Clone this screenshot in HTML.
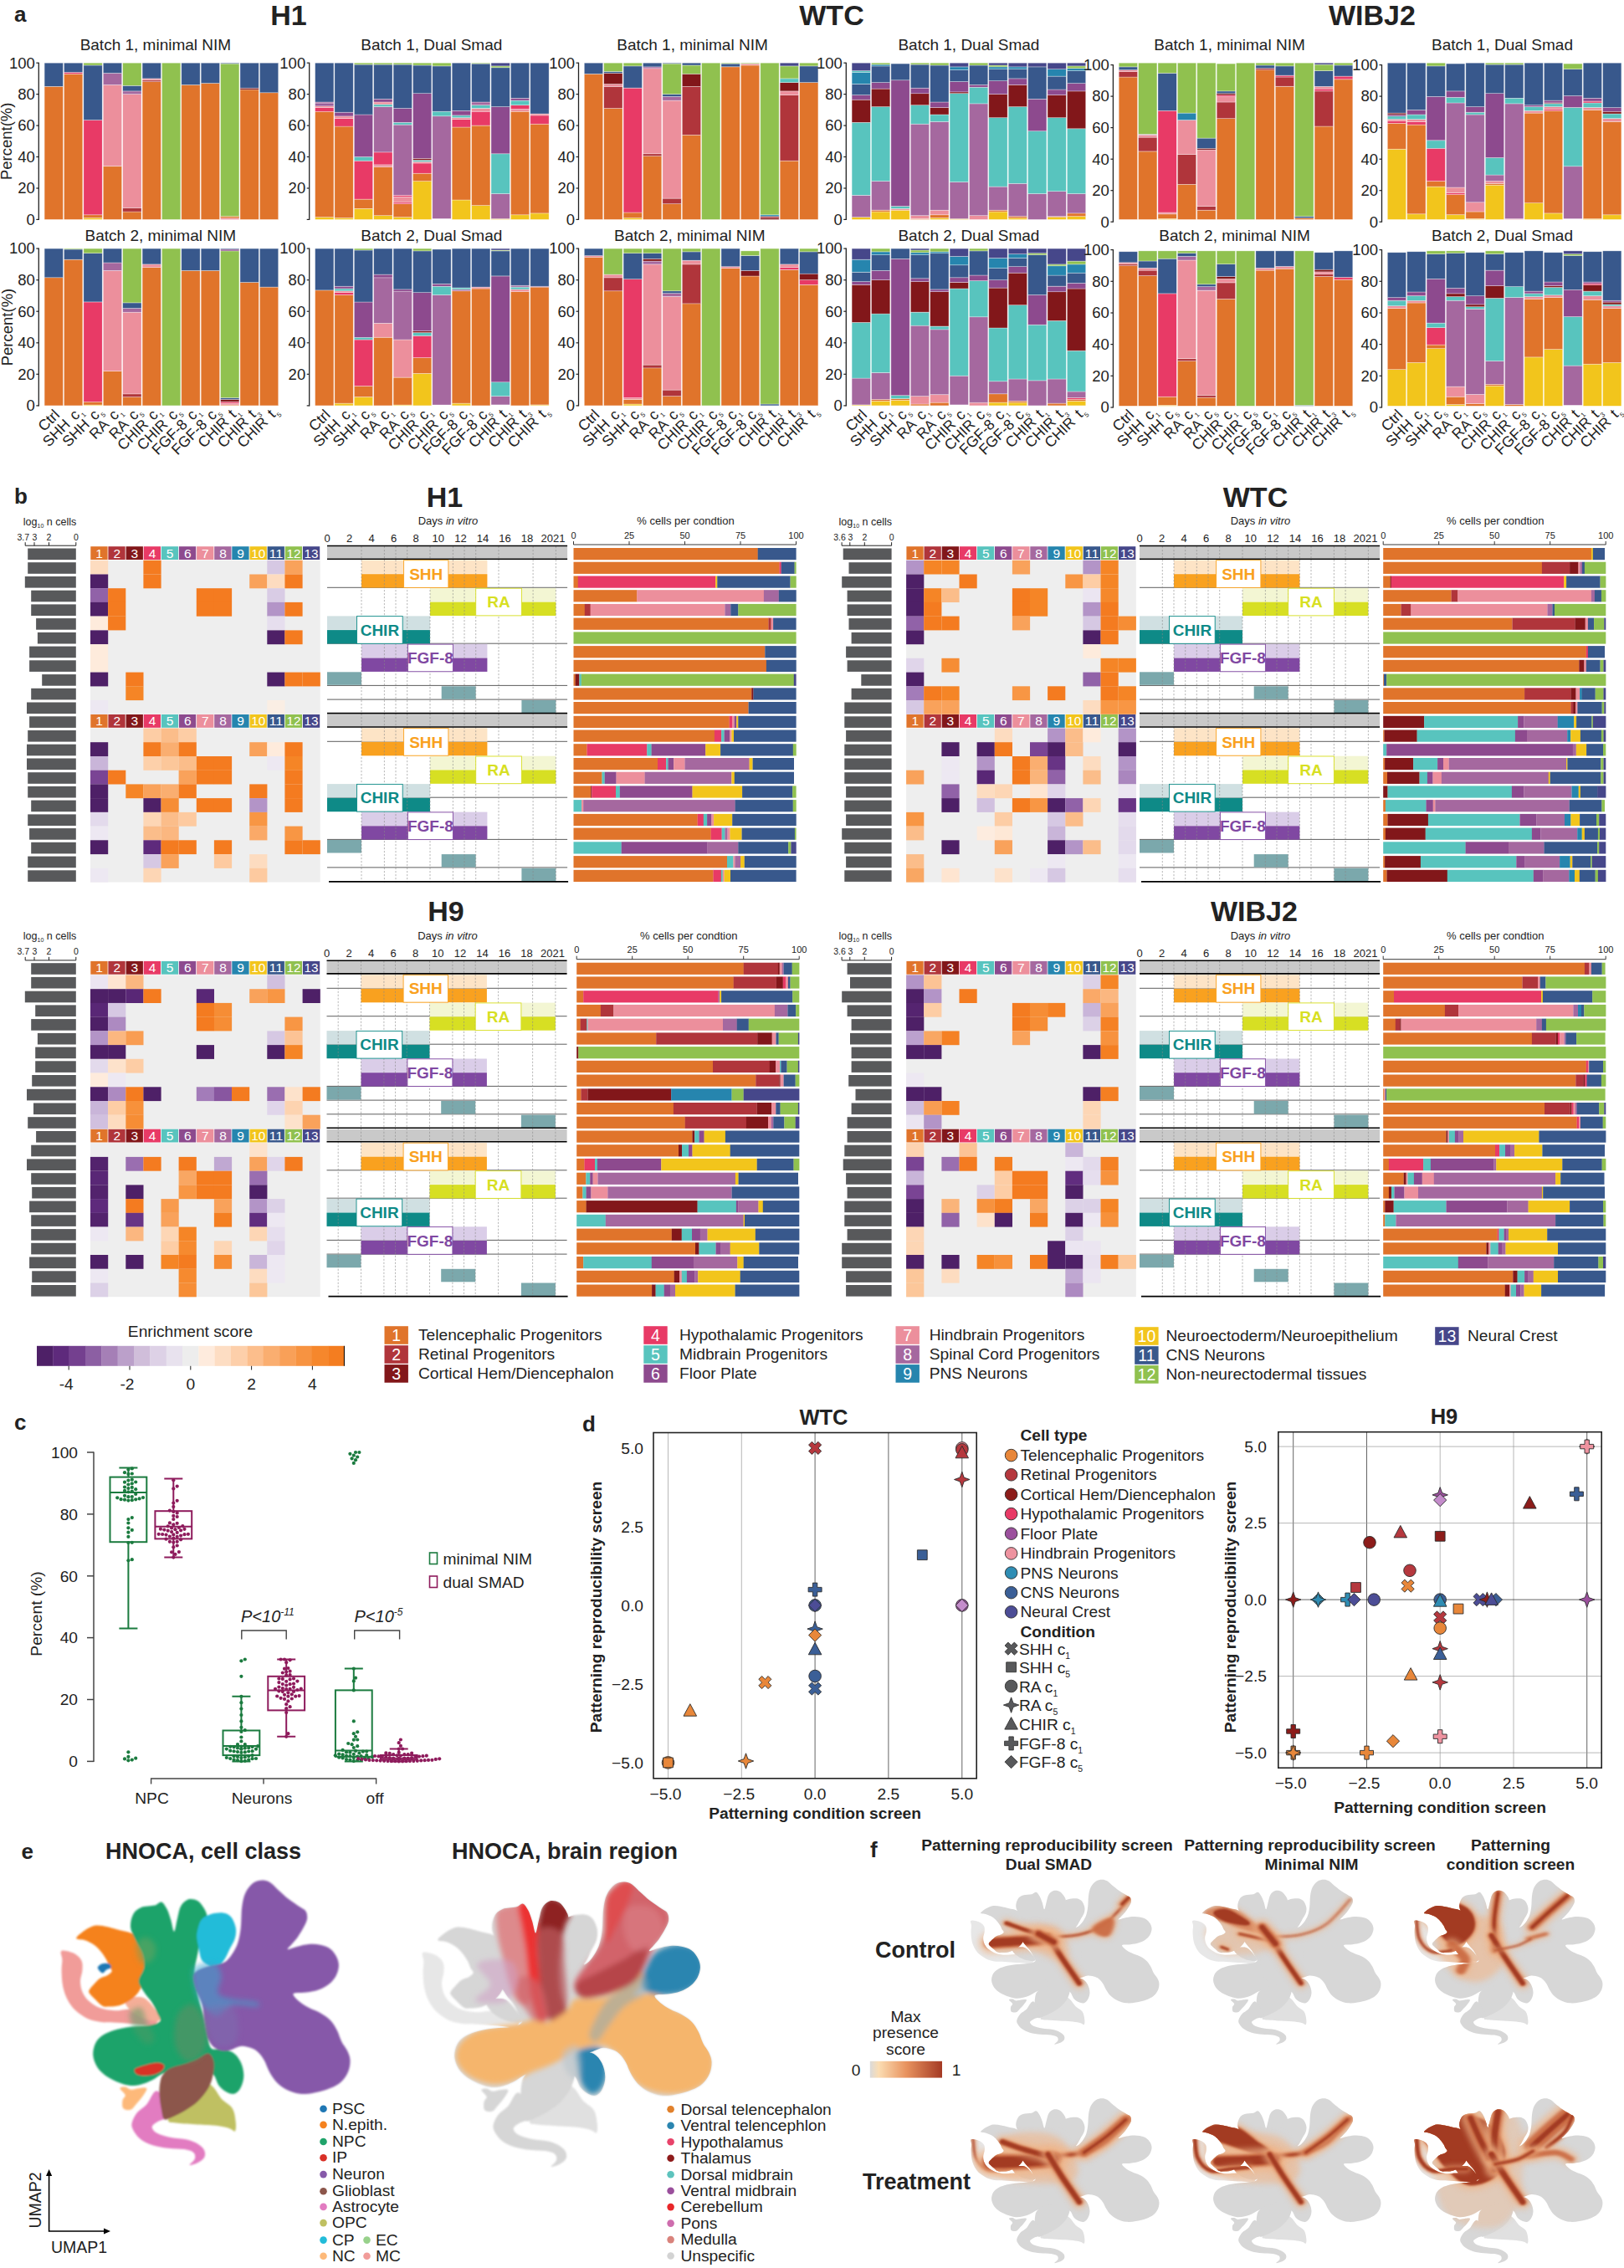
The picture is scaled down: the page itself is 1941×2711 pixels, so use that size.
<!DOCTYPE html><html><head><meta charset="utf-8"><title>Figure</title><style>html,body{margin:0;padding:0;background:#fff}svg{display:block}text{font-family:"Liberation Sans",sans-serif;fill:#222}.o{fill:#E0742B}.r{fill:#B0353B}.d{fill:#82171A}.h{fill:#E83A66}.t{fill:#58C4BE}.f{fill:#8D4A8E}.k{fill:#EC8F9C}.s{fill:#A5689F}.p{fill:#2685AE}.y{fill:#F2C51C}.b{fill:#38588C}.g{fill:#90C14F}.c{fill:#46478A}.w{fill:#FFFFFF}</style></head><body><svg width="1941" height="2711" viewBox="0 0 1941 2711"><g stroke="#fff" stroke-opacity=".55" stroke-width="0.6">
<rect x="53.1" y="103.3" width="22.3" height="159.1" class="o"/>
<rect x="53.1" y="75.2" width="22.3" height="28.1" class="b"/>
<rect x="76.5" y="88.3" width="22.3" height="174.1" class="o"/>
<rect x="76.5" y="86.4" width="22.3" height="1.9" class="h"/>
<rect x="76.5" y="75.2" width="22.3" height="11.2" class="b"/>
<rect x="99.9" y="260.5" width="22.3" height="1.9" class="y"/>
<rect x="99.9" y="256.8" width="22.3" height="3.7" class="o"/>
<rect x="99.9" y="143.5" width="22.3" height="113.3" class="h"/>
<rect x="99.9" y="78" width="22.3" height="65.5" class="b"/>
<rect x="99.9" y="75.2" width="22.3" height="2.8" class="g"/>
<rect x="123.3" y="198.8" width="22.3" height="63.6" class="o"/>
<rect x="123.3" y="101.4" width="22.3" height="97.3" class="k"/>
<rect x="123.3" y="87.4" width="22.3" height="14" class="s"/>
<rect x="123.3" y="75.2" width="22.3" height="12.2" class="b"/>
<rect x="146.7" y="253" width="22.3" height="9.4" class="o"/>
<rect x="146.7" y="248.4" width="22.3" height="4.7" class="r"/>
<rect x="146.7" y="112.6" width="22.3" height="135.7" class="k"/>
<rect x="146.7" y="108.9" width="22.3" height="3.7" class="s"/>
<rect x="146.7" y="102.3" width="22.3" height="6.6" class="b"/>
<rect x="146.7" y="75.2" width="22.3" height="27.1" class="g"/>
<rect x="170.1" y="97.7" width="22.3" height="164.7" class="o"/>
<rect x="170.1" y="95.8" width="22.3" height="1.9" class="r"/>
<rect x="170.1" y="93.9" width="22.3" height="1.9" class="k"/>
<rect x="170.1" y="75.2" width="22.3" height="18.7" class="b"/>
<rect x="193.5" y="75.2" width="22.3" height="187.2" class="g"/>
<rect x="216.8" y="101.4" width="22.3" height="161" class="o"/>
<rect x="216.8" y="75.2" width="22.3" height="26.2" class="b"/>
<rect x="240.2" y="99.5" width="22.3" height="162.9" class="o"/>
<rect x="240.2" y="75.2" width="22.3" height="24.3" class="b"/>
<rect x="263.6" y="260.5" width="22.3" height="1.9" class="k"/>
<rect x="263.6" y="258.7" width="22.3" height="1.9" class="o"/>
<rect x="263.6" y="76.1" width="22.3" height="182.5" class="g"/>
<rect x="263.6" y="75.2" width="22.3" height="0.9" class="b"/>
<rect x="287" y="107" width="22.3" height="155.4" class="o"/>
<rect x="287" y="105.2" width="22.3" height="1.9" class="d"/>
<rect x="287" y="75.2" width="22.3" height="30" class="b"/>
<rect x="310.4" y="110.8" width="22.3" height="151.6" class="o"/>
<rect x="310.4" y="75.2" width="22.3" height="35.6" class="b"/>
<rect x="53.1" y="331.8" width="22.3" height="153.1" class="o"/>
<rect x="53.1" y="297.1" width="22.3" height="34.7" class="b"/>
<rect x="76.5" y="310.2" width="22.3" height="174.7" class="o"/>
<rect x="76.5" y="298" width="22.3" height="12.2" class="b"/>
<rect x="76.5" y="297.1" width="22.3" height="0.9" class="g"/>
<rect x="99.9" y="484" width="22.3" height="0.9" class="y"/>
<rect x="99.9" y="480.2" width="22.3" height="3.8" class="o"/>
<rect x="99.9" y="361" width="22.3" height="119.3" class="h"/>
<rect x="99.9" y="302.7" width="22.3" height="58.2" class="b"/>
<rect x="99.9" y="297.1" width="22.3" height="5.6" class="g"/>
<rect x="123.3" y="443.6" width="22.3" height="41.3" class="o"/>
<rect x="123.3" y="323.4" width="22.3" height="120.2" class="k"/>
<rect x="123.3" y="314" width="22.3" height="9.4" class="s"/>
<rect x="123.3" y="297.1" width="22.3" height="16.9" class="b"/>
<rect x="146.7" y="474.6" width="22.3" height="10.3" class="o"/>
<rect x="146.7" y="470.8" width="22.3" height="3.8" class="r"/>
<rect x="146.7" y="373.2" width="22.3" height="97.7" class="k"/>
<rect x="146.7" y="368.5" width="22.3" height="4.7" class="s"/>
<rect x="146.7" y="361.9" width="22.3" height="6.6" class="b"/>
<rect x="146.7" y="297.1" width="22.3" height="64.8" class="g"/>
<rect x="170.1" y="319.6" width="22.3" height="165.3" class="o"/>
<rect x="170.1" y="315.9" width="22.3" height="3.8" class="k"/>
<rect x="170.1" y="297.1" width="22.3" height="18.8" class="b"/>
<rect x="193.5" y="297.1" width="22.3" height="187.8" class="g"/>
<rect x="216.8" y="323.4" width="22.3" height="161.5" class="o"/>
<rect x="216.8" y="297.1" width="22.3" height="26.3" class="b"/>
<rect x="240.2" y="323.4" width="22.3" height="161.5" class="o"/>
<rect x="240.2" y="297.1" width="22.3" height="26.3" class="b"/>
<rect x="263.6" y="484" width="22.3" height="0.9" class="o"/>
<rect x="263.6" y="482.1" width="22.3" height="1.9" class="k"/>
<rect x="263.6" y="480.2" width="22.3" height="1.9" class="h"/>
<rect x="263.6" y="477.4" width="22.3" height="2.8" class="d"/>
<rect x="263.6" y="475.5" width="22.3" height="1.9" class="b"/>
<rect x="263.6" y="299.9" width="22.3" height="175.6" class="g"/>
<rect x="263.6" y="298" width="22.3" height="1.9" class="f"/>
<rect x="263.6" y="297.1" width="22.3" height="0.9" class="b"/>
<rect x="287" y="337.5" width="22.3" height="147.4" class="o"/>
<rect x="287" y="297.1" width="22.3" height="40.4" class="b"/>
<rect x="310.4" y="343.1" width="22.3" height="141.8" class="o"/>
<rect x="310.4" y="297.1" width="22.3" height="46" class="b"/>
<rect x="376.6" y="259.6" width="22.3" height="2.8" class="y"/>
<rect x="376.6" y="133.2" width="22.3" height="126.4" class="o"/>
<rect x="376.6" y="128.6" width="22.3" height="4.7" class="h"/>
<rect x="376.6" y="126.7" width="22.3" height="1.9" class="k"/>
<rect x="376.6" y="123.9" width="22.3" height="2.8" class="f"/>
<rect x="376.6" y="122" width="22.3" height="1.9" class="s"/>
<rect x="376.6" y="75.2" width="22.3" height="46.8" class="b"/>
<rect x="399.9" y="260.5" width="22.3" height="1.9" class="y"/>
<rect x="399.9" y="151" width="22.3" height="109.5" class="o"/>
<rect x="399.9" y="141.7" width="22.3" height="9.4" class="h"/>
<rect x="399.9" y="138.8" width="22.3" height="2.8" class="k"/>
<rect x="399.9" y="134.2" width="22.3" height="4.7" class="f"/>
<rect x="399.9" y="75.2" width="22.3" height="59" class="b"/>
<rect x="423.3" y="249.3" width="22.3" height="13.1" class="y"/>
<rect x="423.3" y="238.1" width="22.3" height="11.2" class="o"/>
<rect x="423.3" y="192.2" width="22.3" height="45.9" class="h"/>
<rect x="423.3" y="187.5" width="22.3" height="4.7" class="t"/>
<rect x="423.3" y="137" width="22.3" height="50.5" class="f"/>
<rect x="423.3" y="77.1" width="22.3" height="59.9" class="b"/>
<rect x="423.3" y="75.2" width="22.3" height="1.9" class="g"/>
<rect x="446.7" y="257.7" width="22.3" height="4.7" class="y"/>
<rect x="446.7" y="199.7" width="22.3" height="58" class="o"/>
<rect x="446.7" y="196.9" width="22.3" height="2.8" class="k"/>
<rect x="446.7" y="181.9" width="22.3" height="15" class="h"/>
<rect x="446.7" y="127.6" width="22.3" height="54.3" class="s"/>
<rect x="446.7" y="124.8" width="22.3" height="2.8" class="t"/>
<rect x="446.7" y="122" width="22.3" height="2.8" class="k"/>
<rect x="446.7" y="118.3" width="22.3" height="3.7" class="f"/>
<rect x="446.7" y="77.1" width="22.3" height="41.2" class="b"/>
<rect x="446.7" y="75.2" width="22.3" height="1.9" class="g"/>
<rect x="470.1" y="259.6" width="22.3" height="2.8" class="y"/>
<rect x="470.1" y="243.7" width="22.3" height="15.9" class="o"/>
<rect x="470.1" y="241.8" width="22.3" height="1.9" class="h"/>
<rect x="470.1" y="235.3" width="22.3" height="6.6" class="k"/>
<rect x="470.1" y="233.4" width="22.3" height="1.9" class="h"/>
<rect x="470.1" y="149.1" width="22.3" height="84.2" class="s"/>
<rect x="470.1" y="146.3" width="22.3" height="2.8" class="t"/>
<rect x="470.1" y="129.5" width="22.3" height="16.8" class="f"/>
<rect x="470.1" y="77.1" width="22.3" height="52.4" class="b"/>
<rect x="470.1" y="75.2" width="22.3" height="1.9" class="g"/>
<rect x="493.5" y="216.5" width="22.3" height="45.9" class="y"/>
<rect x="493.5" y="207.2" width="22.3" height="9.4" class="o"/>
<rect x="493.5" y="195" width="22.3" height="12.2" class="h"/>
<rect x="493.5" y="193.1" width="22.3" height="1.9" class="k"/>
<rect x="493.5" y="191.3" width="22.3" height="1.9" class="t"/>
<rect x="493.5" y="189.4" width="22.3" height="1.9" class="d"/>
<rect x="493.5" y="111.7" width="22.3" height="77.7" class="f"/>
<rect x="493.5" y="78" width="22.3" height="33.7" class="b"/>
<rect x="493.5" y="75.2" width="22.3" height="2.8" class="g"/>
<rect x="516.8" y="138.8" width="22.3" height="122.6" class="s"/>
<rect x="516.8" y="133.2" width="22.3" height="5.6" class="t"/>
<rect x="516.8" y="78.9" width="22.3" height="54.3" class="b"/>
<rect x="516.8" y="75.2" width="22.3" height="3.7" class="g"/>
<rect x="540.2" y="239" width="22.3" height="23.4" class="y"/>
<rect x="540.2" y="152" width="22.3" height="87" class="o"/>
<rect x="540.2" y="142.6" width="22.3" height="9.4" class="h"/>
<rect x="540.2" y="140.7" width="22.3" height="1.9" class="k"/>
<rect x="540.2" y="137.9" width="22.3" height="2.8" class="t"/>
<rect x="540.2" y="132.3" width="22.3" height="5.6" class="f"/>
<rect x="540.2" y="75.2" width="22.3" height="57.1" class="b"/>
<rect x="563.6" y="245.6" width="22.3" height="16.8" class="y"/>
<rect x="563.6" y="150.1" width="22.3" height="95.5" class="o"/>
<rect x="563.6" y="133.2" width="22.3" height="16.8" class="h"/>
<rect x="563.6" y="129.5" width="22.3" height="3.7" class="k"/>
<rect x="563.6" y="125.7" width="22.3" height="3.7" class="t"/>
<rect x="563.6" y="122" width="22.3" height="3.7" class="s"/>
<rect x="563.6" y="76.1" width="22.3" height="45.9" class="b"/>
<rect x="563.6" y="75.2" width="22.3" height="0.9" class="g"/>
<rect x="587" y="261.5" width="22.3" height="0.9" class="y"/>
<rect x="587" y="231.5" width="22.3" height="30" class="s"/>
<rect x="587" y="183.8" width="22.3" height="47.7" class="t"/>
<rect x="587" y="127.6" width="22.3" height="56.2" class="f"/>
<rect x="587" y="80.8" width="22.3" height="46.8" class="b"/>
<rect x="587" y="78.9" width="22.3" height="1.9" class="g"/>
<rect x="587" y="75.2" width="22.3" height="3.7" class="c"/>
<rect x="610.4" y="256.8" width="22.3" height="5.6" class="y"/>
<rect x="610.4" y="133.2" width="22.3" height="123.6" class="o"/>
<rect x="610.4" y="130.4" width="22.3" height="2.8" class="k"/>
<rect x="610.4" y="125.7" width="22.3" height="4.7" class="h"/>
<rect x="610.4" y="120.1" width="22.3" height="5.6" class="t"/>
<rect x="610.4" y="117.3" width="22.3" height="2.8" class="f"/>
<rect x="610.4" y="75.2" width="22.3" height="42.1" class="b"/>
<rect x="633.8" y="254.9" width="22.3" height="7.5" class="y"/>
<rect x="633.8" y="148.2" width="22.3" height="106.7" class="o"/>
<rect x="633.8" y="137.9" width="22.3" height="10.3" class="h"/>
<rect x="633.8" y="136" width="22.3" height="1.9" class="k"/>
<rect x="633.8" y="75.2" width="22.3" height="60.8" class="b"/>
<rect x="376.6" y="346.9" width="22.3" height="138" class="o"/>
<rect x="376.6" y="297.1" width="22.3" height="49.8" class="b"/>
<rect x="399.9" y="482.1" width="22.3" height="2.8" class="y"/>
<rect x="399.9" y="352.5" width="22.3" height="129.6" class="o"/>
<rect x="399.9" y="349.7" width="22.3" height="2.8" class="h"/>
<rect x="399.9" y="347.8" width="22.3" height="1.9" class="k"/>
<rect x="399.9" y="345" width="22.3" height="2.8" class="t"/>
<rect x="399.9" y="342.2" width="22.3" height="2.8" class="f"/>
<rect x="399.9" y="297.1" width="22.3" height="45.1" class="b"/>
<rect x="423.3" y="474.6" width="22.3" height="10.3" class="y"/>
<rect x="423.3" y="461.4" width="22.3" height="13.1" class="o"/>
<rect x="423.3" y="406" width="22.3" height="55.4" class="h"/>
<rect x="423.3" y="403.2" width="22.3" height="2.8" class="t"/>
<rect x="423.3" y="361" width="22.3" height="42.3" class="f"/>
<rect x="423.3" y="299" width="22.3" height="62" class="b"/>
<rect x="423.3" y="297.1" width="22.3" height="1.9" class="g"/>
<rect x="446.7" y="403.2" width="22.3" height="81.7" class="o"/>
<rect x="446.7" y="386.3" width="22.3" height="16.9" class="k"/>
<rect x="446.7" y="331.8" width="22.3" height="54.5" class="s"/>
<rect x="446.7" y="328.1" width="22.3" height="3.8" class="f"/>
<rect x="446.7" y="297.1" width="22.3" height="31" class="b"/>
<rect x="470.1" y="484" width="22.3" height="0.9" class="y"/>
<rect x="470.1" y="451.1" width="22.3" height="32.9" class="o"/>
<rect x="470.1" y="406" width="22.3" height="45.1" class="k"/>
<rect x="470.1" y="348.7" width="22.3" height="57.3" class="s"/>
<rect x="470.1" y="345.9" width="22.3" height="2.8" class="f"/>
<rect x="470.1" y="297.1" width="22.3" height="48.8" class="b"/>
<rect x="493.5" y="446.4" width="22.3" height="38.5" class="y"/>
<rect x="493.5" y="427.6" width="22.3" height="18.8" class="o"/>
<rect x="493.5" y="401.3" width="22.3" height="26.3" class="h"/>
<rect x="493.5" y="397.6" width="22.3" height="3.8" class="t"/>
<rect x="493.5" y="395.7" width="22.3" height="1.9" class="d"/>
<rect x="493.5" y="349.7" width="22.3" height="46" class="f"/>
<rect x="493.5" y="299.9" width="22.3" height="49.8" class="b"/>
<rect x="493.5" y="297.1" width="22.3" height="2.8" class="g"/>
<rect x="516.8" y="352.5" width="22.3" height="131.5" class="s"/>
<rect x="516.8" y="342.2" width="22.3" height="10.3" class="t"/>
<rect x="516.8" y="339.4" width="22.3" height="2.8" class="f"/>
<rect x="516.8" y="298" width="22.3" height="41.3" class="b"/>
<rect x="540.2" y="482.1" width="22.3" height="2.8" class="y"/>
<rect x="540.2" y="347.8" width="22.3" height="134.3" class="o"/>
<rect x="540.2" y="345.9" width="22.3" height="1.9" class="s"/>
<rect x="540.2" y="344.1" width="22.3" height="1.9" class="t"/>
<rect x="540.2" y="297.1" width="22.3" height="46.9" class="b"/>
<rect x="563.6" y="345" width="22.3" height="139.9" class="o"/>
<rect x="563.6" y="343.1" width="22.3" height="1.9" class="k"/>
<rect x="563.6" y="297.1" width="22.3" height="46" class="b"/>
<rect x="587" y="473.6" width="22.3" height="10.3" class="s"/>
<rect x="587" y="456.7" width="22.3" height="16.9" class="t"/>
<rect x="587" y="330" width="22.3" height="126.8" class="f"/>
<rect x="587" y="299.9" width="22.3" height="30" class="b"/>
<rect x="587" y="299" width="22.3" height="0.9" class="g"/>
<rect x="587" y="297.1" width="22.3" height="1.9" class="c"/>
<rect x="610.4" y="348.7" width="22.3" height="136.2" class="o"/>
<rect x="610.4" y="345.9" width="22.3" height="2.8" class="k"/>
<rect x="610.4" y="343.1" width="22.3" height="2.8" class="t"/>
<rect x="610.4" y="341.2" width="22.3" height="1.9" class="s"/>
<rect x="610.4" y="297.1" width="22.3" height="44.1" class="b"/>
<rect x="633.8" y="484" width="22.3" height="0.9" class="y"/>
<rect x="633.8" y="343.1" width="22.3" height="140.8" class="o"/>
<rect x="633.8" y="342.2" width="22.3" height="0.9" class="f"/>
<rect x="633.8" y="297.1" width="22.3" height="45.1" class="b"/>
<rect x="698.3" y="88.3" width="22.3" height="174.1" class="o"/>
<rect x="698.3" y="75.2" width="22.3" height="13.1" class="b"/>
<rect x="721.7" y="129.5" width="22.3" height="132.9" class="o"/>
<rect x="721.7" y="103.3" width="22.3" height="26.2" class="r"/>
<rect x="721.7" y="100.5" width="22.3" height="2.8" class="k"/>
<rect x="721.7" y="87.4" width="22.3" height="13.1" class="d"/>
<rect x="721.7" y="85.5" width="22.3" height="1.9" class="b"/>
<rect x="721.7" y="75.2" width="22.3" height="10.3" class="g"/>
<rect x="745.1" y="260.5" width="22.3" height="1.9" class="y"/>
<rect x="745.1" y="254" width="22.3" height="6.6" class="o"/>
<rect x="745.1" y="105.2" width="22.3" height="148.8" class="h"/>
<rect x="745.1" y="78.9" width="22.3" height="26.2" class="b"/>
<rect x="745.1" y="75.2" width="22.3" height="3.7" class="g"/>
<rect x="768.5" y="186.6" width="22.3" height="75.8" class="o"/>
<rect x="768.5" y="183.8" width="22.3" height="2.8" class="r"/>
<rect x="768.5" y="81.8" width="22.3" height="102" class="k"/>
<rect x="768.5" y="79.9" width="22.3" height="1.9" class="s"/>
<rect x="768.5" y="75.2" width="22.3" height="4.7" class="b"/>
<rect x="791.9" y="243.7" width="22.3" height="18.7" class="o"/>
<rect x="791.9" y="237.1" width="22.3" height="6.6" class="r"/>
<rect x="791.9" y="120.1" width="22.3" height="117" class="k"/>
<rect x="791.9" y="115.4" width="22.3" height="4.7" class="s"/>
<rect x="791.9" y="112.6" width="22.3" height="2.8" class="b"/>
<rect x="791.9" y="76.1" width="22.3" height="36.5" class="g"/>
<rect x="791.9" y="75.2" width="22.3" height="0.9" class="b"/>
<rect x="815.3" y="161.3" width="22.3" height="101.1" class="o"/>
<rect x="815.3" y="103.3" width="22.3" height="58" class="r"/>
<rect x="815.3" y="88.3" width="22.3" height="15" class="d"/>
<rect x="815.3" y="78" width="22.3" height="10.3" class="g"/>
<rect x="815.3" y="75.2" width="22.3" height="2.8" class="b"/>
<rect x="838.6" y="75.2" width="22.3" height="187.2" class="g"/>
<rect x="862" y="79.9" width="22.3" height="182.5" class="o"/>
<rect x="862" y="76.1" width="22.3" height="3.7" class="b"/>
<rect x="862" y="75.2" width="22.3" height="0.9" class="g"/>
<rect x="885.4" y="78" width="22.3" height="184.4" class="o"/>
<rect x="885.4" y="76.1" width="22.3" height="1.9" class="k"/>
<rect x="885.4" y="75.2" width="22.3" height="0.9" class="g"/>
<rect x="908.8" y="260.5" width="22.3" height="1.9" class="d"/>
<rect x="908.8" y="258.7" width="22.3" height="1.9" class="r"/>
<rect x="908.8" y="256.8" width="22.3" height="1.9" class="p"/>
<rect x="908.8" y="75.2" width="22.3" height="181.6" class="g"/>
<rect x="932.2" y="192.2" width="22.3" height="70.2" class="o"/>
<rect x="932.2" y="113.6" width="22.3" height="78.6" class="r"/>
<rect x="932.2" y="108.9" width="22.3" height="4.7" class="k"/>
<rect x="932.2" y="98.6" width="22.3" height="10.3" class="d"/>
<rect x="932.2" y="93.9" width="22.3" height="4.7" class="t"/>
<rect x="932.2" y="78.9" width="22.3" height="15" class="g"/>
<rect x="932.2" y="75.2" width="22.3" height="3.7" class="c"/>
<rect x="955.6" y="98.6" width="22.3" height="163.8" class="o"/>
<rect x="955.6" y="78.9" width="22.3" height="19.7" class="b"/>
<rect x="955.6" y="75.2" width="22.3" height="3.7" class="g"/>
<rect x="698.3" y="307.4" width="22.3" height="177.5" class="o"/>
<rect x="698.3" y="305.6" width="22.3" height="1.9" class="k"/>
<rect x="698.3" y="297.1" width="22.3" height="8.5" class="b"/>
<rect x="721.7" y="347.8" width="22.3" height="137.1" class="o"/>
<rect x="721.7" y="331.8" width="22.3" height="16" class="r"/>
<rect x="721.7" y="328.1" width="22.3" height="3.8" class="k"/>
<rect x="721.7" y="297.1" width="22.3" height="31" class="g"/>
<rect x="745.1" y="483" width="22.3" height="1.9" class="y"/>
<rect x="745.1" y="477.4" width="22.3" height="5.6" class="o"/>
<rect x="745.1" y="475.5" width="22.3" height="1.9" class="k"/>
<rect x="745.1" y="333.7" width="22.3" height="141.8" class="h"/>
<rect x="745.1" y="302.7" width="22.3" height="31" class="b"/>
<rect x="745.1" y="297.1" width="22.3" height="5.6" class="g"/>
<rect x="768.5" y="439.8" width="22.3" height="45.1" class="o"/>
<rect x="768.5" y="436.1" width="22.3" height="3.8" class="r"/>
<rect x="768.5" y="315.9" width="22.3" height="120.2" class="k"/>
<rect x="768.5" y="312.1" width="22.3" height="3.8" class="s"/>
<rect x="768.5" y="309.3" width="22.3" height="2.8" class="d"/>
<rect x="768.5" y="302.7" width="22.3" height="6.6" class="b"/>
<rect x="768.5" y="297.1" width="22.3" height="5.6" class="g"/>
<rect x="791.9" y="473.6" width="22.3" height="11.3" class="o"/>
<rect x="791.9" y="466.1" width="22.3" height="7.5" class="r"/>
<rect x="791.9" y="354.4" width="22.3" height="111.7" class="k"/>
<rect x="791.9" y="350.6" width="22.3" height="3.8" class="s"/>
<rect x="791.9" y="347.8" width="22.3" height="2.8" class="b"/>
<rect x="791.9" y="297.1" width="22.3" height="50.7" class="g"/>
<rect x="815.3" y="362.8" width="22.3" height="122.1" class="o"/>
<rect x="815.3" y="315.9" width="22.3" height="47" class="r"/>
<rect x="815.3" y="311.2" width="22.3" height="4.7" class="k"/>
<rect x="815.3" y="300.9" width="22.3" height="10.3" class="b"/>
<rect x="815.3" y="297.1" width="22.3" height="3.8" class="g"/>
<rect x="838.6" y="297.1" width="22.3" height="187.8" class="g"/>
<rect x="862" y="320.6" width="22.3" height="164.3" class="o"/>
<rect x="862" y="318.7" width="22.3" height="1.9" class="k"/>
<rect x="862" y="297.1" width="22.3" height="21.6" class="b"/>
<rect x="885.4" y="330" width="22.3" height="154.9" class="o"/>
<rect x="885.4" y="323.4" width="22.3" height="6.6" class="d"/>
<rect x="885.4" y="305.6" width="22.3" height="17.8" class="b"/>
<rect x="885.4" y="299.9" width="22.3" height="5.6" class="g"/>
<rect x="908.8" y="483" width="22.3" height="1.9" class="b"/>
<rect x="908.8" y="297.1" width="22.3" height="185.9" class="g"/>
<rect x="932.2" y="322.5" width="22.3" height="162.4" class="o"/>
<rect x="932.2" y="319.6" width="22.3" height="2.8" class="h"/>
<rect x="932.2" y="315.9" width="22.3" height="3.8" class="k"/>
<rect x="932.2" y="297.1" width="22.3" height="18.8" class="b"/>
<rect x="955.6" y="340.3" width="22.3" height="144.6" class="o"/>
<rect x="955.6" y="334.7" width="22.3" height="5.6" class="h"/>
<rect x="955.6" y="327.1" width="22.3" height="7.5" class="d"/>
<rect x="955.6" y="300.9" width="22.3" height="26.3" class="b"/>
<rect x="955.6" y="297.1" width="22.3" height="3.8" class="g"/>
<rect x="1018.1" y="259.6" width="22.3" height="2.8" class="y"/>
<rect x="1018.1" y="233.4" width="22.3" height="26.2" class="s"/>
<rect x="1018.1" y="146.3" width="22.3" height="87" class="t"/>
<rect x="1018.1" y="119.2" width="22.3" height="27.1" class="d"/>
<rect x="1018.1" y="113.6" width="22.3" height="5.6" class="f"/>
<rect x="1018.1" y="100.5" width="22.3" height="13.1" class="b"/>
<rect x="1018.1" y="86.4" width="22.3" height="14" class="p"/>
<rect x="1018.1" y="84.6" width="22.3" height="1.9" class="t"/>
<rect x="1018.1" y="75.2" width="22.3" height="9.4" class="c"/>
<rect x="1041.5" y="253" width="22.3" height="9.4" class="y"/>
<rect x="1041.5" y="251.2" width="22.3" height="1.9" class="o"/>
<rect x="1041.5" y="216.5" width="22.3" height="34.6" class="s"/>
<rect x="1041.5" y="127.6" width="22.3" height="88.9" class="t"/>
<rect x="1041.5" y="106.1" width="22.3" height="21.5" class="d"/>
<rect x="1041.5" y="98.6" width="22.3" height="7.5" class="f"/>
<rect x="1041.5" y="78.9" width="22.3" height="19.7" class="b"/>
<rect x="1041.5" y="77.1" width="22.3" height="1.9" class="p"/>
<rect x="1041.5" y="75.2" width="22.3" height="1.9" class="g"/>
<rect x="1064.9" y="251.2" width="22.3" height="11.2" class="y"/>
<rect x="1064.9" y="249.3" width="22.3" height="1.9" class="k"/>
<rect x="1064.9" y="246.5" width="22.3" height="2.8" class="t"/>
<rect x="1064.9" y="95.8" width="22.3" height="150.7" class="f"/>
<rect x="1064.9" y="76.1" width="22.3" height="19.7" class="b"/>
<rect x="1088.3" y="261.5" width="22.3" height="0.9" class="o"/>
<rect x="1088.3" y="257.7" width="22.3" height="3.7" class="k"/>
<rect x="1088.3" y="148.2" width="22.3" height="109.5" class="s"/>
<rect x="1088.3" y="125.7" width="22.3" height="22.5" class="t"/>
<rect x="1088.3" y="111.7" width="22.3" height="14" class="d"/>
<rect x="1088.3" y="105.2" width="22.3" height="6.6" class="f"/>
<rect x="1088.3" y="77.1" width="22.3" height="28.1" class="b"/>
<rect x="1088.3" y="75.2" width="22.3" height="1.9" class="g"/>
<rect x="1111.7" y="260.5" width="22.3" height="1.9" class="y"/>
<rect x="1111.7" y="256.8" width="22.3" height="3.7" class="o"/>
<rect x="1111.7" y="251.2" width="22.3" height="5.6" class="k"/>
<rect x="1111.7" y="145.4" width="22.3" height="105.8" class="s"/>
<rect x="1111.7" y="137" width="22.3" height="8.4" class="t"/>
<rect x="1111.7" y="128.6" width="22.3" height="8.4" class="d"/>
<rect x="1111.7" y="122" width="22.3" height="6.6" class="f"/>
<rect x="1111.7" y="78" width="22.3" height="44" class="b"/>
<rect x="1111.7" y="75.2" width="22.3" height="2.8" class="g"/>
<rect x="1135.1" y="261.5" width="22.3" height="0.9" class="y"/>
<rect x="1135.1" y="217.5" width="22.3" height="44" class="s"/>
<rect x="1135.1" y="111.7" width="22.3" height="105.8" class="t"/>
<rect x="1135.1" y="109.8" width="22.3" height="1.9" class="d"/>
<rect x="1135.1" y="97.7" width="22.3" height="12.2" class="f"/>
<rect x="1135.1" y="83.6" width="22.3" height="14" class="b"/>
<rect x="1135.1" y="79.9" width="22.3" height="3.7" class="p"/>
<rect x="1135.1" y="75.2" width="22.3" height="4.7" class="c"/>
<rect x="1158.5" y="257.7" width="22.3" height="4.7" class="k"/>
<rect x="1158.5" y="123.9" width="22.3" height="133.8" class="s"/>
<rect x="1158.5" y="104.2" width="22.3" height="19.7" class="t"/>
<rect x="1158.5" y="101.4" width="22.3" height="2.8" class="f"/>
<rect x="1158.5" y="78" width="22.3" height="23.4" class="b"/>
<rect x="1158.5" y="75.2" width="22.3" height="2.8" class="g"/>
<rect x="1181.8" y="253" width="22.3" height="9.4" class="y"/>
<rect x="1181.8" y="251.2" width="22.3" height="1.9" class="o"/>
<rect x="1181.8" y="223.1" width="22.3" height="28.1" class="s"/>
<rect x="1181.8" y="140.7" width="22.3" height="82.4" class="t"/>
<rect x="1181.8" y="112.6" width="22.3" height="28.1" class="d"/>
<rect x="1181.8" y="96.7" width="22.3" height="15.9" class="f"/>
<rect x="1181.8" y="82.7" width="22.3" height="14" class="b"/>
<rect x="1181.8" y="79.9" width="22.3" height="2.8" class="p"/>
<rect x="1181.8" y="78" width="22.3" height="1.9" class="g"/>
<rect x="1181.8" y="75.2" width="22.3" height="2.8" class="c"/>
<rect x="1205.2" y="260.5" width="22.3" height="1.9" class="y"/>
<rect x="1205.2" y="258.7" width="22.3" height="1.9" class="o"/>
<rect x="1205.2" y="219.3" width="22.3" height="39.3" class="s"/>
<rect x="1205.2" y="127.6" width="22.3" height="91.7" class="t"/>
<rect x="1205.2" y="101.4" width="22.3" height="26.2" class="d"/>
<rect x="1205.2" y="93.9" width="22.3" height="7.5" class="f"/>
<rect x="1205.2" y="82.7" width="22.3" height="11.2" class="b"/>
<rect x="1205.2" y="79.9" width="22.3" height="2.8" class="p"/>
<rect x="1205.2" y="75.2" width="22.3" height="4.7" class="c"/>
<rect x="1228.6" y="231.5" width="22.3" height="30.9" class="s"/>
<rect x="1228.6" y="156.6" width="22.3" height="74.9" class="t"/>
<rect x="1228.6" y="118.3" width="22.3" height="38.4" class="f"/>
<rect x="1228.6" y="79.9" width="22.3" height="38.4" class="b"/>
<rect x="1228.6" y="75.2" width="22.3" height="4.7" class="c"/>
<rect x="1252" y="259.6" width="22.3" height="2.8" class="y"/>
<rect x="1252" y="258.7" width="22.3" height="0.9" class="o"/>
<rect x="1252" y="228.7" width="22.3" height="30" class="s"/>
<rect x="1252" y="140.7" width="22.3" height="88" class="t"/>
<rect x="1252" y="113.6" width="22.3" height="27.1" class="d"/>
<rect x="1252" y="107" width="22.3" height="6.6" class="f"/>
<rect x="1252" y="91.1" width="22.3" height="15.9" class="b"/>
<rect x="1252" y="82.7" width="22.3" height="8.4" class="p"/>
<rect x="1252" y="75.2" width="22.3" height="7.5" class="c"/>
<rect x="1275.4" y="258.7" width="22.3" height="3.7" class="y"/>
<rect x="1275.4" y="254.9" width="22.3" height="3.7" class="o"/>
<rect x="1275.4" y="231.5" width="22.3" height="23.4" class="s"/>
<rect x="1275.4" y="153.8" width="22.3" height="77.7" class="t"/>
<rect x="1275.4" y="108.9" width="22.3" height="44.9" class="d"/>
<rect x="1275.4" y="99.5" width="22.3" height="9.4" class="f"/>
<rect x="1275.4" y="84.6" width="22.3" height="15" class="b"/>
<rect x="1275.4" y="81.8" width="22.3" height="2.8" class="p"/>
<rect x="1275.4" y="78.9" width="22.3" height="2.8" class="g"/>
<rect x="1275.4" y="75.2" width="22.3" height="3.7" class="c"/>
<rect x="1018.1" y="484" width="22.3" height="0.9" class="y"/>
<rect x="1018.1" y="452" width="22.3" height="31.9" class="s"/>
<rect x="1018.1" y="385.4" width="22.3" height="66.7" class="t"/>
<rect x="1018.1" y="340.3" width="22.3" height="45.1" class="d"/>
<rect x="1018.1" y="336.5" width="22.3" height="3.8" class="f"/>
<rect x="1018.1" y="325.3" width="22.3" height="11.3" class="b"/>
<rect x="1018.1" y="310.2" width="22.3" height="15" class="p"/>
<rect x="1018.1" y="297.1" width="22.3" height="13.1" class="c"/>
<rect x="1041.5" y="479.3" width="22.3" height="5.6" class="y"/>
<rect x="1041.5" y="477.4" width="22.3" height="1.9" class="o"/>
<rect x="1041.5" y="445.5" width="22.3" height="31.9" class="s"/>
<rect x="1041.5" y="375" width="22.3" height="70.4" class="t"/>
<rect x="1041.5" y="334.7" width="22.3" height="40.4" class="d"/>
<rect x="1041.5" y="323.4" width="22.3" height="11.3" class="f"/>
<rect x="1041.5" y="304.6" width="22.3" height="18.8" class="b"/>
<rect x="1041.5" y="300.9" width="22.3" height="3.8" class="p"/>
<rect x="1041.5" y="297.1" width="22.3" height="3.8" class="g"/>
<rect x="1064.9" y="478.3" width="22.3" height="6.6" class="y"/>
<rect x="1064.9" y="476.4" width="22.3" height="1.9" class="o"/>
<rect x="1064.9" y="472.7" width="22.3" height="3.8" class="t"/>
<rect x="1064.9" y="309.3" width="22.3" height="163.4" class="f"/>
<rect x="1064.9" y="297.1" width="22.3" height="12.2" class="b"/>
<rect x="1088.3" y="483" width="22.3" height="1.9" class="o"/>
<rect x="1088.3" y="473.6" width="22.3" height="9.4" class="k"/>
<rect x="1088.3" y="389.1" width="22.3" height="84.5" class="s"/>
<rect x="1088.3" y="373.2" width="22.3" height="16" class="t"/>
<rect x="1088.3" y="336.5" width="22.3" height="36.6" class="d"/>
<rect x="1088.3" y="332.8" width="22.3" height="3.8" class="f"/>
<rect x="1088.3" y="304.6" width="22.3" height="28.2" class="b"/>
<rect x="1088.3" y="301.8" width="22.3" height="2.8" class="p"/>
<rect x="1088.3" y="299" width="22.3" height="2.8" class="g"/>
<rect x="1088.3" y="297.1" width="22.3" height="1.9" class="c"/>
<rect x="1111.7" y="481.1" width="22.3" height="3.8" class="o"/>
<rect x="1111.7" y="471.8" width="22.3" height="9.4" class="k"/>
<rect x="1111.7" y="393.8" width="22.3" height="77.9" class="s"/>
<rect x="1111.7" y="390.1" width="22.3" height="3.8" class="t"/>
<rect x="1111.7" y="348.7" width="22.3" height="41.3" class="d"/>
<rect x="1111.7" y="345.9" width="22.3" height="2.8" class="f"/>
<rect x="1111.7" y="302.7" width="22.3" height="43.2" class="b"/>
<rect x="1111.7" y="300.9" width="22.3" height="1.9" class="p"/>
<rect x="1111.7" y="297.1" width="22.3" height="3.8" class="g"/>
<rect x="1135.1" y="449.2" width="22.3" height="34.7" class="s"/>
<rect x="1135.1" y="345" width="22.3" height="104.2" class="t"/>
<rect x="1135.1" y="337.5" width="22.3" height="7.5" class="d"/>
<rect x="1135.1" y="331.8" width="22.3" height="5.6" class="f"/>
<rect x="1135.1" y="316.8" width="22.3" height="15" class="b"/>
<rect x="1135.1" y="306.5" width="22.3" height="10.3" class="p"/>
<rect x="1135.1" y="297.1" width="22.3" height="9.4" class="c"/>
<rect x="1158.5" y="481.1" width="22.3" height="3.8" class="k"/>
<rect x="1158.5" y="378.8" width="22.3" height="102.4" class="s"/>
<rect x="1158.5" y="335.6" width="22.3" height="43.2" class="t"/>
<rect x="1158.5" y="329" width="22.3" height="6.6" class="f"/>
<rect x="1158.5" y="299.9" width="22.3" height="29.1" class="b"/>
<rect x="1158.5" y="297.1" width="22.3" height="2.8" class="g"/>
<rect x="1181.8" y="481.1" width="22.3" height="3.8" class="y"/>
<rect x="1181.8" y="470.8" width="22.3" height="10.3" class="o"/>
<rect x="1181.8" y="455.8" width="22.3" height="15" class="s"/>
<rect x="1181.8" y="391.9" width="22.3" height="63.9" class="t"/>
<rect x="1181.8" y="344.1" width="22.3" height="47.9" class="d"/>
<rect x="1181.8" y="334.7" width="22.3" height="9.4" class="f"/>
<rect x="1181.8" y="320.6" width="22.3" height="14.1" class="b"/>
<rect x="1181.8" y="308.4" width="22.3" height="12.2" class="p"/>
<rect x="1181.8" y="297.1" width="22.3" height="11.3" class="c"/>
<rect x="1205.2" y="481.1" width="22.3" height="3.8" class="y"/>
<rect x="1205.2" y="479.3" width="22.3" height="1.9" class="o"/>
<rect x="1205.2" y="453" width="22.3" height="26.3" class="s"/>
<rect x="1205.2" y="364.7" width="22.3" height="88.3" class="t"/>
<rect x="1205.2" y="326.2" width="22.3" height="38.5" class="d"/>
<rect x="1205.2" y="318.7" width="22.3" height="7.5" class="f"/>
<rect x="1205.2" y="308.4" width="22.3" height="10.3" class="b"/>
<rect x="1205.2" y="303.7" width="22.3" height="4.7" class="p"/>
<rect x="1205.2" y="297.1" width="22.3" height="6.6" class="c"/>
<rect x="1228.6" y="454.9" width="22.3" height="30" class="s"/>
<rect x="1228.6" y="388.2" width="22.3" height="66.7" class="t"/>
<rect x="1228.6" y="352.5" width="22.3" height="35.7" class="f"/>
<rect x="1228.6" y="304.6" width="22.3" height="47.9" class="b"/>
<rect x="1228.6" y="302.7" width="22.3" height="1.9" class="g"/>
<rect x="1228.6" y="297.1" width="22.3" height="5.6" class="c"/>
<rect x="1252" y="482.1" width="22.3" height="2.8" class="o"/>
<rect x="1252" y="453" width="22.3" height="29.1" class="s"/>
<rect x="1252" y="383.5" width="22.3" height="69.5" class="t"/>
<rect x="1252" y="348.7" width="22.3" height="34.7" class="d"/>
<rect x="1252" y="342.2" width="22.3" height="6.6" class="f"/>
<rect x="1252" y="329" width="22.3" height="13.1" class="b"/>
<rect x="1252" y="317.8" width="22.3" height="11.3" class="p"/>
<rect x="1252" y="315.9" width="22.3" height="1.9" class="g"/>
<rect x="1252" y="297.1" width="22.3" height="18.8" class="c"/>
<rect x="1275.4" y="479.3" width="22.3" height="5.6" class="y"/>
<rect x="1275.4" y="477.4" width="22.3" height="1.9" class="o"/>
<rect x="1275.4" y="475.5" width="22.3" height="1.9" class="h"/>
<rect x="1275.4" y="468" width="22.3" height="7.5" class="s"/>
<rect x="1275.4" y="419.2" width="22.3" height="48.8" class="t"/>
<rect x="1275.4" y="345" width="22.3" height="74.2" class="d"/>
<rect x="1275.4" y="338.4" width="22.3" height="6.6" class="f"/>
<rect x="1275.4" y="326.2" width="22.3" height="12.2" class="b"/>
<rect x="1275.4" y="315.9" width="22.3" height="10.3" class="p"/>
<rect x="1275.4" y="312.1" width="22.3" height="3.8" class="g"/>
<rect x="1275.4" y="297.1" width="22.3" height="15" class="c"/>
<rect x="1337.2" y="92" width="22.3" height="170.4" class="o"/>
<rect x="1337.2" y="85.5" width="22.3" height="6.6" class="r"/>
<rect x="1337.2" y="83.6" width="22.3" height="1.9" class="k"/>
<rect x="1337.2" y="79.9" width="22.3" height="3.7" class="b"/>
<rect x="1337.2" y="75.2" width="22.3" height="4.7" class="g"/>
<rect x="1360.6" y="181" width="22.3" height="81.4" class="o"/>
<rect x="1360.6" y="164.1" width="22.3" height="16.8" class="r"/>
<rect x="1360.6" y="161.3" width="22.3" height="2.8" class="k"/>
<rect x="1360.6" y="160.4" width="22.3" height="0.9" class="s"/>
<rect x="1360.6" y="75.2" width="22.3" height="85.2" class="g"/>
<rect x="1384" y="261.5" width="22.3" height="0.9" class="y"/>
<rect x="1384" y="255.8" width="22.3" height="5.6" class="o"/>
<rect x="1384" y="254" width="22.3" height="1.9" class="k"/>
<rect x="1384" y="132.3" width="22.3" height="121.7" class="h"/>
<rect x="1384" y="87.4" width="22.3" height="44.9" class="b"/>
<rect x="1384" y="75.2" width="22.3" height="12.2" class="g"/>
<rect x="1407.4" y="220.3" width="22.3" height="42.1" class="o"/>
<rect x="1407.4" y="184.7" width="22.3" height="35.6" class="r"/>
<rect x="1407.4" y="143.5" width="22.3" height="41.2" class="k"/>
<rect x="1407.4" y="135.1" width="22.3" height="8.4" class="p"/>
<rect x="1407.4" y="75.2" width="22.3" height="59.9" class="g"/>
<rect x="1430.8" y="251.2" width="22.3" height="11.2" class="o"/>
<rect x="1430.8" y="246.5" width="22.3" height="4.7" class="r"/>
<rect x="1430.8" y="179.1" width="22.3" height="67.4" class="k"/>
<rect x="1430.8" y="177.2" width="22.3" height="1.9" class="d"/>
<rect x="1430.8" y="165.1" width="22.3" height="12.2" class="b"/>
<rect x="1430.8" y="75.2" width="22.3" height="89.9" class="g"/>
<rect x="1454.2" y="141.7" width="22.3" height="120.7" class="o"/>
<rect x="1454.2" y="122" width="22.3" height="19.7" class="r"/>
<rect x="1454.2" y="115.4" width="22.3" height="6.6" class="k"/>
<rect x="1454.2" y="113.6" width="22.3" height="1.9" class="h"/>
<rect x="1454.2" y="111.7" width="22.3" height="1.9" class="d"/>
<rect x="1454.2" y="108.9" width="22.3" height="2.8" class="b"/>
<rect x="1454.2" y="76.1" width="22.3" height="32.8" class="g"/>
<rect x="1477.5" y="75.2" width="22.3" height="187.2" class="g"/>
<rect x="1500.9" y="83.6" width="22.3" height="178.8" class="o"/>
<rect x="1500.9" y="81.8" width="22.3" height="1.9" class="r"/>
<rect x="1500.9" y="78" width="22.3" height="3.7" class="b"/>
<rect x="1500.9" y="75.2" width="22.3" height="2.8" class="g"/>
<rect x="1524.3" y="103.3" width="22.3" height="159.1" class="o"/>
<rect x="1524.3" y="92" width="22.3" height="11.2" class="r"/>
<rect x="1524.3" y="90.2" width="22.3" height="1.9" class="h"/>
<rect x="1524.3" y="78.9" width="22.3" height="11.2" class="b"/>
<rect x="1524.3" y="75.2" width="22.3" height="3.7" class="g"/>
<rect x="1547.7" y="260.5" width="22.3" height="1.9" class="o"/>
<rect x="1547.7" y="258.7" width="22.3" height="1.9" class="b"/>
<rect x="1547.7" y="75.2" width="22.3" height="183.5" class="g"/>
<rect x="1571.1" y="151" width="22.3" height="111.4" class="o"/>
<rect x="1571.1" y="108.9" width="22.3" height="42.1" class="r"/>
<rect x="1571.1" y="106.1" width="22.3" height="2.8" class="h"/>
<rect x="1571.1" y="103.3" width="22.3" height="2.8" class="k"/>
<rect x="1571.1" y="84.6" width="22.3" height="18.7" class="b"/>
<rect x="1571.1" y="77.1" width="22.3" height="7.5" class="g"/>
<rect x="1571.1" y="75.2" width="22.3" height="1.9" class="c"/>
<rect x="1594.5" y="94.9" width="22.3" height="167.5" class="o"/>
<rect x="1594.5" y="91.1" width="22.3" height="3.7" class="h"/>
<rect x="1594.5" y="78" width="22.3" height="13.1" class="b"/>
<rect x="1594.5" y="75.2" width="22.3" height="2.8" class="g"/>
<rect x="1337.2" y="317.5" width="22.3" height="167.8" class="o"/>
<rect x="1337.2" y="315.7" width="22.3" height="1.9" class="r"/>
<rect x="1337.2" y="313.8" width="22.3" height="1.9" class="k"/>
<rect x="1337.2" y="300.8" width="22.3" height="13" class="b"/>
<rect x="1360.6" y="329.6" width="22.3" height="155.7" class="o"/>
<rect x="1360.6" y="323.1" width="22.3" height="6.5" class="r"/>
<rect x="1360.6" y="320.3" width="22.3" height="2.8" class="k"/>
<rect x="1360.6" y="312" width="22.3" height="8.3" class="b"/>
<rect x="1360.6" y="299.9" width="22.3" height="12.1" class="g"/>
<rect x="1384" y="484.4" width="22.3" height="0.9" class="y"/>
<rect x="1384" y="474.2" width="22.3" height="10.2" class="o"/>
<rect x="1384" y="350.9" width="22.3" height="123.3" class="h"/>
<rect x="1384" y="309.2" width="22.3" height="41.7" class="b"/>
<rect x="1384" y="299.9" width="22.3" height="9.3" class="g"/>
<rect x="1407.4" y="431.5" width="22.3" height="53.8" class="o"/>
<rect x="1407.4" y="428.8" width="22.3" height="2.8" class="r"/>
<rect x="1407.4" y="311" width="22.3" height="117.7" class="k"/>
<rect x="1407.4" y="306.4" width="22.3" height="4.6" class="s"/>
<rect x="1407.4" y="302.7" width="22.3" height="3.7" class="b"/>
<rect x="1407.4" y="299.9" width="22.3" height="2.8" class="g"/>
<rect x="1430.8" y="475.1" width="22.3" height="10.2" class="o"/>
<rect x="1430.8" y="472.3" width="22.3" height="2.8" class="r"/>
<rect x="1430.8" y="347.2" width="22.3" height="125.1" class="k"/>
<rect x="1430.8" y="342.5" width="22.3" height="4.6" class="s"/>
<rect x="1430.8" y="339.8" width="22.3" height="2.8" class="b"/>
<rect x="1430.8" y="299.9" width="22.3" height="39.9" class="g"/>
<rect x="1454.2" y="357.4" width="22.3" height="127.9" class="o"/>
<rect x="1454.2" y="337.9" width="22.3" height="19.5" class="r"/>
<rect x="1454.2" y="333.3" width="22.3" height="4.6" class="k"/>
<rect x="1454.2" y="330.5" width="22.3" height="2.8" class="d"/>
<rect x="1454.2" y="315.7" width="22.3" height="14.8" class="b"/>
<rect x="1454.2" y="299.9" width="22.3" height="15.8" class="g"/>
<rect x="1477.5" y="299.9" width="22.3" height="185.4" class="g"/>
<rect x="1500.9" y="323.1" width="22.3" height="162.2" class="o"/>
<rect x="1500.9" y="320.3" width="22.3" height="2.8" class="k"/>
<rect x="1500.9" y="299.9" width="22.3" height="20.4" class="b"/>
<rect x="1524.3" y="321.2" width="22.3" height="164.1" class="o"/>
<rect x="1524.3" y="318.4" width="22.3" height="2.8" class="k"/>
<rect x="1524.3" y="299.9" width="22.3" height="18.5" class="b"/>
<rect x="1547.7" y="484.4" width="22.3" height="0.9" class="b"/>
<rect x="1547.7" y="299.9" width="22.3" height="184.5" class="g"/>
<rect x="1571.1" y="330.5" width="22.3" height="154.8" class="o"/>
<rect x="1571.1" y="327.7" width="22.3" height="2.8" class="r"/>
<rect x="1571.1" y="324.9" width="22.3" height="2.8" class="k"/>
<rect x="1571.1" y="322.1" width="22.3" height="2.8" class="d"/>
<rect x="1571.1" y="301.8" width="22.3" height="20.4" class="b"/>
<rect x="1594.5" y="334.2" width="22.3" height="151.1" class="o"/>
<rect x="1594.5" y="331.4" width="22.3" height="2.8" class="h"/>
<rect x="1594.5" y="299.9" width="22.3" height="31.5" class="b"/>
<rect x="1658.3" y="178.2" width="22.3" height="84.2" class="y"/>
<rect x="1658.3" y="147.3" width="22.3" height="30.9" class="o"/>
<rect x="1658.3" y="144.5" width="22.3" height="2.8" class="h"/>
<rect x="1658.3" y="142.6" width="22.3" height="1.9" class="k"/>
<rect x="1658.3" y="138.8" width="22.3" height="3.7" class="t"/>
<rect x="1658.3" y="137" width="22.3" height="1.9" class="f"/>
<rect x="1658.3" y="135.1" width="22.3" height="1.9" class="d"/>
<rect x="1658.3" y="75.2" width="22.3" height="59.9" class="b"/>
<rect x="1681.7" y="255.8" width="22.3" height="6.6" class="y"/>
<rect x="1681.7" y="149.1" width="22.3" height="106.7" class="o"/>
<rect x="1681.7" y="145.4" width="22.3" height="3.7" class="h"/>
<rect x="1681.7" y="142.6" width="22.3" height="2.8" class="k"/>
<rect x="1681.7" y="137" width="22.3" height="5.6" class="t"/>
<rect x="1681.7" y="131.4" width="22.3" height="5.6" class="f"/>
<rect x="1681.7" y="75.2" width="22.3" height="56.2" class="b"/>
<rect x="1705.1" y="223.1" width="22.3" height="39.3" class="y"/>
<rect x="1705.1" y="216.5" width="22.3" height="6.6" class="o"/>
<rect x="1705.1" y="177.2" width="22.3" height="39.3" class="h"/>
<rect x="1705.1" y="167.9" width="22.3" height="9.4" class="t"/>
<rect x="1705.1" y="115.4" width="22.3" height="52.4" class="f"/>
<rect x="1705.1" y="78.9" width="22.3" height="36.5" class="b"/>
<rect x="1705.1" y="75.2" width="22.3" height="3.7" class="g"/>
<rect x="1728.5" y="256.8" width="22.3" height="5.6" class="y"/>
<rect x="1728.5" y="232.4" width="22.3" height="24.3" class="o"/>
<rect x="1728.5" y="230.6" width="22.3" height="1.9" class="h"/>
<rect x="1728.5" y="224" width="22.3" height="6.6" class="k"/>
<rect x="1728.5" y="122.9" width="22.3" height="101.1" class="s"/>
<rect x="1728.5" y="116.4" width="22.3" height="6.6" class="t"/>
<rect x="1728.5" y="108.9" width="22.3" height="7.5" class="f"/>
<rect x="1728.5" y="76.1" width="22.3" height="32.8" class="b"/>
<rect x="1751.9" y="261.5" width="22.3" height="0.9" class="y"/>
<rect x="1751.9" y="253" width="22.3" height="8.4" class="o"/>
<rect x="1751.9" y="241.8" width="22.3" height="11.2" class="k"/>
<rect x="1751.9" y="137" width="22.3" height="104.8" class="s"/>
<rect x="1751.9" y="134.2" width="22.3" height="2.8" class="t"/>
<rect x="1751.9" y="127.6" width="22.3" height="6.6" class="f"/>
<rect x="1751.9" y="75.2" width="22.3" height="52.4" class="b"/>
<rect x="1775.3" y="221.2" width="22.3" height="41.2" class="y"/>
<rect x="1775.3" y="219.3" width="22.3" height="1.9" class="o"/>
<rect x="1775.3" y="216.5" width="22.3" height="2.8" class="k"/>
<rect x="1775.3" y="209" width="22.3" height="7.5" class="s"/>
<rect x="1775.3" y="188.5" width="22.3" height="20.6" class="t"/>
<rect x="1775.3" y="111.7" width="22.3" height="76.8" class="f"/>
<rect x="1775.3" y="77.1" width="22.3" height="34.6" class="b"/>
<rect x="1775.3" y="75.2" width="22.3" height="1.9" class="g"/>
<rect x="1798.6" y="261.5" width="22.3" height="0.9" class="k"/>
<rect x="1798.6" y="123.9" width="22.3" height="137.6" class="s"/>
<rect x="1798.6" y="117.3" width="22.3" height="6.6" class="t"/>
<rect x="1798.6" y="77.1" width="22.3" height="40.2" class="b"/>
<rect x="1798.6" y="75.2" width="22.3" height="1.9" class="g"/>
<rect x="1822" y="242.7" width="22.3" height="19.7" class="y"/>
<rect x="1822" y="135.1" width="22.3" height="107.6" class="o"/>
<rect x="1822" y="132.3" width="22.3" height="2.8" class="k"/>
<rect x="1822" y="127.6" width="22.3" height="4.7" class="t"/>
<rect x="1822" y="125.7" width="22.3" height="1.9" class="f"/>
<rect x="1822" y="75.2" width="22.3" height="50.5" class="b"/>
<rect x="1845.4" y="254.9" width="22.3" height="7.5" class="y"/>
<rect x="1845.4" y="132.3" width="22.3" height="122.6" class="o"/>
<rect x="1845.4" y="130.4" width="22.3" height="1.9" class="h"/>
<rect x="1845.4" y="127.6" width="22.3" height="2.8" class="k"/>
<rect x="1845.4" y="123.9" width="22.3" height="3.7" class="t"/>
<rect x="1845.4" y="122.9" width="22.3" height="0.9" class="d"/>
<rect x="1845.4" y="120.1" width="22.3" height="2.8" class="f"/>
<rect x="1845.4" y="75.2" width="22.3" height="44.9" class="b"/>
<rect x="1868.8" y="198.8" width="22.3" height="62.7" class="s"/>
<rect x="1868.8" y="128.6" width="22.3" height="70.2" class="t"/>
<rect x="1868.8" y="114.5" width="22.3" height="14" class="f"/>
<rect x="1868.8" y="82.7" width="22.3" height="31.8" class="b"/>
<rect x="1868.8" y="76.1" width="22.3" height="6.6" class="g"/>
<rect x="1892.2" y="261.5" width="22.3" height="0.9" class="y"/>
<rect x="1892.2" y="131.4" width="22.3" height="130.1" class="o"/>
<rect x="1892.2" y="128.6" width="22.3" height="2.8" class="k"/>
<rect x="1892.2" y="122.9" width="22.3" height="5.6" class="t"/>
<rect x="1892.2" y="121.1" width="22.3" height="1.9" class="h"/>
<rect x="1892.2" y="117.3" width="22.3" height="3.7" class="f"/>
<rect x="1892.2" y="75.2" width="22.3" height="42.1" class="b"/>
<rect x="1915.6" y="256.8" width="22.3" height="5.6" class="y"/>
<rect x="1915.6" y="145.4" width="22.3" height="111.4" class="o"/>
<rect x="1915.6" y="141.7" width="22.3" height="3.7" class="k"/>
<rect x="1915.6" y="136" width="22.3" height="5.6" class="t"/>
<rect x="1915.6" y="133.2" width="22.3" height="2.8" class="d"/>
<rect x="1915.6" y="128.6" width="22.3" height="4.7" class="f"/>
<rect x="1915.6" y="75.2" width="22.3" height="53.4" class="b"/>
<rect x="1658.3" y="441.7" width="22.3" height="43.6" class="y"/>
<rect x="1658.3" y="368.5" width="22.3" height="73.2" class="o"/>
<rect x="1658.3" y="365.7" width="22.3" height="2.8" class="k"/>
<rect x="1658.3" y="359.2" width="22.3" height="6.5" class="t"/>
<rect x="1658.3" y="355.5" width="22.3" height="3.7" class="f"/>
<rect x="1658.3" y="301.8" width="22.3" height="53.8" class="b"/>
<rect x="1681.7" y="433.4" width="22.3" height="51.9" class="y"/>
<rect x="1681.7" y="362" width="22.3" height="71.4" class="o"/>
<rect x="1681.7" y="359.2" width="22.3" height="2.8" class="k"/>
<rect x="1681.7" y="353.7" width="22.3" height="5.6" class="t"/>
<rect x="1681.7" y="349" width="22.3" height="4.6" class="f"/>
<rect x="1681.7" y="300.8" width="22.3" height="48.2" class="b"/>
<rect x="1705.1" y="416.7" width="22.3" height="68.6" class="y"/>
<rect x="1705.1" y="412.1" width="22.3" height="4.6" class="o"/>
<rect x="1705.1" y="391.7" width="22.3" height="20.4" class="h"/>
<rect x="1705.1" y="386.1" width="22.3" height="5.6" class="t"/>
<rect x="1705.1" y="333.3" width="22.3" height="52.8" class="f"/>
<rect x="1705.1" y="303.6" width="22.3" height="29.7" class="b"/>
<rect x="1705.1" y="299.9" width="22.3" height="3.7" class="g"/>
<rect x="1728.5" y="483.4" width="22.3" height="1.9" class="y"/>
<rect x="1728.5" y="474.2" width="22.3" height="9.3" class="o"/>
<rect x="1728.5" y="462.1" width="22.3" height="12.1" class="k"/>
<rect x="1728.5" y="359.2" width="22.3" height="102.9" class="s"/>
<rect x="1728.5" y="354.6" width="22.3" height="4.6" class="t"/>
<rect x="1728.5" y="350.9" width="22.3" height="3.7" class="d"/>
<rect x="1728.5" y="344.4" width="22.3" height="6.5" class="f"/>
<rect x="1728.5" y="302.7" width="22.3" height="41.7" class="b"/>
<rect x="1728.5" y="299.9" width="22.3" height="2.8" class="g"/>
<rect x="1751.9" y="482.5" width="22.3" height="2.8" class="o"/>
<rect x="1751.9" y="471.4" width="22.3" height="11.1" class="k"/>
<rect x="1751.9" y="369.4" width="22.3" height="102" class="s"/>
<rect x="1751.9" y="366.6" width="22.3" height="2.8" class="t"/>
<rect x="1751.9" y="363.9" width="22.3" height="2.8" class="d"/>
<rect x="1751.9" y="353.7" width="22.3" height="10.2" class="f"/>
<rect x="1751.9" y="301.8" width="22.3" height="51.9" class="b"/>
<rect x="1775.3" y="461.2" width="22.3" height="24.1" class="y"/>
<rect x="1775.3" y="459.3" width="22.3" height="1.9" class="o"/>
<rect x="1775.3" y="431.5" width="22.3" height="27.8" class="s"/>
<rect x="1775.3" y="356.4" width="22.3" height="75.1" class="t"/>
<rect x="1775.3" y="341.6" width="22.3" height="14.8" class="d"/>
<rect x="1775.3" y="323.1" width="22.3" height="18.5" class="f"/>
<rect x="1775.3" y="303.6" width="22.3" height="19.5" class="b"/>
<rect x="1775.3" y="299.9" width="22.3" height="3.7" class="g"/>
<rect x="1798.6" y="483.4" width="22.3" height="1.9" class="o"/>
<rect x="1798.6" y="355.5" width="22.3" height="127.9" class="s"/>
<rect x="1798.6" y="342.5" width="22.3" height="13" class="t"/>
<rect x="1798.6" y="301.8" width="22.3" height="40.8" class="b"/>
<rect x="1822" y="426.9" width="22.3" height="58.4" class="y"/>
<rect x="1822" y="357.4" width="22.3" height="69.5" class="o"/>
<rect x="1822" y="354.6" width="22.3" height="2.8" class="k"/>
<rect x="1822" y="350.9" width="22.3" height="3.7" class="t"/>
<rect x="1822" y="348.1" width="22.3" height="2.8" class="f"/>
<rect x="1822" y="299.9" width="22.3" height="48.2" class="b"/>
<rect x="1845.4" y="417.6" width="22.3" height="67.7" class="y"/>
<rect x="1845.4" y="355.5" width="22.3" height="62.1" class="o"/>
<rect x="1845.4" y="352.7" width="22.3" height="2.8" class="k"/>
<rect x="1845.4" y="343.5" width="22.3" height="9.3" class="t"/>
<rect x="1845.4" y="341.6" width="22.3" height="1.9" class="d"/>
<rect x="1845.4" y="337" width="22.3" height="4.6" class="f"/>
<rect x="1845.4" y="301.8" width="22.3" height="35.2" class="b"/>
<rect x="1868.8" y="437.1" width="22.3" height="47.3" class="s"/>
<rect x="1868.8" y="378.7" width="22.3" height="58.4" class="t"/>
<rect x="1868.8" y="346.2" width="22.3" height="32.4" class="f"/>
<rect x="1868.8" y="305.5" width="22.3" height="40.8" class="b"/>
<rect x="1868.8" y="303.6" width="22.3" height="1.9" class="g"/>
<rect x="1868.8" y="299.9" width="22.3" height="3.7" class="c"/>
<rect x="1892.2" y="435.2" width="22.3" height="50.1" class="y"/>
<rect x="1892.2" y="358.3" width="22.3" height="76.9" class="o"/>
<rect x="1892.2" y="353.7" width="22.3" height="4.6" class="k"/>
<rect x="1892.2" y="348.1" width="22.3" height="5.6" class="t"/>
<rect x="1892.2" y="340.7" width="22.3" height="7.4" class="d"/>
<rect x="1892.2" y="338.8" width="22.3" height="1.9" class="h"/>
<rect x="1892.2" y="337" width="22.3" height="1.9" class="f"/>
<rect x="1892.2" y="300.8" width="22.3" height="36.2" class="b"/>
<rect x="1915.6" y="433.4" width="22.3" height="51.9" class="y"/>
<rect x="1915.6" y="368.5" width="22.3" height="64.9" class="o"/>
<rect x="1915.6" y="365.7" width="22.3" height="2.8" class="k"/>
<rect x="1915.6" y="363.9" width="22.3" height="1.9" class="t"/>
<rect x="1915.6" y="361.1" width="22.3" height="2.8" class="d"/>
<rect x="1915.6" y="359.2" width="22.3" height="1.9" class="f"/>
<rect x="1915.6" y="299.9" width="22.3" height="59.3" class="b"/>
</g>
<line x1="46.3" y1="74.7" x2="46.3" y2="262.9" stroke="#222" stroke-width="1.3"/>
<line x1="43.3" y1="262.4" x2="46.3" y2="262.4" stroke="#222" stroke-width="1.2"/>
<text x="41.8" y="268.7" font-size="18.5" text-anchor="end">0</text>
<line x1="43.3" y1="225" x2="46.3" y2="225" stroke="#222" stroke-width="1.2"/>
<text x="41.8" y="231.3" font-size="18.5" text-anchor="end">20</text>
<line x1="43.3" y1="187.5" x2="46.3" y2="187.5" stroke="#222" stroke-width="1.2"/>
<text x="41.8" y="193.8" font-size="18.5" text-anchor="end">40</text>
<line x1="43.3" y1="150.1" x2="46.3" y2="150.1" stroke="#222" stroke-width="1.2"/>
<text x="41.8" y="156.4" font-size="18.5" text-anchor="end">60</text>
<line x1="43.3" y1="112.6" x2="46.3" y2="112.6" stroke="#222" stroke-width="1.2"/>
<text x="41.8" y="118.9" font-size="18.5" text-anchor="end">80</text>
<line x1="43.3" y1="75.2" x2="46.3" y2="75.2" stroke="#222" stroke-width="1.2"/>
<text x="41.8" y="81.5" font-size="18.5" text-anchor="end">100</text>
<text x="185.9" y="59.8" font-size="19" text-anchor="middle">Batch 1, minimal NIM</text>
<text x="14.5" y="168.8" font-size="18.5" text-anchor="middle" transform="rotate(-90 14.5 168.8)">Percent(%)</text>
<line x1="46.3" y1="296.6" x2="46.3" y2="485.4" stroke="#222" stroke-width="1.3"/>
<line x1="43.3" y1="484.9" x2="46.3" y2="484.9" stroke="#222" stroke-width="1.2"/>
<text x="41.8" y="491.2" font-size="18.5" text-anchor="end">0</text>
<line x1="43.3" y1="447.3" x2="46.3" y2="447.3" stroke="#222" stroke-width="1.2"/>
<text x="41.8" y="453.6" font-size="18.5" text-anchor="end">20</text>
<line x1="43.3" y1="409.8" x2="46.3" y2="409.8" stroke="#222" stroke-width="1.2"/>
<text x="41.8" y="416.1" font-size="18.5" text-anchor="end">40</text>
<line x1="43.3" y1="372.2" x2="46.3" y2="372.2" stroke="#222" stroke-width="1.2"/>
<text x="41.8" y="378.5" font-size="18.5" text-anchor="end">60</text>
<line x1="43.3" y1="334.7" x2="46.3" y2="334.7" stroke="#222" stroke-width="1.2"/>
<text x="41.8" y="341" font-size="18.5" text-anchor="end">80</text>
<line x1="43.3" y1="297.1" x2="46.3" y2="297.1" stroke="#222" stroke-width="1.2"/>
<text x="41.8" y="303.4" font-size="18.5" text-anchor="end">100</text>
<text x="191.8" y="288" font-size="19" text-anchor="middle">Batch 2, minimal NIM</text>
<text x="14.5" y="391" font-size="18.5" text-anchor="middle" transform="rotate(-90 14.5 391)">Percent(%)</text>
<text x="72.3" y="497" font-size="17.8" text-anchor="end" transform="rotate(-45 72.3 497)">Ctrl</text>
<text x="100.2" y="493" font-size="17.8" text-anchor="end" transform="rotate(-45 100.2 493)">SHH&#160;<tspan dx="2.5">c</tspan><tspan font-size="8" dy="4.5" dx="1">1</tspan></text>
<text x="123.6" y="493" font-size="17.8" text-anchor="end" transform="rotate(-45 123.6 493)">SHH&#160;<tspan dx="2.5">c</tspan><tspan font-size="8" dy="4.5" dx="1">5</tspan></text>
<text x="146.9" y="493" font-size="17.8" text-anchor="end" transform="rotate(-45 146.9 493)">RA&#160;<tspan dx="2.5">c</tspan><tspan font-size="8" dy="4.5" dx="1">1</tspan></text>
<text x="170.3" y="493" font-size="17.8" text-anchor="end" transform="rotate(-45 170.3 493)">RA&#160;<tspan dx="2.5">c</tspan><tspan font-size="8" dy="4.5" dx="1">5</tspan></text>
<text x="193.7" y="493" font-size="17.8" text-anchor="end" transform="rotate(-45 193.7 493)">CHIR&#160;<tspan dx="2.5">c</tspan><tspan font-size="8" dy="4.5" dx="1">1</tspan></text>
<text x="217.1" y="493" font-size="17.8" text-anchor="end" transform="rotate(-45 217.1 493)">CHIR&#160;<tspan dx="2.5">c</tspan><tspan font-size="8" dy="4.5" dx="1">5</tspan></text>
<text x="240.5" y="493" font-size="17.8" text-anchor="end" transform="rotate(-45 240.5 493)">FGF-8&#160;<tspan dx="2.5">c</tspan><tspan font-size="8" dy="4.5" dx="1">1</tspan></text>
<text x="263.9" y="493" font-size="17.8" text-anchor="end" transform="rotate(-45 263.9 493)">FGF-8&#160;<tspan dx="2.5">c</tspan><tspan font-size="8" dy="4.5" dx="1">5</tspan></text>
<text x="287.2" y="493" font-size="17.8" text-anchor="end" transform="rotate(-45 287.2 493)">CHIR&#160;<tspan dx="2.5">t</tspan><tspan font-size="8" dy="4.5" dx="1">1</tspan></text>
<text x="310.6" y="493" font-size="17.8" text-anchor="end" transform="rotate(-45 310.6 493)">CHIR&#160;<tspan dx="2.5">t</tspan><tspan font-size="8" dy="4.5" dx="1">3</tspan></text>
<text x="334" y="493" font-size="17.8" text-anchor="end" transform="rotate(-45 334 493)">CHIR&#160;<tspan dx="2.5">t</tspan><tspan font-size="8" dy="4.5" dx="1">5</tspan></text>
<line x1="369.7" y1="74.7" x2="369.7" y2="262.9" stroke="#222" stroke-width="1.3"/>
<line x1="366.7" y1="262.4" x2="369.7" y2="262.4" stroke="#222" stroke-width="1.2"/>
<line x1="366.7" y1="225" x2="369.7" y2="225" stroke="#222" stroke-width="1.2"/>
<text x="365.2" y="231.3" font-size="18.5" text-anchor="end">20</text>
<line x1="366.7" y1="187.5" x2="369.7" y2="187.5" stroke="#222" stroke-width="1.2"/>
<text x="365.2" y="193.8" font-size="18.5" text-anchor="end">40</text>
<line x1="366.7" y1="150.1" x2="369.7" y2="150.1" stroke="#222" stroke-width="1.2"/>
<text x="365.2" y="156.4" font-size="18.5" text-anchor="end">60</text>
<line x1="366.7" y1="112.6" x2="369.7" y2="112.6" stroke="#222" stroke-width="1.2"/>
<text x="365.2" y="118.9" font-size="18.5" text-anchor="end">80</text>
<line x1="366.7" y1="75.2" x2="369.7" y2="75.2" stroke="#222" stroke-width="1.2"/>
<text x="365.2" y="81.5" font-size="18.5" text-anchor="end">100</text>
<text x="515.8" y="59.8" font-size="19" text-anchor="middle">Batch 1, Dual Smad</text>
<line x1="369.7" y1="296.6" x2="369.7" y2="485.4" stroke="#222" stroke-width="1.3"/>
<line x1="366.7" y1="484.9" x2="369.7" y2="484.9" stroke="#222" stroke-width="1.2"/>
<line x1="366.7" y1="447.3" x2="369.7" y2="447.3" stroke="#222" stroke-width="1.2"/>
<text x="365.2" y="453.6" font-size="18.5" text-anchor="end">20</text>
<line x1="366.7" y1="409.8" x2="369.7" y2="409.8" stroke="#222" stroke-width="1.2"/>
<text x="365.2" y="416.1" font-size="18.5" text-anchor="end">40</text>
<line x1="366.7" y1="372.2" x2="369.7" y2="372.2" stroke="#222" stroke-width="1.2"/>
<text x="365.2" y="378.5" font-size="18.5" text-anchor="end">60</text>
<line x1="366.7" y1="334.7" x2="369.7" y2="334.7" stroke="#222" stroke-width="1.2"/>
<text x="365.2" y="341" font-size="18.5" text-anchor="end">80</text>
<line x1="366.7" y1="297.1" x2="369.7" y2="297.1" stroke="#222" stroke-width="1.2"/>
<text x="365.2" y="303.4" font-size="18.5" text-anchor="end">100</text>
<text x="515.8" y="288" font-size="19" text-anchor="middle">Batch 2, Dual Smad</text>
<text x="395.7" y="497" font-size="17.8" text-anchor="end" transform="rotate(-45 395.7 497)">Ctrl</text>
<text x="423.6" y="493" font-size="17.8" text-anchor="end" transform="rotate(-45 423.6 493)">SHH&#160;<tspan dx="2.5">c</tspan><tspan font-size="8" dy="4.5" dx="1">1</tspan></text>
<text x="447" y="493" font-size="17.8" text-anchor="end" transform="rotate(-45 447 493)">SHH&#160;<tspan dx="2.5">c</tspan><tspan font-size="8" dy="4.5" dx="1">5</tspan></text>
<text x="470.3" y="493" font-size="17.8" text-anchor="end" transform="rotate(-45 470.3 493)">RA&#160;<tspan dx="2.5">c</tspan><tspan font-size="8" dy="4.5" dx="1">1</tspan></text>
<text x="493.7" y="493" font-size="17.8" text-anchor="end" transform="rotate(-45 493.7 493)">RA&#160;<tspan dx="2.5">c</tspan><tspan font-size="8" dy="4.5" dx="1">5</tspan></text>
<text x="517.1" y="493" font-size="17.8" text-anchor="end" transform="rotate(-45 517.1 493)">CHIR&#160;<tspan dx="2.5">c</tspan><tspan font-size="8" dy="4.5" dx="1">1</tspan></text>
<text x="540.5" y="493" font-size="17.8" text-anchor="end" transform="rotate(-45 540.5 493)">CHIR&#160;<tspan dx="2.5">c</tspan><tspan font-size="8" dy="4.5" dx="1">5</tspan></text>
<text x="563.9" y="493" font-size="17.8" text-anchor="end" transform="rotate(-45 563.9 493)">FGF-8&#160;<tspan dx="2.5">c</tspan><tspan font-size="8" dy="4.5" dx="1">1</tspan></text>
<text x="587.3" y="493" font-size="17.8" text-anchor="end" transform="rotate(-45 587.3 493)">FGF-8&#160;<tspan dx="2.5">c</tspan><tspan font-size="8" dy="4.5" dx="1">5</tspan></text>
<text x="610.6" y="493" font-size="17.8" text-anchor="end" transform="rotate(-45 610.6 493)">CHIR&#160;<tspan dx="2.5">t</tspan><tspan font-size="8" dy="4.5" dx="1">1</tspan></text>
<text x="634" y="493" font-size="17.8" text-anchor="end" transform="rotate(-45 634 493)">CHIR&#160;<tspan dx="2.5">t</tspan><tspan font-size="8" dy="4.5" dx="1">3</tspan></text>
<text x="657.4" y="493" font-size="17.8" text-anchor="end" transform="rotate(-45 657.4 493)">CHIR&#160;<tspan dx="2.5">t</tspan><tspan font-size="8" dy="4.5" dx="1">5</tspan></text>
<line x1="691.5" y1="74.7" x2="691.5" y2="262.9" stroke="#222" stroke-width="1.3"/>
<line x1="688.5" y1="262.4" x2="691.5" y2="262.4" stroke="#222" stroke-width="1.2"/>
<text x="687" y="268.7" font-size="18.5" text-anchor="end">0</text>
<line x1="688.5" y1="225" x2="691.5" y2="225" stroke="#222" stroke-width="1.2"/>
<text x="687" y="231.3" font-size="18.5" text-anchor="end">20</text>
<line x1="688.5" y1="187.5" x2="691.5" y2="187.5" stroke="#222" stroke-width="1.2"/>
<text x="687" y="193.8" font-size="18.5" text-anchor="end">40</text>
<line x1="688.5" y1="150.1" x2="691.5" y2="150.1" stroke="#222" stroke-width="1.2"/>
<text x="687" y="156.4" font-size="18.5" text-anchor="end">60</text>
<line x1="688.5" y1="112.6" x2="691.5" y2="112.6" stroke="#222" stroke-width="1.2"/>
<text x="687" y="118.9" font-size="18.5" text-anchor="end">80</text>
<line x1="688.5" y1="75.2" x2="691.5" y2="75.2" stroke="#222" stroke-width="1.2"/>
<text x="687" y="81.5" font-size="18.5" text-anchor="end">100</text>
<text x="827.5" y="59.8" font-size="19" text-anchor="middle">Batch 1, minimal NIM</text>
<line x1="691.5" y1="296.6" x2="691.5" y2="485.4" stroke="#222" stroke-width="1.3"/>
<line x1="688.5" y1="484.9" x2="691.5" y2="484.9" stroke="#222" stroke-width="1.2"/>
<text x="687" y="491.2" font-size="18.5" text-anchor="end">0</text>
<line x1="688.5" y1="447.3" x2="691.5" y2="447.3" stroke="#222" stroke-width="1.2"/>
<text x="687" y="453.6" font-size="18.5" text-anchor="end">20</text>
<line x1="688.5" y1="409.8" x2="691.5" y2="409.8" stroke="#222" stroke-width="1.2"/>
<text x="687" y="416.1" font-size="18.5" text-anchor="end">40</text>
<line x1="688.5" y1="372.2" x2="691.5" y2="372.2" stroke="#222" stroke-width="1.2"/>
<text x="687" y="378.5" font-size="18.5" text-anchor="end">60</text>
<line x1="688.5" y1="334.7" x2="691.5" y2="334.7" stroke="#222" stroke-width="1.2"/>
<text x="687" y="341" font-size="18.5" text-anchor="end">80</text>
<line x1="688.5" y1="297.1" x2="691.5" y2="297.1" stroke="#222" stroke-width="1.2"/>
<text x="687" y="303.4" font-size="18.5" text-anchor="end">100</text>
<text x="824.3" y="288" font-size="19" text-anchor="middle">Batch 2, minimal NIM</text>
<text x="717.5" y="497" font-size="17.8" text-anchor="end" transform="rotate(-45 717.5 497)">Ctrl</text>
<text x="745.4" y="493" font-size="17.8" text-anchor="end" transform="rotate(-45 745.4 493)">SHH&#160;<tspan dx="2.5">c</tspan><tspan font-size="8" dy="4.5" dx="1">1</tspan></text>
<text x="768.8" y="493" font-size="17.8" text-anchor="end" transform="rotate(-45 768.8 493)">SHH&#160;<tspan dx="2.5">c</tspan><tspan font-size="8" dy="4.5" dx="1">5</tspan></text>
<text x="792.1" y="493" font-size="17.8" text-anchor="end" transform="rotate(-45 792.1 493)">RA&#160;<tspan dx="2.5">c</tspan><tspan font-size="8" dy="4.5" dx="1">1</tspan></text>
<text x="815.5" y="493" font-size="17.8" text-anchor="end" transform="rotate(-45 815.5 493)">RA&#160;<tspan dx="2.5">c</tspan><tspan font-size="8" dy="4.5" dx="1">5</tspan></text>
<text x="838.9" y="493" font-size="17.8" text-anchor="end" transform="rotate(-45 838.9 493)">CHIR&#160;<tspan dx="2.5">c</tspan><tspan font-size="8" dy="4.5" dx="1">1</tspan></text>
<text x="862.3" y="493" font-size="17.8" text-anchor="end" transform="rotate(-45 862.3 493)">CHIR&#160;<tspan dx="2.5">c</tspan><tspan font-size="8" dy="4.5" dx="1">5</tspan></text>
<text x="885.7" y="493" font-size="17.8" text-anchor="end" transform="rotate(-45 885.7 493)">FGF-8&#160;<tspan dx="2.5">c</tspan><tspan font-size="8" dy="4.5" dx="1">1</tspan></text>
<text x="909.1" y="493" font-size="17.8" text-anchor="end" transform="rotate(-45 909.1 493)">FGF-8&#160;<tspan dx="2.5">c</tspan><tspan font-size="8" dy="4.5" dx="1">5</tspan></text>
<text x="932.4" y="493" font-size="17.8" text-anchor="end" transform="rotate(-45 932.4 493)">CHIR&#160;<tspan dx="2.5">t</tspan><tspan font-size="8" dy="4.5" dx="1">1</tspan></text>
<text x="955.8" y="493" font-size="17.8" text-anchor="end" transform="rotate(-45 955.8 493)">CHIR&#160;<tspan dx="2.5">t</tspan><tspan font-size="8" dy="4.5" dx="1">3</tspan></text>
<text x="979.2" y="493" font-size="17.8" text-anchor="end" transform="rotate(-45 979.2 493)">CHIR&#160;<tspan dx="2.5">t</tspan><tspan font-size="8" dy="4.5" dx="1">5</tspan></text>
<line x1="1011.3" y1="74.7" x2="1011.3" y2="262.9" stroke="#222" stroke-width="1.3"/>
<line x1="1008.3" y1="262.4" x2="1011.3" y2="262.4" stroke="#222" stroke-width="1.2"/>
<text x="1006.8" y="268.7" font-size="18.5" text-anchor="end">0</text>
<line x1="1008.3" y1="225" x2="1011.3" y2="225" stroke="#222" stroke-width="1.2"/>
<text x="1006.8" y="231.3" font-size="18.5" text-anchor="end">20</text>
<line x1="1008.3" y1="187.5" x2="1011.3" y2="187.5" stroke="#222" stroke-width="1.2"/>
<text x="1006.8" y="193.8" font-size="18.5" text-anchor="end">40</text>
<line x1="1008.3" y1="150.1" x2="1011.3" y2="150.1" stroke="#222" stroke-width="1.2"/>
<text x="1006.8" y="156.4" font-size="18.5" text-anchor="end">60</text>
<line x1="1008.3" y1="112.6" x2="1011.3" y2="112.6" stroke="#222" stroke-width="1.2"/>
<text x="1006.8" y="118.9" font-size="18.5" text-anchor="end">80</text>
<line x1="1008.3" y1="75.2" x2="1011.3" y2="75.2" stroke="#222" stroke-width="1.2"/>
<text x="1006.8" y="81.5" font-size="18.5" text-anchor="end">100</text>
<text x="1157.9" y="59.8" font-size="19" text-anchor="middle">Batch 1, Dual Smad</text>
<line x1="1011.3" y1="296.6" x2="1011.3" y2="485.4" stroke="#222" stroke-width="1.3"/>
<line x1="1008.3" y1="484.9" x2="1011.3" y2="484.9" stroke="#222" stroke-width="1.2"/>
<text x="1006.8" y="491.2" font-size="18.5" text-anchor="end">0</text>
<line x1="1008.3" y1="447.3" x2="1011.3" y2="447.3" stroke="#222" stroke-width="1.2"/>
<text x="1006.8" y="453.6" font-size="18.5" text-anchor="end">20</text>
<line x1="1008.3" y1="409.8" x2="1011.3" y2="409.8" stroke="#222" stroke-width="1.2"/>
<text x="1006.8" y="416.1" font-size="18.5" text-anchor="end">40</text>
<line x1="1008.3" y1="372.2" x2="1011.3" y2="372.2" stroke="#222" stroke-width="1.2"/>
<text x="1006.8" y="378.5" font-size="18.5" text-anchor="end">60</text>
<line x1="1008.3" y1="334.7" x2="1011.3" y2="334.7" stroke="#222" stroke-width="1.2"/>
<text x="1006.8" y="341" font-size="18.5" text-anchor="end">80</text>
<line x1="1008.3" y1="297.1" x2="1011.3" y2="297.1" stroke="#222" stroke-width="1.2"/>
<text x="1006.8" y="303.4" font-size="18.5" text-anchor="end">100</text>
<text x="1157.9" y="288" font-size="19" text-anchor="middle">Batch 2, Dual Smad</text>
<text x="1037.3" y="497" font-size="17.8" text-anchor="end" transform="rotate(-45 1037.3 497)">Ctrl</text>
<text x="1065.2" y="493" font-size="17.8" text-anchor="end" transform="rotate(-45 1065.2 493)">SHH&#160;<tspan dx="2.5">c</tspan><tspan font-size="8" dy="4.5" dx="1">1</tspan></text>
<text x="1088.6" y="493" font-size="17.8" text-anchor="end" transform="rotate(-45 1088.6 493)">SHH&#160;<tspan dx="2.5">c</tspan><tspan font-size="8" dy="4.5" dx="1">5</tspan></text>
<text x="1111.9" y="493" font-size="17.8" text-anchor="end" transform="rotate(-45 1111.9 493)">RA&#160;<tspan dx="2.5">c</tspan><tspan font-size="8" dy="4.5" dx="1">1</tspan></text>
<text x="1135.3" y="493" font-size="17.8" text-anchor="end" transform="rotate(-45 1135.3 493)">RA&#160;<tspan dx="2.5">c</tspan><tspan font-size="8" dy="4.5" dx="1">5</tspan></text>
<text x="1158.7" y="493" font-size="17.8" text-anchor="end" transform="rotate(-45 1158.7 493)">CHIR&#160;<tspan dx="2.5">c</tspan><tspan font-size="8" dy="4.5" dx="1">1</tspan></text>
<text x="1182.1" y="493" font-size="17.8" text-anchor="end" transform="rotate(-45 1182.1 493)">CHIR&#160;<tspan dx="2.5">c</tspan><tspan font-size="8" dy="4.5" dx="1">5</tspan></text>
<text x="1205.5" y="493" font-size="17.8" text-anchor="end" transform="rotate(-45 1205.5 493)">FGF-8&#160;<tspan dx="2.5">c</tspan><tspan font-size="8" dy="4.5" dx="1">1</tspan></text>
<text x="1228.9" y="493" font-size="17.8" text-anchor="end" transform="rotate(-45 1228.9 493)">FGF-8&#160;<tspan dx="2.5">c</tspan><tspan font-size="8" dy="4.5" dx="1">5</tspan></text>
<text x="1252.2" y="493" font-size="17.8" text-anchor="end" transform="rotate(-45 1252.2 493)">CHIR&#160;<tspan dx="2.5">t</tspan><tspan font-size="8" dy="4.5" dx="1">1</tspan></text>
<text x="1275.6" y="493" font-size="17.8" text-anchor="end" transform="rotate(-45 1275.6 493)">CHIR&#160;<tspan dx="2.5">t</tspan><tspan font-size="8" dy="4.5" dx="1">3</tspan></text>
<text x="1299" y="493" font-size="17.8" text-anchor="end" transform="rotate(-45 1299 493)">CHIR&#160;<tspan dx="2.5">t</tspan><tspan font-size="8" dy="4.5" dx="1">5</tspan></text>
<line x1="1330.4" y1="77.1" x2="1330.4" y2="265.7" stroke="#222" stroke-width="1.3"/>
<line x1="1327.4" y1="265.2" x2="1330.4" y2="265.2" stroke="#222" stroke-width="1.2"/>
<text x="1325.9" y="271.5" font-size="18.5" text-anchor="end">0</text>
<line x1="1327.4" y1="227.7" x2="1330.4" y2="227.7" stroke="#222" stroke-width="1.2"/>
<text x="1325.9" y="234" font-size="18.5" text-anchor="end">20</text>
<line x1="1327.4" y1="190.2" x2="1330.4" y2="190.2" stroke="#222" stroke-width="1.2"/>
<text x="1325.9" y="196.5" font-size="18.5" text-anchor="end">40</text>
<line x1="1327.4" y1="152.6" x2="1330.4" y2="152.6" stroke="#222" stroke-width="1.2"/>
<text x="1325.9" y="158.9" font-size="18.5" text-anchor="end">60</text>
<line x1="1327.4" y1="115.1" x2="1330.4" y2="115.1" stroke="#222" stroke-width="1.2"/>
<text x="1325.9" y="121.4" font-size="18.5" text-anchor="end">80</text>
<line x1="1327.4" y1="77.6" x2="1330.4" y2="77.6" stroke="#222" stroke-width="1.2"/>
<text x="1325.9" y="83.9" font-size="18.5" text-anchor="end">100</text>
<text x="1469.5" y="59.8" font-size="19" text-anchor="middle">Batch 1, minimal NIM</text>
<line x1="1330.4" y1="298.1" x2="1330.4" y2="487.5" stroke="#222" stroke-width="1.3"/>
<line x1="1327.4" y1="487" x2="1330.4" y2="487" stroke="#222" stroke-width="1.2"/>
<text x="1325.9" y="493.3" font-size="18.5" text-anchor="end">0</text>
<line x1="1327.4" y1="449.3" x2="1330.4" y2="449.3" stroke="#222" stroke-width="1.2"/>
<text x="1325.9" y="455.6" font-size="18.5" text-anchor="end">20</text>
<line x1="1327.4" y1="411.6" x2="1330.4" y2="411.6" stroke="#222" stroke-width="1.2"/>
<text x="1325.9" y="417.9" font-size="18.5" text-anchor="end">40</text>
<line x1="1327.4" y1="374" x2="1330.4" y2="374" stroke="#222" stroke-width="1.2"/>
<text x="1325.9" y="380.3" font-size="18.5" text-anchor="end">60</text>
<line x1="1327.4" y1="336.3" x2="1330.4" y2="336.3" stroke="#222" stroke-width="1.2"/>
<text x="1325.9" y="342.6" font-size="18.5" text-anchor="end">80</text>
<line x1="1327.4" y1="298.6" x2="1330.4" y2="298.6" stroke="#222" stroke-width="1.2"/>
<text x="1325.9" y="304.9" font-size="18.5" text-anchor="end">100</text>
<text x="1475.5" y="288" font-size="19" text-anchor="middle">Batch 2, minimal NIM</text>
<text x="1356.4" y="497" font-size="17.8" text-anchor="end" transform="rotate(-45 1356.4 497)">Ctrl</text>
<text x="1384.3" y="493" font-size="17.8" text-anchor="end" transform="rotate(-45 1384.3 493)">SHH&#160;<tspan dx="2.5">c</tspan><tspan font-size="8" dy="4.5" dx="1">1</tspan></text>
<text x="1407.7" y="493" font-size="17.8" text-anchor="end" transform="rotate(-45 1407.7 493)">SHH&#160;<tspan dx="2.5">c</tspan><tspan font-size="8" dy="4.5" dx="1">5</tspan></text>
<text x="1431" y="493" font-size="17.8" text-anchor="end" transform="rotate(-45 1431 493)">RA&#160;<tspan dx="2.5">c</tspan><tspan font-size="8" dy="4.5" dx="1">1</tspan></text>
<text x="1454.4" y="493" font-size="17.8" text-anchor="end" transform="rotate(-45 1454.4 493)">RA&#160;<tspan dx="2.5">c</tspan><tspan font-size="8" dy="4.5" dx="1">5</tspan></text>
<text x="1477.8" y="493" font-size="17.8" text-anchor="end" transform="rotate(-45 1477.8 493)">CHIR&#160;<tspan dx="2.5">c</tspan><tspan font-size="8" dy="4.5" dx="1">1</tspan></text>
<text x="1501.2" y="493" font-size="17.8" text-anchor="end" transform="rotate(-45 1501.2 493)">CHIR&#160;<tspan dx="2.5">c</tspan><tspan font-size="8" dy="4.5" dx="1">5</tspan></text>
<text x="1524.6" y="493" font-size="17.8" text-anchor="end" transform="rotate(-45 1524.6 493)">FGF-8&#160;<tspan dx="2.5">c</tspan><tspan font-size="8" dy="4.5" dx="1">1</tspan></text>
<text x="1548" y="493" font-size="17.8" text-anchor="end" transform="rotate(-45 1548 493)">FGF-8&#160;<tspan dx="2.5">c</tspan><tspan font-size="8" dy="4.5" dx="1">5</tspan></text>
<text x="1571.3" y="493" font-size="17.8" text-anchor="end" transform="rotate(-45 1571.3 493)">CHIR&#160;<tspan dx="2.5">t</tspan><tspan font-size="8" dy="4.5" dx="1">1</tspan></text>
<text x="1594.7" y="493" font-size="17.8" text-anchor="end" transform="rotate(-45 1594.7 493)">CHIR&#160;<tspan dx="2.5">t</tspan><tspan font-size="8" dy="4.5" dx="1">3</tspan></text>
<text x="1618.1" y="493" font-size="17.8" text-anchor="end" transform="rotate(-45 1618.1 493)">CHIR&#160;<tspan dx="2.5">t</tspan><tspan font-size="8" dy="4.5" dx="1">5</tspan></text>
<line x1="1651.5" y1="77.1" x2="1651.5" y2="265.7" stroke="#222" stroke-width="1.3"/>
<line x1="1648.5" y1="265.2" x2="1651.5" y2="265.2" stroke="#222" stroke-width="1.2"/>
<text x="1647" y="271.5" font-size="18.5" text-anchor="end">0</text>
<line x1="1648.5" y1="227.7" x2="1651.5" y2="227.7" stroke="#222" stroke-width="1.2"/>
<text x="1647" y="234" font-size="18.5" text-anchor="end">20</text>
<line x1="1648.5" y1="190.2" x2="1651.5" y2="190.2" stroke="#222" stroke-width="1.2"/>
<text x="1647" y="196.5" font-size="18.5" text-anchor="end">40</text>
<line x1="1648.5" y1="152.6" x2="1651.5" y2="152.6" stroke="#222" stroke-width="1.2"/>
<text x="1647" y="158.9" font-size="18.5" text-anchor="end">60</text>
<line x1="1648.5" y1="115.1" x2="1651.5" y2="115.1" stroke="#222" stroke-width="1.2"/>
<text x="1647" y="121.4" font-size="18.5" text-anchor="end">80</text>
<line x1="1648.5" y1="77.6" x2="1651.5" y2="77.6" stroke="#222" stroke-width="1.2"/>
<text x="1647" y="83.9" font-size="18.5" text-anchor="end">100</text>
<text x="1795.5" y="59.8" font-size="19" text-anchor="middle">Batch 1, Dual Smad</text>
<line x1="1651.5" y1="298.1" x2="1651.5" y2="487.5" stroke="#222" stroke-width="1.3"/>
<line x1="1648.5" y1="487" x2="1651.5" y2="487" stroke="#222" stroke-width="1.2"/>
<text x="1647" y="493.3" font-size="18.5" text-anchor="end">0</text>
<line x1="1648.5" y1="449.3" x2="1651.5" y2="449.3" stroke="#222" stroke-width="1.2"/>
<text x="1647" y="455.6" font-size="18.5" text-anchor="end">20</text>
<line x1="1648.5" y1="411.6" x2="1651.5" y2="411.6" stroke="#222" stroke-width="1.2"/>
<text x="1647" y="417.9" font-size="18.5" text-anchor="end">40</text>
<line x1="1648.5" y1="374" x2="1651.5" y2="374" stroke="#222" stroke-width="1.2"/>
<text x="1647" y="380.3" font-size="18.5" text-anchor="end">60</text>
<line x1="1648.5" y1="336.3" x2="1651.5" y2="336.3" stroke="#222" stroke-width="1.2"/>
<text x="1647" y="342.6" font-size="18.5" text-anchor="end">80</text>
<line x1="1648.5" y1="298.6" x2="1651.5" y2="298.6" stroke="#222" stroke-width="1.2"/>
<text x="1647" y="304.9" font-size="18.5" text-anchor="end">100</text>
<text x="1795.5" y="288" font-size="19" text-anchor="middle">Batch 2, Dual Smad</text>
<text x="1677.5" y="497" font-size="17.8" text-anchor="end" transform="rotate(-45 1677.5 497)">Ctrl</text>
<text x="1705.4" y="493" font-size="17.8" text-anchor="end" transform="rotate(-45 1705.4 493)">SHH&#160;<tspan dx="2.5">c</tspan><tspan font-size="8" dy="4.5" dx="1">1</tspan></text>
<text x="1728.8" y="493" font-size="17.8" text-anchor="end" transform="rotate(-45 1728.8 493)">SHH&#160;<tspan dx="2.5">c</tspan><tspan font-size="8" dy="4.5" dx="1">5</tspan></text>
<text x="1752.1" y="493" font-size="17.8" text-anchor="end" transform="rotate(-45 1752.1 493)">RA&#160;<tspan dx="2.5">c</tspan><tspan font-size="8" dy="4.5" dx="1">1</tspan></text>
<text x="1775.5" y="493" font-size="17.8" text-anchor="end" transform="rotate(-45 1775.5 493)">RA&#160;<tspan dx="2.5">c</tspan><tspan font-size="8" dy="4.5" dx="1">5</tspan></text>
<text x="1798.9" y="493" font-size="17.8" text-anchor="end" transform="rotate(-45 1798.9 493)">CHIR&#160;<tspan dx="2.5">c</tspan><tspan font-size="8" dy="4.5" dx="1">1</tspan></text>
<text x="1822.3" y="493" font-size="17.8" text-anchor="end" transform="rotate(-45 1822.3 493)">CHIR&#160;<tspan dx="2.5">c</tspan><tspan font-size="8" dy="4.5" dx="1">5</tspan></text>
<text x="1845.7" y="493" font-size="17.8" text-anchor="end" transform="rotate(-45 1845.7 493)">FGF-8&#160;<tspan dx="2.5">c</tspan><tspan font-size="8" dy="4.5" dx="1">1</tspan></text>
<text x="1869.1" y="493" font-size="17.8" text-anchor="end" transform="rotate(-45 1869.1 493)">FGF-8&#160;<tspan dx="2.5">c</tspan><tspan font-size="8" dy="4.5" dx="1">5</tspan></text>
<text x="1892.4" y="493" font-size="17.8" text-anchor="end" transform="rotate(-45 1892.4 493)">CHIR&#160;<tspan dx="2.5">t</tspan><tspan font-size="8" dy="4.5" dx="1">1</tspan></text>
<text x="1915.8" y="493" font-size="17.8" text-anchor="end" transform="rotate(-45 1915.8 493)">CHIR&#160;<tspan dx="2.5">t</tspan><tspan font-size="8" dy="4.5" dx="1">3</tspan></text>
<text x="1939.2" y="493" font-size="17.8" text-anchor="end" transform="rotate(-45 1939.2 493)">CHIR&#160;<tspan dx="2.5">t</tspan><tspan font-size="8" dy="4.5" dx="1">5</tspan></text>
<text x="17" y="26" font-size="26" font-weight="bold">a</text>
<text x="345" y="30" font-size="34" text-anchor="middle" font-weight="bold">H1</text>
<text x="994" y="30" font-size="34" text-anchor="middle" font-weight="bold">WTC</text>
<text x="1640" y="30" font-size="34" text-anchor="middle" font-weight="bold">WIBJ2</text>
<text x="17" y="602" font-size="26" font-weight="bold">b</text>
<text x="531.5" y="605.5" font-size="34" text-anchor="middle" font-weight="bold">H1</text>
<g fill="#58595B">
<rect x="33.2" y="655.5" width="57.6" height="13.6"/>
<rect x="33.2" y="672.2" width="57.6" height="13.6"/>
<rect x="29.8" y="689" width="61" height="13.6"/>
<rect x="37.2" y="705.7" width="53.6" height="13.6"/>
<rect x="37.2" y="722.4" width="53.6" height="13.6"/>
<rect x="43.1" y="739.1" width="47.7" height="13.6"/>
<rect x="44.9" y="755.9" width="45.9" height="13.6"/>
<rect x="35.1" y="772.6" width="55.7" height="13.6"/>
<rect x="35.1" y="789.3" width="55.7" height="13.6"/>
<rect x="50.2" y="806.1" width="40.6" height="13.6"/>
<rect x="37.2" y="822.8" width="53.6" height="13.6"/>
<rect x="32" y="839.5" width="58.8" height="13.6"/>
<rect x="35.1" y="856.3" width="55.7" height="13.6"/>
<rect x="33.2" y="873" width="57.6" height="13.6"/>
<rect x="32" y="889.7" width="58.8" height="13.6"/>
<rect x="32" y="906.5" width="58.8" height="13.6"/>
<rect x="33.2" y="923.2" width="57.6" height="13.6"/>
<rect x="33.2" y="939.9" width="57.6" height="13.6"/>
<rect x="37.2" y="956.6" width="53.6" height="13.6"/>
<rect x="33.2" y="973.4" width="57.6" height="13.6"/>
<rect x="35.1" y="990.1" width="55.7" height="13.6"/>
<rect x="37.2" y="1006.8" width="53.6" height="13.6"/>
<rect x="33.2" y="1023.6" width="57.6" height="13.6"/>
<rect x="33.2" y="1040.3" width="57.6" height="13.6"/>
</g>
<line x1="30.2" y1="652.2" x2="90.8" y2="652.2" stroke="#222" stroke-width="1"/>
<line x1="90.8" y1="648.2" x2="90.8" y2="652.2" stroke="#222" stroke-width="1"/>
<line x1="58.5" y1="648.2" x2="58.5" y2="652.2" stroke="#222" stroke-width="1"/>
<line x1="41" y1="648.2" x2="41" y2="652.2" stroke="#222" stroke-width="1"/>
<line x1="30.2" y1="648.2" x2="30.2" y2="652.2" stroke="#222" stroke-width="1"/>
<text x="27.7" y="645.7" font-size="10.5" text-anchor="middle">3.7</text>
<text x="41.5" y="645.7" font-size="10.5" text-anchor="middle">3</text>
<text x="58.5" y="645.7" font-size="10.5" text-anchor="middle">2</text>
<text x="90.8" y="645.7" font-size="10.5" text-anchor="middle">0</text>
<text x="27.8" y="627.7" font-size="12.5">log<tspan font-size="7" dy="3">10</tspan><tspan dy="-3"> n cells</tspan></text>
<rect x="108" y="669.7" width="274.7" height="184" fill="#EEEEEE"/>
<rect x="108.3" y="653.2" width="20.3" height="15.8" class="o"/>
<text x="118.6" y="666.6" font-size="15.5" text-anchor="middle" style="fill:#fff">1</text>
<rect x="129.4" y="653.2" width="20.3" height="15.8" class="r"/>
<text x="139.7" y="666.6" font-size="15.5" text-anchor="middle" style="fill:#fff">2</text>
<rect x="150.6" y="653.2" width="20.3" height="15.8" class="d"/>
<text x="160.8" y="666.6" font-size="15.5" text-anchor="middle" style="fill:#fff">3</text>
<rect x="171.7" y="653.2" width="20.3" height="15.8" class="h"/>
<text x="182" y="666.6" font-size="15.5" text-anchor="middle" style="fill:#fff">4</text>
<rect x="192.8" y="653.2" width="20.3" height="15.8" class="t"/>
<text x="203.1" y="666.6" font-size="15.5" text-anchor="middle" style="fill:#fff">5</text>
<rect x="213.9" y="653.2" width="20.3" height="15.8" class="f"/>
<text x="224.2" y="666.6" font-size="15.5" text-anchor="middle" style="fill:#fff">6</text>
<rect x="235.1" y="653.2" width="20.3" height="15.8" class="k"/>
<text x="245.3" y="666.6" font-size="15.5" text-anchor="middle" style="fill:#fff">7</text>
<rect x="256.2" y="653.2" width="20.3" height="15.8" class="s"/>
<text x="266.5" y="666.6" font-size="15.5" text-anchor="middle" style="fill:#fff">8</text>
<rect x="277.3" y="653.2" width="20.3" height="15.8" class="p"/>
<text x="287.6" y="666.6" font-size="15.5" text-anchor="middle" style="fill:#fff">9</text>
<rect x="298.5" y="653.2" width="20.3" height="15.8" class="y"/>
<text x="308.7" y="666.6" font-size="15" text-anchor="middle" style="fill:#fff" textLength="17" lengthAdjust="spacingAndGlyphs">10</text>
<rect x="319.6" y="653.2" width="20.3" height="15.8" class="b"/>
<text x="329.9" y="666.6" font-size="15" text-anchor="middle" style="fill:#fff" textLength="17" lengthAdjust="spacingAndGlyphs">11</text>
<rect x="340.7" y="653.2" width="20.3" height="15.8" class="g"/>
<text x="351" y="666.6" font-size="15" text-anchor="middle" style="fill:#fff" textLength="17" lengthAdjust="spacingAndGlyphs">12</text>
<rect x="361.9" y="653.2" width="20.3" height="15.8" class="c"/>
<text x="372.1" y="666.6" font-size="15" text-anchor="middle" style="fill:#fff" textLength="17" lengthAdjust="spacingAndGlyphs">13</text>
<rect x="108" y="870.5" width="274.7" height="184" fill="#EEEEEE"/>
<rect x="108.3" y="854" width="20.3" height="15.8" class="o"/>
<text x="118.6" y="867.4" font-size="15.5" text-anchor="middle" style="fill:#fff">1</text>
<rect x="129.4" y="854" width="20.3" height="15.8" class="r"/>
<text x="139.7" y="867.4" font-size="15.5" text-anchor="middle" style="fill:#fff">2</text>
<rect x="150.6" y="854" width="20.3" height="15.8" class="d"/>
<text x="160.8" y="867.4" font-size="15.5" text-anchor="middle" style="fill:#fff">3</text>
<rect x="171.7" y="854" width="20.3" height="15.8" class="h"/>
<text x="182" y="867.4" font-size="15.5" text-anchor="middle" style="fill:#fff">4</text>
<rect x="192.8" y="854" width="20.3" height="15.8" class="t"/>
<text x="203.1" y="867.4" font-size="15.5" text-anchor="middle" style="fill:#fff">5</text>
<rect x="213.9" y="854" width="20.3" height="15.8" class="f"/>
<text x="224.2" y="867.4" font-size="15.5" text-anchor="middle" style="fill:#fff">6</text>
<rect x="235.1" y="854" width="20.3" height="15.8" class="k"/>
<text x="245.3" y="867.4" font-size="15.5" text-anchor="middle" style="fill:#fff">7</text>
<rect x="256.2" y="854" width="20.3" height="15.8" class="s"/>
<text x="266.5" y="867.4" font-size="15.5" text-anchor="middle" style="fill:#fff">8</text>
<rect x="277.3" y="854" width="20.3" height="15.8" class="p"/>
<text x="287.6" y="867.4" font-size="15.5" text-anchor="middle" style="fill:#fff">9</text>
<rect x="298.5" y="854" width="20.3" height="15.8" class="y"/>
<text x="308.7" y="867.4" font-size="15" text-anchor="middle" style="fill:#fff" textLength="17" lengthAdjust="spacingAndGlyphs">10</text>
<rect x="319.6" y="854" width="20.3" height="15.8" class="b"/>
<text x="329.9" y="867.4" font-size="15" text-anchor="middle" style="fill:#fff" textLength="17" lengthAdjust="spacingAndGlyphs">11</text>
<rect x="340.7" y="854" width="20.3" height="15.8" class="g"/>
<text x="351" y="867.4" font-size="15" text-anchor="middle" style="fill:#fff" textLength="17" lengthAdjust="spacingAndGlyphs">12</text>
<rect x="361.9" y="854" width="20.3" height="15.8" class="c"/>
<text x="372.1" y="867.4" font-size="15" text-anchor="middle" style="fill:#fff" textLength="17" lengthAdjust="spacingAndGlyphs">13</text>
<rect x="108" y="669.7" width="21.2" height="16.8" fill="#FDDCC0"/>
<rect x="171.4" y="669.7" width="21.2" height="16.8" fill="#F47B20"/>
<rect x="319.3" y="669.7" width="21.2" height="16.8" fill="#D6C8E3"/>
<rect x="340.4" y="669.7" width="21.2" height="16.8" fill="#F9A25B"/>
<rect x="108" y="686.5" width="21.2" height="16.8" fill="#4E2067"/>
<rect x="171.4" y="686.5" width="21.2" height="16.8" fill="#F47B20"/>
<rect x="298.2" y="686.5" width="21.2" height="16.8" fill="#F9A25B"/>
<rect x="319.3" y="686.5" width="21.2" height="16.8" fill="#FDDCC0"/>
<rect x="340.4" y="686.5" width="21.2" height="16.8" fill="#F47B20"/>
<rect x="108" y="703.2" width="21.2" height="16.8" fill="#9162A8"/>
<rect x="129.1" y="703.2" width="21.2" height="16.8" fill="#F47B20"/>
<rect x="234.8" y="703.2" width="21.2" height="16.8" fill="#F47B20"/>
<rect x="255.9" y="703.2" width="21.2" height="16.8" fill="#F47B20"/>
<rect x="319.3" y="703.2" width="21.2" height="16.8" fill="#D9CCE5"/>
<rect x="108" y="719.9" width="21.2" height="16.8" fill="#4E2067"/>
<rect x="129.1" y="719.9" width="21.2" height="16.8" fill="#F47B20"/>
<rect x="234.8" y="719.9" width="21.2" height="16.8" fill="#F47B20"/>
<rect x="255.9" y="719.9" width="21.2" height="16.8" fill="#F47B20"/>
<rect x="319.3" y="719.9" width="21.2" height="16.8" fill="#B394C7"/>
<rect x="340.4" y="719.9" width="21.2" height="16.8" fill="#F47B20"/>
<rect x="108" y="736.6" width="21.2" height="16.8" fill="#FEEBDC"/>
<rect x="129.1" y="736.6" width="21.2" height="16.8" fill="#F47B20"/>
<rect x="319.3" y="736.6" width="21.2" height="16.8" fill="#E6DEEE"/>
<rect x="108" y="753.4" width="21.2" height="16.8" fill="#4E2067"/>
<rect x="319.3" y="753.4" width="21.2" height="16.8" fill="#4E2067"/>
<rect x="340.4" y="753.4" width="21.2" height="16.8" fill="#F47B20"/>
<rect x="108" y="770.1" width="21.2" height="16.8" fill="#FEEBDC"/>
<rect x="108" y="786.8" width="21.2" height="16.8" fill="#FEEBDC"/>
<rect x="108" y="803.6" width="21.2" height="16.8" fill="#4E2067"/>
<rect x="150.3" y="803.6" width="21.2" height="16.8" fill="#F47B20"/>
<rect x="319.3" y="803.6" width="21.2" height="16.8" fill="#4E2067"/>
<rect x="340.4" y="803.6" width="21.2" height="16.8" fill="#F47B20"/>
<rect x="361.6" y="803.6" width="21.2" height="16.8" fill="#F47B20"/>
<rect x="150.3" y="820.3" width="21.2" height="16.8" fill="#F58526"/>
<rect x="108" y="837" width="21.2" height="16.8" fill="#EDE8F2"/>
<rect x="319.3" y="837" width="21.2" height="16.8" fill="#FAEEE4"/>
<rect x="171.4" y="870.5" width="21.2" height="16.8" fill="#FDCDA5"/>
<rect x="192.5" y="870.5" width="21.2" height="16.8" fill="#FBBD8A"/>
<rect x="213.6" y="870.5" width="21.2" height="16.8" fill="#FDCDA5"/>
<rect x="108" y="887.2" width="21.2" height="16.8" fill="#4E2067"/>
<rect x="171.4" y="887.2" width="21.2" height="16.8" fill="#F47B20"/>
<rect x="192.5" y="887.2" width="21.2" height="16.8" fill="#FAAE70"/>
<rect x="213.6" y="887.2" width="21.2" height="16.8" fill="#F47B20"/>
<rect x="298.2" y="887.2" width="21.2" height="16.8" fill="#F9A25B"/>
<rect x="319.3" y="887.2" width="21.2" height="16.8" fill="#FEEBDC"/>
<rect x="340.4" y="887.2" width="21.2" height="16.8" fill="#F47B20"/>
<rect x="108" y="904" width="21.2" height="16.8" fill="#C9B5D9"/>
<rect x="171.4" y="904" width="21.2" height="16.8" fill="#FDD0AA"/>
<rect x="192.5" y="904" width="21.2" height="16.8" fill="#FCC79A"/>
<rect x="213.6" y="904" width="21.2" height="16.8" fill="#FBBD8A"/>
<rect x="234.8" y="904" width="21.2" height="16.8" fill="#F47B20"/>
<rect x="255.9" y="904" width="21.2" height="16.8" fill="#F47B20"/>
<rect x="319.3" y="904" width="21.2" height="16.8" fill="#EDE8F2"/>
<rect x="340.4" y="904" width="21.2" height="16.8" fill="#F58526"/>
<rect x="108" y="920.7" width="21.2" height="16.8" fill="#7A4494"/>
<rect x="129.1" y="920.7" width="21.2" height="16.8" fill="#F47B20"/>
<rect x="213.6" y="920.7" width="21.2" height="16.8" fill="#F9A25B"/>
<rect x="234.8" y="920.7" width="21.2" height="16.8" fill="#F47B20"/>
<rect x="255.9" y="920.7" width="21.2" height="16.8" fill="#F47B20"/>
<rect x="340.4" y="920.7" width="21.2" height="16.8" fill="#F47B20"/>
<rect x="108" y="937.4" width="21.2" height="16.8" fill="#4E2067"/>
<rect x="150.3" y="937.4" width="21.2" height="16.8" fill="#F58526"/>
<rect x="171.4" y="937.4" width="21.2" height="16.8" fill="#F9A25B"/>
<rect x="192.5" y="937.4" width="21.2" height="16.8" fill="#FAAE70"/>
<rect x="213.6" y="937.4" width="21.2" height="16.8" fill="#F47B20"/>
<rect x="298.2" y="937.4" width="21.2" height="16.8" fill="#F47B20"/>
<rect x="340.4" y="937.4" width="21.2" height="16.8" fill="#F47B20"/>
<rect x="108" y="954.1" width="21.2" height="16.8" fill="#4E2067"/>
<rect x="171.4" y="954.1" width="21.2" height="16.8" fill="#4E2067"/>
<rect x="192.5" y="954.1" width="21.2" height="16.8" fill="#F68D35"/>
<rect x="234.8" y="954.1" width="21.2" height="16.8" fill="#F47B20"/>
<rect x="255.9" y="954.1" width="21.2" height="16.8" fill="#F47B20"/>
<rect x="298.2" y="954.1" width="21.2" height="16.8" fill="#B394C7"/>
<rect x="340.4" y="954.1" width="21.2" height="16.8" fill="#F47B20"/>
<rect x="108" y="970.9" width="21.2" height="16.8" fill="#E3DAEC"/>
<rect x="171.4" y="970.9" width="21.2" height="16.8" fill="#FDD6B5"/>
<rect x="192.5" y="970.9" width="21.2" height="16.8" fill="#FBBD8A"/>
<rect x="213.6" y="970.9" width="21.2" height="16.8" fill="#FDCAA0"/>
<rect x="298.2" y="970.9" width="21.2" height="16.8" fill="#F89644"/>
<rect x="108" y="987.6" width="21.2" height="16.8" fill="#EDE8F2"/>
<rect x="171.4" y="987.6" width="21.2" height="16.8" fill="#FBBD8A"/>
<rect x="192.5" y="987.6" width="21.2" height="16.8" fill="#FBB780"/>
<rect x="298.2" y="987.6" width="21.2" height="16.8" fill="#FAA968"/>
<rect x="340.4" y="987.6" width="21.2" height="16.8" fill="#F89644"/>
<rect x="108" y="1004.3" width="21.2" height="16.8" fill="#4E2067"/>
<rect x="171.4" y="1004.3" width="21.2" height="16.8" fill="#5E2A7C"/>
<rect x="192.5" y="1004.3" width="21.2" height="16.8" fill="#F47B20"/>
<rect x="213.6" y="1004.3" width="21.2" height="16.8" fill="#F47B20"/>
<rect x="255.9" y="1004.3" width="21.2" height="16.8" fill="#F47B20"/>
<rect x="340.4" y="1004.3" width="21.2" height="16.8" fill="#F47B20"/>
<rect x="361.6" y="1004.3" width="21.2" height="16.8" fill="#F47B20"/>
<rect x="171.4" y="1021.1" width="21.2" height="16.8" fill="#D6C8E3"/>
<rect x="192.5" y="1021.1" width="21.2" height="16.8" fill="#F9A25B"/>
<rect x="255.9" y="1021.1" width="21.2" height="16.8" fill="#FDCAA0"/>
<rect x="298.2" y="1021.1" width="21.2" height="16.8" fill="#FDDCC0"/>
<rect x="108" y="1037.8" width="21.2" height="16.8" fill="#EDE8F2"/>
<rect x="171.4" y="1037.8" width="21.2" height="16.8" fill="#FDD6B5"/>
<rect x="298.2" y="1037.8" width="21.2" height="16.8" fill="#FDCAA0"/>
<text x="535.5" y="627" font-size="13" text-anchor="middle">Days <tspan font-style="italic">in vitro</tspan></text>
<text x="391" y="647.8" font-size="13" text-anchor="middle">0</text>
<text x="417.6" y="647.8" font-size="13" text-anchor="middle">2</text>
<text x="444.1" y="647.8" font-size="13" text-anchor="middle">4</text>
<text x="470.7" y="647.8" font-size="13" text-anchor="middle">6</text>
<text x="497.2" y="647.8" font-size="13" text-anchor="middle">8</text>
<text x="523.8" y="647.8" font-size="13" text-anchor="middle">10</text>
<text x="550.4" y="647.8" font-size="13" text-anchor="middle">12</text>
<text x="576.9" y="647.8" font-size="13" text-anchor="middle">14</text>
<text x="603.5" y="647.8" font-size="13" text-anchor="middle">16</text>
<text x="630" y="647.8" font-size="13" text-anchor="middle">18</text>
<text x="661" y="647.8" font-size="13" text-anchor="middle">2021</text>
<rect x="391" y="653.3" width="287.1" height="14.2" fill="#C9C9C9"/>
<line x1="391" y1="702.3" x2="678.1" y2="702.3" stroke="#333" stroke-width="0.8"/>
<line x1="391" y1="769.2" x2="678.1" y2="769.2" stroke="#333" stroke-width="0.8"/>
<line x1="391" y1="819.4" x2="678.1" y2="819.4" stroke="#333" stroke-width="0.8"/>
<line x1="391" y1="836.1" x2="678.1" y2="836.1" stroke="#333" stroke-width="0.8"/>
<rect x="432" y="669.4" width="150.4" height="16.4" fill="#FDE4C6"/>
<rect x="432" y="686.2" width="150.4" height="16.4" fill="#F9A11F"/>
<rect x="514" y="702.9" width="150.4" height="16.4" fill="#F3F6D3"/>
<rect x="514" y="719.6" width="150.4" height="16.4" fill="#D7DF23"/>
<rect x="391" y="736.4" width="123" height="16.4" fill="#D0E0E2"/>
<rect x="391" y="753.1" width="123" height="16.4" fill="#0E8A87"/>
<rect x="432" y="769.8" width="150.4" height="16.4" fill="#DACDE8"/>
<rect x="432" y="786.5" width="150.4" height="16.4" fill="#8048A2"/>
<rect x="391" y="803.3" width="41" height="15.5" fill="#7BA8AC"/>
<rect x="527.7" y="820.3" width="41" height="15.5" fill="#7BA8AC"/>
<rect x="623.4" y="837" width="41" height="15.5" fill="#7BA8AC"/>
<rect x="391" y="854.1" width="287.1" height="14.2" fill="#C9C9C9"/>
<line x1="391" y1="886.3" x2="678.1" y2="886.3" stroke="#333" stroke-width="0.8"/>
<line x1="391" y1="953.2" x2="678.1" y2="953.2" stroke="#333" stroke-width="0.8"/>
<line x1="391" y1="1003.4" x2="678.1" y2="1003.4" stroke="#333" stroke-width="0.8"/>
<line x1="391" y1="1036.9" x2="678.1" y2="1036.9" stroke="#333" stroke-width="0.8"/>
<rect x="432" y="870.2" width="150.4" height="16.4" fill="#FDE4C6"/>
<rect x="432" y="886.9" width="150.4" height="16.4" fill="#F9A11F"/>
<rect x="514" y="903.7" width="150.4" height="16.4" fill="#F3F6D3"/>
<rect x="514" y="920.4" width="150.4" height="16.4" fill="#D7DF23"/>
<rect x="391" y="937.1" width="123" height="16.4" fill="#D0E0E2"/>
<rect x="391" y="953.8" width="123" height="16.4" fill="#0E8A87"/>
<rect x="432" y="970.6" width="150.4" height="16.4" fill="#DACDE8"/>
<rect x="432" y="987.3" width="150.4" height="16.4" fill="#8048A2"/>
<rect x="391" y="1004" width="41" height="15.5" fill="#7BA8AC"/>
<rect x="527.7" y="1021.1" width="41" height="15.5" fill="#7BA8AC"/>
<rect x="623.4" y="1037.8" width="41" height="15.5" fill="#7BA8AC"/>
<line x1="432" y1="653" x2="432" y2="1054.5" stroke="#888" stroke-width="0.6" stroke-dasharray="2.2 1.8"/>
<line x1="459.4" y1="653" x2="459.4" y2="1054.5" stroke="#888" stroke-width="0.6" stroke-dasharray="2.2 1.8"/>
<line x1="473" y1="653" x2="473" y2="1054.5" stroke="#888" stroke-width="0.6" stroke-dasharray="2.2 1.8"/>
<line x1="486.7" y1="653" x2="486.7" y2="1054.5" stroke="#888" stroke-width="0.6" stroke-dasharray="2.2 1.8"/>
<line x1="514" y1="653" x2="514" y2="1054.5" stroke="#888" stroke-width="0.6" stroke-dasharray="2.2 1.8"/>
<line x1="541.4" y1="653" x2="541.4" y2="1054.5" stroke="#888" stroke-width="0.6" stroke-dasharray="2.2 1.8"/>
<line x1="555" y1="653" x2="555" y2="1054.5" stroke="#888" stroke-width="0.6" stroke-dasharray="2.2 1.8"/>
<line x1="568.7" y1="653" x2="568.7" y2="1054.5" stroke="#888" stroke-width="0.6" stroke-dasharray="2.2 1.8"/>
<line x1="596" y1="653" x2="596" y2="1054.5" stroke="#888" stroke-width="0.6" stroke-dasharray="2.2 1.8"/>
<line x1="637.1" y1="653" x2="637.1" y2="1054.5" stroke="#888" stroke-width="0.6" stroke-dasharray="2.2 1.8"/>
<line x1="664.4" y1="653" x2="664.4" y2="1054.5" stroke="#888" stroke-width="0.6" stroke-dasharray="2.2 1.8"/>
<line x1="391" y1="668.2" x2="678.1" y2="668.2" stroke="#000" stroke-width="1.6"/>
<rect x="482.6" y="669.7" width="53.3" height="32.7" fill="#fff" stroke="#F9A11F" stroke-width="0.9"/>
<text x="509.2" y="692.7" font-size="19" text-anchor="middle" font-weight="bold" style="fill:#F9A11F">SHH</text>
<rect x="568.7" y="703.2" width="54.7" height="32.7" fill="#fff" stroke="#D7DF23" stroke-width="0.9"/>
<text x="596.1" y="726.2" font-size="19" text-anchor="middle" font-weight="bold" style="fill:#D7DF23">RA</text>
<rect x="426.5" y="736.6" width="54.7" height="32.7" fill="#fff" stroke="#0E8A87" stroke-width="0.9"/>
<text x="453.9" y="759.6" font-size="19" text-anchor="middle" font-weight="bold" style="fill:#0E8A87">CHIR</text>
<rect x="487.4" y="770.1" width="54" height="32.7" fill="#fff" stroke="#8048A2" stroke-width="0.9"/>
<text x="514.4" y="793.1" font-size="19" text-anchor="middle" font-weight="bold" style="fill:#8048A2">FGF-8</text>
<line x1="391" y1="869" x2="678.1" y2="869" stroke="#000" stroke-width="1.6"/>
<rect x="482.6" y="870.5" width="53.3" height="32.7" fill="#fff" stroke="#F9A11F" stroke-width="0.9"/>
<text x="509.2" y="893.5" font-size="19" text-anchor="middle" font-weight="bold" style="fill:#F9A11F">SHH</text>
<rect x="568.7" y="904" width="54.7" height="32.7" fill="#fff" stroke="#D7DF23" stroke-width="0.9"/>
<text x="596.1" y="927" font-size="19" text-anchor="middle" font-weight="bold" style="fill:#D7DF23">RA</text>
<rect x="426.5" y="937.4" width="54.7" height="32.7" fill="#fff" stroke="#0E8A87" stroke-width="0.9"/>
<text x="453.9" y="960.4" font-size="19" text-anchor="middle" font-weight="bold" style="fill:#0E8A87">CHIR</text>
<rect x="487.4" y="970.9" width="54" height="32.7" fill="#fff" stroke="#8048A2" stroke-width="0.9"/>
<text x="514.4" y="993.9" font-size="19" text-anchor="middle" font-weight="bold" style="fill:#8048A2">FGF-8</text>
<line x1="391" y1="852.6" x2="678.1" y2="852.6" stroke="#000" stroke-width="1.6"/>
<line x1="391" y1="652.5" x2="678.1" y2="652.5" stroke="#000" stroke-width="1.6"/>
<line x1="393" y1="1053.9" x2="679.1" y2="1053.9" stroke="#000" stroke-width="1.6"/>
<g>
<rect x="685.5" y="655" width="220.4" height="14.2" class="o"/>
<rect x="905.7" y="655" width="45.9" height="14.2" class="b"/>
<rect x="685.5" y="671.7" width="246.2" height="14.2" class="o"/>
<rect x="931.5" y="671.7" width="2.3" height="14.2" class="h"/>
<rect x="933.7" y="671.7" width="16.1" height="14.2" class="b"/>
<rect x="949.6" y="671.7" width="2" height="14.2" class="g"/>
<rect x="685.5" y="688.5" width="5.5" height="14.2" class="o"/>
<rect x="690.8" y="688.5" width="164.5" height="14.2" class="h"/>
<rect x="855.2" y="688.5" width="2.3" height="14.2" class="y"/>
<rect x="857.3" y="688.5" width="87.4" height="14.2" class="b"/>
<rect x="944.6" y="688.5" width="7.1" height="14.2" class="g"/>
<rect x="685.5" y="705.2" width="76" height="14.2" class="o"/>
<rect x="761.3" y="705.2" width="151.8" height="14.2" class="k"/>
<rect x="912.9" y="705.2" width="18" height="14.2" class="s"/>
<rect x="930.8" y="705.2" width="20.9" height="14.2" class="b"/>
<rect x="685.5" y="721.9" width="13.5" height="14.2" class="o"/>
<rect x="698.8" y="721.9" width="7.1" height="14.2" class="r"/>
<rect x="705.7" y="721.9" width="160.8" height="14.2" class="k"/>
<rect x="866.4" y="721.9" width="7.1" height="14.2" class="s"/>
<rect x="873.3" y="721.9" width="9.2" height="14.2" class="b"/>
<rect x="882.3" y="721.9" width="69.3" height="14.2" class="g"/>
<rect x="685.5" y="738.6" width="233.2" height="14.2" class="o"/>
<rect x="918.5" y="738.6" width="3.3" height="14.2" class="r"/>
<rect x="921.7" y="738.6" width="2.5" height="14.2" class="k"/>
<rect x="924.1" y="738.6" width="27.5" height="14.2" class="b"/>
<rect x="685.5" y="755.4" width="266.1" height="14.2" class="g"/>
<rect x="685.5" y="772.1" width="228.9" height="14.2" class="o"/>
<rect x="914.3" y="772.1" width="37.4" height="14.2" class="b"/>
<rect x="685.5" y="788.8" width="230.5" height="14.2" class="o"/>
<rect x="915.9" y="788.8" width="35.8" height="14.2" class="b"/>
<rect x="685.5" y="805.6" width="2.3" height="14.2" class="o"/>
<rect x="687.6" y="805.6" width="4.9" height="14.2" class="d"/>
<rect x="692.4" y="805.6" width="2.5" height="14.2" class="t"/>
<rect x="694.8" y="805.6" width="254.2" height="14.2" class="g"/>
<rect x="948.8" y="805.6" width="2.8" height="14.2" class="c"/>
<rect x="685.5" y="822.3" width="213" height="14.2" class="o"/>
<rect x="898.3" y="822.3" width="2.3" height="14.2" class="d"/>
<rect x="900.4" y="822.3" width="51.2" height="14.2" class="b"/>
<rect x="685.5" y="839" width="209.2" height="14.2" class="o"/>
<rect x="894.6" y="839" width="57.1" height="14.2" class="b"/>
<rect x="685.5" y="855.8" width="186.3" height="14.2" class="o"/>
<rect x="871.7" y="855.8" width="3.9" height="14.2" class="h"/>
<rect x="875.4" y="855.8" width="2.3" height="14.2" class="k"/>
<rect x="877.6" y="855.8" width="2.8" height="14.2" class="f"/>
<rect x="880.2" y="855.8" width="2.3" height="14.2" class="y"/>
<rect x="882.3" y="855.8" width="69.3" height="14.2" class="b"/>
<rect x="685.5" y="872.5" width="168.5" height="14.2" class="o"/>
<rect x="853.9" y="872.5" width="8.4" height="14.2" class="h"/>
<rect x="862.1" y="872.5" width="3.6" height="14.2" class="t"/>
<rect x="865.6" y="872.5" width="6.8" height="14.2" class="f"/>
<rect x="872.2" y="872.5" width="2.3" height="14.2" class="k"/>
<rect x="874.4" y="872.5" width="2.8" height="14.2" class="y"/>
<rect x="877" y="872.5" width="74.6" height="14.2" class="b"/>
<rect x="685.5" y="889.2" width="16.1" height="14.2" class="o"/>
<rect x="701.5" y="889.2" width="72" height="14.2" class="h"/>
<rect x="773.3" y="889.2" width="5.5" height="14.2" class="t"/>
<rect x="778.6" y="889.2" width="64.8" height="14.2" class="f"/>
<rect x="843.2" y="889.2" width="18" height="14.2" class="y"/>
<rect x="861.1" y="889.2" width="86.9" height="14.2" class="b"/>
<rect x="947.8" y="889.2" width="3.9" height="14.2" class="g"/>
<rect x="685.5" y="906" width="100.7" height="14.2" class="o"/>
<rect x="786" y="906" width="10.3" height="14.2" class="h"/>
<rect x="796.2" y="906" width="2.5" height="14.2" class="t"/>
<rect x="798.5" y="906" width="6.8" height="14.2" class="f"/>
<rect x="805.2" y="906" width="13.5" height="14.2" class="k"/>
<rect x="818.5" y="906" width="77.3" height="14.2" class="s"/>
<rect x="895.6" y="906" width="4.1" height="14.2" class="y"/>
<rect x="899.6" y="906" width="49.4" height="14.2" class="b"/>
<rect x="685.5" y="922.7" width="34.2" height="14.2" class="o"/>
<rect x="719.5" y="922.7" width="3.3" height="14.2" class="t"/>
<rect x="722.7" y="922.7" width="14" height="14.2" class="f"/>
<rect x="736.6" y="922.7" width="34.2" height="14.2" class="k"/>
<rect x="770.6" y="922.7" width="103.9" height="14.2" class="s"/>
<rect x="874.4" y="922.7" width="3.6" height="14.2" class="y"/>
<rect x="877.8" y="922.7" width="71.2" height="14.2" class="b"/>
<rect x="685.5" y="939.4" width="20.9" height="14.2" class="o"/>
<rect x="706.2" y="939.4" width="1.2" height="14.2" class="d"/>
<rect x="707.3" y="939.4" width="28.9" height="14.2" class="h"/>
<rect x="736" y="939.4" width="4.9" height="14.2" class="t"/>
<rect x="740.8" y="939.4" width="86.9" height="14.2" class="f"/>
<rect x="827.5" y="939.4" width="59.7" height="14.2" class="y"/>
<rect x="887.1" y="939.4" width="60.3" height="14.2" class="b"/>
<rect x="947.2" y="939.4" width="4.4" height="14.2" class="g"/>
<rect x="685.5" y="956.1" width="9.7" height="14.2" class="t"/>
<rect x="695.1" y="956.1" width="2.3" height="14.2" class="k"/>
<rect x="697.2" y="956.1" width="181.6" height="14.2" class="s"/>
<rect x="878.6" y="956.1" width="69.3" height="14.2" class="b"/>
<rect x="947.8" y="956.1" width="3.9" height="14.2" class="g"/>
<rect x="685.5" y="972.9" width="148.3" height="14.2" class="o"/>
<rect x="833.7" y="972.9" width="7.3" height="14.2" class="h"/>
<rect x="840.8" y="972.9" width="4.4" height="14.2" class="t"/>
<rect x="845.1" y="972.9" width="5.5" height="14.2" class="f"/>
<rect x="850.4" y="972.9" width="2.8" height="14.2" class="k"/>
<rect x="853.1" y="972.9" width="22.2" height="14.2" class="y"/>
<rect x="875.2" y="972.9" width="76.5" height="14.2" class="b"/>
<rect x="685.5" y="989.6" width="164.3" height="14.2" class="o"/>
<rect x="849.6" y="989.6" width="13.2" height="14.2" class="h"/>
<rect x="862.7" y="989.6" width="3.9" height="14.2" class="t"/>
<rect x="866.4" y="989.6" width="3.3" height="14.2" class="s"/>
<rect x="869.6" y="989.6" width="3.1" height="14.2" class="k"/>
<rect x="872.5" y="989.6" width="14.2" height="14.2" class="y"/>
<rect x="886.6" y="989.6" width="63.5" height="14.2" class="b"/>
<rect x="949.9" y="989.6" width="1.7" height="14.2" class="g"/>
<rect x="685.5" y="1006.3" width="57.3" height="14.2" class="t"/>
<rect x="742.7" y="1006.3" width="102.6" height="14.2" class="f"/>
<rect x="845.1" y="1006.3" width="37.4" height="14.2" class="s"/>
<rect x="882.3" y="1006.3" width="60" height="14.2" class="b"/>
<rect x="942.2" y="1006.3" width="3.3" height="14.2" class="g"/>
<rect x="945.4" y="1006.3" width="6.3" height="14.2" class="c"/>
<rect x="685.5" y="1023.1" width="183.7" height="14.2" class="o"/>
<rect x="869" y="1023.1" width="7.6" height="14.2" class="t"/>
<rect x="876.5" y="1023.1" width="2" height="14.2" class="k"/>
<rect x="878.4" y="1023.1" width="6.8" height="14.2" class="s"/>
<rect x="885" y="1023.1" width="4.9" height="14.2" class="y"/>
<rect x="889.8" y="1023.1" width="61.9" height="14.2" class="b"/>
<rect x="685.5" y="1039.8" width="167.2" height="14.2" class="o"/>
<rect x="852.5" y="1039.8" width="9.5" height="14.2" class="h"/>
<rect x="861.9" y="1039.8" width="2" height="14.2" class="t"/>
<rect x="863.7" y="1039.8" width="2" height="14.2" class="k"/>
<rect x="865.6" y="1039.8" width="7.6" height="14.2" class="y"/>
<rect x="873" y="1039.8" width="78.6" height="14.2" class="b"/>
</g>
<line x1="685.5" y1="651" x2="951.5" y2="651" stroke="#222" stroke-width="0.9"/>
<line x1="685.5" y1="647" x2="685.5" y2="651" stroke="#222" stroke-width="0.9"/>
<text x="685.5" y="643.5" font-size="11" text-anchor="middle">0</text>
<line x1="752" y1="647" x2="752" y2="651" stroke="#222" stroke-width="0.9"/>
<text x="752" y="643.5" font-size="11" text-anchor="middle">25</text>
<line x1="818.5" y1="647" x2="818.5" y2="651" stroke="#222" stroke-width="0.9"/>
<text x="818.5" y="643.5" font-size="11" text-anchor="middle">50</text>
<line x1="885" y1="647" x2="885" y2="651" stroke="#222" stroke-width="0.9"/>
<text x="885" y="643.5" font-size="11" text-anchor="middle">75</text>
<line x1="951.5" y1="647" x2="951.5" y2="651" stroke="#222" stroke-width="0.9"/>
<text x="951.5" y="643.5" font-size="11" text-anchor="middle">100</text>
<text x="819.5" y="627" font-size="13" text-anchor="middle">% cells per condtion</text>
<text x="1500.5" y="605.5" font-size="34" text-anchor="middle" font-weight="bold">WTC</text>
<g fill="#58595B">
<rect x="1007.7" y="655.5" width="57.9" height="13.6"/>
<rect x="1014.5" y="672.2" width="51.1" height="13.6"/>
<rect x="1006.2" y="689" width="59.4" height="13.6"/>
<rect x="1012.6" y="705.7" width="53" height="13.6"/>
<rect x="1012.6" y="722.4" width="53" height="13.6"/>
<rect x="1014.5" y="739.1" width="51.1" height="13.6"/>
<rect x="1017.6" y="755.9" width="48" height="13.6"/>
<rect x="1011.1" y="772.6" width="54.5" height="13.6"/>
<rect x="1012.6" y="789.3" width="53" height="13.6"/>
<rect x="1029.3" y="806.1" width="36.3" height="13.6"/>
<rect x="1017.6" y="822.8" width="48" height="13.6"/>
<rect x="1009.3" y="839.5" width="56.3" height="13.6"/>
<rect x="1009.3" y="856.3" width="56.3" height="13.6"/>
<rect x="1011.1" y="873" width="54.5" height="13.6"/>
<rect x="1009.3" y="889.7" width="56.3" height="13.6"/>
<rect x="1009.3" y="906.5" width="56.3" height="13.6"/>
<rect x="1009.3" y="923.2" width="56.3" height="13.6"/>
<rect x="1011.1" y="939.9" width="54.5" height="13.6"/>
<rect x="1009.3" y="956.6" width="56.3" height="13.6"/>
<rect x="1011.1" y="973.4" width="54.5" height="13.6"/>
<rect x="1006.2" y="990.1" width="59.4" height="13.6"/>
<rect x="1009.3" y="1006.8" width="56.3" height="13.6"/>
<rect x="1011.1" y="1023.6" width="54.5" height="13.6"/>
<rect x="1009.3" y="1040.3" width="56.3" height="13.6"/>
</g>
<line x1="1006.1" y1="652.2" x2="1065.6" y2="652.2" stroke="#222" stroke-width="1"/>
<line x1="1065.6" y1="648.2" x2="1065.6" y2="652.2" stroke="#222" stroke-width="1"/>
<line x1="1033.3" y1="648.2" x2="1033.3" y2="652.2" stroke="#222" stroke-width="1"/>
<line x1="1015.8" y1="648.2" x2="1015.8" y2="652.2" stroke="#222" stroke-width="1"/>
<line x1="1006.1" y1="648.2" x2="1006.1" y2="652.2" stroke="#222" stroke-width="1"/>
<text x="1003.6" y="645.7" font-size="10.5" text-anchor="middle">3.6</text>
<text x="1016.3" y="645.7" font-size="10.5" text-anchor="middle">3</text>
<text x="1033.3" y="645.7" font-size="10.5" text-anchor="middle">2</text>
<text x="1065.6" y="645.7" font-size="10.5" text-anchor="middle">0</text>
<text x="1002.6" y="627.7" font-size="12.5">log<tspan font-size="7" dy="3">10</tspan><tspan dy="-3"> n cells</tspan></text>
<rect x="1083.1" y="669.7" width="274.7" height="184" fill="#EEEEEE"/>
<rect x="1083.4" y="653.2" width="20.3" height="15.8" class="o"/>
<text x="1093.7" y="666.6" font-size="15.5" text-anchor="middle" style="fill:#fff">1</text>
<rect x="1104.5" y="653.2" width="20.3" height="15.8" class="r"/>
<text x="1114.8" y="666.6" font-size="15.5" text-anchor="middle" style="fill:#fff">2</text>
<rect x="1125.7" y="653.2" width="20.3" height="15.8" class="d"/>
<text x="1135.9" y="666.6" font-size="15.5" text-anchor="middle" style="fill:#fff">3</text>
<rect x="1146.8" y="653.2" width="20.3" height="15.8" class="h"/>
<text x="1157.1" y="666.6" font-size="15.5" text-anchor="middle" style="fill:#fff">4</text>
<rect x="1167.9" y="653.2" width="20.3" height="15.8" class="t"/>
<text x="1178.2" y="666.6" font-size="15.5" text-anchor="middle" style="fill:#fff">5</text>
<rect x="1189" y="653.2" width="20.3" height="15.8" class="f"/>
<text x="1199.3" y="666.6" font-size="15.5" text-anchor="middle" style="fill:#fff">6</text>
<rect x="1210.2" y="653.2" width="20.3" height="15.8" class="k"/>
<text x="1220.4" y="666.6" font-size="15.5" text-anchor="middle" style="fill:#fff">7</text>
<rect x="1231.3" y="653.2" width="20.3" height="15.8" class="s"/>
<text x="1241.6" y="666.6" font-size="15.5" text-anchor="middle" style="fill:#fff">8</text>
<rect x="1252.4" y="653.2" width="20.3" height="15.8" class="p"/>
<text x="1262.7" y="666.6" font-size="15.5" text-anchor="middle" style="fill:#fff">9</text>
<rect x="1273.6" y="653.2" width="20.3" height="15.8" class="y"/>
<text x="1283.8" y="666.6" font-size="15" text-anchor="middle" style="fill:#fff" textLength="17" lengthAdjust="spacingAndGlyphs">10</text>
<rect x="1294.7" y="653.2" width="20.3" height="15.8" class="b"/>
<text x="1305" y="666.6" font-size="15" text-anchor="middle" style="fill:#fff" textLength="17" lengthAdjust="spacingAndGlyphs">11</text>
<rect x="1315.8" y="653.2" width="20.3" height="15.8" class="g"/>
<text x="1326.1" y="666.6" font-size="15" text-anchor="middle" style="fill:#fff" textLength="17" lengthAdjust="spacingAndGlyphs">12</text>
<rect x="1337" y="653.2" width="20.3" height="15.8" class="c"/>
<text x="1347.2" y="666.6" font-size="15" text-anchor="middle" style="fill:#fff" textLength="17" lengthAdjust="spacingAndGlyphs">13</text>
<rect x="1083.1" y="870.5" width="274.7" height="184" fill="#EEEEEE"/>
<rect x="1083.4" y="854" width="20.3" height="15.8" class="o"/>
<text x="1093.7" y="867.4" font-size="15.5" text-anchor="middle" style="fill:#fff">1</text>
<rect x="1104.5" y="854" width="20.3" height="15.8" class="r"/>
<text x="1114.8" y="867.4" font-size="15.5" text-anchor="middle" style="fill:#fff">2</text>
<rect x="1125.7" y="854" width="20.3" height="15.8" class="d"/>
<text x="1135.9" y="867.4" font-size="15.5" text-anchor="middle" style="fill:#fff">3</text>
<rect x="1146.8" y="854" width="20.3" height="15.8" class="h"/>
<text x="1157.1" y="867.4" font-size="15.5" text-anchor="middle" style="fill:#fff">4</text>
<rect x="1167.9" y="854" width="20.3" height="15.8" class="t"/>
<text x="1178.2" y="867.4" font-size="15.5" text-anchor="middle" style="fill:#fff">5</text>
<rect x="1189" y="854" width="20.3" height="15.8" class="f"/>
<text x="1199.3" y="867.4" font-size="15.5" text-anchor="middle" style="fill:#fff">6</text>
<rect x="1210.2" y="854" width="20.3" height="15.8" class="k"/>
<text x="1220.4" y="867.4" font-size="15.5" text-anchor="middle" style="fill:#fff">7</text>
<rect x="1231.3" y="854" width="20.3" height="15.8" class="s"/>
<text x="1241.6" y="867.4" font-size="15.5" text-anchor="middle" style="fill:#fff">8</text>
<rect x="1252.4" y="854" width="20.3" height="15.8" class="p"/>
<text x="1262.7" y="867.4" font-size="15.5" text-anchor="middle" style="fill:#fff">9</text>
<rect x="1273.6" y="854" width="20.3" height="15.8" class="y"/>
<text x="1283.8" y="867.4" font-size="15" text-anchor="middle" style="fill:#fff" textLength="17" lengthAdjust="spacingAndGlyphs">10</text>
<rect x="1294.7" y="854" width="20.3" height="15.8" class="b"/>
<text x="1305" y="867.4" font-size="15" text-anchor="middle" style="fill:#fff" textLength="17" lengthAdjust="spacingAndGlyphs">11</text>
<rect x="1315.8" y="854" width="20.3" height="15.8" class="g"/>
<text x="1326.1" y="867.4" font-size="15" text-anchor="middle" style="fill:#fff" textLength="17" lengthAdjust="spacingAndGlyphs">12</text>
<rect x="1337" y="854" width="20.3" height="15.8" class="c"/>
<text x="1347.2" y="867.4" font-size="15" text-anchor="middle" style="fill:#fff" textLength="17" lengthAdjust="spacingAndGlyphs">13</text>
<rect x="1083.1" y="669.7" width="21.2" height="16.8" fill="#B394C7"/>
<rect x="1104.2" y="669.7" width="21.2" height="16.8" fill="#F58526"/>
<rect x="1125.4" y="669.7" width="21.2" height="16.8" fill="#F58526"/>
<rect x="1209.9" y="669.7" width="21.2" height="16.8" fill="#F9A25B"/>
<rect x="1294.4" y="669.7" width="21.2" height="16.8" fill="#B394C7"/>
<rect x="1315.5" y="669.7" width="21.2" height="16.8" fill="#F58526"/>
<rect x="1083.1" y="686.5" width="21.2" height="16.8" fill="#4E2067"/>
<rect x="1146.5" y="686.5" width="21.2" height="16.8" fill="#F47B20"/>
<rect x="1273.3" y="686.5" width="21.2" height="16.8" fill="#F89644"/>
<rect x="1294.4" y="686.5" width="21.2" height="16.8" fill="#FDCDA5"/>
<rect x="1315.5" y="686.5" width="21.2" height="16.8" fill="#F58526"/>
<rect x="1083.1" y="703.2" width="21.2" height="16.8" fill="#4E2067"/>
<rect x="1104.2" y="703.2" width="21.2" height="16.8" fill="#F58526"/>
<rect x="1125.4" y="703.2" width="21.2" height="16.8" fill="#FBBD8A"/>
<rect x="1209.9" y="703.2" width="21.2" height="16.8" fill="#F47B20"/>
<rect x="1231" y="703.2" width="21.2" height="16.8" fill="#F58526"/>
<rect x="1294.4" y="703.2" width="21.2" height="16.8" fill="#EBE5F1"/>
<rect x="1315.5" y="703.2" width="21.2" height="16.8" fill="#F5882C"/>
<rect x="1083.1" y="719.9" width="21.2" height="16.8" fill="#4E2067"/>
<rect x="1104.2" y="719.9" width="21.2" height="16.8" fill="#F47B20"/>
<rect x="1209.9" y="719.9" width="21.2" height="16.8" fill="#F47B20"/>
<rect x="1231" y="719.9" width="21.2" height="16.8" fill="#F58526"/>
<rect x="1294.4" y="719.9" width="21.2" height="16.8" fill="#B394C7"/>
<rect x="1315.5" y="719.9" width="21.2" height="16.8" fill="#F47B20"/>
<rect x="1083.1" y="736.6" width="21.2" height="16.8" fill="#9162A8"/>
<rect x="1104.2" y="736.6" width="21.2" height="16.8" fill="#F47B20"/>
<rect x="1125.4" y="736.6" width="21.2" height="16.8" fill="#F47B20"/>
<rect x="1209.9" y="736.6" width="21.2" height="16.8" fill="#F9A25B"/>
<rect x="1294.4" y="736.6" width="21.2" height="16.8" fill="#D6C8E3"/>
<rect x="1315.5" y="736.6" width="21.2" height="16.8" fill="#F47B20"/>
<rect x="1336.7" y="736.6" width="21.2" height="16.8" fill="#F68D35"/>
<rect x="1083.1" y="753.4" width="21.2" height="16.8" fill="#4E2067"/>
<rect x="1294.4" y="753.4" width="21.2" height="16.8" fill="#4E2067"/>
<rect x="1315.5" y="753.4" width="21.2" height="16.8" fill="#F47B20"/>
<rect x="1294.4" y="770.1" width="21.2" height="16.8" fill="#FEEBDC"/>
<rect x="1083.1" y="786.8" width="21.2" height="16.8" fill="#E0D5EA"/>
<rect x="1125.4" y="786.8" width="21.2" height="16.8" fill="#F68D35"/>
<rect x="1315.5" y="786.8" width="21.2" height="16.8" fill="#F58526"/>
<rect x="1336.7" y="786.8" width="21.2" height="16.8" fill="#F58526"/>
<rect x="1083.1" y="803.6" width="21.2" height="16.8" fill="#4E2067"/>
<rect x="1294.4" y="803.6" width="21.2" height="16.8" fill="#9162A8"/>
<rect x="1315.5" y="803.6" width="21.2" height="16.8" fill="#F47B20"/>
<rect x="1083.1" y="820.3" width="21.2" height="16.8" fill="#A37CB9"/>
<rect x="1104.2" y="820.3" width="21.2" height="16.8" fill="#F47B20"/>
<rect x="1125.4" y="820.3" width="21.2" height="16.8" fill="#F58526"/>
<rect x="1209.9" y="820.3" width="21.2" height="16.8" fill="#F89644"/>
<rect x="1252.1" y="820.3" width="21.2" height="16.8" fill="#F47B20"/>
<rect x="1315.5" y="820.3" width="21.2" height="16.8" fill="#F47B20"/>
<rect x="1336.7" y="820.3" width="21.2" height="16.8" fill="#F58526"/>
<rect x="1083.1" y="837" width="21.2" height="16.8" fill="#D6C8E3"/>
<rect x="1104.2" y="837" width="21.2" height="16.8" fill="#F9A25B"/>
<rect x="1125.4" y="837" width="21.2" height="16.8" fill="#F9A25B"/>
<rect x="1294.4" y="837" width="21.2" height="16.8" fill="#FDDCC0"/>
<rect x="1315.5" y="837" width="21.2" height="16.8" fill="#F89644"/>
<rect x="1336.7" y="837" width="21.2" height="16.8" fill="#F89644"/>
<rect x="1188.8" y="870.5" width="21.2" height="16.8" fill="#FDDCC0"/>
<rect x="1252.1" y="870.5" width="21.2" height="16.8" fill="#B394C7"/>
<rect x="1273.3" y="870.5" width="21.2" height="16.8" fill="#FBBD8A"/>
<rect x="1294.4" y="870.5" width="21.2" height="16.8" fill="#FEEBDC"/>
<rect x="1336.7" y="870.5" width="21.2" height="16.8" fill="#B394C7"/>
<rect x="1125.4" y="887.2" width="21.2" height="16.8" fill="#4E2067"/>
<rect x="1167.6" y="887.2" width="21.2" height="16.8" fill="#4E2067"/>
<rect x="1188.8" y="887.2" width="21.2" height="16.8" fill="#F47B20"/>
<rect x="1231" y="887.2" width="21.2" height="16.8" fill="#7A4494"/>
<rect x="1252.1" y="887.2" width="21.2" height="16.8" fill="#4E2067"/>
<rect x="1273.3" y="887.2" width="21.2" height="16.8" fill="#FBBD8A"/>
<rect x="1336.7" y="887.2" width="21.2" height="16.8" fill="#4E2067"/>
<rect x="1125.4" y="904" width="21.2" height="16.8" fill="#EDE8F2"/>
<rect x="1167.6" y="904" width="21.2" height="16.8" fill="#B394C7"/>
<rect x="1209.9" y="904" width="21.2" height="16.8" fill="#F47B20"/>
<rect x="1231" y="904" width="21.2" height="16.8" fill="#FAAE70"/>
<rect x="1252.1" y="904" width="21.2" height="16.8" fill="#683485"/>
<rect x="1294.4" y="904" width="21.2" height="16.8" fill="#FDDCC0"/>
<rect x="1336.7" y="904" width="21.2" height="16.8" fill="#B394C7"/>
<rect x="1083.1" y="920.7" width="21.2" height="16.8" fill="#F9A25B"/>
<rect x="1125.4" y="920.7" width="21.2" height="16.8" fill="#EDE8F2"/>
<rect x="1167.6" y="920.7" width="21.2" height="16.8" fill="#592776"/>
<rect x="1209.9" y="920.7" width="21.2" height="16.8" fill="#F47B20"/>
<rect x="1231" y="920.7" width="21.2" height="16.8" fill="#FAB47A"/>
<rect x="1252.1" y="920.7" width="21.2" height="16.8" fill="#9162A8"/>
<rect x="1294.4" y="920.7" width="21.2" height="16.8" fill="#FBBD8A"/>
<rect x="1336.7" y="920.7" width="21.2" height="16.8" fill="#AA86BE"/>
<rect x="1125.4" y="937.4" width="21.2" height="16.8" fill="#9162A8"/>
<rect x="1167.6" y="937.4" width="21.2" height="16.8" fill="#FDDCC0"/>
<rect x="1188.8" y="937.4" width="21.2" height="16.8" fill="#FDD6B5"/>
<rect x="1231" y="937.4" width="21.2" height="16.8" fill="#FEE5D1"/>
<rect x="1252.1" y="937.4" width="21.2" height="16.8" fill="#E0D5EA"/>
<rect x="1336.7" y="937.4" width="21.2" height="16.8" fill="#EBE5F1"/>
<rect x="1125.4" y="954.1" width="21.2" height="16.8" fill="#4E2067"/>
<rect x="1167.6" y="954.1" width="21.2" height="16.8" fill="#D1C0DF"/>
<rect x="1209.9" y="954.1" width="21.2" height="16.8" fill="#F47B20"/>
<rect x="1231" y="954.1" width="21.2" height="16.8" fill="#F89644"/>
<rect x="1252.1" y="954.1" width="21.2" height="16.8" fill="#4E2067"/>
<rect x="1273.3" y="954.1" width="21.2" height="16.8" fill="#9162A8"/>
<rect x="1294.4" y="954.1" width="21.2" height="16.8" fill="#FDD6B5"/>
<rect x="1336.7" y="954.1" width="21.2" height="16.8" fill="#683485"/>
<rect x="1083.1" y="970.9" width="21.2" height="16.8" fill="#F89644"/>
<rect x="1188.8" y="970.9" width="21.2" height="16.8" fill="#FDCDA5"/>
<rect x="1252.1" y="970.9" width="21.2" height="16.8" fill="#D6C8E3"/>
<rect x="1273.3" y="970.9" width="21.2" height="16.8" fill="#FBBD8A"/>
<rect x="1336.7" y="970.9" width="21.2" height="16.8" fill="#E6DEEE"/>
<rect x="1083.1" y="987.6" width="21.2" height="16.8" fill="#FBBD8A"/>
<rect x="1167.6" y="987.6" width="21.2" height="16.8" fill="#FDECDF"/>
<rect x="1188.8" y="987.6" width="21.2" height="16.8" fill="#FEE8D6"/>
<rect x="1252.1" y="987.6" width="21.2" height="16.8" fill="#C9B5D9"/>
<rect x="1336.7" y="987.6" width="21.2" height="16.8" fill="#E3DAEC"/>
<rect x="1125.4" y="1004.3" width="21.2" height="16.8" fill="#4E2067"/>
<rect x="1188.8" y="1004.3" width="21.2" height="16.8" fill="#F9A25B"/>
<rect x="1252.1" y="1004.3" width="21.2" height="16.8" fill="#4E2067"/>
<rect x="1273.3" y="1004.3" width="21.2" height="16.8" fill="#B394C7"/>
<rect x="1294.4" y="1004.3" width="21.2" height="16.8" fill="#FBBD8A"/>
<rect x="1336.7" y="1004.3" width="21.2" height="16.8" fill="#E3DAEC"/>
<rect x="1083.1" y="1021.1" width="21.2" height="16.8" fill="#FBBD8A"/>
<rect x="1252.1" y="1021.1" width="21.2" height="16.8" fill="#EDE8F2"/>
<rect x="1336.7" y="1021.1" width="21.2" height="16.8" fill="#EDE8F2"/>
<rect x="1083.1" y="1037.8" width="21.2" height="16.8" fill="#F9A763"/>
<rect x="1125.4" y="1037.8" width="21.2" height="16.8" fill="#FEE5D1"/>
<rect x="1188.8" y="1037.8" width="21.2" height="16.8" fill="#FDE2CB"/>
<rect x="1231" y="1037.8" width="21.2" height="16.8" fill="#EDE8F2"/>
<rect x="1252.1" y="1037.8" width="21.2" height="16.8" fill="#D6C8E3"/>
<rect x="1336.7" y="1037.8" width="21.2" height="16.8" fill="#E6DEEE"/>
<text x="1506.5" y="627" font-size="13" text-anchor="middle">Days <tspan font-style="italic">in vitro</tspan></text>
<text x="1362" y="647.8" font-size="13" text-anchor="middle">0</text>
<text x="1388.6" y="647.8" font-size="13" text-anchor="middle">2</text>
<text x="1415.1" y="647.8" font-size="13" text-anchor="middle">4</text>
<text x="1441.7" y="647.8" font-size="13" text-anchor="middle">6</text>
<text x="1468.2" y="647.8" font-size="13" text-anchor="middle">8</text>
<text x="1494.8" y="647.8" font-size="13" text-anchor="middle">10</text>
<text x="1521.4" y="647.8" font-size="13" text-anchor="middle">12</text>
<text x="1547.9" y="647.8" font-size="13" text-anchor="middle">14</text>
<text x="1574.5" y="647.8" font-size="13" text-anchor="middle">16</text>
<text x="1601" y="647.8" font-size="13" text-anchor="middle">18</text>
<text x="1632" y="647.8" font-size="13" text-anchor="middle">2021</text>
<rect x="1362" y="653.3" width="287.1" height="14.2" fill="#C9C9C9"/>
<line x1="1362" y1="702.3" x2="1649.1" y2="702.3" stroke="#333" stroke-width="0.8"/>
<line x1="1362" y1="769.2" x2="1649.1" y2="769.2" stroke="#333" stroke-width="0.8"/>
<line x1="1362" y1="819.4" x2="1649.1" y2="819.4" stroke="#333" stroke-width="0.8"/>
<line x1="1362" y1="836.1" x2="1649.1" y2="836.1" stroke="#333" stroke-width="0.8"/>
<rect x="1403" y="669.4" width="150.4" height="16.4" fill="#FDE4C6"/>
<rect x="1403" y="686.2" width="150.4" height="16.4" fill="#F9A11F"/>
<rect x="1485" y="702.9" width="150.4" height="16.4" fill="#F3F6D3"/>
<rect x="1485" y="719.6" width="150.4" height="16.4" fill="#D7DF23"/>
<rect x="1362" y="736.4" width="123" height="16.4" fill="#D0E0E2"/>
<rect x="1362" y="753.1" width="123" height="16.4" fill="#0E8A87"/>
<rect x="1403" y="769.8" width="150.4" height="16.4" fill="#DACDE8"/>
<rect x="1403" y="786.5" width="150.4" height="16.4" fill="#8048A2"/>
<rect x="1362" y="803.3" width="41" height="15.5" fill="#7BA8AC"/>
<rect x="1498.7" y="820.3" width="41" height="15.5" fill="#7BA8AC"/>
<rect x="1594.4" y="837" width="41" height="15.5" fill="#7BA8AC"/>
<rect x="1362" y="854.1" width="287.1" height="14.2" fill="#C9C9C9"/>
<line x1="1362" y1="886.3" x2="1649.1" y2="886.3" stroke="#333" stroke-width="0.8"/>
<line x1="1362" y1="953.2" x2="1649.1" y2="953.2" stroke="#333" stroke-width="0.8"/>
<line x1="1362" y1="1003.4" x2="1649.1" y2="1003.4" stroke="#333" stroke-width="0.8"/>
<line x1="1362" y1="1036.9" x2="1649.1" y2="1036.9" stroke="#333" stroke-width="0.8"/>
<rect x="1403" y="870.2" width="150.4" height="16.4" fill="#FDE4C6"/>
<rect x="1403" y="886.9" width="150.4" height="16.4" fill="#F9A11F"/>
<rect x="1485" y="903.7" width="150.4" height="16.4" fill="#F3F6D3"/>
<rect x="1485" y="920.4" width="150.4" height="16.4" fill="#D7DF23"/>
<rect x="1362" y="937.1" width="123" height="16.4" fill="#D0E0E2"/>
<rect x="1362" y="953.8" width="123" height="16.4" fill="#0E8A87"/>
<rect x="1403" y="970.6" width="150.4" height="16.4" fill="#DACDE8"/>
<rect x="1403" y="987.3" width="150.4" height="16.4" fill="#8048A2"/>
<rect x="1362" y="1004" width="41" height="15.5" fill="#7BA8AC"/>
<rect x="1498.7" y="1021.1" width="41" height="15.5" fill="#7BA8AC"/>
<rect x="1594.4" y="1037.8" width="41" height="15.5" fill="#7BA8AC"/>
<line x1="1389.3" y1="653" x2="1389.3" y2="1054.5" stroke="#888" stroke-width="0.6" stroke-dasharray="2.2 1.8"/>
<line x1="1403" y1="653" x2="1403" y2="1054.5" stroke="#888" stroke-width="0.6" stroke-dasharray="2.2 1.8"/>
<line x1="1416.7" y1="653" x2="1416.7" y2="1054.5" stroke="#888" stroke-width="0.6" stroke-dasharray="2.2 1.8"/>
<line x1="1430.3" y1="653" x2="1430.3" y2="1054.5" stroke="#888" stroke-width="0.6" stroke-dasharray="2.2 1.8"/>
<line x1="1444" y1="653" x2="1444" y2="1054.5" stroke="#888" stroke-width="0.6" stroke-dasharray="2.2 1.8"/>
<line x1="1457.7" y1="653" x2="1457.7" y2="1054.5" stroke="#888" stroke-width="0.6" stroke-dasharray="2.2 1.8"/>
<line x1="1485" y1="653" x2="1485" y2="1054.5" stroke="#888" stroke-width="0.6" stroke-dasharray="2.2 1.8"/>
<line x1="1512.4" y1="653" x2="1512.4" y2="1054.5" stroke="#888" stroke-width="0.6" stroke-dasharray="2.2 1.8"/>
<line x1="1526" y1="653" x2="1526" y2="1054.5" stroke="#888" stroke-width="0.6" stroke-dasharray="2.2 1.8"/>
<line x1="1539.7" y1="653" x2="1539.7" y2="1054.5" stroke="#888" stroke-width="0.6" stroke-dasharray="2.2 1.8"/>
<line x1="1553.4" y1="653" x2="1553.4" y2="1054.5" stroke="#888" stroke-width="0.6" stroke-dasharray="2.2 1.8"/>
<line x1="1567" y1="653" x2="1567" y2="1054.5" stroke="#888" stroke-width="0.6" stroke-dasharray="2.2 1.8"/>
<line x1="1594.4" y1="653" x2="1594.4" y2="1054.5" stroke="#888" stroke-width="0.6" stroke-dasharray="2.2 1.8"/>
<line x1="1608.1" y1="653" x2="1608.1" y2="1054.5" stroke="#888" stroke-width="0.6" stroke-dasharray="2.2 1.8"/>
<line x1="1635.4" y1="653" x2="1635.4" y2="1054.5" stroke="#888" stroke-width="0.6" stroke-dasharray="2.2 1.8"/>
<line x1="1362" y1="668.2" x2="1649.1" y2="668.2" stroke="#000" stroke-width="1.6"/>
<rect x="1453.6" y="669.7" width="53.3" height="32.7" fill="#fff" stroke="#F9A11F" stroke-width="0.9"/>
<text x="1480.2" y="692.7" font-size="19" text-anchor="middle" font-weight="bold" style="fill:#F9A11F">SHH</text>
<rect x="1539.7" y="703.2" width="54.7" height="32.7" fill="#fff" stroke="#D7DF23" stroke-width="0.9"/>
<text x="1567" y="726.2" font-size="19" text-anchor="middle" font-weight="bold" style="fill:#D7DF23">RA</text>
<rect x="1397.5" y="736.6" width="54.7" height="32.7" fill="#fff" stroke="#0E8A87" stroke-width="0.9"/>
<text x="1424.9" y="759.6" font-size="19" text-anchor="middle" font-weight="bold" style="fill:#0E8A87">CHIR</text>
<rect x="1458.4" y="770.1" width="54" height="32.7" fill="#fff" stroke="#8048A2" stroke-width="0.9"/>
<text x="1485.4" y="793.1" font-size="19" text-anchor="middle" font-weight="bold" style="fill:#8048A2">FGF-8</text>
<line x1="1362" y1="869" x2="1649.1" y2="869" stroke="#000" stroke-width="1.6"/>
<rect x="1453.6" y="870.5" width="53.3" height="32.7" fill="#fff" stroke="#F9A11F" stroke-width="0.9"/>
<text x="1480.2" y="893.5" font-size="19" text-anchor="middle" font-weight="bold" style="fill:#F9A11F">SHH</text>
<rect x="1539.7" y="904" width="54.7" height="32.7" fill="#fff" stroke="#D7DF23" stroke-width="0.9"/>
<text x="1567" y="927" font-size="19" text-anchor="middle" font-weight="bold" style="fill:#D7DF23">RA</text>
<rect x="1397.5" y="937.4" width="54.7" height="32.7" fill="#fff" stroke="#0E8A87" stroke-width="0.9"/>
<text x="1424.9" y="960.4" font-size="19" text-anchor="middle" font-weight="bold" style="fill:#0E8A87">CHIR</text>
<rect x="1458.4" y="970.9" width="54" height="32.7" fill="#fff" stroke="#8048A2" stroke-width="0.9"/>
<text x="1485.4" y="993.9" font-size="19" text-anchor="middle" font-weight="bold" style="fill:#8048A2">FGF-8</text>
<line x1="1362" y1="852.6" x2="1649.1" y2="852.6" stroke="#000" stroke-width="1.6"/>
<line x1="1362" y1="652.5" x2="1649.1" y2="652.5" stroke="#000" stroke-width="1.6"/>
<line x1="1364" y1="1053.9" x2="1650.1" y2="1053.9" stroke="#000" stroke-width="1.6"/>
<g>
<rect x="1653.2" y="655" width="248.9" height="14.2" class="o"/>
<rect x="1901.9" y="655" width="2" height="14.2" class="y"/>
<rect x="1903.8" y="655" width="14.2" height="14.2" class="b"/>
<rect x="1653.2" y="671.7" width="189.8" height="14.2" class="o"/>
<rect x="1842.9" y="671.7" width="33.4" height="14.2" class="r"/>
<rect x="1876.1" y="671.7" width="10.5" height="14.2" class="d"/>
<rect x="1886.5" y="671.7" width="2.3" height="14.2" class="k"/>
<rect x="1888.6" y="671.7" width="2.5" height="14.2" class="s"/>
<rect x="1891" y="671.7" width="3.1" height="14.2" class="b"/>
<rect x="1893.9" y="671.7" width="25.4" height="14.2" class="g"/>
<rect x="1653.2" y="688.5" width="8.7" height="14.2" class="o"/>
<rect x="1661.7" y="688.5" width="1.2" height="14.2" class="d"/>
<rect x="1662.8" y="688.5" width="206.6" height="14.2" class="h"/>
<rect x="1869.2" y="688.5" width="3.1" height="14.2" class="y"/>
<rect x="1872.1" y="688.5" width="40.6" height="14.2" class="b"/>
<rect x="1912.6" y="688.5" width="6.8" height="14.2" class="g"/>
<rect x="1653.2" y="705.2" width="81.5" height="14.2" class="o"/>
<rect x="1734.6" y="705.2" width="7.9" height="14.2" class="r"/>
<rect x="1742.3" y="705.2" width="159.8" height="14.2" class="k"/>
<rect x="1901.9" y="705.2" width="4.1" height="14.2" class="s"/>
<rect x="1905.9" y="705.2" width="8.1" height="14.2" class="b"/>
<rect x="1913.9" y="705.2" width="5.5" height="14.2" class="g"/>
<rect x="1653.2" y="721.9" width="21.4" height="14.2" class="o"/>
<rect x="1674.5" y="721.9" width="12.1" height="14.2" class="r"/>
<rect x="1686.5" y="721.9" width="163.2" height="14.2" class="k"/>
<rect x="1849.5" y="721.9" width="6" height="14.2" class="s"/>
<rect x="1855.4" y="721.9" width="2.8" height="14.2" class="b"/>
<rect x="1858" y="721.9" width="61.3" height="14.2" class="g"/>
<rect x="1653.2" y="738.6" width="154.4" height="14.2" class="o"/>
<rect x="1807.5" y="738.6" width="75.2" height="14.2" class="r"/>
<rect x="1882.5" y="738.6" width="12.4" height="14.2" class="d"/>
<rect x="1894.7" y="738.6" width="3.3" height="14.2" class="k"/>
<rect x="1897.9" y="738.6" width="7.3" height="14.2" class="b"/>
<rect x="1905.1" y="738.6" width="12.4" height="14.2" class="g"/>
<rect x="1917.3" y="738.6" width="2" height="14.2" class="c"/>
<rect x="1653.2" y="755.4" width="266.1" height="14.2" class="g"/>
<rect x="1653.2" y="772.1" width="242.7" height="14.2" class="o"/>
<rect x="1895.8" y="772.1" width="2.3" height="14.2" class="h"/>
<rect x="1897.9" y="772.1" width="20.1" height="14.2" class="b"/>
<rect x="1653.2" y="788.8" width="234.2" height="14.2" class="o"/>
<rect x="1887.3" y="788.8" width="6.3" height="14.2" class="d"/>
<rect x="1893.4" y="788.8" width="2.5" height="14.2" class="k"/>
<rect x="1895.8" y="788.8" width="16.9" height="14.2" class="b"/>
<rect x="1912.6" y="788.8" width="4.1" height="14.2" class="g"/>
<rect x="1916.5" y="788.8" width="2.8" height="14.2" class="c"/>
<rect x="1653.2" y="805.6" width="0.9" height="14.2" class="o"/>
<rect x="1654" y="805.6" width="3.3" height="14.2" class="b"/>
<rect x="1657.2" y="805.6" width="262.2" height="14.2" class="g"/>
<rect x="1653.2" y="822.3" width="169.1" height="14.2" class="o"/>
<rect x="1822.1" y="822.3" width="55.5" height="14.2" class="r"/>
<rect x="1877.4" y="822.3" width="6.3" height="14.2" class="d"/>
<rect x="1883.6" y="822.3" width="4.7" height="14.2" class="k"/>
<rect x="1888.1" y="822.3" width="2.8" height="14.2" class="p"/>
<rect x="1890.7" y="822.3" width="16.1" height="14.2" class="b"/>
<rect x="1906.7" y="822.3" width="10" height="14.2" class="g"/>
<rect x="1916.5" y="822.3" width="2.8" height="14.2" class="c"/>
<rect x="1653.2" y="839" width="224.4" height="14.2" class="o"/>
<rect x="1877.4" y="839" width="2.8" height="14.2" class="r"/>
<rect x="1880.1" y="839" width="3.3" height="14.2" class="d"/>
<rect x="1883.3" y="839" width="2.3" height="14.2" class="k"/>
<rect x="1885.4" y="839" width="29.4" height="14.2" class="b"/>
<rect x="1914.7" y="839" width="2.8" height="14.2" class="g"/>
<rect x="1917.3" y="839" width="2" height="14.2" class="c"/>
<rect x="1653.2" y="855.8" width="49.1" height="14.2" class="d"/>
<rect x="1702.1" y="855.8" width="112.1" height="14.2" class="t"/>
<rect x="1814.1" y="855.8" width="7.3" height="14.2" class="f"/>
<rect x="1821.3" y="855.8" width="40.6" height="14.2" class="s"/>
<rect x="1861.7" y="855.8" width="19.6" height="14.2" class="p"/>
<rect x="1881.2" y="855.8" width="3.1" height="14.2" class="y"/>
<rect x="1884.1" y="855.8" width="18.5" height="14.2" class="b"/>
<rect x="1902.4" y="855.8" width="1.5" height="14.2" class="g"/>
<rect x="1903.8" y="855.8" width="15.6" height="14.2" class="c"/>
<rect x="1653.2" y="872.5" width="1.5" height="14.2" class="o"/>
<rect x="1654.5" y="872.5" width="39.3" height="14.2" class="d"/>
<rect x="1693.6" y="872.5" width="117.5" height="14.2" class="t"/>
<rect x="1810.9" y="872.5" width="14.2" height="14.2" class="f"/>
<rect x="1825" y="872.5" width="48.3" height="14.2" class="s"/>
<rect x="1873.2" y="872.5" width="4.1" height="14.2" class="p"/>
<rect x="1877.2" y="872.5" width="11.9" height="14.2" class="y"/>
<rect x="1888.9" y="872.5" width="25.2" height="14.2" class="b"/>
<rect x="1913.9" y="872.5" width="2.8" height="14.2" class="g"/>
<rect x="1916.5" y="872.5" width="2.8" height="14.2" class="c"/>
<rect x="1653.2" y="889.2" width="4.1" height="14.2" class="t"/>
<rect x="1657.2" y="889.2" width="222.8" height="14.2" class="f"/>
<rect x="1879.8" y="889.2" width="4.1" height="14.2" class="s"/>
<rect x="1883.8" y="889.2" width="12.4" height="14.2" class="y"/>
<rect x="1896.1" y="889.2" width="20.1" height="14.2" class="b"/>
<rect x="1916" y="889.2" width="3.3" height="14.2" class="g"/>
<rect x="1653.2" y="906" width="2" height="14.2" class="o"/>
<rect x="1655.1" y="906" width="34.2" height="14.2" class="d"/>
<rect x="1689.1" y="906" width="29.1" height="14.2" class="t"/>
<rect x="1718.1" y="906" width="7.1" height="14.2" class="f"/>
<rect x="1725" y="906" width="6.8" height="14.2" class="k"/>
<rect x="1731.7" y="906" width="140.6" height="14.2" class="s"/>
<rect x="1872.1" y="906" width="1.5" height="14.2" class="y"/>
<rect x="1873.4" y="906" width="40" height="14.2" class="b"/>
<rect x="1913.3" y="906" width="3.3" height="14.2" class="g"/>
<rect x="1916.5" y="906" width="2.8" height="14.2" class="c"/>
<rect x="1653.2" y="922.7" width="4.9" height="14.2" class="o"/>
<rect x="1658" y="922.7" width="38.7" height="14.2" class="d"/>
<rect x="1696.6" y="922.7" width="9.5" height="14.2" class="t"/>
<rect x="1705.9" y="922.7" width="6.8" height="14.2" class="f"/>
<rect x="1712.5" y="922.7" width="10.5" height="14.2" class="k"/>
<rect x="1722.9" y="922.7" width="128.1" height="14.2" class="s"/>
<rect x="1850.8" y="922.7" width="2" height="14.2" class="y"/>
<rect x="1852.7" y="922.7" width="60.8" height="14.2" class="b"/>
<rect x="1913.3" y="922.7" width="3.3" height="14.2" class="g"/>
<rect x="1916.5" y="922.7" width="2.8" height="14.2" class="c"/>
<rect x="1653.2" y="939.4" width="5.5" height="14.2" class="d"/>
<rect x="1658.5" y="939.4" width="148.6" height="14.2" class="t"/>
<rect x="1806.9" y="939.4" width="14.5" height="14.2" class="f"/>
<rect x="1821.3" y="939.4" width="57.3" height="14.2" class="s"/>
<rect x="1878.5" y="939.4" width="8.4" height="14.2" class="p"/>
<rect x="1886.7" y="939.4" width="2.3" height="14.2" class="y"/>
<rect x="1888.9" y="939.4" width="20.4" height="14.2" class="b"/>
<rect x="1909.1" y="939.4" width="10.3" height="14.2" class="c"/>
<rect x="1653.2" y="956.1" width="2.8" height="14.2" class="o"/>
<rect x="1655.9" y="956.1" width="48.8" height="14.2" class="t"/>
<rect x="1704.5" y="956.1" width="8.4" height="14.2" class="f"/>
<rect x="1712.8" y="956.1" width="2.8" height="14.2" class="k"/>
<rect x="1715.4" y="956.1" width="160.3" height="14.2" class="s"/>
<rect x="1875.6" y="956.1" width="39" height="14.2" class="b"/>
<rect x="1914.4" y="956.1" width="3.6" height="14.2" class="g"/>
<rect x="1653.2" y="972.9" width="5.5" height="14.2" class="o"/>
<rect x="1658.5" y="972.9" width="48.6" height="14.2" class="d"/>
<rect x="1706.9" y="972.9" width="109.7" height="14.2" class="t"/>
<rect x="1816.5" y="972.9" width="19.8" height="14.2" class="f"/>
<rect x="1836.2" y="972.9" width="33.9" height="14.2" class="s"/>
<rect x="1870" y="972.9" width="7.6" height="14.2" class="p"/>
<rect x="1877.4" y="972.9" width="10.8" height="14.2" class="y"/>
<rect x="1888.1" y="972.9" width="20.1" height="14.2" class="b"/>
<rect x="1908" y="972.9" width="3.3" height="14.2" class="g"/>
<rect x="1911.2" y="972.9" width="8.1" height="14.2" class="c"/>
<rect x="1653.2" y="989.6" width="2.8" height="14.2" class="o"/>
<rect x="1655.9" y="989.6" width="48" height="14.2" class="d"/>
<rect x="1703.7" y="989.6" width="127.3" height="14.2" class="t"/>
<rect x="1830.9" y="989.6" width="10.5" height="14.2" class="f"/>
<rect x="1841.3" y="989.6" width="44" height="14.2" class="s"/>
<rect x="1885.2" y="989.6" width="5.7" height="14.2" class="p"/>
<rect x="1890.7" y="989.6" width="3.3" height="14.2" class="y"/>
<rect x="1893.9" y="989.6" width="16.1" height="14.2" class="b"/>
<rect x="1909.9" y="989.6" width="2.3" height="14.2" class="g"/>
<rect x="1912" y="989.6" width="7.3" height="14.2" class="c"/>
<rect x="1653.2" y="1006.3" width="98.6" height="14.2" class="t"/>
<rect x="1751.6" y="1006.3" width="51.5" height="14.2" class="f"/>
<rect x="1803" y="1006.3" width="42.7" height="14.2" class="s"/>
<rect x="1845.5" y="1006.3" width="63.7" height="14.2" class="b"/>
<rect x="1909.1" y="1006.3" width="2.3" height="14.2" class="g"/>
<rect x="1911.2" y="1006.3" width="8.1" height="14.2" class="c"/>
<rect x="1653.2" y="1023.1" width="2" height="14.2" class="o"/>
<rect x="1655.1" y="1023.1" width="43" height="14.2" class="d"/>
<rect x="1697.9" y="1023.1" width="114.5" height="14.2" class="t"/>
<rect x="1812.3" y="1023.1" width="10" height="14.2" class="f"/>
<rect x="1822.1" y="1023.1" width="42.2" height="14.2" class="s"/>
<rect x="1864.1" y="1023.1" width="12.7" height="14.2" class="p"/>
<rect x="1876.6" y="1023.1" width="2.8" height="14.2" class="y"/>
<rect x="1879.3" y="1023.1" width="22" height="14.2" class="b"/>
<rect x="1901.1" y="1023.1" width="1.7" height="14.2" class="g"/>
<rect x="1902.7" y="1023.1" width="16.6" height="14.2" class="c"/>
<rect x="1653.2" y="1039.8" width="4.4" height="14.2" class="o"/>
<rect x="1657.5" y="1039.8" width="72.5" height="14.2" class="d"/>
<rect x="1729.8" y="1039.8" width="103.1" height="14.2" class="t"/>
<rect x="1832.8" y="1039.8" width="11.6" height="14.2" class="f"/>
<rect x="1844.2" y="1039.8" width="31.3" height="14.2" class="s"/>
<rect x="1875.3" y="1039.8" width="6.8" height="14.2" class="p"/>
<rect x="1882" y="1039.8" width="6" height="14.2" class="y"/>
<rect x="1887.8" y="1039.8" width="19" height="14.2" class="b"/>
<rect x="1906.7" y="1039.8" width="3.3" height="14.2" class="g"/>
<rect x="1909.9" y="1039.8" width="9.5" height="14.2" class="c"/>
</g>
<line x1="1653.2" y1="651" x2="1919.2" y2="651" stroke="#222" stroke-width="0.9"/>
<line x1="1653.2" y1="647" x2="1653.2" y2="651" stroke="#222" stroke-width="0.9"/>
<text x="1653.2" y="643.5" font-size="11" text-anchor="middle">0</text>
<line x1="1719.7" y1="647" x2="1719.7" y2="651" stroke="#222" stroke-width="0.9"/>
<text x="1719.7" y="643.5" font-size="11" text-anchor="middle">25</text>
<line x1="1786.2" y1="647" x2="1786.2" y2="651" stroke="#222" stroke-width="0.9"/>
<text x="1786.2" y="643.5" font-size="11" text-anchor="middle">50</text>
<line x1="1852.7" y1="647" x2="1852.7" y2="651" stroke="#222" stroke-width="0.9"/>
<text x="1852.7" y="643.5" font-size="11" text-anchor="middle">75</text>
<line x1="1919.2" y1="647" x2="1919.2" y2="651" stroke="#222" stroke-width="0.9"/>
<text x="1919.2" y="643.5" font-size="11" text-anchor="middle">100</text>
<text x="1787.2" y="627" font-size="13" text-anchor="middle">% cells per condtion</text>
<text x="533" y="1101.2" font-size="34" text-anchor="middle" font-weight="bold">H9</text>
<g fill="#58595B">
<rect x="37.2" y="1151.2" width="53.6" height="13.6"/>
<rect x="37.2" y="1167.9" width="53.6" height="13.6"/>
<rect x="29.8" y="1184.7" width="61" height="13.6"/>
<rect x="42.2" y="1201.4" width="48.6" height="13.6"/>
<rect x="37.2" y="1218.1" width="53.6" height="13.6"/>
<rect x="44.9" y="1234.9" width="45.9" height="13.6"/>
<rect x="42.2" y="1251.6" width="48.6" height="13.6"/>
<rect x="42.2" y="1268.3" width="48.6" height="13.6"/>
<rect x="38.2" y="1285" width="52.6" height="13.6"/>
<rect x="32" y="1301.8" width="58.8" height="13.6"/>
<rect x="40" y="1318.5" width="50.8" height="13.6"/>
<rect x="33.2" y="1335.2" width="57.6" height="13.6"/>
<rect x="43.1" y="1352" width="47.7" height="13.6"/>
<rect x="37.2" y="1368.7" width="53.6" height="13.6"/>
<rect x="32" y="1385.4" width="58.8" height="13.6"/>
<rect x="37.2" y="1402.2" width="53.6" height="13.6"/>
<rect x="38.2" y="1418.9" width="52.6" height="13.6"/>
<rect x="35.1" y="1435.6" width="55.7" height="13.6"/>
<rect x="37.2" y="1452.3" width="53.6" height="13.6"/>
<rect x="37.2" y="1469.1" width="53.6" height="13.6"/>
<rect x="37.2" y="1485.8" width="53.6" height="13.6"/>
<rect x="35.1" y="1502.5" width="55.7" height="13.6"/>
<rect x="38.2" y="1519.3" width="52.6" height="13.6"/>
<rect x="37.2" y="1536" width="53.6" height="13.6"/>
</g>
<line x1="30.2" y1="1147.9" x2="90.8" y2="1147.9" stroke="#222" stroke-width="1"/>
<line x1="90.8" y1="1143.9" x2="90.8" y2="1147.9" stroke="#222" stroke-width="1"/>
<line x1="58.5" y1="1143.9" x2="58.5" y2="1147.9" stroke="#222" stroke-width="1"/>
<line x1="41" y1="1143.9" x2="41" y2="1147.9" stroke="#222" stroke-width="1"/>
<line x1="30.2" y1="1143.9" x2="30.2" y2="1147.9" stroke="#222" stroke-width="1"/>
<text x="27.7" y="1141.4" font-size="10.5" text-anchor="middle">3.7</text>
<text x="41.5" y="1141.4" font-size="10.5" text-anchor="middle">3</text>
<text x="58.5" y="1141.4" font-size="10.5" text-anchor="middle">2</text>
<text x="90.8" y="1141.4" font-size="10.5" text-anchor="middle">0</text>
<text x="27.8" y="1123.4" font-size="12.5">log<tspan font-size="7" dy="3">10</tspan><tspan dy="-3"> n cells</tspan></text>
<rect x="108" y="1165.4" width="274.7" height="184" fill="#EEEEEE"/>
<rect x="108.3" y="1148.9" width="20.3" height="15.8" class="o"/>
<text x="118.6" y="1162.3" font-size="15.5" text-anchor="middle" style="fill:#fff">1</text>
<rect x="129.4" y="1148.9" width="20.3" height="15.8" class="r"/>
<text x="139.7" y="1162.3" font-size="15.5" text-anchor="middle" style="fill:#fff">2</text>
<rect x="150.6" y="1148.9" width="20.3" height="15.8" class="d"/>
<text x="160.8" y="1162.3" font-size="15.5" text-anchor="middle" style="fill:#fff">3</text>
<rect x="171.7" y="1148.9" width="20.3" height="15.8" class="h"/>
<text x="182" y="1162.3" font-size="15.5" text-anchor="middle" style="fill:#fff">4</text>
<rect x="192.8" y="1148.9" width="20.3" height="15.8" class="t"/>
<text x="203.1" y="1162.3" font-size="15.5" text-anchor="middle" style="fill:#fff">5</text>
<rect x="213.9" y="1148.9" width="20.3" height="15.8" class="f"/>
<text x="224.2" y="1162.3" font-size="15.5" text-anchor="middle" style="fill:#fff">6</text>
<rect x="235.1" y="1148.9" width="20.3" height="15.8" class="k"/>
<text x="245.3" y="1162.3" font-size="15.5" text-anchor="middle" style="fill:#fff">7</text>
<rect x="256.2" y="1148.9" width="20.3" height="15.8" class="s"/>
<text x="266.5" y="1162.3" font-size="15.5" text-anchor="middle" style="fill:#fff">8</text>
<rect x="277.3" y="1148.9" width="20.3" height="15.8" class="p"/>
<text x="287.6" y="1162.3" font-size="15.5" text-anchor="middle" style="fill:#fff">9</text>
<rect x="298.5" y="1148.9" width="20.3" height="15.8" class="y"/>
<text x="308.7" y="1162.3" font-size="15" text-anchor="middle" style="fill:#fff" textLength="17" lengthAdjust="spacingAndGlyphs">10</text>
<rect x="319.6" y="1148.9" width="20.3" height="15.8" class="b"/>
<text x="329.9" y="1162.3" font-size="15" text-anchor="middle" style="fill:#fff" textLength="17" lengthAdjust="spacingAndGlyphs">11</text>
<rect x="340.7" y="1148.9" width="20.3" height="15.8" class="g"/>
<text x="351" y="1162.3" font-size="15" text-anchor="middle" style="fill:#fff" textLength="17" lengthAdjust="spacingAndGlyphs">12</text>
<rect x="361.9" y="1148.9" width="20.3" height="15.8" class="c"/>
<text x="372.1" y="1162.3" font-size="15" text-anchor="middle" style="fill:#fff" textLength="17" lengthAdjust="spacingAndGlyphs">13</text>
<rect x="108" y="1366.2" width="274.7" height="184" fill="#EEEEEE"/>
<rect x="108.3" y="1349.7" width="20.3" height="15.8" class="o"/>
<text x="118.6" y="1363.1" font-size="15.5" text-anchor="middle" style="fill:#fff">1</text>
<rect x="129.4" y="1349.7" width="20.3" height="15.8" class="r"/>
<text x="139.7" y="1363.1" font-size="15.5" text-anchor="middle" style="fill:#fff">2</text>
<rect x="150.6" y="1349.7" width="20.3" height="15.8" class="d"/>
<text x="160.8" y="1363.1" font-size="15.5" text-anchor="middle" style="fill:#fff">3</text>
<rect x="171.7" y="1349.7" width="20.3" height="15.8" class="h"/>
<text x="182" y="1363.1" font-size="15.5" text-anchor="middle" style="fill:#fff">4</text>
<rect x="192.8" y="1349.7" width="20.3" height="15.8" class="t"/>
<text x="203.1" y="1363.1" font-size="15.5" text-anchor="middle" style="fill:#fff">5</text>
<rect x="213.9" y="1349.7" width="20.3" height="15.8" class="f"/>
<text x="224.2" y="1363.1" font-size="15.5" text-anchor="middle" style="fill:#fff">6</text>
<rect x="235.1" y="1349.7" width="20.3" height="15.8" class="k"/>
<text x="245.3" y="1363.1" font-size="15.5" text-anchor="middle" style="fill:#fff">7</text>
<rect x="256.2" y="1349.7" width="20.3" height="15.8" class="s"/>
<text x="266.5" y="1363.1" font-size="15.5" text-anchor="middle" style="fill:#fff">8</text>
<rect x="277.3" y="1349.7" width="20.3" height="15.8" class="p"/>
<text x="287.6" y="1363.1" font-size="15.5" text-anchor="middle" style="fill:#fff">9</text>
<rect x="298.5" y="1349.7" width="20.3" height="15.8" class="y"/>
<text x="308.7" y="1363.1" font-size="15" text-anchor="middle" style="fill:#fff" textLength="17" lengthAdjust="spacingAndGlyphs">10</text>
<rect x="319.6" y="1349.7" width="20.3" height="15.8" class="b"/>
<text x="329.9" y="1363.1" font-size="15" text-anchor="middle" style="fill:#fff" textLength="17" lengthAdjust="spacingAndGlyphs">11</text>
<rect x="340.7" y="1349.7" width="20.3" height="15.8" class="g"/>
<text x="351" y="1363.1" font-size="15" text-anchor="middle" style="fill:#fff" textLength="17" lengthAdjust="spacingAndGlyphs">12</text>
<rect x="361.9" y="1349.7" width="20.3" height="15.8" class="c"/>
<text x="372.1" y="1363.1" font-size="15" text-anchor="middle" style="fill:#fff" textLength="17" lengthAdjust="spacingAndGlyphs">13</text>
<rect x="108" y="1165.4" width="21.2" height="16.8" fill="#EBE5F1"/>
<rect x="129.1" y="1165.4" width="21.2" height="16.8" fill="#FEE5D1"/>
<rect x="150.3" y="1165.4" width="21.2" height="16.8" fill="#FBB780"/>
<rect x="319.3" y="1165.4" width="21.2" height="16.8" fill="#D1C0DF"/>
<rect x="108" y="1182.2" width="21.2" height="16.8" fill="#4E2067"/>
<rect x="129.1" y="1182.2" width="21.2" height="16.8" fill="#4E2067"/>
<rect x="150.3" y="1182.2" width="21.2" height="16.8" fill="#592776"/>
<rect x="171.4" y="1182.2" width="21.2" height="16.8" fill="#F47B20"/>
<rect x="234.8" y="1182.2" width="21.2" height="16.8" fill="#592776"/>
<rect x="298.2" y="1182.2" width="21.2" height="16.8" fill="#F9A25B"/>
<rect x="319.3" y="1182.2" width="21.2" height="16.8" fill="#F89644"/>
<rect x="361.6" y="1182.2" width="21.2" height="16.8" fill="#4E2067"/>
<rect x="108" y="1198.9" width="21.2" height="16.8" fill="#592776"/>
<rect x="129.1" y="1198.9" width="21.2" height="16.8" fill="#D6C8E3"/>
<rect x="234.8" y="1198.9" width="21.2" height="16.8" fill="#F47B20"/>
<rect x="255.9" y="1198.9" width="21.2" height="16.8" fill="#F68D35"/>
<rect x="108" y="1215.6" width="21.2" height="16.8" fill="#4E2067"/>
<rect x="129.1" y="1215.6" width="21.2" height="16.8" fill="#AD8AC1"/>
<rect x="234.8" y="1215.6" width="21.2" height="16.8" fill="#F47B20"/>
<rect x="255.9" y="1215.6" width="21.2" height="16.8" fill="#F68D35"/>
<rect x="340.4" y="1215.6" width="21.2" height="16.8" fill="#F89644"/>
<rect x="108" y="1232.4" width="21.2" height="16.8" fill="#B394C7"/>
<rect x="129.1" y="1232.4" width="21.2" height="16.8" fill="#FBB780"/>
<rect x="150.3" y="1232.4" width="21.2" height="16.8" fill="#F99D52"/>
<rect x="319.3" y="1232.4" width="21.2" height="16.8" fill="#D6C8E3"/>
<rect x="340.4" y="1232.4" width="21.2" height="16.8" fill="#FCC395"/>
<rect x="108" y="1249.1" width="21.2" height="16.8" fill="#4E2067"/>
<rect x="129.1" y="1249.1" width="21.2" height="16.8" fill="#4E2067"/>
<rect x="234.8" y="1249.1" width="21.2" height="16.8" fill="#4E2067"/>
<rect x="319.3" y="1249.1" width="21.2" height="16.8" fill="#4E2067"/>
<rect x="340.4" y="1249.1" width="21.2" height="16.8" fill="#F58526"/>
<rect x="108" y="1265.8" width="21.2" height="16.8" fill="#E3DAEC"/>
<rect x="129.1" y="1265.8" width="21.2" height="16.8" fill="#FDE2CB"/>
<rect x="150.3" y="1265.8" width="21.2" height="16.8" fill="#FDCDA5"/>
<rect x="108" y="1282.5" width="21.2" height="16.8" fill="#FEEBDC"/>
<rect x="129.1" y="1282.5" width="21.2" height="16.8" fill="#EDE8F2"/>
<rect x="108" y="1299.3" width="21.2" height="16.8" fill="#4E2067"/>
<rect x="129.1" y="1299.3" width="21.2" height="16.8" fill="#AD8AC1"/>
<rect x="150.3" y="1299.3" width="21.2" height="16.8" fill="#F47B20"/>
<rect x="171.4" y="1299.3" width="21.2" height="16.8" fill="#4E2067"/>
<rect x="234.8" y="1299.3" width="21.2" height="16.8" fill="#A37CB9"/>
<rect x="255.9" y="1299.3" width="21.2" height="16.8" fill="#8856A0"/>
<rect x="277" y="1299.3" width="21.2" height="16.8" fill="#F47B20"/>
<rect x="319.3" y="1299.3" width="21.2" height="16.8" fill="#9A6EB0"/>
<rect x="340.4" y="1299.3" width="21.2" height="16.8" fill="#FDE2CB"/>
<rect x="361.6" y="1299.3" width="21.2" height="16.8" fill="#F47B20"/>
<rect x="108" y="1316" width="21.2" height="16.8" fill="#C9B5D9"/>
<rect x="129.1" y="1316" width="21.2" height="16.8" fill="#FDCDA5"/>
<rect x="150.3" y="1316" width="21.2" height="16.8" fill="#F7913B"/>
<rect x="319.3" y="1316" width="21.2" height="16.8" fill="#E0D5EA"/>
<rect x="340.4" y="1316" width="21.2" height="16.8" fill="#FDD3B0"/>
<rect x="108" y="1332.7" width="21.2" height="16.8" fill="#D1C0DF"/>
<rect x="129.1" y="1332.7" width="21.2" height="16.8" fill="#FDDCC0"/>
<rect x="150.3" y="1332.7" width="21.2" height="16.8" fill="#F68D35"/>
<rect x="340.4" y="1332.7" width="21.2" height="16.8" fill="#FDE2CB"/>
<rect x="361.6" y="1332.7" width="21.2" height="16.8" fill="#F9A25B"/>
<rect x="298.2" y="1366.2" width="21.2" height="16.8" fill="#FDE2CB"/>
<rect x="108" y="1382.9" width="21.2" height="16.8" fill="#53236D"/>
<rect x="150.3" y="1382.9" width="21.2" height="16.8" fill="#9A6EB0"/>
<rect x="171.4" y="1382.9" width="21.2" height="16.8" fill="#F47B20"/>
<rect x="213.6" y="1382.9" width="21.2" height="16.8" fill="#F47B20"/>
<rect x="255.9" y="1382.9" width="21.2" height="16.8" fill="#C0A8D2"/>
<rect x="298.2" y="1382.9" width="21.2" height="16.8" fill="#F9A25B"/>
<rect x="319.3" y="1382.9" width="21.2" height="16.8" fill="#E0D5EA"/>
<rect x="340.4" y="1382.9" width="21.2" height="16.8" fill="#F47B20"/>
<rect x="108" y="1399.7" width="21.2" height="16.8" fill="#592776"/>
<rect x="213.6" y="1399.7" width="21.2" height="16.8" fill="#F9A763"/>
<rect x="234.8" y="1399.7" width="21.2" height="16.8" fill="#F47B20"/>
<rect x="255.9" y="1399.7" width="21.2" height="16.8" fill="#F47B20"/>
<rect x="298.2" y="1399.7" width="21.2" height="16.8" fill="#9A6EB0"/>
<rect x="108" y="1416.4" width="21.2" height="16.8" fill="#53236D"/>
<rect x="150.3" y="1416.4" width="21.2" height="16.8" fill="#4E2067"/>
<rect x="213.6" y="1416.4" width="21.2" height="16.8" fill="#F89644"/>
<rect x="234.8" y="1416.4" width="21.2" height="16.8" fill="#F47B20"/>
<rect x="255.9" y="1416.4" width="21.2" height="16.8" fill="#F47B20"/>
<rect x="298.2" y="1416.4" width="21.2" height="16.8" fill="#4E2067"/>
<rect x="108" y="1433.1" width="21.2" height="16.8" fill="#5E2A7C"/>
<rect x="150.3" y="1433.1" width="21.2" height="16.8" fill="#F47B20"/>
<rect x="192.5" y="1433.1" width="21.2" height="16.8" fill="#F89B4D"/>
<rect x="255.9" y="1433.1" width="21.2" height="16.8" fill="#F9A25B"/>
<rect x="298.2" y="1433.1" width="21.2" height="16.8" fill="#B394C7"/>
<rect x="319.3" y="1433.1" width="21.2" height="16.8" fill="#DCD1E7"/>
<rect x="108" y="1449.8" width="21.2" height="16.8" fill="#53236D"/>
<rect x="150.3" y="1449.8" width="21.2" height="16.8" fill="#683485"/>
<rect x="192.5" y="1449.8" width="21.2" height="16.8" fill="#F9A25B"/>
<rect x="255.9" y="1449.8" width="21.2" height="16.8" fill="#F47F22"/>
<rect x="298.2" y="1449.8" width="21.2" height="16.8" fill="#612D7F"/>
<rect x="319.3" y="1449.8" width="21.2" height="16.8" fill="#EDE8F2"/>
<rect x="108" y="1466.6" width="21.2" height="16.8" fill="#EDE8F2"/>
<rect x="150.3" y="1466.6" width="21.2" height="16.8" fill="#FBB780"/>
<rect x="192.5" y="1466.6" width="21.2" height="16.8" fill="#FDD6B5"/>
<rect x="213.6" y="1466.6" width="21.2" height="16.8" fill="#F58526"/>
<rect x="298.2" y="1466.6" width="21.2" height="16.8" fill="#FDD6B5"/>
<rect x="319.3" y="1466.6" width="21.2" height="16.8" fill="#E6DEEE"/>
<rect x="192.5" y="1483.3" width="21.2" height="16.8" fill="#FDCDA5"/>
<rect x="213.6" y="1483.3" width="21.2" height="16.8" fill="#F68A2F"/>
<rect x="255.9" y="1483.3" width="21.2" height="16.8" fill="#FDD6B5"/>
<rect x="319.3" y="1483.3" width="21.2" height="16.8" fill="#E0D5EA"/>
<rect x="108" y="1500" width="21.2" height="16.8" fill="#4E2067"/>
<rect x="150.3" y="1500" width="21.2" height="16.8" fill="#4E2067"/>
<rect x="192.5" y="1500" width="21.2" height="16.8" fill="#F58526"/>
<rect x="213.6" y="1500" width="21.2" height="16.8" fill="#F47B20"/>
<rect x="255.9" y="1500" width="21.2" height="16.8" fill="#F68D35"/>
<rect x="298.2" y="1500" width="21.2" height="16.8" fill="#C9B5D9"/>
<rect x="319.3" y="1500" width="21.2" height="16.8" fill="#EDE8F2"/>
<rect x="108" y="1516.8" width="21.2" height="16.8" fill="#EDE8F2"/>
<rect x="213.6" y="1516.8" width="21.2" height="16.8" fill="#F68A2F"/>
<rect x="298.2" y="1516.8" width="21.2" height="16.8" fill="#FDDCC0"/>
<rect x="319.3" y="1516.8" width="21.2" height="16.8" fill="#EDE8F2"/>
<rect x="108" y="1533.5" width="21.2" height="16.8" fill="#DCD1E7"/>
<rect x="213.6" y="1533.5" width="21.2" height="16.8" fill="#F68D35"/>
<rect x="298.2" y="1533.5" width="21.2" height="16.8" fill="#FCC79A"/>
<text x="535" y="1122.7" font-size="13" text-anchor="middle">Days <tspan font-style="italic">in vitro</tspan></text>
<text x="390.5" y="1143.5" font-size="13" text-anchor="middle">0</text>
<text x="417.1" y="1143.5" font-size="13" text-anchor="middle">2</text>
<text x="443.6" y="1143.5" font-size="13" text-anchor="middle">4</text>
<text x="470.2" y="1143.5" font-size="13" text-anchor="middle">6</text>
<text x="496.7" y="1143.5" font-size="13" text-anchor="middle">8</text>
<text x="523.3" y="1143.5" font-size="13" text-anchor="middle">10</text>
<text x="549.9" y="1143.5" font-size="13" text-anchor="middle">12</text>
<text x="576.4" y="1143.5" font-size="13" text-anchor="middle">14</text>
<text x="603" y="1143.5" font-size="13" text-anchor="middle">16</text>
<text x="629.5" y="1143.5" font-size="13" text-anchor="middle">18</text>
<text x="660.5" y="1143.5" font-size="13" text-anchor="middle">2021</text>
<rect x="390.5" y="1149" width="287.1" height="14.2" fill="#C9C9C9"/>
<line x1="390.5" y1="1181.3" x2="677.6" y2="1181.3" stroke="#333" stroke-width="0.8"/>
<line x1="390.5" y1="1214.7" x2="677.6" y2="1214.7" stroke="#333" stroke-width="0.8"/>
<line x1="390.5" y1="1248.2" x2="677.6" y2="1248.2" stroke="#333" stroke-width="0.8"/>
<line x1="390.5" y1="1298.4" x2="677.6" y2="1298.4" stroke="#333" stroke-width="0.8"/>
<line x1="390.5" y1="1315.1" x2="677.6" y2="1315.1" stroke="#333" stroke-width="0.8"/>
<line x1="390.5" y1="1331.8" x2="677.6" y2="1331.8" stroke="#333" stroke-width="0.8"/>
<rect x="431.5" y="1165.1" width="150.4" height="16.4" fill="#FDE4C6"/>
<rect x="431.5" y="1181.9" width="150.4" height="16.4" fill="#F9A11F"/>
<rect x="513.5" y="1198.6" width="150.4" height="16.4" fill="#F3F6D3"/>
<rect x="513.5" y="1215.3" width="150.4" height="16.4" fill="#D7DF23"/>
<rect x="390.5" y="1232.1" width="123" height="16.4" fill="#D0E0E2"/>
<rect x="390.5" y="1248.8" width="123" height="16.4" fill="#0E8A87"/>
<rect x="431.5" y="1265.5" width="150.4" height="16.4" fill="#DACDE8"/>
<rect x="431.5" y="1282.2" width="150.4" height="16.4" fill="#8048A2"/>
<rect x="390.5" y="1299" width="41" height="15.5" fill="#7BA8AC"/>
<rect x="527.2" y="1316" width="41" height="15.5" fill="#7BA8AC"/>
<rect x="622.9" y="1332.7" width="41" height="15.5" fill="#7BA8AC"/>
<rect x="390.5" y="1349.8" width="287.1" height="14.2" fill="#C9C9C9"/>
<line x1="390.5" y1="1398.8" x2="677.6" y2="1398.8" stroke="#333" stroke-width="0.8"/>
<line x1="390.5" y1="1432.2" x2="677.6" y2="1432.2" stroke="#333" stroke-width="0.8"/>
<line x1="390.5" y1="1482.4" x2="677.6" y2="1482.4" stroke="#333" stroke-width="0.8"/>
<line x1="390.5" y1="1499.1" x2="677.6" y2="1499.1" stroke="#333" stroke-width="0.8"/>
<rect x="431.5" y="1365.9" width="150.4" height="16.4" fill="#FDE4C6"/>
<rect x="431.5" y="1382.6" width="150.4" height="16.4" fill="#F9A11F"/>
<rect x="513.5" y="1399.4" width="150.4" height="16.4" fill="#F3F6D3"/>
<rect x="513.5" y="1416.1" width="150.4" height="16.4" fill="#D7DF23"/>
<rect x="390.5" y="1432.8" width="123" height="16.4" fill="#D0E0E2"/>
<rect x="390.5" y="1449.5" width="123" height="16.4" fill="#0E8A87"/>
<rect x="431.5" y="1466.3" width="150.4" height="16.4" fill="#DACDE8"/>
<rect x="431.5" y="1483" width="150.4" height="16.4" fill="#8048A2"/>
<rect x="390.5" y="1499.7" width="41" height="15.5" fill="#7BA8AC"/>
<rect x="527.2" y="1516.8" width="41" height="15.5" fill="#7BA8AC"/>
<rect x="622.9" y="1533.5" width="41" height="15.5" fill="#7BA8AC"/>
<line x1="404.2" y1="1148.7" x2="404.2" y2="1550.2" stroke="#888" stroke-width="0.6" stroke-dasharray="2.2 1.8"/>
<line x1="431.5" y1="1148.7" x2="431.5" y2="1550.2" stroke="#888" stroke-width="0.6" stroke-dasharray="2.2 1.8"/>
<line x1="458.9" y1="1148.7" x2="458.9" y2="1550.2" stroke="#888" stroke-width="0.6" stroke-dasharray="2.2 1.8"/>
<line x1="472.5" y1="1148.7" x2="472.5" y2="1550.2" stroke="#888" stroke-width="0.6" stroke-dasharray="2.2 1.8"/>
<line x1="486.2" y1="1148.7" x2="486.2" y2="1550.2" stroke="#888" stroke-width="0.6" stroke-dasharray="2.2 1.8"/>
<line x1="513.5" y1="1148.7" x2="513.5" y2="1550.2" stroke="#888" stroke-width="0.6" stroke-dasharray="2.2 1.8"/>
<line x1="540.9" y1="1148.7" x2="540.9" y2="1550.2" stroke="#888" stroke-width="0.6" stroke-dasharray="2.2 1.8"/>
<line x1="554.5" y1="1148.7" x2="554.5" y2="1550.2" stroke="#888" stroke-width="0.6" stroke-dasharray="2.2 1.8"/>
<line x1="568.2" y1="1148.7" x2="568.2" y2="1550.2" stroke="#888" stroke-width="0.6" stroke-dasharray="2.2 1.8"/>
<line x1="595.5" y1="1148.7" x2="595.5" y2="1550.2" stroke="#888" stroke-width="0.6" stroke-dasharray="2.2 1.8"/>
<line x1="636.6" y1="1148.7" x2="636.6" y2="1550.2" stroke="#888" stroke-width="0.6" stroke-dasharray="2.2 1.8"/>
<line x1="663.9" y1="1148.7" x2="663.9" y2="1550.2" stroke="#888" stroke-width="0.6" stroke-dasharray="2.2 1.8"/>
<line x1="390.5" y1="1163.9" x2="677.6" y2="1163.9" stroke="#000" stroke-width="1.6"/>
<rect x="482.1" y="1165.4" width="53.3" height="32.7" fill="#fff" stroke="#F9A11F" stroke-width="0.9"/>
<text x="508.7" y="1188.4" font-size="19" text-anchor="middle" font-weight="bold" style="fill:#F9A11F">SHH</text>
<rect x="568.2" y="1198.9" width="54.7" height="32.7" fill="#fff" stroke="#D7DF23" stroke-width="0.9"/>
<text x="595.6" y="1221.9" font-size="19" text-anchor="middle" font-weight="bold" style="fill:#D7DF23">RA</text>
<rect x="426" y="1232.4" width="54.7" height="32.7" fill="#fff" stroke="#0E8A87" stroke-width="0.9"/>
<text x="453.4" y="1255.4" font-size="19" text-anchor="middle" font-weight="bold" style="fill:#0E8A87">CHIR</text>
<rect x="486.9" y="1265.8" width="54" height="32.7" fill="#fff" stroke="#8048A2" stroke-width="0.9"/>
<text x="513.9" y="1288.8" font-size="19" text-anchor="middle" font-weight="bold" style="fill:#8048A2">FGF-8</text>
<line x1="390.5" y1="1364.7" x2="677.6" y2="1364.7" stroke="#000" stroke-width="1.6"/>
<rect x="482.1" y="1366.2" width="53.3" height="32.7" fill="#fff" stroke="#F9A11F" stroke-width="0.9"/>
<text x="508.7" y="1389.2" font-size="19" text-anchor="middle" font-weight="bold" style="fill:#F9A11F">SHH</text>
<rect x="568.2" y="1399.7" width="54.7" height="32.7" fill="#fff" stroke="#D7DF23" stroke-width="0.9"/>
<text x="595.6" y="1422.7" font-size="19" text-anchor="middle" font-weight="bold" style="fill:#D7DF23">RA</text>
<rect x="426" y="1433.1" width="54.7" height="32.7" fill="#fff" stroke="#0E8A87" stroke-width="0.9"/>
<text x="453.4" y="1456.1" font-size="19" text-anchor="middle" font-weight="bold" style="fill:#0E8A87">CHIR</text>
<rect x="486.9" y="1466.6" width="54" height="32.7" fill="#fff" stroke="#8048A2" stroke-width="0.9"/>
<text x="513.9" y="1489.6" font-size="19" text-anchor="middle" font-weight="bold" style="fill:#8048A2">FGF-8</text>
<line x1="390.5" y1="1348.3" x2="677.6" y2="1348.3" stroke="#000" stroke-width="1.6"/>
<line x1="390.5" y1="1148.2" x2="677.6" y2="1148.2" stroke="#000" stroke-width="1.6"/>
<line x1="392.5" y1="1549.6" x2="678.6" y2="1549.6" stroke="#000" stroke-width="1.6"/>
<g>
<rect x="689.2" y="1150.7" width="199.7" height="14.2" class="o"/>
<rect x="888.7" y="1150.7" width="41.4" height="14.2" class="r"/>
<rect x="929.9" y="1150.7" width="2" height="14.2" class="d"/>
<rect x="931.8" y="1150.7" width="3.1" height="14.2" class="k"/>
<rect x="934.7" y="1150.7" width="2" height="14.2" class="s"/>
<rect x="936.6" y="1150.7" width="10.3" height="14.2" class="b"/>
<rect x="946.7" y="1150.7" width="8.7" height="14.2" class="g"/>
<rect x="689.2" y="1167.4" width="187.7" height="14.2" class="o"/>
<rect x="876.7" y="1167.4" width="51.2" height="14.2" class="r"/>
<rect x="927.8" y="1167.4" width="8.1" height="14.2" class="d"/>
<rect x="935.8" y="1167.4" width="3.6" height="14.2" class="h"/>
<rect x="939.2" y="1167.4" width="2.8" height="14.2" class="k"/>
<rect x="941.9" y="1167.4" width="2.8" height="14.2" class="b"/>
<rect x="944.6" y="1167.4" width="10.8" height="14.2" class="g"/>
<rect x="689.2" y="1184.2" width="8.1" height="14.2" class="o"/>
<rect x="697.2" y="1184.2" width="161.6" height="14.2" class="h"/>
<rect x="858.6" y="1184.2" width="1.7" height="14.2" class="s"/>
<rect x="860.2" y="1184.2" width="2" height="14.2" class="y"/>
<rect x="862.1" y="1184.2" width="85.3" height="14.2" class="b"/>
<rect x="947.2" y="1184.2" width="8.1" height="14.2" class="g"/>
<rect x="689.2" y="1200.9" width="28.9" height="14.2" class="o"/>
<rect x="717.9" y="1200.9" width="15.6" height="14.2" class="r"/>
<rect x="733.4" y="1200.9" width="192.7" height="14.2" class="k"/>
<rect x="925.9" y="1200.9" width="15.6" height="14.2" class="s"/>
<rect x="941.4" y="1200.9" width="10" height="14.2" class="b"/>
<rect x="951.2" y="1200.9" width="4.1" height="14.2" class="g"/>
<rect x="689.2" y="1217.6" width="4.7" height="14.2" class="o"/>
<rect x="693.7" y="1217.6" width="7.9" height="14.2" class="r"/>
<rect x="701.4" y="1217.6" width="1.2" height="14.2" class="t"/>
<rect x="702.5" y="1217.6" width="161.6" height="14.2" class="k"/>
<rect x="864" y="1217.6" width="16.9" height="14.2" class="s"/>
<rect x="880.7" y="1217.6" width="14.2" height="14.2" class="b"/>
<rect x="894.8" y="1217.6" width="60.5" height="14.2" class="g"/>
<rect x="689.2" y="1234.4" width="95.1" height="14.2" class="o"/>
<rect x="784.2" y="1234.4" width="121.2" height="14.2" class="r"/>
<rect x="905.2" y="1234.4" width="17.7" height="14.2" class="d"/>
<rect x="922.7" y="1234.4" width="4.9" height="14.2" class="k"/>
<rect x="927.5" y="1234.4" width="3.3" height="14.2" class="b"/>
<rect x="930.7" y="1234.4" width="23.3" height="14.2" class="g"/>
<rect x="953.9" y="1234.4" width="1.5" height="14.2" class="c"/>
<rect x="689.2" y="1251.1" width="2.3" height="14.2" class="d"/>
<rect x="691.3" y="1251.1" width="264" height="14.2" class="g"/>
<rect x="689.2" y="1267.8" width="162.9" height="14.2" class="o"/>
<rect x="852" y="1267.8" width="68" height="14.2" class="r"/>
<rect x="919.8" y="1267.8" width="7.6" height="14.2" class="d"/>
<rect x="927.3" y="1267.8" width="4.9" height="14.2" class="k"/>
<rect x="932.1" y="1267.8" width="1.5" height="14.2" class="t"/>
<rect x="933.4" y="1267.8" width="7.3" height="14.2" class="b"/>
<rect x="940.6" y="1267.8" width="13.5" height="14.2" class="g"/>
<rect x="953.9" y="1267.8" width="1.5" height="14.2" class="c"/>
<rect x="689.2" y="1284.5" width="214.3" height="14.2" class="o"/>
<rect x="903.3" y="1284.5" width="28.1" height="14.2" class="r"/>
<rect x="931.3" y="1284.5" width="1.5" height="14.2" class="d"/>
<rect x="932.6" y="1284.5" width="4.1" height="14.2" class="k"/>
<rect x="936.6" y="1284.5" width="14.2" height="14.2" class="b"/>
<rect x="950.7" y="1284.5" width="4.7" height="14.2" class="g"/>
<rect x="689.2" y="1301.3" width="5.5" height="14.2" class="o"/>
<rect x="694.5" y="1301.3" width="8.1" height="14.2" class="r"/>
<rect x="702.5" y="1301.3" width="99.9" height="14.2" class="d"/>
<rect x="802.2" y="1301.3" width="72.5" height="14.2" class="p"/>
<rect x="874.6" y="1301.3" width="14.2" height="14.2" class="g"/>
<rect x="888.7" y="1301.3" width="66.7" height="14.2" class="c"/>
<rect x="689.2" y="1318" width="115.9" height="14.2" class="o"/>
<rect x="804.9" y="1318" width="99.9" height="14.2" class="r"/>
<rect x="904.7" y="1318" width="17.7" height="14.2" class="d"/>
<rect x="922.2" y="1318" width="5.2" height="14.2" class="k"/>
<rect x="927.3" y="1318" width="5.5" height="14.2" class="b"/>
<rect x="932.6" y="1318" width="21.4" height="14.2" class="g"/>
<rect x="953.9" y="1318" width="1.5" height="14.2" class="c"/>
<rect x="689.2" y="1334.7" width="129.7" height="14.2" class="o"/>
<rect x="818.7" y="1334.7" width="73.3" height="14.2" class="r"/>
<rect x="891.9" y="1334.7" width="26.2" height="14.2" class="d"/>
<rect x="918" y="1334.7" width="3.9" height="14.2" class="k"/>
<rect x="921.7" y="1334.7" width="2.8" height="14.2" class="s"/>
<rect x="924.3" y="1334.7" width="13.2" height="14.2" class="b"/>
<rect x="937.4" y="1334.7" width="13.5" height="14.2" class="g"/>
<rect x="950.7" y="1334.7" width="4.7" height="14.2" class="c"/>
<rect x="689.2" y="1351.5" width="138.5" height="14.2" class="o"/>
<rect x="827.5" y="1351.5" width="2.8" height="14.2" class="d"/>
<rect x="830.2" y="1351.5" width="5.5" height="14.2" class="t"/>
<rect x="835.5" y="1351.5" width="6.3" height="14.2" class="f"/>
<rect x="841.6" y="1351.5" width="25.4" height="14.2" class="y"/>
<rect x="866.9" y="1351.5" width="88.5" height="14.2" class="b"/>
<rect x="689.2" y="1368.2" width="122" height="14.2" class="o"/>
<rect x="811" y="1368.2" width="4.1" height="14.2" class="d"/>
<rect x="815" y="1368.2" width="8.1" height="14.2" class="t"/>
<rect x="823" y="1368.2" width="4.7" height="14.2" class="f"/>
<rect x="827.5" y="1368.2" width="45.4" height="14.2" class="y"/>
<rect x="872.7" y="1368.2" width="82.6" height="14.2" class="b"/>
<rect x="689.2" y="1384.9" width="9.5" height="14.2" class="o"/>
<rect x="698.5" y="1384.9" width="12.7" height="14.2" class="h"/>
<rect x="711" y="1384.9" width="3.1" height="14.2" class="t"/>
<rect x="713.9" y="1384.9" width="76.5" height="14.2" class="f"/>
<rect x="790.3" y="1384.9" width="114.5" height="14.2" class="y"/>
<rect x="904.7" y="1384.9" width="44" height="14.2" class="b"/>
<rect x="948.6" y="1384.9" width="6.8" height="14.2" class="g"/>
<rect x="689.2" y="1401.7" width="11.3" height="14.2" class="o"/>
<rect x="700.4" y="1401.7" width="4.9" height="14.2" class="t"/>
<rect x="705.2" y="1401.7" width="3.6" height="14.2" class="f"/>
<rect x="708.6" y="1401.7" width="6" height="14.2" class="k"/>
<rect x="714.5" y="1401.7" width="164.5" height="14.2" class="s"/>
<rect x="878.9" y="1401.7" width="3.9" height="14.2" class="y"/>
<rect x="882.6" y="1401.7" width="71.4" height="14.2" class="b"/>
<rect x="689.2" y="1418.4" width="7.3" height="14.2" class="o"/>
<rect x="696.4" y="1418.4" width="4.4" height="14.2" class="t"/>
<rect x="700.6" y="1418.4" width="6" height="14.2" class="f"/>
<rect x="706.5" y="1418.4" width="20.1" height="14.2" class="k"/>
<rect x="726.4" y="1418.4" width="148.3" height="14.2" class="s"/>
<rect x="874.6" y="1418.4" width="80.7" height="14.2" class="b"/>
<rect x="689.2" y="1435.1" width="11.6" height="14.2" class="o"/>
<rect x="700.6" y="1435.1" width="133.2" height="14.2" class="d"/>
<rect x="833.6" y="1435.1" width="46.4" height="14.2" class="t"/>
<rect x="879.9" y="1435.1" width="2.8" height="14.2" class="f"/>
<rect x="882.6" y="1435.1" width="24.1" height="14.2" class="s"/>
<rect x="906.5" y="1435.1" width="5.5" height="14.2" class="y"/>
<rect x="911.8" y="1435.1" width="43.5" height="14.2" class="b"/>
<rect x="689.2" y="1451.8" width="34.7" height="14.2" class="t"/>
<rect x="723.8" y="1451.8" width="165.1" height="14.2" class="s"/>
<rect x="888.7" y="1451.8" width="1.5" height="14.2" class="y"/>
<rect x="890" y="1451.8" width="65.3" height="14.2" class="b"/>
<rect x="689.2" y="1468.6" width="113.7" height="14.2" class="o"/>
<rect x="802.8" y="1468.6" width="12.1" height="14.2" class="d"/>
<rect x="814.8" y="1468.6" width="12.4" height="14.2" class="t"/>
<rect x="827" y="1468.6" width="10" height="14.2" class="f"/>
<rect x="836.8" y="1468.6" width="8.9" height="14.2" class="s"/>
<rect x="845.6" y="1468.6" width="57.3" height="14.2" class="y"/>
<rect x="902.8" y="1468.6" width="52.6" height="14.2" class="b"/>
<rect x="689.2" y="1485.3" width="141.9" height="14.2" class="o"/>
<rect x="831" y="1485.3" width="4.7" height="14.2" class="d"/>
<rect x="835.5" y="1485.3" width="20.1" height="14.2" class="t"/>
<rect x="855.5" y="1485.3" width="6.3" height="14.2" class="f"/>
<rect x="861.6" y="1485.3" width="11.3" height="14.2" class="s"/>
<rect x="872.7" y="1485.3" width="34.7" height="14.2" class="y"/>
<rect x="907.3" y="1485.3" width="48" height="14.2" class="b"/>
<rect x="689.2" y="1502" width="8.1" height="14.2" class="o"/>
<rect x="697.2" y="1502" width="81.8" height="14.2" class="t"/>
<rect x="778.8" y="1502" width="50.2" height="14.2" class="f"/>
<rect x="828.9" y="1502" width="52.6" height="14.2" class="s"/>
<rect x="881.3" y="1502" width="7.6" height="14.2" class="y"/>
<rect x="888.7" y="1502" width="65.3" height="14.2" class="b"/>
<rect x="689.2" y="1518.8" width="116.7" height="14.2" class="o"/>
<rect x="805.7" y="1518.8" width="6.5" height="14.2" class="d"/>
<rect x="812.1" y="1518.8" width="2.8" height="14.2" class="k"/>
<rect x="814.8" y="1518.8" width="6.3" height="14.2" class="t"/>
<rect x="820.9" y="1518.8" width="9.5" height="14.2" class="f"/>
<rect x="830.2" y="1518.8" width="4.1" height="14.2" class="s"/>
<rect x="834.2" y="1518.8" width="50.7" height="14.2" class="y"/>
<rect x="884.7" y="1518.8" width="70.6" height="14.2" class="b"/>
<rect x="689.2" y="1535.5" width="90.1" height="14.2" class="o"/>
<rect x="779.1" y="1535.5" width="4.7" height="14.2" class="d"/>
<rect x="783.6" y="1535.5" width="10.3" height="14.2" class="t"/>
<rect x="793.7" y="1535.5" width="7.3" height="14.2" class="f"/>
<rect x="800.9" y="1535.5" width="6.3" height="14.2" class="s"/>
<rect x="807" y="1535.5" width="71.7" height="14.2" class="y"/>
<rect x="878.6" y="1535.5" width="76.8" height="14.2" class="b"/>
</g>
<line x1="689.2" y1="1146.7" x2="955.2" y2="1146.7" stroke="#222" stroke-width="0.9"/>
<line x1="689.2" y1="1142.7" x2="689.2" y2="1146.7" stroke="#222" stroke-width="0.9"/>
<text x="689.2" y="1139.2" font-size="11" text-anchor="middle">0</text>
<line x1="755.7" y1="1142.7" x2="755.7" y2="1146.7" stroke="#222" stroke-width="0.9"/>
<text x="755.7" y="1139.2" font-size="11" text-anchor="middle">25</text>
<line x1="822.2" y1="1142.7" x2="822.2" y2="1146.7" stroke="#222" stroke-width="0.9"/>
<text x="822.2" y="1139.2" font-size="11" text-anchor="middle">50</text>
<line x1="888.7" y1="1142.7" x2="888.7" y2="1146.7" stroke="#222" stroke-width="0.9"/>
<text x="888.7" y="1139.2" font-size="11" text-anchor="middle">75</text>
<line x1="955.2" y1="1142.7" x2="955.2" y2="1146.7" stroke="#222" stroke-width="0.9"/>
<text x="955.2" y="1139.2" font-size="11" text-anchor="middle">100</text>
<text x="823.2" y="1122.7" font-size="13" text-anchor="middle">% cells per condtion</text>
<text x="1499" y="1101.2" font-size="34" text-anchor="middle" font-weight="bold">WIBJ2</text>
<g fill="#58595B">
<rect x="1012.6" y="1151.2" width="53" height="13.6"/>
<rect x="1016" y="1167.9" width="49.6" height="13.6"/>
<rect x="1006.2" y="1184.7" width="59.4" height="13.6"/>
<rect x="1012.6" y="1201.4" width="53" height="13.6"/>
<rect x="1017.6" y="1218.1" width="48" height="13.6"/>
<rect x="1016" y="1234.9" width="49.6" height="13.6"/>
<rect x="1017.6" y="1251.6" width="48" height="13.6"/>
<rect x="1017.6" y="1268.3" width="48" height="13.6"/>
<rect x="1014.2" y="1285" width="51.4" height="13.6"/>
<rect x="1022.5" y="1301.8" width="43.1" height="13.6"/>
<rect x="1017.6" y="1318.5" width="48" height="13.6"/>
<rect x="1012.6" y="1335.2" width="53" height="13.6"/>
<rect x="1012.6" y="1352" width="53" height="13.6"/>
<rect x="1009.3" y="1368.7" width="56.3" height="13.6"/>
<rect x="1007.7" y="1385.4" width="57.9" height="13.6"/>
<rect x="1011.1" y="1402.2" width="54.5" height="13.6"/>
<rect x="1012.6" y="1418.9" width="53" height="13.6"/>
<rect x="1009.3" y="1435.6" width="56.3" height="13.6"/>
<rect x="1009.3" y="1452.3" width="56.3" height="13.6"/>
<rect x="1012.6" y="1469.1" width="53" height="13.6"/>
<rect x="1006.2" y="1485.8" width="59.4" height="13.6"/>
<rect x="1006.2" y="1502.5" width="59.4" height="13.6"/>
<rect x="1011.1" y="1519.3" width="54.5" height="13.6"/>
<rect x="1011.1" y="1536" width="54.5" height="13.6"/>
</g>
<line x1="1006.1" y1="1147.9" x2="1065.6" y2="1147.9" stroke="#222" stroke-width="1"/>
<line x1="1065.6" y1="1143.9" x2="1065.6" y2="1147.9" stroke="#222" stroke-width="1"/>
<line x1="1033.3" y1="1143.9" x2="1033.3" y2="1147.9" stroke="#222" stroke-width="1"/>
<line x1="1015.8" y1="1143.9" x2="1015.8" y2="1147.9" stroke="#222" stroke-width="1"/>
<line x1="1006.1" y1="1143.9" x2="1006.1" y2="1147.9" stroke="#222" stroke-width="1"/>
<text x="1003.6" y="1141.4" font-size="10.5" text-anchor="middle">3.6</text>
<text x="1016.3" y="1141.4" font-size="10.5" text-anchor="middle">3</text>
<text x="1033.3" y="1141.4" font-size="10.5" text-anchor="middle">2</text>
<text x="1065.6" y="1141.4" font-size="10.5" text-anchor="middle">0</text>
<text x="1002.6" y="1123.4" font-size="12.5">log<tspan font-size="7" dy="3">10</tspan><tspan dy="-3"> n cells</tspan></text>
<rect x="1083.1" y="1165.4" width="274.7" height="184" fill="#EEEEEE"/>
<rect x="1083.4" y="1148.9" width="20.3" height="15.8" class="o"/>
<text x="1093.7" y="1162.3" font-size="15.5" text-anchor="middle" style="fill:#fff">1</text>
<rect x="1104.5" y="1148.9" width="20.3" height="15.8" class="r"/>
<text x="1114.8" y="1162.3" font-size="15.5" text-anchor="middle" style="fill:#fff">2</text>
<rect x="1125.7" y="1148.9" width="20.3" height="15.8" class="d"/>
<text x="1135.9" y="1162.3" font-size="15.5" text-anchor="middle" style="fill:#fff">3</text>
<rect x="1146.8" y="1148.9" width="20.3" height="15.8" class="h"/>
<text x="1157.1" y="1162.3" font-size="15.5" text-anchor="middle" style="fill:#fff">4</text>
<rect x="1167.9" y="1148.9" width="20.3" height="15.8" class="t"/>
<text x="1178.2" y="1162.3" font-size="15.5" text-anchor="middle" style="fill:#fff">5</text>
<rect x="1189" y="1148.9" width="20.3" height="15.8" class="f"/>
<text x="1199.3" y="1162.3" font-size="15.5" text-anchor="middle" style="fill:#fff">6</text>
<rect x="1210.2" y="1148.9" width="20.3" height="15.8" class="k"/>
<text x="1220.4" y="1162.3" font-size="15.5" text-anchor="middle" style="fill:#fff">7</text>
<rect x="1231.3" y="1148.9" width="20.3" height="15.8" class="s"/>
<text x="1241.6" y="1162.3" font-size="15.5" text-anchor="middle" style="fill:#fff">8</text>
<rect x="1252.4" y="1148.9" width="20.3" height="15.8" class="p"/>
<text x="1262.7" y="1162.3" font-size="15.5" text-anchor="middle" style="fill:#fff">9</text>
<rect x="1273.6" y="1148.9" width="20.3" height="15.8" class="y"/>
<text x="1283.8" y="1162.3" font-size="15" text-anchor="middle" style="fill:#fff" textLength="17" lengthAdjust="spacingAndGlyphs">10</text>
<rect x="1294.7" y="1148.9" width="20.3" height="15.8" class="b"/>
<text x="1305" y="1162.3" font-size="15" text-anchor="middle" style="fill:#fff" textLength="17" lengthAdjust="spacingAndGlyphs">11</text>
<rect x="1315.8" y="1148.9" width="20.3" height="15.8" class="g"/>
<text x="1326.1" y="1162.3" font-size="15" text-anchor="middle" style="fill:#fff" textLength="17" lengthAdjust="spacingAndGlyphs">12</text>
<rect x="1337" y="1148.9" width="20.3" height="15.8" class="c"/>
<text x="1347.2" y="1162.3" font-size="15" text-anchor="middle" style="fill:#fff" textLength="17" lengthAdjust="spacingAndGlyphs">13</text>
<rect x="1083.1" y="1366.2" width="274.7" height="184" fill="#EEEEEE"/>
<rect x="1083.4" y="1349.7" width="20.3" height="15.8" class="o"/>
<text x="1093.7" y="1363.1" font-size="15.5" text-anchor="middle" style="fill:#fff">1</text>
<rect x="1104.5" y="1349.7" width="20.3" height="15.8" class="r"/>
<text x="1114.8" y="1363.1" font-size="15.5" text-anchor="middle" style="fill:#fff">2</text>
<rect x="1125.7" y="1349.7" width="20.3" height="15.8" class="d"/>
<text x="1135.9" y="1363.1" font-size="15.5" text-anchor="middle" style="fill:#fff">3</text>
<rect x="1146.8" y="1349.7" width="20.3" height="15.8" class="h"/>
<text x="1157.1" y="1363.1" font-size="15.5" text-anchor="middle" style="fill:#fff">4</text>
<rect x="1167.9" y="1349.7" width="20.3" height="15.8" class="t"/>
<text x="1178.2" y="1363.1" font-size="15.5" text-anchor="middle" style="fill:#fff">5</text>
<rect x="1189" y="1349.7" width="20.3" height="15.8" class="f"/>
<text x="1199.3" y="1363.1" font-size="15.5" text-anchor="middle" style="fill:#fff">6</text>
<rect x="1210.2" y="1349.7" width="20.3" height="15.8" class="k"/>
<text x="1220.4" y="1363.1" font-size="15.5" text-anchor="middle" style="fill:#fff">7</text>
<rect x="1231.3" y="1349.7" width="20.3" height="15.8" class="s"/>
<text x="1241.6" y="1363.1" font-size="15.5" text-anchor="middle" style="fill:#fff">8</text>
<rect x="1252.4" y="1349.7" width="20.3" height="15.8" class="p"/>
<text x="1262.7" y="1363.1" font-size="15.5" text-anchor="middle" style="fill:#fff">9</text>
<rect x="1273.6" y="1349.7" width="20.3" height="15.8" class="y"/>
<text x="1283.8" y="1363.1" font-size="15" text-anchor="middle" style="fill:#fff" textLength="17" lengthAdjust="spacingAndGlyphs">10</text>
<rect x="1294.7" y="1349.7" width="20.3" height="15.8" class="b"/>
<text x="1305" y="1363.1" font-size="15" text-anchor="middle" style="fill:#fff" textLength="17" lengthAdjust="spacingAndGlyphs">11</text>
<rect x="1315.8" y="1349.7" width="20.3" height="15.8" class="g"/>
<text x="1326.1" y="1363.1" font-size="15" text-anchor="middle" style="fill:#fff" textLength="17" lengthAdjust="spacingAndGlyphs">12</text>
<rect x="1337" y="1349.7" width="20.3" height="15.8" class="c"/>
<text x="1347.2" y="1363.1" font-size="15" text-anchor="middle" style="fill:#fff" textLength="17" lengthAdjust="spacingAndGlyphs">13</text>
<rect x="1083.1" y="1165.4" width="21.2" height="16.8" fill="#B394C7"/>
<rect x="1104.2" y="1165.4" width="21.2" height="16.8" fill="#FCC395"/>
<rect x="1294.4" y="1165.4" width="21.2" height="16.8" fill="#DCD1E7"/>
<rect x="1315.5" y="1165.4" width="21.2" height="16.8" fill="#F58526"/>
<rect x="1083.1" y="1182.2" width="21.2" height="16.8" fill="#4E2067"/>
<rect x="1104.2" y="1182.2" width="21.2" height="16.8" fill="#B394C7"/>
<rect x="1146.5" y="1182.2" width="21.2" height="16.8" fill="#F47B20"/>
<rect x="1294.4" y="1182.2" width="21.2" height="16.8" fill="#FAA968"/>
<rect x="1315.5" y="1182.2" width="21.2" height="16.8" fill="#FBB780"/>
<rect x="1083.1" y="1198.9" width="21.2" height="16.8" fill="#552470"/>
<rect x="1104.2" y="1198.9" width="21.2" height="16.8" fill="#FDCDA5"/>
<rect x="1209.9" y="1198.9" width="21.2" height="16.8" fill="#F47B20"/>
<rect x="1231" y="1198.9" width="21.2" height="16.8" fill="#F68D35"/>
<rect x="1252.1" y="1198.9" width="21.2" height="16.8" fill="#F58124"/>
<rect x="1294.4" y="1198.9" width="21.2" height="16.8" fill="#C9B5D9"/>
<rect x="1315.5" y="1198.9" width="21.2" height="16.8" fill="#F9A25B"/>
<rect x="1083.1" y="1215.6" width="21.2" height="16.8" fill="#4E2067"/>
<rect x="1209.9" y="1215.6" width="21.2" height="16.8" fill="#F47B20"/>
<rect x="1231" y="1215.6" width="21.2" height="16.8" fill="#F68D35"/>
<rect x="1294.4" y="1215.6" width="21.2" height="16.8" fill="#DCD1E7"/>
<rect x="1315.5" y="1215.6" width="21.2" height="16.8" fill="#F58124"/>
<rect x="1083.1" y="1232.4" width="21.2" height="16.8" fill="#BCA1CE"/>
<rect x="1104.2" y="1232.4" width="21.2" height="16.8" fill="#F9A763"/>
<rect x="1125.4" y="1232.4" width="21.2" height="16.8" fill="#F58124"/>
<rect x="1209.9" y="1232.4" width="21.2" height="16.8" fill="#F9A25B"/>
<rect x="1315.5" y="1232.4" width="21.2" height="16.8" fill="#F7923E"/>
<rect x="1083.1" y="1249.1" width="21.2" height="16.8" fill="#4E2067"/>
<rect x="1104.2" y="1249.1" width="21.2" height="16.8" fill="#4E2067"/>
<rect x="1294.4" y="1249.1" width="21.2" height="16.8" fill="#4E2067"/>
<rect x="1315.5" y="1249.1" width="21.2" height="16.8" fill="#F47F22"/>
<rect x="1083.1" y="1282.5" width="21.2" height="16.8" fill="#EDE8F2"/>
<rect x="1083.1" y="1299.3" width="21.2" height="16.8" fill="#4E2067"/>
<rect x="1104.2" y="1299.3" width="21.2" height="16.8" fill="#4E2067"/>
<rect x="1294.4" y="1299.3" width="21.2" height="16.8" fill="#4E2067"/>
<rect x="1315.5" y="1299.3" width="21.2" height="16.8" fill="#F47F22"/>
<rect x="1083.1" y="1316" width="21.2" height="16.8" fill="#CEBDDD"/>
<rect x="1104.2" y="1316" width="21.2" height="16.8" fill="#F99D52"/>
<rect x="1125.4" y="1316" width="21.2" height="16.8" fill="#F58124"/>
<rect x="1294.4" y="1316" width="21.2" height="16.8" fill="#FDD6B5"/>
<rect x="1083.1" y="1332.7" width="21.2" height="16.8" fill="#EBE5F1"/>
<rect x="1104.2" y="1332.7" width="21.2" height="16.8" fill="#B394C7"/>
<rect x="1294.4" y="1332.7" width="21.2" height="16.8" fill="#FDD6B5"/>
<rect x="1083.1" y="1366.2" width="21.2" height="16.8" fill="#FDD3B0"/>
<rect x="1146.5" y="1366.2" width="21.2" height="16.8" fill="#FCC395"/>
<rect x="1273.3" y="1366.2" width="21.2" height="16.8" fill="#C9B5D9"/>
<rect x="1083.1" y="1382.9" width="21.2" height="16.8" fill="#7A4494"/>
<rect x="1125.4" y="1382.9" width="21.2" height="16.8" fill="#9A6EB0"/>
<rect x="1146.5" y="1382.9" width="21.2" height="16.8" fill="#F47B20"/>
<rect x="1188.8" y="1382.9" width="21.2" height="16.8" fill="#F47F22"/>
<rect x="1273.3" y="1382.9" width="21.2" height="16.8" fill="#EDE8F2"/>
<rect x="1294.4" y="1382.9" width="21.2" height="16.8" fill="#E3DAEC"/>
<rect x="1315.5" y="1382.9" width="21.2" height="16.8" fill="#F58124"/>
<rect x="1083.1" y="1399.7" width="21.2" height="16.8" fill="#C9B5D9"/>
<rect x="1188.8" y="1399.7" width="21.2" height="16.8" fill="#FDCDA5"/>
<rect x="1209.9" y="1399.7" width="21.2" height="16.8" fill="#F47B20"/>
<rect x="1231" y="1399.7" width="21.2" height="16.8" fill="#F47B20"/>
<rect x="1273.3" y="1399.7" width="21.2" height="16.8" fill="#612D7F"/>
<rect x="1294.4" y="1399.7" width="21.2" height="16.8" fill="#E6DEEE"/>
<rect x="1315.5" y="1399.7" width="21.2" height="16.8" fill="#F7923E"/>
<rect x="1083.1" y="1416.4" width="21.2" height="16.8" fill="#7A4494"/>
<rect x="1167.6" y="1416.4" width="21.2" height="16.8" fill="#DCD1E7"/>
<rect x="1188.8" y="1416.4" width="21.2" height="16.8" fill="#FDCDA5"/>
<rect x="1209.9" y="1416.4" width="21.2" height="16.8" fill="#F47B20"/>
<rect x="1231" y="1416.4" width="21.2" height="16.8" fill="#F47B20"/>
<rect x="1273.3" y="1416.4" width="21.2" height="16.8" fill="#4E2067"/>
<rect x="1083.1" y="1433.1" width="21.2" height="16.8" fill="#4E2067"/>
<rect x="1125.4" y="1433.1" width="21.2" height="16.8" fill="#FAB47A"/>
<rect x="1167.6" y="1433.1" width="21.2" height="16.8" fill="#F7923E"/>
<rect x="1188.8" y="1433.1" width="21.2" height="16.8" fill="#F47F22"/>
<rect x="1231" y="1433.1" width="21.2" height="16.8" fill="#F9A763"/>
<rect x="1273.3" y="1433.1" width="21.2" height="16.8" fill="#DCD1E7"/>
<rect x="1294.4" y="1433.1" width="21.2" height="16.8" fill="#DCD1E7"/>
<rect x="1315.5" y="1433.1" width="21.2" height="16.8" fill="#F58526"/>
<rect x="1083.1" y="1449.8" width="21.2" height="16.8" fill="#4E2067"/>
<rect x="1125.4" y="1449.8" width="21.2" height="16.8" fill="#9162A8"/>
<rect x="1167.6" y="1449.8" width="21.2" height="16.8" fill="#FDE2CB"/>
<rect x="1188.8" y="1449.8" width="21.2" height="16.8" fill="#4E2067"/>
<rect x="1231" y="1449.8" width="21.2" height="16.8" fill="#F47F22"/>
<rect x="1273.3" y="1449.8" width="21.2" height="16.8" fill="#4E2067"/>
<rect x="1294.4" y="1449.8" width="21.2" height="16.8" fill="#EDE8F2"/>
<rect x="1315.5" y="1449.8" width="21.2" height="16.8" fill="#F7913B"/>
<rect x="1083.1" y="1466.6" width="21.2" height="16.8" fill="#FDD6B5"/>
<rect x="1273.3" y="1466.6" width="21.2" height="16.8" fill="#DCD1E7"/>
<rect x="1083.1" y="1483.3" width="21.2" height="16.8" fill="#FDD6B5"/>
<rect x="1252.1" y="1483.3" width="21.2" height="16.8" fill="#4E2067"/>
<rect x="1273.3" y="1483.3" width="21.2" height="16.8" fill="#EBE5F1"/>
<rect x="1294.4" y="1483.3" width="21.2" height="16.8" fill="#EBE5F1"/>
<rect x="1083.1" y="1500" width="21.2" height="16.8" fill="#4E2067"/>
<rect x="1125.4" y="1500" width="21.2" height="16.8" fill="#4E2067"/>
<rect x="1167.6" y="1500" width="21.2" height="16.8" fill="#F58526"/>
<rect x="1188.8" y="1500" width="21.2" height="16.8" fill="#F7913B"/>
<rect x="1231" y="1500" width="21.2" height="16.8" fill="#F47F22"/>
<rect x="1252.1" y="1500" width="21.2" height="16.8" fill="#4E2067"/>
<rect x="1273.3" y="1500" width="21.2" height="16.8" fill="#4E2067"/>
<rect x="1294.4" y="1500" width="21.2" height="16.8" fill="#E8E1EF"/>
<rect x="1315.5" y="1500" width="21.2" height="16.8" fill="#F47F22"/>
<rect x="1336.7" y="1500" width="21.2" height="16.8" fill="#FCC79A"/>
<rect x="1083.1" y="1516.8" width="21.2" height="16.8" fill="#FCC79A"/>
<rect x="1125.4" y="1516.8" width="21.2" height="16.8" fill="#FDDCC0"/>
<rect x="1273.3" y="1516.8" width="21.2" height="16.8" fill="#C0A8D2"/>
<rect x="1294.4" y="1516.8" width="21.2" height="16.8" fill="#EBE5F1"/>
<rect x="1083.1" y="1533.5" width="21.2" height="16.8" fill="#FCC79A"/>
<rect x="1273.3" y="1533.5" width="21.2" height="16.8" fill="#AD8AC1"/>
<text x="1506.5" y="1122.7" font-size="13" text-anchor="middle">Days <tspan font-style="italic">in vitro</tspan></text>
<text x="1362" y="1143.5" font-size="13" text-anchor="middle">0</text>
<text x="1388.6" y="1143.5" font-size="13" text-anchor="middle">2</text>
<text x="1415.1" y="1143.5" font-size="13" text-anchor="middle">4</text>
<text x="1441.7" y="1143.5" font-size="13" text-anchor="middle">6</text>
<text x="1468.2" y="1143.5" font-size="13" text-anchor="middle">8</text>
<text x="1494.8" y="1143.5" font-size="13" text-anchor="middle">10</text>
<text x="1521.4" y="1143.5" font-size="13" text-anchor="middle">12</text>
<text x="1547.9" y="1143.5" font-size="13" text-anchor="middle">14</text>
<text x="1574.5" y="1143.5" font-size="13" text-anchor="middle">16</text>
<text x="1601" y="1143.5" font-size="13" text-anchor="middle">18</text>
<text x="1632" y="1143.5" font-size="13" text-anchor="middle">2021</text>
<rect x="1362" y="1149" width="287.1" height="14.2" fill="#C9C9C9"/>
<line x1="1362" y1="1181.3" x2="1649.1" y2="1181.3" stroke="#333" stroke-width="0.8"/>
<line x1="1362" y1="1214.7" x2="1649.1" y2="1214.7" stroke="#333" stroke-width="0.8"/>
<line x1="1362" y1="1248.2" x2="1649.1" y2="1248.2" stroke="#333" stroke-width="0.8"/>
<line x1="1362" y1="1298.4" x2="1649.1" y2="1298.4" stroke="#333" stroke-width="0.8"/>
<line x1="1362" y1="1315.1" x2="1649.1" y2="1315.1" stroke="#333" stroke-width="0.8"/>
<line x1="1362" y1="1331.8" x2="1649.1" y2="1331.8" stroke="#333" stroke-width="0.8"/>
<rect x="1403" y="1165.1" width="150.4" height="16.4" fill="#FDE4C6"/>
<rect x="1403" y="1181.9" width="150.4" height="16.4" fill="#F9A11F"/>
<rect x="1485" y="1198.6" width="150.4" height="16.4" fill="#F3F6D3"/>
<rect x="1485" y="1215.3" width="150.4" height="16.4" fill="#D7DF23"/>
<rect x="1362" y="1232.1" width="123" height="16.4" fill="#D0E0E2"/>
<rect x="1362" y="1248.8" width="123" height="16.4" fill="#0E8A87"/>
<rect x="1403" y="1265.5" width="150.4" height="16.4" fill="#DACDE8"/>
<rect x="1403" y="1282.2" width="150.4" height="16.4" fill="#8048A2"/>
<rect x="1362" y="1299" width="41" height="15.5" fill="#7BA8AC"/>
<rect x="1498.7" y="1316" width="41" height="15.5" fill="#7BA8AC"/>
<rect x="1594.4" y="1332.7" width="41" height="15.5" fill="#7BA8AC"/>
<rect x="1362" y="1349.8" width="287.1" height="14.2" fill="#C9C9C9"/>
<line x1="1362" y1="1398.8" x2="1649.1" y2="1398.8" stroke="#333" stroke-width="0.8"/>
<line x1="1362" y1="1432.2" x2="1649.1" y2="1432.2" stroke="#333" stroke-width="0.8"/>
<line x1="1362" y1="1482.4" x2="1649.1" y2="1482.4" stroke="#333" stroke-width="0.8"/>
<line x1="1362" y1="1499.1" x2="1649.1" y2="1499.1" stroke="#333" stroke-width="0.8"/>
<rect x="1403" y="1365.9" width="150.4" height="16.4" fill="#FDE4C6"/>
<rect x="1403" y="1382.6" width="150.4" height="16.4" fill="#F9A11F"/>
<rect x="1485" y="1399.4" width="150.4" height="16.4" fill="#F3F6D3"/>
<rect x="1485" y="1416.1" width="150.4" height="16.4" fill="#D7DF23"/>
<rect x="1362" y="1432.8" width="123" height="16.4" fill="#D0E0E2"/>
<rect x="1362" y="1449.5" width="123" height="16.4" fill="#0E8A87"/>
<rect x="1403" y="1466.3" width="150.4" height="16.4" fill="#DACDE8"/>
<rect x="1403" y="1483" width="150.4" height="16.4" fill="#8048A2"/>
<rect x="1362" y="1499.7" width="41" height="15.5" fill="#7BA8AC"/>
<rect x="1498.7" y="1516.8" width="41" height="15.5" fill="#7BA8AC"/>
<rect x="1594.4" y="1533.5" width="41" height="15.5" fill="#7BA8AC"/>
<line x1="1389.3" y1="1148.7" x2="1389.3" y2="1550.2" stroke="#888" stroke-width="0.6" stroke-dasharray="2.2 1.8"/>
<line x1="1403" y1="1148.7" x2="1403" y2="1550.2" stroke="#888" stroke-width="0.6" stroke-dasharray="2.2 1.8"/>
<line x1="1416.7" y1="1148.7" x2="1416.7" y2="1550.2" stroke="#888" stroke-width="0.6" stroke-dasharray="2.2 1.8"/>
<line x1="1430.3" y1="1148.7" x2="1430.3" y2="1550.2" stroke="#888" stroke-width="0.6" stroke-dasharray="2.2 1.8"/>
<line x1="1444" y1="1148.7" x2="1444" y2="1550.2" stroke="#888" stroke-width="0.6" stroke-dasharray="2.2 1.8"/>
<line x1="1457.7" y1="1148.7" x2="1457.7" y2="1550.2" stroke="#888" stroke-width="0.6" stroke-dasharray="2.2 1.8"/>
<line x1="1485" y1="1148.7" x2="1485" y2="1550.2" stroke="#888" stroke-width="0.6" stroke-dasharray="2.2 1.8"/>
<line x1="1512.4" y1="1148.7" x2="1512.4" y2="1550.2" stroke="#888" stroke-width="0.6" stroke-dasharray="2.2 1.8"/>
<line x1="1526" y1="1148.7" x2="1526" y2="1550.2" stroke="#888" stroke-width="0.6" stroke-dasharray="2.2 1.8"/>
<line x1="1539.7" y1="1148.7" x2="1539.7" y2="1550.2" stroke="#888" stroke-width="0.6" stroke-dasharray="2.2 1.8"/>
<line x1="1553.4" y1="1148.7" x2="1553.4" y2="1550.2" stroke="#888" stroke-width="0.6" stroke-dasharray="2.2 1.8"/>
<line x1="1567" y1="1148.7" x2="1567" y2="1550.2" stroke="#888" stroke-width="0.6" stroke-dasharray="2.2 1.8"/>
<line x1="1594.4" y1="1148.7" x2="1594.4" y2="1550.2" stroke="#888" stroke-width="0.6" stroke-dasharray="2.2 1.8"/>
<line x1="1608.1" y1="1148.7" x2="1608.1" y2="1550.2" stroke="#888" stroke-width="0.6" stroke-dasharray="2.2 1.8"/>
<line x1="1635.4" y1="1148.7" x2="1635.4" y2="1550.2" stroke="#888" stroke-width="0.6" stroke-dasharray="2.2 1.8"/>
<line x1="1362" y1="1163.9" x2="1649.1" y2="1163.9" stroke="#000" stroke-width="1.6"/>
<rect x="1453.6" y="1165.4" width="53.3" height="32.7" fill="#fff" stroke="#F9A11F" stroke-width="0.9"/>
<text x="1480.2" y="1188.4" font-size="19" text-anchor="middle" font-weight="bold" style="fill:#F9A11F">SHH</text>
<rect x="1539.7" y="1198.9" width="54.7" height="32.7" fill="#fff" stroke="#D7DF23" stroke-width="0.9"/>
<text x="1567" y="1221.9" font-size="19" text-anchor="middle" font-weight="bold" style="fill:#D7DF23">RA</text>
<rect x="1397.5" y="1232.4" width="54.7" height="32.7" fill="#fff" stroke="#0E8A87" stroke-width="0.9"/>
<text x="1424.9" y="1255.4" font-size="19" text-anchor="middle" font-weight="bold" style="fill:#0E8A87">CHIR</text>
<rect x="1458.4" y="1265.8" width="54" height="32.7" fill="#fff" stroke="#8048A2" stroke-width="0.9"/>
<text x="1485.4" y="1288.8" font-size="19" text-anchor="middle" font-weight="bold" style="fill:#8048A2">FGF-8</text>
<line x1="1362" y1="1364.7" x2="1649.1" y2="1364.7" stroke="#000" stroke-width="1.6"/>
<rect x="1453.6" y="1366.2" width="53.3" height="32.7" fill="#fff" stroke="#F9A11F" stroke-width="0.9"/>
<text x="1480.2" y="1389.2" font-size="19" text-anchor="middle" font-weight="bold" style="fill:#F9A11F">SHH</text>
<rect x="1539.7" y="1399.7" width="54.7" height="32.7" fill="#fff" stroke="#D7DF23" stroke-width="0.9"/>
<text x="1567" y="1422.7" font-size="19" text-anchor="middle" font-weight="bold" style="fill:#D7DF23">RA</text>
<rect x="1397.5" y="1433.1" width="54.7" height="32.7" fill="#fff" stroke="#0E8A87" stroke-width="0.9"/>
<text x="1424.9" y="1456.1" font-size="19" text-anchor="middle" font-weight="bold" style="fill:#0E8A87">CHIR</text>
<rect x="1458.4" y="1466.6" width="54" height="32.7" fill="#fff" stroke="#8048A2" stroke-width="0.9"/>
<text x="1485.4" y="1489.6" font-size="19" text-anchor="middle" font-weight="bold" style="fill:#8048A2">FGF-8</text>
<line x1="1362" y1="1348.3" x2="1649.1" y2="1348.3" stroke="#000" stroke-width="1.6"/>
<line x1="1362" y1="1148.2" x2="1649.1" y2="1148.2" stroke="#000" stroke-width="1.6"/>
<line x1="1364" y1="1549.6" x2="1650.1" y2="1549.6" stroke="#000" stroke-width="1.6"/>
<g>
<rect x="1653.2" y="1150.7" width="240.9" height="14.2" class="o"/>
<rect x="1893.9" y="1150.7" width="5.7" height="14.2" class="r"/>
<rect x="1899.5" y="1150.7" width="2.5" height="14.2" class="k"/>
<rect x="1901.9" y="1150.7" width="12.9" height="14.2" class="b"/>
<rect x="1914.7" y="1150.7" width="3.9" height="14.2" class="g"/>
<rect x="1653.2" y="1167.4" width="166.4" height="14.2" class="o"/>
<rect x="1819.5" y="1167.4" width="18.8" height="14.2" class="r"/>
<rect x="1838.1" y="1167.4" width="2.8" height="14.2" class="k"/>
<rect x="1840.7" y="1167.4" width="6.8" height="14.2" class="b"/>
<rect x="1847.4" y="1167.4" width="72" height="14.2" class="g"/>
<rect x="1653.2" y="1184.2" width="12.9" height="14.2" class="o"/>
<rect x="1666" y="1184.2" width="176.2" height="14.2" class="h"/>
<rect x="1842.1" y="1184.2" width="2" height="14.2" class="y"/>
<rect x="1843.9" y="1184.2" width="59.5" height="14.2" class="b"/>
<rect x="1903.2" y="1184.2" width="16.1" height="14.2" class="g"/>
<rect x="1653.2" y="1200.9" width="73.8" height="14.2" class="o"/>
<rect x="1726.9" y="1200.9" width="16.4" height="14.2" class="r"/>
<rect x="1743.1" y="1200.9" width="137.4" height="14.2" class="k"/>
<rect x="1880.4" y="1200.9" width="5.7" height="14.2" class="s"/>
<rect x="1886" y="1200.9" width="4.1" height="14.2" class="p"/>
<rect x="1889.9" y="1200.9" width="3.6" height="14.2" class="b"/>
<rect x="1893.4" y="1200.9" width="26" height="14.2" class="g"/>
<rect x="1653.2" y="1217.6" width="14.8" height="14.2" class="o"/>
<rect x="1667.8" y="1217.6" width="5.5" height="14.2" class="r"/>
<rect x="1673.2" y="1217.6" width="1.5" height="14.2" class="d"/>
<rect x="1674.5" y="1217.6" width="161.9" height="14.2" class="k"/>
<rect x="1836.2" y="1217.6" width="6.8" height="14.2" class="s"/>
<rect x="1842.9" y="1217.6" width="5.2" height="14.2" class="b"/>
<rect x="1847.9" y="1217.6" width="71.4" height="14.2" class="g"/>
<rect x="1653.2" y="1234.4" width="177.8" height="14.2" class="o"/>
<rect x="1830.9" y="1234.4" width="28.6" height="14.2" class="r"/>
<rect x="1859.4" y="1234.4" width="2.8" height="14.2" class="d"/>
<rect x="1862" y="1234.4" width="2.3" height="14.2" class="h"/>
<rect x="1864.1" y="1234.4" width="5.5" height="14.2" class="k"/>
<rect x="1869.5" y="1234.4" width="2" height="14.2" class="s"/>
<rect x="1871.3" y="1234.4" width="12.9" height="14.2" class="b"/>
<rect x="1884.1" y="1234.4" width="34.5" height="14.2" class="g"/>
<rect x="1653.2" y="1251.1" width="266.1" height="14.2" class="g"/>
<rect x="1653.2" y="1267.8" width="242.7" height="14.2" class="o"/>
<rect x="1895.8" y="1267.8" width="2.3" height="14.2" class="h"/>
<rect x="1897.9" y="1267.8" width="1.5" height="14.2" class="k"/>
<rect x="1899.2" y="1267.8" width="16.9" height="14.2" class="b"/>
<rect x="1916" y="1267.8" width="3.3" height="14.2" class="g"/>
<rect x="1653.2" y="1284.5" width="230.2" height="14.2" class="o"/>
<rect x="1883.3" y="1284.5" width="9.5" height="14.2" class="r"/>
<rect x="1892.6" y="1284.5" width="2" height="14.2" class="d"/>
<rect x="1894.5" y="1284.5" width="2.3" height="14.2" class="h"/>
<rect x="1896.6" y="1284.5" width="17.4" height="14.2" class="b"/>
<rect x="1913.9" y="1284.5" width="5.5" height="14.2" class="g"/>
<rect x="1653.2" y="1301.3" width="1.5" height="14.2" class="o"/>
<rect x="1654.5" y="1301.3" width="1.5" height="14.2" class="k"/>
<rect x="1655.9" y="1301.3" width="1.5" height="14.2" class="b"/>
<rect x="1657.2" y="1301.3" width="261.4" height="14.2" class="g"/>
<rect x="1653.2" y="1318" width="193" height="14.2" class="o"/>
<rect x="1846" y="1318" width="30.7" height="14.2" class="r"/>
<rect x="1876.6" y="1318" width="2" height="14.2" class="d"/>
<rect x="1878.5" y="1318" width="2.3" height="14.2" class="h"/>
<rect x="1880.6" y="1318" width="2.3" height="14.2" class="k"/>
<rect x="1882.8" y="1318" width="2" height="14.2" class="s"/>
<rect x="1884.6" y="1318" width="26.8" height="14.2" class="b"/>
<rect x="1911.2" y="1318" width="6.3" height="14.2" class="g"/>
<rect x="1917.3" y="1318" width="2" height="14.2" class="c"/>
<rect x="1653.2" y="1334.7" width="231.6" height="14.2" class="o"/>
<rect x="1884.6" y="1334.7" width="2.8" height="14.2" class="h"/>
<rect x="1887.3" y="1334.7" width="1.7" height="14.2" class="k"/>
<rect x="1888.9" y="1334.7" width="27" height="14.2" class="b"/>
<rect x="1915.7" y="1334.7" width="3.6" height="14.2" class="g"/>
<rect x="1653.2" y="1351.5" width="75.4" height="14.2" class="o"/>
<rect x="1728.5" y="1351.5" width="2" height="14.2" class="d"/>
<rect x="1730.3" y="1351.5" width="1.7" height="14.2" class="k"/>
<rect x="1731.9" y="1351.5" width="7.1" height="14.2" class="t"/>
<rect x="1738.9" y="1351.5" width="4.4" height="14.2" class="f"/>
<rect x="1743.1" y="1351.5" width="6" height="14.2" class="s"/>
<rect x="1749" y="1351.5" width="90.6" height="14.2" class="y"/>
<rect x="1839.4" y="1351.5" width="80" height="14.2" class="b"/>
<rect x="1653.2" y="1368.2" width="133.9" height="14.2" class="o"/>
<rect x="1787" y="1368.2" width="5.2" height="14.2" class="h"/>
<rect x="1792.1" y="1368.2" width="7.1" height="14.2" class="t"/>
<rect x="1799" y="1368.2" width="6.8" height="14.2" class="f"/>
<rect x="1805.6" y="1368.2" width="4.7" height="14.2" class="s"/>
<rect x="1810.1" y="1368.2" width="33.4" height="14.2" class="y"/>
<rect x="1843.4" y="1368.2" width="74.6" height="14.2" class="b"/>
<rect x="1653.2" y="1384.9" width="6.8" height="14.2" class="o"/>
<rect x="1659.9" y="1384.9" width="41.4" height="14.2" class="h"/>
<rect x="1701.1" y="1384.9" width="8.9" height="14.2" class="t"/>
<rect x="1709.9" y="1384.9" width="75.7" height="14.2" class="f"/>
<rect x="1785.4" y="1384.9" width="3.1" height="14.2" class="s"/>
<rect x="1788.3" y="1384.9" width="79.2" height="14.2" class="y"/>
<rect x="1867.3" y="1384.9" width="47.5" height="14.2" class="b"/>
<rect x="1914.7" y="1384.9" width="4.7" height="14.2" class="g"/>
<rect x="1653.2" y="1401.7" width="24.6" height="14.2" class="o"/>
<rect x="1677.7" y="1401.7" width="3.1" height="14.2" class="d"/>
<rect x="1680.6" y="1401.7" width="2" height="14.2" class="k"/>
<rect x="1682.5" y="1401.7" width="7.6" height="14.2" class="t"/>
<rect x="1689.9" y="1401.7" width="10" height="14.2" class="f"/>
<rect x="1699.8" y="1401.7" width="14.2" height="14.2" class="k"/>
<rect x="1713.8" y="1401.7" width="145.4" height="14.2" class="s"/>
<rect x="1859.1" y="1401.7" width="6.3" height="14.2" class="y"/>
<rect x="1865.2" y="1401.7" width="52.3" height="14.2" class="b"/>
<rect x="1653.2" y="1418.4" width="6.8" height="14.2" class="o"/>
<rect x="1659.9" y="1418.4" width="3.3" height="14.2" class="d"/>
<rect x="1663" y="1418.4" width="3.6" height="14.2" class="t"/>
<rect x="1666.5" y="1418.4" width="12.1" height="14.2" class="f"/>
<rect x="1678.5" y="1418.4" width="16.6" height="14.2" class="k"/>
<rect x="1695" y="1418.4" width="148" height="14.2" class="s"/>
<rect x="1842.9" y="1418.4" width="1.5" height="14.2" class="y"/>
<rect x="1844.2" y="1418.4" width="73.8" height="14.2" class="b"/>
<rect x="1653.2" y="1435.1" width="2.3" height="14.2" class="o"/>
<rect x="1655.3" y="1435.1" width="10.5" height="14.2" class="d"/>
<rect x="1665.7" y="1435.1" width="62.9" height="14.2" class="t"/>
<rect x="1728.5" y="1435.1" width="73" height="14.2" class="f"/>
<rect x="1801.4" y="1435.1" width="25.4" height="14.2" class="s"/>
<rect x="1826.6" y="1435.1" width="49.6" height="14.2" class="y"/>
<rect x="1876.1" y="1435.1" width="40" height="14.2" class="b"/>
<rect x="1916" y="1435.1" width="3.3" height="14.2" class="g"/>
<rect x="1653.2" y="1451.8" width="2.3" height="14.2" class="o"/>
<rect x="1655.3" y="1451.8" width="13.2" height="14.2" class="t"/>
<rect x="1668.4" y="1451.8" width="190.9" height="14.2" class="s"/>
<rect x="1859.1" y="1451.8" width="57.6" height="14.2" class="b"/>
<rect x="1916.5" y="1451.8" width="2.8" height="14.2" class="g"/>
<rect x="1653.2" y="1468.6" width="136.6" height="14.2" class="o"/>
<rect x="1789.7" y="1468.6" width="2" height="14.2" class="h"/>
<rect x="1791.5" y="1468.6" width="6.3" height="14.2" class="t"/>
<rect x="1797.6" y="1468.6" width="2.5" height="14.2" class="f"/>
<rect x="1800" y="1468.6" width="3.1" height="14.2" class="s"/>
<rect x="1803" y="1468.6" width="46.4" height="14.2" class="y"/>
<rect x="1849.2" y="1468.6" width="70.1" height="14.2" class="b"/>
<rect x="1653.2" y="1485.3" width="123.3" height="14.2" class="o"/>
<rect x="1776.4" y="1485.3" width="3.1" height="14.2" class="d"/>
<rect x="1779.3" y="1485.3" width="2.3" height="14.2" class="k"/>
<rect x="1781.4" y="1485.3" width="9.5" height="14.2" class="t"/>
<rect x="1790.7" y="1485.3" width="4.4" height="14.2" class="f"/>
<rect x="1795" y="1485.3" width="4.7" height="14.2" class="s"/>
<rect x="1799.5" y="1485.3" width="62.7" height="14.2" class="y"/>
<rect x="1862" y="1485.3" width="57.3" height="14.2" class="b"/>
<rect x="1653.2" y="1502" width="89.8" height="14.2" class="t"/>
<rect x="1742.8" y="1502" width="35.5" height="14.2" class="f"/>
<rect x="1778.2" y="1502" width="79.2" height="14.2" class="s"/>
<rect x="1857.2" y="1502" width="53.4" height="14.2" class="b"/>
<rect x="1910.4" y="1502" width="5.7" height="14.2" class="g"/>
<rect x="1916" y="1502" width="3.3" height="14.2" class="c"/>
<rect x="1653.2" y="1518.8" width="155.2" height="14.2" class="o"/>
<rect x="1808.3" y="1518.8" width="5.5" height="14.2" class="d"/>
<rect x="1813.6" y="1518.8" width="8.7" height="14.2" class="t"/>
<rect x="1822.1" y="1518.8" width="4.7" height="14.2" class="f"/>
<rect x="1826.6" y="1518.8" width="6.3" height="14.2" class="s"/>
<rect x="1832.8" y="1518.8" width="29.4" height="14.2" class="y"/>
<rect x="1862" y="1518.8" width="57.3" height="14.2" class="b"/>
<rect x="1653.2" y="1535.5" width="145.7" height="14.2" class="o"/>
<rect x="1798.7" y="1535.5" width="5.5" height="14.2" class="d"/>
<rect x="1804" y="1535.5" width="1.7" height="14.2" class="k"/>
<rect x="1805.6" y="1535.5" width="6.5" height="14.2" class="t"/>
<rect x="1812" y="1535.5" width="5.5" height="14.2" class="f"/>
<rect x="1817.3" y="1535.5" width="4.4" height="14.2" class="s"/>
<rect x="1821.6" y="1535.5" width="20.6" height="14.2" class="y"/>
<rect x="1842.1" y="1535.5" width="76" height="14.2" class="b"/>
</g>
<line x1="1653.2" y1="1146.7" x2="1919.2" y2="1146.7" stroke="#222" stroke-width="0.9"/>
<line x1="1653.2" y1="1142.7" x2="1653.2" y2="1146.7" stroke="#222" stroke-width="0.9"/>
<text x="1653.2" y="1139.2" font-size="11" text-anchor="middle">0</text>
<line x1="1719.7" y1="1142.7" x2="1719.7" y2="1146.7" stroke="#222" stroke-width="0.9"/>
<text x="1719.7" y="1139.2" font-size="11" text-anchor="middle">25</text>
<line x1="1786.2" y1="1142.7" x2="1786.2" y2="1146.7" stroke="#222" stroke-width="0.9"/>
<text x="1786.2" y="1139.2" font-size="11" text-anchor="middle">50</text>
<line x1="1852.7" y1="1142.7" x2="1852.7" y2="1146.7" stroke="#222" stroke-width="0.9"/>
<text x="1852.7" y="1139.2" font-size="11" text-anchor="middle">75</text>
<line x1="1919.2" y1="1142.7" x2="1919.2" y2="1146.7" stroke="#222" stroke-width="0.9"/>
<text x="1919.2" y="1139.2" font-size="11" text-anchor="middle">100</text>
<text x="1787.2" y="1122.7" font-size="13" text-anchor="middle">% cells per condtion</text>
<rect x="44" y="1608.8" width="19.6" height="24" fill="#4E2067"/>
<rect x="63.3" y="1608.8" width="19.6" height="24" fill="#5E2A7C"/>
<rect x="82.7" y="1608.8" width="19.6" height="24" fill="#74408F"/>
<rect x="102" y="1608.8" width="19.6" height="24" fill="#8C5FA3"/>
<rect x="121.3" y="1608.8" width="19.6" height="24" fill="#A57FB6"/>
<rect x="140.7" y="1608.8" width="19.6" height="24" fill="#BBA0CA"/>
<rect x="160" y="1608.8" width="19.6" height="24" fill="#D0BEDA"/>
<rect x="179.4" y="1608.8" width="19.6" height="24" fill="#DDD1E6"/>
<rect x="198.7" y="1608.8" width="19.6" height="24" fill="#E8E2EE"/>
<rect x="218" y="1608.8" width="19.6" height="24" fill="#EDEDED"/>
<rect x="237.4" y="1608.8" width="19.6" height="24" fill="#FEEBDD"/>
<rect x="256.7" y="1608.8" width="19.6" height="24" fill="#FDDDC3"/>
<rect x="276" y="1608.8" width="19.6" height="24" fill="#FDCFAA"/>
<rect x="295.4" y="1608.8" width="19.6" height="24" fill="#FCBE8C"/>
<rect x="314.7" y="1608.8" width="19.6" height="24" fill="#FAAE70"/>
<rect x="334.1" y="1608.8" width="19.6" height="24" fill="#F9A058"/>
<rect x="353.4" y="1608.8" width="19.6" height="24" fill="#F79341"/>
<rect x="372.7" y="1608.8" width="19.6" height="24" fill="#F6872C"/>
<rect x="392.1" y="1608.8" width="19.6" height="24" fill="#F47D20"/>
<line x1="411.4" y1="1608.8" x2="411.4" y2="1632.8" stroke="#000" stroke-width="1"/>
<line x1="82.2" y1="1632.8" x2="82.2" y2="1637.5" stroke="#222" stroke-width="1"/>
<text x="79.2" y="1661" font-size="19.2" text-anchor="middle">-4</text>
<line x1="155" y1="1632.8" x2="155" y2="1637.5" stroke="#222" stroke-width="1"/>
<text x="152" y="1661" font-size="19.2" text-anchor="middle">-2</text>
<line x1="227.8" y1="1632.8" x2="227.8" y2="1637.5" stroke="#222" stroke-width="1"/>
<text x="227.8" y="1661" font-size="19.2" text-anchor="middle">0</text>
<line x1="300.6" y1="1632.8" x2="300.6" y2="1637.5" stroke="#222" stroke-width="1"/>
<text x="300.6" y="1661" font-size="19.2" text-anchor="middle">2</text>
<line x1="373.4" y1="1632.8" x2="373.4" y2="1637.5" stroke="#222" stroke-width="1"/>
<text x="373.4" y="1661" font-size="19.2" text-anchor="middle">4</text>
<text x="227.5" y="1598" font-size="19.2" text-anchor="middle">Enrichment score</text>
<rect x="459.5" y="1585.2" width="28.4" height="21.6" class="o"/>
<text x="473.7" y="1602.8" font-size="19.5" text-anchor="middle" style="fill:#fff">1</text>
<text x="500" y="1601.7" font-size="19.2">Telencephalic Progenitors</text>
<rect x="459.5" y="1608.2" width="28.4" height="21.6" class="r"/>
<text x="473.7" y="1625.8" font-size="19.5" text-anchor="middle" style="fill:#fff">2</text>
<text x="500" y="1624.7" font-size="19.2">Retinal Progenitors</text>
<rect x="459.5" y="1631.1" width="28.4" height="21.6" class="d"/>
<text x="473.7" y="1648.7" font-size="19.5" text-anchor="middle" style="fill:#fff">3</text>
<text x="500" y="1647.6" font-size="19.2">Cortical Hem/Diencephalon</text>
<rect x="769.3" y="1585.2" width="28.4" height="21.6" class="h"/>
<text x="783.5" y="1602.8" font-size="19.5" text-anchor="middle" style="fill:#fff">4</text>
<text x="812" y="1601.7" font-size="19.2">Hypothalamic Progenitors</text>
<rect x="769.3" y="1608.2" width="28.4" height="21.6" class="t"/>
<text x="783.5" y="1625.8" font-size="19.5" text-anchor="middle" style="fill:#fff">5</text>
<text x="812" y="1624.7" font-size="19.2">Midbrain Progenitors</text>
<rect x="769.3" y="1631.1" width="28.4" height="21.6" class="f"/>
<text x="783.5" y="1648.7" font-size="19.5" text-anchor="middle" style="fill:#fff">6</text>
<text x="812" y="1647.6" font-size="19.2">Floor Plate</text>
<rect x="1070.5" y="1585.2" width="28.4" height="21.6" class="k"/>
<text x="1084.7" y="1602.8" font-size="19.5" text-anchor="middle" style="fill:#fff">7</text>
<text x="1110.7" y="1601.7" font-size="19.2">Hindbrain Progenitors</text>
<rect x="1070.5" y="1608.2" width="28.4" height="21.6" class="s"/>
<text x="1084.7" y="1625.8" font-size="19.5" text-anchor="middle" style="fill:#fff">8</text>
<text x="1110.7" y="1624.7" font-size="19.2">Spinal Cord Progenitors</text>
<rect x="1070.5" y="1631.1" width="28.4" height="21.6" class="p"/>
<text x="1084.7" y="1648.7" font-size="19.5" text-anchor="middle" style="fill:#fff">9</text>
<text x="1110.7" y="1647.6" font-size="19.2">PNS Neurons</text>
<rect x="1356.2" y="1586.2" width="28.4" height="21.6" class="y"/>
<text x="1370.4" y="1603.8" font-size="19.5" text-anchor="middle" style="fill:#fff">10</text>
<text x="1393.4" y="1602.7" font-size="19.2">Neuroectoderm/Neuroepithelium</text>
<rect x="1356.2" y="1609.2" width="28.4" height="21.6" class="b"/>
<text x="1370.4" y="1626.8" font-size="19.5" text-anchor="middle" style="fill:#fff">11</text>
<text x="1393.4" y="1625.7" font-size="19.2">CNS Neurons</text>
<rect x="1356.2" y="1632.1" width="28.4" height="21.6" class="g"/>
<text x="1370.4" y="1649.7" font-size="19.5" text-anchor="middle" style="fill:#fff">12</text>
<text x="1393.4" y="1648.6" font-size="19.2">Non-neurectodermal tissues</text>
<rect x="1715.2" y="1586.2" width="28.4" height="21.6" class="c"/>
<text x="1729.4" y="1603.8" font-size="19.5" text-anchor="middle" style="fill:#fff">13</text>
<text x="1754" y="1602.7" font-size="19.2">Neural Crest</text>
<text x="17" y="1709" font-size="26" font-weight="bold">c</text>
<line x1="112" y1="1735.5" x2="112" y2="2105.9" stroke="#444" stroke-width="1.5"/>
<line x1="104" y1="2105.4" x2="112" y2="2105.4" stroke="#444" stroke-width="1.5"/>
<text x="93" y="2112.2" font-size="19.2" text-anchor="end">0</text>
<line x1="104" y1="2031.5" x2="112" y2="2031.5" stroke="#444" stroke-width="1.5"/>
<text x="93" y="2038.3" font-size="19.2" text-anchor="end">20</text>
<line x1="104" y1="1957.6" x2="112" y2="1957.6" stroke="#444" stroke-width="1.5"/>
<text x="93" y="1964.4" font-size="19.2" text-anchor="end">40</text>
<line x1="104" y1="1883.8" x2="112" y2="1883.8" stroke="#444" stroke-width="1.5"/>
<text x="93" y="1890.6" font-size="19.2" text-anchor="end">60</text>
<line x1="104" y1="1809.9" x2="112" y2="1809.9" stroke="#444" stroke-width="1.5"/>
<text x="93" y="1816.7" font-size="19.2" text-anchor="end">80</text>
<line x1="104" y1="1736" x2="112" y2="1736" stroke="#444" stroke-width="1.5"/>
<text x="93" y="1742.8" font-size="19.2" text-anchor="end">100</text>
<text x="49.5" y="1929" font-size="19.2" text-anchor="middle" transform="rotate(-90 49.5 1929)">Percent (%)</text>
<path d="M180.6 2132.5V2126H449.6V2132.5M315 2126V2132.5" fill="none" stroke="#444" stroke-width="1.4"/>
<text x="181.5" y="2156" font-size="19.2" text-anchor="middle">NPC</text>
<text x="313" y="2156" font-size="19.2" text-anchor="middle">Neurons</text>
<text x="448" y="2156" font-size="19.2" text-anchor="middle">off</text>
<g fill="#1B7B3F"><circle cx="153.4" cy="2104.3" r="2.1"/><circle cx="157.8" cy="2103.6" r="2.1"/><circle cx="149" cy="2102.4" r="2.1"/><circle cx="162.2" cy="2101.7" r="2.1"/><circle cx="153.4" cy="2099.9" r="2.1"/><circle cx="153.4" cy="2094.3" r="2.1"/><circle cx="153.4" cy="1865.3" r="2.1"/><circle cx="157.8" cy="1864.2" r="2.1"/><circle cx="153.4" cy="1844" r="2.1"/><circle cx="157.8" cy="1843.8" r="2.1"/><circle cx="153.4" cy="1836.9" r="2.1"/><circle cx="153.4" cy="1831.7" r="2.1"/><circle cx="157.8" cy="1828.9" r="2.1"/><circle cx="153.4" cy="1826.3" r="2.1"/><circle cx="153.4" cy="1820.5" r="2.1"/><circle cx="153.4" cy="1816.1" r="2.1"/><circle cx="157.8" cy="1814.1" r="2.1"/><circle cx="153.4" cy="1793.6" r="2.1"/><circle cx="157.8" cy="1793.2" r="2.1"/><circle cx="149" cy="1792.7" r="2.1"/><circle cx="162.2" cy="1792.3" r="2.1"/><circle cx="144.6" cy="1792.2" r="2.1"/><circle cx="166.6" cy="1791.4" r="2.1"/><circle cx="140.2" cy="1790.3" r="2.1"/><circle cx="171" cy="1790.1" r="2.1"/><circle cx="153.4" cy="1789.2" r="2.1"/><circle cx="157.8" cy="1789" r="2.1"/><circle cx="149" cy="1787.8" r="2.1"/><circle cx="162.2" cy="1786" r="2.1"/><circle cx="153.4" cy="1783.3" r="2.1"/><circle cx="157.8" cy="1782.6" r="2.1"/><circle cx="149" cy="1781.9" r="2.1"/><circle cx="162.2" cy="1780.2" r="2.1"/><circle cx="153.4" cy="1779" r="2.1"/><circle cx="157.8" cy="1777.9" r="2.1"/><circle cx="149" cy="1777.5" r="2.1"/><circle cx="153.4" cy="1774.5" r="2.1"/><circle cx="157.8" cy="1773.3" r="2.1"/><circle cx="149" cy="1771.7" r="2.1"/><circle cx="162.2" cy="1771.5" r="2.1"/><circle cx="153.4" cy="1769.6" r="2.1"/><circle cx="157.8" cy="1768.7" r="2.1"/><circle cx="153.4" cy="1761.9" r="2.1"/><circle cx="157.8" cy="1761.5" r="2.1"/><circle cx="149" cy="1760.2" r="2.1"/><circle cx="153.4" cy="1756.6" r="2.1"/><circle cx="157.8" cy="1755.4" r="2.1"/></g>
<g fill="none" stroke="#1B7B3F" stroke-width="2">
<rect x="131.5" y="1765.6" width="43.8" height="77.6"/>
<path d="M131.5 1784H175.3M153.4 1765.6V1754.5M153.4 1843.1V1946.6M142.4 1754.5H164.4M142.4 1946.6H164.4"/>
</g>
<g fill="#8E1B5C"><circle cx="207.3" cy="1861.6" r="2.1"/><circle cx="209.5" cy="1857.9" r="2.1"/><circle cx="205.1" cy="1855.3" r="2.1"/><circle cx="213.9" cy="1855.1" r="2.1"/><circle cx="207.3" cy="1849.3" r="2.1"/><circle cx="211.7" cy="1847.5" r="2.1"/><circle cx="207.3" cy="1843.6" r="2.1"/><circle cx="211.7" cy="1842.8" r="2.1"/><circle cx="202.9" cy="1842.8" r="2.1"/><circle cx="216.1" cy="1840.3" r="2.1"/><circle cx="198.5" cy="1839.7" r="2.1"/><circle cx="207.3" cy="1838.6" r="2.1"/><circle cx="211.7" cy="1836.9" r="2.1"/><circle cx="202.9" cy="1836.5" r="2.1"/><circle cx="216.1" cy="1835.6" r="2.1"/><circle cx="198.5" cy="1834.6" r="2.1"/><circle cx="207.3" cy="1834.4" r="2.1"/><circle cx="220.5" cy="1834.2" r="2.1"/><circle cx="194.1" cy="1834" r="2.1"/><circle cx="224.9" cy="1833.8" r="2.1"/><circle cx="189.7" cy="1833.8" r="2.1"/><circle cx="211.7" cy="1831.9" r="2.1"/><circle cx="205.1" cy="1831.1" r="2.1"/><circle cx="200.7" cy="1829.7" r="2.1"/><circle cx="216.1" cy="1829.3" r="2.1"/><circle cx="196.3" cy="1828.6" r="2.1"/><circle cx="209.5" cy="1828.2" r="2.1"/><circle cx="220.5" cy="1827.8" r="2.1"/><circle cx="191.9" cy="1827.7" r="2.1"/><circle cx="205.1" cy="1826.4" r="2.1"/><circle cx="213.9" cy="1826" r="2.1"/><circle cx="200.7" cy="1824.3" r="2.1"/><circle cx="218.3" cy="1824.2" r="2.1"/><circle cx="207.3" cy="1822.3" r="2.1"/><circle cx="211.7" cy="1820.8" r="2.1"/><circle cx="202.9" cy="1820.4" r="2.1"/><circle cx="207.3" cy="1816" r="2.1"/><circle cx="211.7" cy="1813" r="2.1"/><circle cx="207.3" cy="1811.9" r="2.1"/><circle cx="211.7" cy="1808.6" r="2.1"/><circle cx="207.3" cy="1806.9" r="2.1"/><circle cx="202.9" cy="1805.6" r="2.1"/><circle cx="207.3" cy="1801.1" r="2.1"/><circle cx="207.3" cy="1796.5" r="2.1"/><circle cx="211.7" cy="1793.8" r="2.1"/><circle cx="207.3" cy="1779.4" r="2.1"/><circle cx="211.7" cy="1776.6" r="2.1"/><circle cx="207.3" cy="1769.2" r="2.1"/></g>
<g fill="none" stroke="#8E1B5C" stroke-width="2">
<rect x="185.4" y="1806.2" width="43.8" height="33.2"/>
<path d="M185.4 1824.7H229.2M207.3 1806.2V1767.4M207.3 1839.4V1861.6M196.3 1767.4H218.3M196.3 1861.6H218.3"/>
</g>
<g fill="#1B7B3F"><circle cx="288.4" cy="2105.2" r="2.1"/><circle cx="292.8" cy="2104.8" r="2.1"/><circle cx="284" cy="2104.2" r="2.1"/><circle cx="297.2" cy="2103.5" r="2.1"/><circle cx="279.6" cy="2103.4" r="2.1"/><circle cx="301.6" cy="2102.2" r="2.1"/><circle cx="275.2" cy="2102.1" r="2.1"/><circle cx="306" cy="2102" r="2.1"/><circle cx="288.4" cy="2101.1" r="2.1"/><circle cx="270.8" cy="2101" r="2.1"/><circle cx="292.8" cy="2100.5" r="2.1"/><circle cx="284" cy="2100" r="2.1"/><circle cx="297.2" cy="2099.3" r="2.1"/><circle cx="279.6" cy="2099.2" r="2.1"/><circle cx="301.6" cy="2098.1" r="2.1"/><circle cx="288.4" cy="2094.9" r="2.1"/><circle cx="292.8" cy="2094.4" r="2.1"/><circle cx="284" cy="2094.1" r="2.1"/><circle cx="297.2" cy="2093.5" r="2.1"/><circle cx="279.6" cy="2093.3" r="2.1"/><circle cx="301.6" cy="2093.2" r="2.1"/><circle cx="275.2" cy="2092.7" r="2.1"/><circle cx="288.4" cy="2090.7" r="2.1"/><circle cx="306" cy="2090.7" r="2.1"/><circle cx="270.8" cy="2090.6" r="2.1"/><circle cx="288.4" cy="2090.5" r="2.1"/><circle cx="292.8" cy="2089.6" r="2.1"/><circle cx="284" cy="2089.4" r="2.1"/><circle cx="297.2" cy="2089.2" r="2.1"/><circle cx="279.6" cy="2088.3" r="2.1"/><circle cx="301.6" cy="2088.1" r="2.1"/><circle cx="275.2" cy="2087.8" r="2.1"/><circle cx="288.4" cy="2087.5" r="2.1"/><circle cx="308.2" cy="2087.2" r="2.1"/><circle cx="292.8" cy="2085.1" r="2.1"/><circle cx="284" cy="2085" r="2.1"/><circle cx="288.4" cy="2081.4" r="2.1"/><circle cx="288.4" cy="2076.5" r="2.1"/><circle cx="288.4" cy="2070" r="2.1"/><circle cx="292.8" cy="2068.2" r="2.1"/><circle cx="288.4" cy="2064.8" r="2.1"/><circle cx="288.4" cy="2057.4" r="2.1"/><circle cx="288.4" cy="2050" r="2.1"/><circle cx="288.4" cy="2042.6" r="2.1"/><circle cx="288.4" cy="2035.2" r="2.1"/><circle cx="288.4" cy="2027.8" r="2.1"/><circle cx="288.4" cy="2003.8" r="2.1"/><circle cx="288.4" cy="1985.3" r="2.1"/><circle cx="292.8" cy="1983.5" r="2.1"/></g>
<g fill="none" stroke="#1B7B3F" stroke-width="2">
<rect x="266.5" y="2068.5" width="43.8" height="29.6"/>
<path d="M266.5 2086.9H310.3M288.4 2068.5V2027.8M288.4 2098V2105.4M277.4 2027.8H299.4M277.4 2105.4H299.4"/>
</g>
<g fill="#8E1B5C"><circle cx="342.2" cy="2075.8" r="2.1"/><circle cx="344.4" cy="2072.2" r="2.1"/><circle cx="342.2" cy="2047.1" r="2.1"/><circle cx="342.2" cy="2042.2" r="2.1"/><circle cx="346.6" cy="2040.2" r="2.1"/><circle cx="342.2" cy="2037.2" r="2.1"/><circle cx="344.4" cy="2033.4" r="2.1"/><circle cx="340" cy="2030.9" r="2.1"/><circle cx="348.8" cy="2030.5" r="2.1"/><circle cx="335.6" cy="2029.8" r="2.1"/><circle cx="344.4" cy="2027.7" r="2.1"/><circle cx="353.2" cy="2027.7" r="2.1"/><circle cx="331.2" cy="2027.5" r="2.1"/><circle cx="357.6" cy="2027.1" r="2.1"/><circle cx="340" cy="2025.8" r="2.1"/><circle cx="348.8" cy="2025.3" r="2.1"/><circle cx="344.4" cy="2023.3" r="2.1"/><circle cx="337.8" cy="2022.1" r="2.1"/><circle cx="351" cy="2021.9" r="2.1"/><circle cx="333.4" cy="2021.4" r="2.1"/><circle cx="355.4" cy="2020" r="2.1"/><circle cx="342.2" cy="2019" r="2.1"/><circle cx="346.6" cy="2018.8" r="2.1"/><circle cx="329" cy="2018.8" r="2.1"/><circle cx="359.8" cy="2018.6" r="2.1"/><circle cx="337.8" cy="2018.1" r="2.1"/><circle cx="351" cy="2016.8" r="2.1"/><circle cx="333.4" cy="2016.6" r="2.1"/><circle cx="342.2" cy="2014.6" r="2.1"/><circle cx="346.6" cy="2013.2" r="2.1"/><circle cx="337.8" cy="2013.1" r="2.1"/><circle cx="351" cy="2012.6" r="2.1"/><circle cx="333.4" cy="2011.1" r="2.1"/><circle cx="342.2" cy="2009.8" r="2.1"/><circle cx="355.4" cy="2009.6" r="2.1"/><circle cx="346.6" cy="2007.4" r="2.1"/><circle cx="337.8" cy="2006.9" r="2.1"/><circle cx="351" cy="2006.5" r="2.1"/><circle cx="333.4" cy="2006.5" r="2.1"/><circle cx="342.2" cy="2002.5" r="2.1"/><circle cx="346.6" cy="2002" r="2.1"/><circle cx="337.8" cy="1999.5" r="2.1"/><circle cx="342.2" cy="1998.6" r="2.1"/><circle cx="346.6" cy="1997.7" r="2.1"/><circle cx="340" cy="1994.7" r="2.1"/><circle cx="344.4" cy="1994" r="2.1"/><circle cx="342.2" cy="1987.2" r="2.1"/><circle cx="346.6" cy="1984.3" r="2.1"/><circle cx="340" cy="1983.5" r="2.1"/><circle cx="335.6" cy="1983.5" r="2.1"/></g>
<g fill="none" stroke="#8E1B5C" stroke-width="2">
<rect x="320.3" y="2003.8" width="43.8" height="40.6"/>
<path d="M320.3 2020.4H364.1M342.2 2003.8V1983.5M342.2 2044.4V2075.8M331.2 1983.5H353.2M331.2 2075.8H353.2"/>
</g>
<g fill="#1B7B3F"><circle cx="422.8" cy="2105.1" r="2.1"/><circle cx="427.2" cy="2103.8" r="2.1"/><circle cx="418.4" cy="2103.6" r="2.1"/><circle cx="431.6" cy="2103.4" r="2.1"/><circle cx="414" cy="2103.1" r="2.1"/><circle cx="436" cy="2101.8" r="2.1"/><circle cx="409.6" cy="2101.4" r="2.1"/><circle cx="440.4" cy="2101.4" r="2.1"/><circle cx="422.8" cy="2101" r="2.1"/><circle cx="405.2" cy="2100.7" r="2.1"/><circle cx="444.9" cy="2100.2" r="2.1"/><circle cx="427.2" cy="2099.5" r="2.1"/><circle cx="418.4" cy="2099.2" r="2.1"/><circle cx="431.6" cy="2099.1" r="2.1"/><circle cx="414" cy="2098.8" r="2.1"/><circle cx="400.8" cy="2098.3" r="2.1"/><circle cx="438.2" cy="2098" r="2.1"/><circle cx="409.6" cy="2097.4" r="2.1"/><circle cx="422.8" cy="2096.9" r="2.1"/><circle cx="405.2" cy="2096.6" r="2.1"/><circle cx="429.4" cy="2095.5" r="2.1"/><circle cx="418.4" cy="2094.7" r="2.1"/><circle cx="414" cy="2094.5" r="2.1"/><circle cx="433.8" cy="2093.7" r="2.1"/><circle cx="438.2" cy="2093.6" r="2.1"/><circle cx="425" cy="2092.9" r="2.1"/><circle cx="409.6" cy="2091.9" r="2.1"/><circle cx="422.8" cy="2089" r="2.1"/><circle cx="427.2" cy="2087.2" r="2.1"/><circle cx="420.6" cy="2085.2" r="2.1"/><circle cx="416.2" cy="2084" r="2.1"/><circle cx="422.8" cy="2079.7" r="2.1"/><circle cx="427.2" cy="2079.5" r="2.1"/><circle cx="425" cy="2075.8" r="2.1"/><circle cx="422.8" cy="2072.2" r="2.1"/><circle cx="427.2" cy="2070.3" r="2.1"/><circle cx="422.8" cy="2057.4" r="2.1"/><circle cx="422.8" cy="2020.4" r="2.1"/><circle cx="422.8" cy="2009.4" r="2.1"/><circle cx="425" cy="2005.7" r="2.1"/><circle cx="422.8" cy="1994.6" r="2.1"/><circle cx="422.8" cy="1748.9" r="2.1"/><circle cx="425" cy="1745.2" r="2.1"/><circle cx="420.6" cy="1743.4" r="2.1"/><circle cx="427.2" cy="1741.5" r="2.1"/><circle cx="422.8" cy="1739.7" r="2.1"/><circle cx="418.4" cy="1737.8" r="2.1"/><circle cx="425" cy="1736" r="2.1"/><circle cx="429.4" cy="1736" r="2.1"/></g>
<g fill="none" stroke="#1B7B3F" stroke-width="2">
<rect x="400.9" y="2020.4" width="43.8" height="79.4"/>
<path d="M400.9 2092.5H444.7M422.8 2020.4V1994.6M422.8 2099.9V2105.4M411.8 1994.6H433.8M411.8 2105.4H433.8"/>
</g>
<g fill="#8E1B5C"><circle cx="476.7" cy="2105.4" r="2.1"/><circle cx="481.1" cy="2105.3" r="2.1"/><circle cx="472.3" cy="2105.2" r="2.1"/><circle cx="485.5" cy="2105.2" r="2.1"/><circle cx="467.9" cy="2105.2" r="2.1"/><circle cx="489.9" cy="2105.1" r="2.1"/><circle cx="463.5" cy="2105.1" r="2.1"/><circle cx="494.3" cy="2105.1" r="2.1"/><circle cx="459.1" cy="2104.8" r="2.1"/><circle cx="498.8" cy="2104.8" r="2.1"/><circle cx="454.6" cy="2104.6" r="2.1"/><circle cx="503.2" cy="2104.4" r="2.1"/><circle cx="450.2" cy="2104.3" r="2.1"/><circle cx="507.6" cy="2104.2" r="2.1"/><circle cx="445.8" cy="2104.1" r="2.1"/><circle cx="512" cy="2103.9" r="2.1"/><circle cx="441.4" cy="2103.9" r="2.1"/><circle cx="516.4" cy="2103.8" r="2.1"/><circle cx="437" cy="2103.4" r="2.1"/><circle cx="520.8" cy="2102.9" r="2.1"/><circle cx="432.6" cy="2102.8" r="2.1"/><circle cx="525.2" cy="2102.3" r="2.1"/><circle cx="428.2" cy="2102.2" r="2.1"/><circle cx="476.7" cy="2102.1" r="2.1"/><circle cx="476.7" cy="2102" r="2.1"/><circle cx="476.7" cy="2102" r="2.1"/><circle cx="476.7" cy="2102" r="2.1"/><circle cx="476.7" cy="2101.9" r="2.1"/><circle cx="476.7" cy="2101.9" r="2.1"/><circle cx="483.3" cy="2101.6" r="2.1"/><circle cx="470.1" cy="2101.5" r="2.1"/><circle cx="487.7" cy="2101.5" r="2.1"/><circle cx="465.7" cy="2101.1" r="2.1"/><circle cx="492.1" cy="2101" r="2.1"/><circle cx="461.3" cy="2100.2" r="2.1"/><circle cx="496.5" cy="2099.8" r="2.1"/><circle cx="456.9" cy="2099.8" r="2.1"/><circle cx="501" cy="2099.6" r="2.1"/><circle cx="452.4" cy="2099.4" r="2.1"/><circle cx="505.4" cy="2099.2" r="2.1"/><circle cx="448" cy="2099" r="2.1"/><circle cx="509.8" cy="2098.7" r="2.1"/><circle cx="478.9" cy="2098.5" r="2.1"/><circle cx="474.5" cy="2098.3" r="2.1"/><circle cx="483.3" cy="2097.1" r="2.1"/><circle cx="470.1" cy="2097" r="2.1"/><circle cx="487.7" cy="2097" r="2.1"/><circle cx="465.7" cy="2095.9" r="2.1"/><circle cx="492.1" cy="2095.7" r="2.1"/><circle cx="461.3" cy="2095.4" r="2.1"/><circle cx="476.7" cy="2094.7" r="2.1"/><circle cx="476.7" cy="2090.6" r="2.1"/><circle cx="481.1" cy="2090.5" r="2.1"/><circle cx="478.9" cy="2086.9" r="2.1"/><circle cx="476.7" cy="2083.2" r="2.1"/><circle cx="478.9" cy="2079.5" r="2.1"/></g>
<g fill="none" stroke="#8E1B5C" stroke-width="2">
<rect x="454.8" y="2098" width="43.8" height="5.5"/>
<path d="M454.8 2101.7H498.6M476.7 2098V2090.6M476.7 2103.6V2105.4M465.7 2090.6H487.7M465.7 2105.4H487.7"/>
</g>
<rect x="513.5" y="1856" width="9" height="13.5" fill="none" stroke="#1B7B3F" stroke-width="1.6"/>
<rect x="513.5" y="1884" width="9" height="13.5" fill="none" stroke="#8E1B5C" stroke-width="1.6"/>
<text x="529.5" y="1870" font-size="19.2">minimal NIM</text>
<text x="529.5" y="1898" font-size="19.2">dual SMAD</text>
<text x="288" y="1939" font-size="20" font-style="italic">P&lt;10<tspan font-size="12" dy="-8">-11</tspan></text>
<text x="423.5" y="1939" font-size="20" font-style="italic">P&lt;10<tspan font-size="12" dy="-8">-5</tspan></text>
<path d="M288.8 1959.5V1949H342.2V1959.5M423.7 1959.5V1949H477.6V1959.5" fill="none" stroke="#444" stroke-width="1.4"/>
<text x="696" y="1711" font-size="26" font-weight="bold">d</text>
<line x1="798.5" y1="1712.5" x2="798.5" y2="2125.8" stroke="#999" stroke-width="0.7"/>
<line x1="886.3" y1="1712.5" x2="886.3" y2="2125.8" stroke="#999" stroke-width="0.7"/>
<line x1="974.1" y1="1712.5" x2="974.1" y2="2125.8" stroke="#222" stroke-width="0.7"/>
<line x1="1061.9" y1="1712.5" x2="1061.9" y2="2125.8" stroke="#222" stroke-width="0.7"/>
<line x1="1149.8" y1="1712.5" x2="1149.8" y2="2125.8" stroke="#222" stroke-width="0.7"/>
<rect x="781" y="1712.5" width="386.2" height="413.3" fill="none" stroke="#222" stroke-width="1.6"/>
<text x="795.5" y="2150.8" font-size="19.2" text-anchor="middle">−5.0</text>
<text x="769" y="2113.7" font-size="19.2" text-anchor="end">−5.0</text>
<text x="883.3" y="2150.8" font-size="19.2" text-anchor="middle">−2.5</text>
<text x="769" y="2019.7" font-size="19.2" text-anchor="end">−2.5</text>
<text x="974.1" y="2150.8" font-size="19.2" text-anchor="middle">0.0</text>
<text x="769" y="1925.7" font-size="19.2" text-anchor="end">0.0</text>
<text x="1061.9" y="2150.8" font-size="19.2" text-anchor="middle">2.5</text>
<text x="769" y="1831.7" font-size="19.2" text-anchor="end">2.5</text>
<text x="1149.8" y="2150.8" font-size="19.2" text-anchor="middle">5.0</text>
<text x="769" y="1737.7" font-size="19.2" text-anchor="end">5.0</text>
<text x="984.5" y="1703" font-size="25.5" text-anchor="middle" font-weight="bold">WTC</text>
<text x="974.1" y="2174" font-size="19.2" text-anchor="middle" font-weight="bold">Patterning condition screen</text>
<text x="719" y="1921" font-size="19.2" text-anchor="middle" font-weight="bold" transform="rotate(-90 719 1921)">Patterning reproducibility screen</text>
<polygon points="977.8,1723.3 981.7,1727.2 977.9,1730.9 981.7,1734.6 977.8,1738.5 974.1,1734.7 970.4,1738.5 966.5,1734.6 970.3,1730.9 966.5,1727.2 970.4,1723.3 974.1,1727.1" fill="#B5383E" stroke="#2b2b2b" stroke-width="0.9"/>
<circle cx="1149.8" cy="1730.9" r="7.3" fill="#EE93A0" stroke="#2b2b2b" stroke-width="0.9"/>
<circle cx="1149.8" cy="1732.8" r="7.3" fill="#B5383E" stroke="#2b2b2b" stroke-width="0.9"/>
<polygon points="1149.8,1728.3 1157.5,1742.8 1142,1742.8" fill="#B5383E" stroke="#2b2b2b" stroke-width="0.9"/>
<polygon points="1149.8,1759.3 1152.2,1766.1 1159,1768.5 1152.2,1770.9 1149.8,1777.7 1147.3,1770.9 1140.5,1768.5 1147.3,1766.1" fill="#B5383E" stroke="#2b2b2b" stroke-width="0.9"/>
<polygon points="1096.4,1852.8 1108.2,1852.8 1108.2,1864.6 1096.4,1864.6" fill="#3B5F97" stroke="#2b2b2b" stroke-width="0.9"/>
<polygon points="971.4,1892.1 976.8,1892.1 976.8,1897.4 982.1,1897.4 982.1,1902.8 976.8,1902.8 976.8,1908.1 971.4,1908.1 971.4,1902.8 966.1,1902.8 966.1,1897.4 971.4,1897.4" fill="#3B5F97" stroke="#2b2b2b" stroke-width="0.9"/>
<circle cx="974.1" cy="1918.9" r="7.3" fill="#3B5F97" stroke="#2b2b2b" stroke-width="0.9"/>
<polygon points="974.1,1911.3 981.7,1918.9 974.1,1926.5 966.5,1918.9" fill="#4C4D96" stroke="#2b2b2b" stroke-width="0.9"/>
<circle cx="1149.8" cy="1918.9" r="7.3" fill="#9B509D" stroke="#2b2b2b" stroke-width="0.9"/>
<polygon points="1149.8,1911.3 1157.3,1918.9 1149.8,1926.5 1142.2,1918.9" fill="#C48CCB" stroke="#2b2b2b" stroke-width="0.9"/>
<polygon points="974.1,1937.9 976.5,1944.7 983.3,1947.1 976.5,1949.5 974.1,1956.3 971.7,1949.5 964.9,1947.1 971.7,1944.7" fill="#3B5F97" stroke="#2b2b2b" stroke-width="0.9"/>
<polygon points="974.1,1947 981.7,1954.6 974.1,1962.2 966.5,1954.6" fill="#E8873A" stroke="#2b2b2b" stroke-width="0.9"/>
<polygon points="974.1,1963.3 981.9,1977.8 966.3,1977.8" fill="#3B5F97" stroke="#2b2b2b" stroke-width="0.9"/>
<circle cx="974.1" cy="2003.5" r="7.3" fill="#3B5F97" stroke="#2b2b2b" stroke-width="0.9"/>
<polygon points="977.8,2011 981.7,2014.8 977.9,2018.5 981.7,2022.3 977.8,2026.1 974.1,2022.4 970.4,2026.1 966.5,2022.3 970.3,2018.5 966.5,2014.8 970.4,2011 974.1,2014.7" fill="#3B5F97" stroke="#2b2b2b" stroke-width="0.9"/>
<polygon points="918.1,2003.5 921.9,2007.3 918.2,2011 921.9,2014.8 918.1,2018.6 914.4,2014.8 910.6,2018.6 906.8,2014.8 910.6,2011 906.8,2007.3 910.6,2003.5 914.4,2007.2" fill="#E8873A" stroke="#2b2b2b" stroke-width="0.9"/>
<polygon points="824.8,2036.7 832.6,2051.2 817,2051.2" fill="#E8873A" stroke="#2b2b2b" stroke-width="0.9"/>
<circle cx="798.5" cy="2106.9" r="7.3" fill="#E8873A" stroke="#2b2b2b" stroke-width="0.9"/>
<polygon points="792.6,2101 804.4,2101 804.4,2112.8 792.6,2112.8" fill="#E8873A" stroke="#2b2b2b" stroke-width="0.9"/>
<polygon points="891.5,2095.8 893.9,2102.6 900.7,2105 893.9,2107.4 891.5,2114.2 889.1,2107.4 882.3,2105 889.1,2102.6" fill="#E8873A" stroke="#2b2b2b" stroke-width="0.9"/>
<line x1="1545.7" y1="1711.7" x2="1545.7" y2="2113.2" stroke="#222" stroke-width="0.7"/>
<line x1="1633.5" y1="1711.7" x2="1633.5" y2="2113.2" stroke="#222" stroke-width="0.7"/>
<line x1="1721.2" y1="1711.7" x2="1721.2" y2="2113.2" stroke="#999" stroke-width="0.7"/>
<line x1="1809" y1="1711.7" x2="1809" y2="2113.2" stroke="#999" stroke-width="0.7"/>
<line x1="1896.7" y1="1711.7" x2="1896.7" y2="2113.2" stroke="#222" stroke-width="0.7"/>
<line x1="1527.8" y1="1729.1" x2="1914.2" y2="1729.1" stroke="#999" stroke-width="0.7"/>
<line x1="1527.8" y1="1820.6" x2="1914.2" y2="1820.6" stroke="#999" stroke-width="0.7"/>
<line x1="1527.8" y1="1912.1" x2="1914.2" y2="1912.1" stroke="#222" stroke-width="0.7"/>
<line x1="1527.8" y1="2003.6" x2="1914.2" y2="2003.6" stroke="#999" stroke-width="0.7"/>
<line x1="1527.8" y1="2095.1" x2="1914.2" y2="2095.1" stroke="#999" stroke-width="0.7"/>
<rect x="1527.8" y="1711.7" width="386.4" height="401.5" fill="none" stroke="#222" stroke-width="1.6"/>
<text x="1542.7" y="2138.2" font-size="19.2" text-anchor="middle">−5.0</text>
<text x="1514" y="2101.9" font-size="19.2" text-anchor="end">−5.0</text>
<text x="1630.5" y="2138.2" font-size="19.2" text-anchor="middle">−2.5</text>
<text x="1514" y="2010.4" font-size="19.2" text-anchor="end">−2.5</text>
<text x="1721.2" y="2138.2" font-size="19.2" text-anchor="middle">0.0</text>
<text x="1514" y="1918.9" font-size="19.2" text-anchor="end">0.0</text>
<text x="1809" y="2138.2" font-size="19.2" text-anchor="middle">2.5</text>
<text x="1514" y="1827.4" font-size="19.2" text-anchor="end">2.5</text>
<text x="1896.7" y="2138.2" font-size="19.2" text-anchor="middle">5.0</text>
<text x="1514" y="1735.9" font-size="19.2" text-anchor="end">5.0</text>
<text x="1726" y="1702.2" font-size="25.5" text-anchor="middle" font-weight="bold">H9</text>
<text x="1721" y="2167" font-size="19.2" text-anchor="middle" font-weight="bold">Patterning condition screen</text>
<text x="1477" y="1921" font-size="19.2" text-anchor="middle" font-weight="bold" transform="rotate(-90 1477 1921)">Patterning reproducibility screen</text>
<polygon points="1896.7,1719.9 1899.1,1726.7 1905.9,1729.1 1899.1,1731.5 1896.7,1738.3 1894.3,1731.5 1887.5,1729.1 1894.3,1726.7" fill="#EE93A0" stroke="#2b2b2b" stroke-width="0.9"/>
<polygon points="1894,1721.1 1899.4,1721.1 1899.4,1726.4 1904.7,1726.4 1904.7,1731.8 1899.4,1731.8 1899.4,1737.1 1894,1737.1 1894,1731.8 1888.7,1731.8 1888.7,1726.4 1894,1726.4" fill="#EE93A0" stroke="#2b2b2b" stroke-width="0.9"/>
<polygon points="1881.7,1777.8 1887.1,1777.8 1887.1,1783.1 1892.4,1783.1 1892.4,1788.5 1887.1,1788.5 1887.1,1793.8 1881.7,1793.8 1881.7,1788.5 1876.4,1788.5 1876.4,1783.1 1881.7,1783.1" fill="#3B5F97" stroke="#2b2b2b" stroke-width="0.9"/>
<polygon points="1828.3,1788.6 1836.1,1803.1 1820.5,1803.1" fill="#8C1C1A" stroke="#2b2b2b" stroke-width="0.9"/>
<polygon points="1721.2,1777.7 1723.6,1784.5 1730.4,1786.9 1723.6,1789.3 1721.2,1796.1 1718.8,1789.3 1712,1786.9 1718.8,1784.5" fill="#9B509D" stroke="#2b2b2b" stroke-width="0.9"/>
<polygon points="1721.2,1785.5 1728.8,1793.1 1721.2,1800.7 1713.6,1793.1" fill="#C48CCB" stroke="#2b2b2b" stroke-width="0.9"/>
<polygon points="1673.8,1823.4 1681.6,1837.9 1666,1837.9" fill="#B5383E" stroke="#2b2b2b" stroke-width="0.9"/>
<polygon points="1715.3,1830.4 1727.1,1830.4 1727.1,1842.2 1715.3,1842.2" fill="#8C1C1A" stroke="#2b2b2b" stroke-width="0.9"/>
<circle cx="1637" cy="1843.7" r="7.3" fill="#8C1C1A" stroke="#2b2b2b" stroke-width="0.9"/>
<circle cx="1685" cy="1877.3" r="7.3" fill="#B5383E" stroke="#2b2b2b" stroke-width="0.9"/>
<polygon points="1614.6,1891.6 1626.4,1891.6 1626.4,1903.4 1614.6,1903.4" fill="#B5383E" stroke="#2b2b2b" stroke-width="0.9"/>
<polygon points="1686.3,1888.1 1690.2,1891.9 1686.4,1895.6 1690.2,1899.4 1686.3,1903.2 1682.6,1899.4 1678.8,1903.2 1675,1899.4 1678.8,1895.6 1675,1891.9 1678.8,1888.1 1682.6,1891.8" fill="#E8873A" stroke="#2b2b2b" stroke-width="0.9"/>
<polygon points="1545.7,1902.9 1548.1,1909.7 1554.9,1912.1 1548.1,1914.5 1545.7,1921.3 1543.3,1914.5 1536.5,1912.1 1543.3,1909.7" fill="#8C1C1A" stroke="#2b2b2b" stroke-width="0.9"/>
<polygon points="1575.5,1904.5 1583.1,1912.1 1575.5,1919.7 1567.9,1912.1" fill="#2F8DB4" stroke="#2b2b2b" stroke-width="0.9"/>
<polygon points="1575.5,1902.9 1577.9,1909.7 1584.7,1912.1 1577.9,1914.5 1575.5,1921.3 1573.1,1914.5 1566.3,1912.1 1573.1,1909.7" fill="#2F8DB4" stroke="#2b2b2b" stroke-width="0.9"/>
<polygon points="1607.9,1904.1 1613.3,1904.1 1613.3,1909.4 1618.6,1909.4 1618.6,1914.8 1613.3,1914.8 1613.3,1920.1 1607.9,1920.1 1607.9,1914.8 1602.6,1914.8 1602.6,1909.4 1607.9,1909.4" fill="#2F8DB4" stroke="#2b2b2b" stroke-width="0.9"/>
<polygon points="1618.4,1904.5 1626,1912.1 1618.4,1919.7 1610.8,1912.1" fill="#4C4D96" stroke="#2b2b2b" stroke-width="0.9"/>
<circle cx="1642.2" cy="1912.1" r="7.3" fill="#4C4D96" stroke="#2b2b2b" stroke-width="0.9"/>
<circle cx="1721.2" cy="1912.1" r="7.3" fill="#3B5F97" stroke="#2b2b2b" stroke-width="0.9"/>
<polygon points="1721.2,1905.7 1729,1920.2 1713.4,1920.2" fill="#2F8DB4" stroke="#2b2b2b" stroke-width="0.9"/>
<polygon points="1772.3,1904.5 1776.2,1908.4 1772.4,1912.1 1776.2,1915.8 1772.3,1919.7 1768.6,1915.9 1764.8,1919.7 1761,1915.8 1764.8,1912.1 1761,1908.4 1764.8,1904.5 1768.6,1908.3" fill="#4C4D96" stroke="#2b2b2b" stroke-width="0.9"/>
<polygon points="1777.4,1902.9 1779.8,1909.7 1786.6,1912.1 1779.8,1914.5 1777.4,1921.3 1775,1914.5 1768.2,1912.1 1775,1909.7" fill="#8C1C1A" stroke="#2b2b2b" stroke-width="0.9"/>
<polygon points="1787.9,1904.5 1795.5,1912.1 1787.9,1919.7 1780.3,1912.1" fill="#3B5F97" stroke="#2b2b2b" stroke-width="0.9"/>
<polygon points="1782.6,1903.9 1790.4,1918.4 1774.8,1918.4" fill="#4C4D96" stroke="#2b2b2b" stroke-width="0.9"/>
<polygon points="1896.7,1902.9 1899.1,1909.7 1905.9,1912.1 1899.1,1914.5 1896.7,1921.3 1894.3,1914.5 1887.5,1912.1 1894.3,1909.7" fill="#9B509D" stroke="#2b2b2b" stroke-width="0.9"/>
<polygon points="1737.1,1917.2 1748.9,1917.2 1748.9,1929 1737.1,1929" fill="#E8873A" stroke="#2b2b2b" stroke-width="0.9"/>
<polygon points="1724.9,1925.8 1728.8,1929.6 1725,1933.3 1728.8,1937.1 1724.9,1940.9 1721.2,1937.1 1717.5,1940.9 1713.6,1937.1 1717.4,1933.3 1713.6,1929.6 1717.5,1925.8 1721.2,1929.5" fill="#B5383E" stroke="#2b2b2b" stroke-width="0.9"/>
<circle cx="1721.2" cy="1946.1" r="7.3" fill="#E8873A" stroke="#2b2b2b" stroke-width="0.9"/>
<polygon points="1721.2,1961.5 1723.6,1968.3 1730.4,1970.7 1723.6,1973.1 1721.2,1979.9 1718.8,1973.1 1712,1970.7 1718.8,1968.3" fill="#B5383E" stroke="#2b2b2b" stroke-width="0.9"/>
<polygon points="1721.2,1969 1729,1983.5 1713.4,1983.5" fill="#3B5F97" stroke="#2b2b2b" stroke-width="0.9"/>
<polygon points="1686.1,1993.6 1693.9,2008.1 1678.3,2008.1" fill="#E8873A" stroke="#2b2b2b" stroke-width="0.9"/>
<polygon points="1721.2,2001.7 1723.6,2008.5 1730.4,2010.9 1723.6,2013.3 1721.2,2020.1 1718.8,2013.3 1712,2010.9 1718.8,2008.5" fill="#B5383E" stroke="#2b2b2b" stroke-width="0.9"/>
<polygon points="1543,2061.5 1548.4,2061.5 1548.4,2066.8 1553.7,2066.8 1553.7,2072.2 1548.4,2072.2 1548.4,2077.5 1543,2077.5 1543,2072.2 1537.7,2072.2 1537.7,2066.8 1543,2066.8" fill="#8C1C1A" stroke="#2b2b2b" stroke-width="0.9"/>
<polygon points="1543,2087.1 1548.4,2087.1 1548.4,2092.4 1553.7,2092.4 1553.7,2097.8 1548.4,2097.8 1548.4,2103.1 1543,2103.1 1543,2097.8 1537.7,2097.8 1537.7,2092.4 1543,2092.4" fill="#E8873A" stroke="#2b2b2b" stroke-width="0.9"/>
<polygon points="1545.7,2085.9 1548.1,2092.7 1554.9,2095.1 1548.1,2097.5 1545.7,2104.3 1543.3,2097.5 1536.5,2095.1 1543.3,2092.7" fill="#E8873A" stroke="#2b2b2b" stroke-width="0.9"/>
<polygon points="1630.8,2087.1 1636.2,2087.1 1636.2,2092.4 1641.5,2092.4 1641.5,2097.8 1636.2,2097.8 1636.2,2103.1 1630.8,2103.1 1630.8,2097.8 1625.5,2097.8 1625.5,2092.4 1630.8,2092.4" fill="#E8873A" stroke="#2b2b2b" stroke-width="0.9"/>
<polygon points="1665,2073.6 1672.6,2081.2 1665,2088.8 1657.4,2081.2" fill="#E8873A" stroke="#2b2b2b" stroke-width="0.9"/>
<polygon points="1718.5,2067.7 1723.9,2067.7 1723.9,2073 1729.2,2073 1729.2,2078.4 1723.9,2078.4 1723.9,2083.7 1718.5,2083.7 1718.5,2078.4 1713.2,2078.4 1713.2,2073 1718.5,2073" fill="#EE93A0" stroke="#2b2b2b" stroke-width="0.9"/>
<text x="1219.4" y="1722" font-size="19.2" font-weight="bold">Cell type</text>
<circle cx="1208.6" cy="1739.6" r="7.3" fill="#E8873A" stroke="#2b2b2b" stroke-width="0.9"/>
<text x="1219.4" y="1746.1" font-size="19.2">Telencephalic Progenitors</text>
<circle cx="1208.6" cy="1762.8" r="7.3" fill="#B5383E" stroke="#2b2b2b" stroke-width="0.9"/>
<text x="1219.4" y="1769.3" font-size="19.2">Retinal Progenitors</text>
<circle cx="1208.6" cy="1786.4" r="7.3" fill="#8C1C1A" stroke="#2b2b2b" stroke-width="0.9"/>
<text x="1219.4" y="1792.9" font-size="19.2">Cortical Hem/Diencephalon</text>
<circle cx="1208.6" cy="1809.6" r="7.3" fill="#E83A66" stroke="#2b2b2b" stroke-width="0.9"/>
<text x="1219.4" y="1816.1" font-size="19.2">Hypothalamic Progenitors</text>
<circle cx="1208.6" cy="1833.2" r="7.3" fill="#9B509D" stroke="#2b2b2b" stroke-width="0.9"/>
<text x="1219.4" y="1839.7" font-size="19.2">Floor Plate</text>
<circle cx="1208.6" cy="1856.9" r="7.3" fill="#EE93A0" stroke="#2b2b2b" stroke-width="0.9"/>
<text x="1219.4" y="1863.4" font-size="19.2">Hindbrain Progenitors</text>
<circle cx="1208.6" cy="1880" r="7.3" fill="#2F8DB4" stroke="#2b2b2b" stroke-width="0.9"/>
<text x="1219.4" y="1886.5" font-size="19.2">PNS Neurons</text>
<circle cx="1208.6" cy="1903.7" r="7.3" fill="#3B5F97" stroke="#2b2b2b" stroke-width="0.9"/>
<text x="1219.4" y="1910.2" font-size="19.2">CNS Neurons</text>
<circle cx="1208.6" cy="1926.8" r="7.3" fill="#4C4D96" stroke="#2b2b2b" stroke-width="0.9"/>
<text x="1219.4" y="1933.3" font-size="19.2">Neural Crest</text>
<text x="1219.4" y="1956.5" font-size="19.2" font-weight="bold">Condition</text>
<polygon points="1212.3,1963.1 1216.2,1966.9 1212.4,1970.6 1216.2,1974.4 1212.3,1978.2 1208.6,1974.5 1204.9,1978.2 1201,1974.4 1204.8,1970.6 1201,1966.9 1204.9,1963.1 1208.6,1966.8" fill="#58595B" stroke="#333" stroke-width="0.9"/>
<text x="1217.9" y="1977.6" font-size="19.2">SHH c<tspan font-size="10.5" dy="5">1</tspan></text>
<polygon points="1202.7,1986.9 1214.5,1986.9 1214.5,1998.7 1202.7,1998.7" fill="#58595B" stroke="#333" stroke-width="0.9"/>
<text x="1217.9" y="1999.8" font-size="19.2">SHH c<tspan font-size="10.5" dy="5">5</tspan></text>
<circle cx="1208.6" cy="2015.5" r="7.3" fill="#58595B" stroke="#333" stroke-width="0.9"/>
<text x="1217.9" y="2022.5" font-size="19.2">RA c<tspan font-size="10.5" dy="5">1</tspan></text>
<polygon points="1208.6,2028.9 1211,2035.7 1217.8,2038.1 1211,2040.5 1208.6,2047.3 1206.2,2040.5 1199.4,2038.1 1206.2,2035.7" fill="#58595B" stroke="#333" stroke-width="0.9"/>
<text x="1217.9" y="2045.1" font-size="19.2">RA c<tspan font-size="10.5" dy="5">5</tspan></text>
<polygon points="1208.6,2052.6 1216.4,2067.1 1200.8,2067.1" fill="#58595B" stroke="#333" stroke-width="0.9"/>
<text x="1217.9" y="2067.8" font-size="19.2">CHIR c<tspan font-size="10.5" dy="5">1</tspan></text>
<polygon points="1205.9,2075.9 1211.3,2075.9 1211.3,2081.2 1216.6,2081.2 1216.6,2086.6 1211.3,2086.6 1211.3,2091.9 1205.9,2091.9 1205.9,2086.6 1200.6,2086.6 1200.6,2081.2 1205.9,2081.2" fill="#58595B" stroke="#333" stroke-width="0.9"/>
<text x="1217.9" y="2090.9" font-size="19.2">FGF-8 c<tspan font-size="10.5" dy="5">1</tspan></text>
<polygon points="1208.6,2098.5 1216.2,2106.1 1208.6,2113.7 1201,2106.1" fill="#58595B" stroke="#333" stroke-width="0.9"/>
<text x="1217.9" y="2113.1" font-size="19.2">FGF-8 c<tspan font-size="10.5" dy="5">5</tspan></text>
<defs>
<path id="u_neuron" d="M313.5 2247.5C316.9 2247.3 319.8 2248.2 323 2250.2C326.1 2252.1 328.8 2255.7 332.4 2259C336 2262.2 340.3 2266.4 344.6 2269.8C348.9 2273.2 354.7 2276.8 358.2 2279.3C361.7 2281.8 364.2 2282.2 365.6 2284.7C367.1 2287.2 367.5 2290.8 367 2294.2C366.4 2297.6 364.2 2301.4 362.2 2305C360.3 2308.6 357.7 2312.7 355.5 2315.9C353.2 2319 350.6 2321.6 348.7 2324C346.8 2326.4 342.8 2329.6 344 2330.1C345.1 2330.5 351.3 2327.7 355.5 2326.7C359.6 2325.7 364.5 2324.3 369 2324C373.5 2323.6 378.3 2323.8 382.6 2324.7C386.8 2325.6 391.5 2327 394.7 2329.4C398 2331.8 400.5 2335.5 402.2 2338.9C403.9 2342.3 405 2345.9 404.9 2349.7C404.8 2353.6 403.4 2358.3 401.5 2361.9C399.6 2365.5 396.8 2368.7 393.4 2371.4C390 2374.1 385.7 2376.5 381.2 2378.2C376.7 2379.9 371.4 2380.8 366.3 2381.6C361.2 2382.4 352.3 2381.2 350.7 2382.9C349.1 2384.6 353.8 2388.9 356.8 2391.7C359.9 2394.5 364.7 2397.5 369 2399.8C373.3 2402.2 378.3 2403.5 382.6 2405.9C386.8 2408.4 391.4 2411.2 394.7 2414.7C398.1 2418.2 400.6 2422.7 402.9 2426.9C405.1 2431.2 406.3 2436.4 408.3 2440.5C410.3 2444.6 413.4 2447.7 415.1 2451.3C416.8 2454.9 418.2 2458.1 418.5 2462.2C418.7 2466.2 418.1 2471.4 416.4 2475.7C414.7 2480 411.9 2484.5 408.3 2487.9C404.7 2491.3 400.2 2493.8 394.7 2496C389.3 2498.3 381.9 2500.3 375.8 2501.4C369.7 2502.6 363.8 2503.5 358.2 2502.8C352.5 2502.1 346.7 2499.9 341.9 2497.4C337.2 2494.9 333.1 2491.5 329.7 2487.9C326.3 2484.3 323.9 2479.8 321.6 2475.7C319.3 2471.6 318.2 2467.1 316.2 2463.5C314.1 2459.9 311.9 2456.5 309.4 2454C306.9 2451.6 304.9 2450 301.3 2448.6C297.7 2447.3 292.7 2445.5 287.7 2445.9C282.8 2446.4 276.4 2450.9 271.5 2451.3C266.5 2451.8 261.8 2451.1 257.9 2448.6C254.1 2446.1 250.7 2441.8 248.4 2436.4C246.2 2431 245.5 2422.9 244.4 2416.1C243.3 2409.3 243.5 2402.6 241.7 2395.8C239.9 2389 235.1 2381.6 233.5 2375.5C232 2369.4 229.9 2363.3 232.2 2359.2C234.4 2355.1 241.7 2353.1 247.1 2351.1C252.5 2349 260.2 2348.8 264.7 2347C269.2 2345.2 271 2344.1 274.2 2340.2C277.3 2336.4 281.4 2329.9 283.7 2324C285.9 2318.1 286.8 2312.2 287.7 2305C288.6 2297.8 288.2 2287.6 289.1 2280.6C290 2273.6 290.9 2268 293.2 2263C295.4 2258.1 299.2 2253.4 302.6 2250.8C306 2248.2 310.1 2247.6 313.5 2247.5Z"/>
<path id="u_npc" d="M156.1 2304C155.5 2298.7 157.1 2292 159.3 2288C161.4 2284 164.6 2281.8 168.9 2280C173.1 2278.3 180.9 2278.7 184.9 2277.6C188.9 2276.6 190.5 2273 192.9 2273.6C195.3 2274.3 197.4 2278.2 199.3 2281.6C201.2 2285.1 202.6 2289.9 204.1 2294.4C205.6 2299 206.8 2309.1 208.1 2308.8C209.4 2308.6 210.8 2297.9 212.1 2292.8C213.4 2287.8 214 2282.2 216.1 2278.4C218.2 2274.7 221.6 2271.5 224.9 2270.4C228.2 2269.4 232.9 2270.2 236.1 2272C239.3 2273.9 242.2 2278.2 244.1 2281.6C246 2285.1 247.9 2287.8 247.3 2292.8C246.8 2297.9 242.8 2304.8 240.9 2312C239 2319.3 237.4 2329.4 236.1 2336.1C234.8 2342.7 233.4 2347.8 232.9 2352.1C232.4 2356.3 232.4 2356.3 232.9 2361.7C233.4 2367 234.5 2376.4 236.1 2384.1C237.7 2391.8 240.6 2400.1 242.5 2408.1C244.4 2416.1 245.7 2425.5 247.3 2432.1C248.9 2438.8 249.7 2445.2 252.1 2448.1C254.5 2451.1 257.5 2448.9 261.7 2449.7C266 2450.5 273.5 2450.5 277.7 2452.9C282 2455.3 285.1 2459.6 287.3 2464.1C289.6 2468.7 291.2 2475.1 291.3 2480.2C291.5 2485.2 289.9 2490.8 288.1 2494.6C286.4 2498.3 283.7 2501.5 280.9 2502.6C278.1 2503.6 274.5 2502.6 271.3 2501C268.1 2499.4 264.4 2496.4 261.7 2493C259.1 2489.5 258.3 2483.1 255.3 2480.2C252.4 2477.2 250 2477 244.1 2475.4C238.2 2473.7 227.8 2470.3 220.1 2470.5C212.4 2470.8 204.1 2474.3 197.7 2477C191.3 2479.6 186.5 2484.2 181.7 2486.6C176.9 2489 173.1 2490.3 168.9 2491.4C164.6 2492.4 160.3 2493.2 156.1 2493C151.8 2492.7 148.1 2491.6 143.3 2489.8C138.5 2487.9 131.8 2485 127.2 2481.8C122.7 2478.6 118.7 2474.8 116 2470.5C113.4 2466.3 111.5 2460.9 111.2 2456.1C111 2451.3 112.3 2445.7 114.4 2441.7C116.6 2437.7 119.8 2434.8 124 2432.1C128.3 2429.5 134.2 2427.3 140.1 2425.7C145.9 2424.1 152.9 2423.3 159.3 2422.5C165.7 2421.7 173.1 2422 178.5 2420.9C183.8 2419.8 189.7 2418.5 191.3 2416.1C192.9 2413.7 189.7 2410.2 188.1 2406.5C186.5 2402.8 184.3 2398 181.7 2393.7C179 2389.4 174.7 2385.2 172.1 2380.9C169.4 2376.6 165.7 2372.9 165.7 2368.1C165.7 2363.3 171.3 2357.4 172.1 2352.1C172.9 2346.7 172.1 2341.4 170.5 2336.1C168.9 2330.7 164.9 2325.4 162.5 2320.1C160.1 2314.7 156.6 2309.4 156.1 2304Z"/>
<path id="u_nepi" d="M91.2 2316.8C91.2 2314.8 97.8 2309.8 101.6 2307.2C105.5 2304.7 109.9 2302.3 114.4 2301.6C119 2301 124 2302.3 128.8 2303.2C133.6 2304.2 138.7 2306 143.3 2307.2C147.8 2308.4 152.6 2308.8 156.1 2310.4C159.5 2312 160.9 2312.6 164.1 2316.8C167.3 2321.1 172.9 2330.2 175.3 2336.1C177.7 2341.9 179 2346.7 178.5 2352.1C177.9 2357.4 174.2 2363.3 172.1 2368.1C169.9 2372.9 168.3 2377.2 165.7 2380.9C163 2384.6 159.8 2387.8 156.1 2390.5C152.3 2393.2 147.5 2395.6 143.3 2396.9C139 2398.2 133.9 2398.4 130.4 2398.5C127 2398.6 125.1 2399 122.4 2397.7C119.8 2396.4 116.8 2392.8 114.4 2390.5C112 2388.2 109.4 2386 108 2384.1C106.7 2382.2 105.6 2381.4 106.4 2379.3C107.2 2377.2 110.7 2373.7 112.8 2371.3C115 2368.9 116.8 2366.5 119.2 2364.9C121.6 2363.3 125.1 2362.7 127.2 2361.7C129.4 2360.6 131 2359.5 132 2358.5C133.1 2357.4 133.9 2356.6 133.6 2355.3C133.4 2353.9 131.5 2352.6 130.4 2350.5C129.4 2348.3 128.8 2345.4 127.2 2342.5C125.6 2339.5 123.2 2335.8 120.8 2332.9C118.4 2329.9 116 2327.1 112.8 2324.9C109.6 2322.6 105.2 2320.6 101.6 2319.3C98 2317.9 91.2 2318.9 91.2 2316.8Z"/>
<path id="u_mc" d="M72.8 2332.9C73.6 2331.1 76.3 2331.5 79.2 2332.1C82.1 2332.6 87.4 2334.1 90.4 2336.1C93.5 2338.1 96.3 2340.9 97.6 2344.1C99 2347.3 98.7 2351.3 98.4 2355.3C98.2 2359.3 96 2363.8 96 2368.1C96 2372.4 96.7 2376.9 98.4 2380.9C100.2 2384.9 103 2388.9 106.4 2392.1C109.9 2395.3 114.2 2398.2 119.2 2400.1C124.3 2402 130.7 2403 136.8 2403.3C143 2403.6 150.2 2401.2 156.1 2401.7C161.9 2402.2 166.7 2404.4 172.1 2406.5C177.4 2408.6 186.5 2412.1 188.1 2414.5C189.7 2416.9 185.9 2420.1 181.7 2420.9C177.4 2421.7 169.4 2419.8 162.5 2419.3C155.5 2418.8 147 2418.1 140.1 2417.7C133.1 2417.3 126.7 2417.7 120.8 2416.9C115 2416.1 109.9 2415.2 104.8 2412.9C99.8 2410.6 94.4 2407 90.4 2403.3C86.4 2399.6 83.3 2395.3 80.8 2390.5C78.3 2385.7 76.4 2380.4 75.2 2374.5C74 2368.6 73.7 2360.6 73.6 2355.3C73.5 2349.9 74.5 2346.2 74.4 2342.5C74.3 2338.7 72 2334.6 72.8 2332.9Z"/>
<path id="u_core" d="M204.1 2320.1C212.1 2308 233.4 2306.7 244.1 2312C254.8 2317.4 262.8 2337.4 268.1 2352.1C273.5 2366.7 276.1 2384.1 276.1 2400.1C276.1 2416.1 274.8 2437.5 268.1 2448.1C261.5 2458.8 246.8 2464.1 236.1 2464.1C225.4 2464.1 210.8 2461.5 204.1 2448.1C197.4 2434.8 196.1 2405.4 196.1 2384.1C196.1 2362.7 196.1 2332.1 204.1 2320.1Z"/>
<path id="u_nc2" d="M149.7 2390.5C151.8 2387.8 163.5 2386.2 168.9 2387.3C174.2 2388.4 177.9 2392.4 181.7 2396.9C185.4 2401.4 192.9 2411.8 191.3 2414.5C189.7 2417.2 177.9 2414.8 172.1 2412.9C166.2 2411 159.8 2407 156.1 2403.3C152.3 2399.6 147.5 2393.2 149.7 2390.5Z"/>
<path id="u_cp" d="M236.1 2307.2C237 2303.5 238.2 2297.6 240.9 2294.4C243.6 2291.2 247.9 2289.4 252.1 2288C256.4 2286.7 262.5 2285.9 266.5 2286.4C270.5 2287 273.6 2288.3 276.1 2291.2C278.7 2294.2 280.9 2299.8 281.7 2304C282.5 2308.3 282.1 2312.6 280.9 2316.8C279.7 2321.1 276.7 2325.4 274.5 2329.7C272.4 2333.9 270.5 2339 268.1 2342.5C265.7 2345.9 263.3 2349.4 260.1 2350.5C256.9 2351.5 252.1 2350.2 248.9 2348.9C245.7 2347.5 242.8 2345.7 240.9 2342.5C239 2339.3 238.6 2333.9 237.7 2329.7C236.8 2325.4 235.6 2320.6 235.3 2316.8C235 2313.1 235.2 2311 236.1 2307.2Z"/>
<path id="u_glio" d="M194.5 2480.2C196.6 2477.2 199.8 2474.3 204.1 2472.1C208.4 2470 214.8 2469.2 220.1 2467.3C225.4 2465.5 231.3 2463.1 236.1 2460.9C240.9 2458.8 245.7 2454 248.9 2454.5C252.1 2455.1 254.4 2459.9 255.3 2464.1C256.3 2468.4 255.6 2474.8 254.5 2480.2C253.5 2485.5 252 2490.8 248.9 2496.2C245.9 2501.5 240.9 2507.6 236.1 2512.2C231.3 2516.7 225.4 2520.2 220.1 2523.4C214.8 2526.6 208.1 2529.8 204.1 2531.4C200.1 2533 198 2534.6 196.1 2533C194.2 2531.4 193.8 2526.6 192.9 2521.8C192 2517 190.8 2509.5 190.5 2504.2C190.2 2498.8 190.6 2493.8 191.3 2489.8C192 2485.8 192.4 2483.1 194.5 2480.2Z"/>
<path id="u_astro" d="M186.5 2499.4C190.2 2498.8 194.8 2507.4 197.7 2512.2C200.6 2517 204.4 2524.7 204.1 2528.2C203.8 2531.7 198.8 2531.7 196.1 2533C193.4 2534.3 190.5 2534.6 188.1 2536.2C185.7 2537.8 181.7 2540.1 181.7 2542.4C181.7 2544.8 184.3 2548 188.1 2550.1C191.8 2552.2 198.2 2553.8 204.1 2555.1C210 2556.3 218 2556.4 223.3 2557.6C228.6 2558.9 232.6 2560.5 236.1 2562.6C239.6 2564.7 242.8 2567.5 244.1 2570.3C245.5 2573 245.5 2576.6 244.1 2579.1C242.8 2581.6 239 2583.9 236.1 2585.3C233.2 2586.8 227 2588.7 226.5 2587.9C226 2587.1 232.1 2582.9 232.9 2580.4C233.7 2577.9 233.4 2574.7 231.3 2572.9C229.2 2571 225.2 2569.9 220.1 2569C215 2568.2 207.3 2568.6 200.9 2567.7C194.5 2566.9 187.3 2565.8 181.7 2563.9C176.1 2562 171 2559.3 167.3 2556.4C163.5 2553.4 160.9 2549.4 159.3 2546.3C157.7 2543.1 156.9 2541 157.7 2537.5C158.5 2533.9 161.1 2528.7 164.1 2525C167 2521.3 171.5 2519.6 175.3 2515.4C179 2511.1 182.7 2499.9 186.5 2499.4Z"/>
<path id="u_opc" d="M254.5 2494.6C258 2497.8 261.1 2504.7 264.9 2509C268.8 2513.2 274.9 2515.6 277.7 2520.2C280.5 2524.7 281.2 2531.7 281.7 2536.2C282.3 2540.7 282.1 2546.1 280.9 2547.4C279.7 2548.7 278 2545.3 274.5 2544.2C271.1 2543.1 266.5 2541.8 260.1 2541C253.7 2540.2 244.1 2539.9 236.1 2539.4C228.1 2538.9 218 2538.6 212.1 2537.8C206.2 2537 200.9 2537.8 200.9 2534.6C200.9 2531.4 207.6 2523.6 212.1 2518.6C216.6 2513.5 222.8 2509 228.1 2504.2C233.4 2499.4 239.7 2491.4 244.1 2489.8C248.5 2488.2 251.1 2491.4 254.5 2494.6Z"/>
<path id="u_nc" d="M143.3 2496.2C143.3 2494.6 147.5 2494.3 149.7 2494.6C151.8 2494.8 153.4 2497.5 156.1 2497.8C158.7 2498 162.5 2496.4 165.7 2496.2C168.9 2495.9 174.5 2494.6 175.3 2496.2C176.1 2497.8 172.6 2502.6 170.5 2505.8C168.3 2509 164.9 2512.7 162.5 2515.4C160.1 2518 158.6 2521 156.1 2521.8C153.5 2522.6 148.9 2522 147.3 2520.2C145.7 2518.3 146.1 2513.2 146.5 2510.6C146.9 2507.9 150.2 2506.6 149.7 2504.2C149.1 2501.8 143.3 2497.8 143.3 2496.2Z"/>
<path id="u_ip" d="M160.9 2473.7C161.9 2471.9 167.5 2470.3 172.1 2468.9C176.6 2467.6 184.1 2465.7 188.1 2465.7C192.1 2465.7 195.3 2467.3 196.1 2468.9C196.9 2470.5 195.3 2473.5 192.9 2475.4C190.5 2477.2 186.2 2479.4 181.7 2480.2C177.1 2481 169.1 2481.2 165.7 2480.2C162.2 2479.1 159.8 2475.6 160.9 2473.7Z"/>
<path id="u_psc" d="M116.8 2352.1C116.8 2350.2 120.2 2348.1 122.4 2347.3C124.7 2346.5 128.7 2346.5 130.4 2347.3C132.2 2348.1 133.4 2350.9 132.8 2352.1C132.3 2353.3 129 2353.4 127.2 2354.5C125.5 2355.5 124.2 2358.9 122.4 2358.5C120.7 2358.1 116.8 2353.9 116.8 2352.1Z"/>
<g id="sil"><use href="#u_mc" fill="#E7E7E7"/><use href="#u_opc" fill="#E0E0E0"/><use href="#u_neuron"/><use href="#u_npc"/><use href="#u_nepi"/><use href="#u_cp"/><use href="#u_glio"/><use href="#u_astro"/><use href="#u_nc"/><use href="#u_nc2"/><use href="#u_core"/></g>
<filter id="b1" filterUnits="userSpaceOnUse" x="0" y="2180" width="520" height="480"><feGaussianBlur stdDeviation="1.2"/></filter>
<filter id="b2" filterUnits="userSpaceOnUse" x="0" y="2180" width="520" height="480"><feGaussianBlur stdDeviation="1.8"/></filter>
<filter id="b3" filterUnits="userSpaceOnUse" x="0" y="2180" width="520" height="480"><feGaussianBlur stdDeviation="3"/></filter>
<filter id="b6" filterUnits="userSpaceOnUse" x="0" y="2180" width="520" height="480"><feGaussianBlur stdDeviation="6"/></filter>
<clipPath id="clipsil"><use href="#u_neuron"/><use href="#u_npc"/><use href="#u_nepi"/><use href="#u_mc"/><use href="#u_cp"/><use href="#u_glio"/><use href="#u_astro"/><use href="#u_opc"/><use href="#u_nc"/><use href="#u_nc2"/><use href="#u_core"/></clipPath>
</defs>
<text x="25.5" y="2221.5" font-size="26" font-weight="bold">e</text>
<text x="243" y="2221.5" font-size="27" text-anchor="middle" font-weight="bold">HNOCA, cell class</text>
<text x="675" y="2221.5" font-size="27" text-anchor="middle" font-weight="bold">HNOCA, brain region</text>
<g filter="url(#b1)">
<use href="#u_mc" fill="#F19C99"/>
<use href="#u_nc" fill="#FDB97A"/>
<use href="#u_nc2" fill="#F5AE98"/>
<use href="#u_opc" fill="#BFC062"/>
<use href="#u_astro" fill="#E27BC1"/>
<use href="#u_nepi" fill="#F5821F"/>
<use href="#u_npc" fill="#1FA36A"/>
<use href="#u_cp" fill="#22BCD9"/>
<use href="#u_neuron" fill="#8659A9"/>
<use href="#u_glio" fill="#8C564B"/>
<use href="#u_ip" fill="#D93027"/>
<use href="#u_psc" fill="#1F77B4"/>
</g>
<g filter="url(#b3)">
<path d="M232.2 2351.1C236.3 2347.2 249.8 2343.9 255.2 2345.7C260.6 2347.5 263.8 2355.8 264.7 2361.9C265.6 2368 258.6 2377.7 260.6 2382.2C262.7 2386.8 269.2 2387.2 276.9 2389C284.6 2390.8 301.7 2391.5 306.7 2393.1C311.7 2394.7 311.7 2397.8 306.7 2398.5C301.7 2399.2 284.6 2395.3 276.9 2397.1C269.2 2398.9 265.6 2408.4 260.6 2409.3C255.7 2410.2 251.2 2405.9 247.1 2402.6C243 2399.2 239 2394.7 236.3 2389C233.5 2383.4 231.5 2375 230.8 2368.7C230.2 2362.4 228.1 2354.9 232.2 2351.1Z" fill="#3AA6D0" opacity="0.55"/>
<path d="M247.1 2402.6C251.6 2397.6 270.6 2396.5 276.9 2399.8C283.2 2403.2 284.6 2415.7 285 2422.9C285.5 2430.1 283.7 2439.4 279.6 2443.2C275.5 2447 265.6 2448.2 260.6 2445.9C255.7 2443.6 252.1 2436.9 249.8 2429.7C247.5 2422.4 242.6 2407.5 247.1 2402.6Z" fill="#7C6DB0" opacity="0.5"/>
<path d="M211.9 2409.3C215 2401.4 223.2 2395.8 228.1 2395.8C233.1 2395.8 238.5 2402.6 241.7 2409.3C244.8 2416.1 247.3 2428.5 247.1 2436.4C246.9 2444.3 244.4 2452.2 240.3 2456.7C236.3 2461.3 227.9 2465.8 222.7 2463.5C217.5 2461.3 211 2452.2 209.2 2443.2C207.4 2434.2 208.7 2417.2 211.9 2409.3Z" fill="#5E8F63" opacity="0.6"/>
<path d="M155 2406.6C156.1 2401.7 165.1 2398.3 168.5 2399.8C171.9 2401.4 172.6 2410 175.3 2416.1C178 2422.2 184.8 2431.9 184.8 2436.4C184.8 2440.9 179.1 2444.3 175.3 2443.2C171.5 2442.1 165.1 2435.7 161.8 2429.7C158.4 2423.6 153.8 2411.6 155 2406.6Z" fill="#4E9A64" opacity="0.5"/>
<path d="M163.1 2324C164.2 2319 171.5 2315.4 175.3 2315.9C179.1 2316.3 185 2322.2 186.1 2326.7C187.3 2331.2 185 2339.8 182.1 2343C179.1 2346.1 171.7 2348.8 168.5 2345.7C165.4 2342.5 162 2329 163.1 2324Z" fill="#6FA35C" opacity="0.5"/>
</g>
<circle cx="386.5" cy="2520.7" r="4.3" fill="#1F77B4"/>
<text x="397" y="2526.7" font-size="19.2">PSC</text>
<circle cx="386.5" cy="2539.9" r="4.3" fill="#F5821F"/>
<text x="397" y="2545.9" font-size="19.2">N.epith.</text>
<circle cx="386.5" cy="2560" r="4.3" fill="#1FA36A"/>
<text x="397" y="2566" font-size="19.2">NPC</text>
<circle cx="386.5" cy="2579.3" r="4.3" fill="#D93027"/>
<text x="397" y="2585.3" font-size="19.2">IP</text>
<circle cx="386.5" cy="2599.1" r="4.3" fill="#8659A9"/>
<text x="397" y="2605.1" font-size="19.2">Neuron</text>
<circle cx="386.5" cy="2619.3" r="4.3" fill="#8C564B"/>
<text x="397" y="2625.3" font-size="19.2">Glioblast</text>
<circle cx="386.5" cy="2637.9" r="4.3" fill="#E27BC1"/>
<text x="397" y="2643.9" font-size="19.2">Astrocyte</text>
<circle cx="386.5" cy="2657.1" r="4.3" fill="#BFC062"/>
<text x="397" y="2663.1" font-size="19.2">OPC</text>
<circle cx="386.5" cy="2677.6" r="4.3" fill="#22BCD9"/>
<text x="397" y="2683.6" font-size="19.2">CP</text>
<circle cx="386.5" cy="2696.8" r="4.3" fill="#FDB97A"/>
<text x="397" y="2702.8" font-size="19.2">NC</text>
<circle cx="438.5" cy="2677.6" r="4.3" fill="#98D18B"/>
<text x="449" y="2683.6" font-size="19.2">EC</text>
<circle cx="438.5" cy="2696.8" r="4.3" fill="#F19C99"/>
<text x="449" y="2702.8" font-size="19.2">MC</text>
<path d="M58.6 2598V2667H127" fill="none" stroke="#000" stroke-width="1.6"/>
<path d="M58.6 2593l-3.6 8h7.2zM132 2667l-8 -3.6v7.2z" fill="#000"/>
<text x="61" y="2692.5" font-size="19.5">UMAP1</text>
<text x="48.5" y="2630" font-size="19.5" text-anchor="middle" transform="rotate(-90 48.5 2630)">UMAP2</text>
<g transform="translate(432 2)">
<g filter="url(#b1)"><use href="#sil" fill="#D6D6D6"/></g>
<g clip-path="url(#clipsil)"><g filter="url(#b3)">
<path d="M161 2285.4C162.1 2279.1 165.9 2279.1 170.1 2277.4C174.3 2275.7 182 2273.8 186 2275.2C190 2276.5 192.1 2279.9 194 2285.4C195.9 2290.9 196.5 2299.8 197.4 2308.2C198.4 2316.5 198.6 2325.3 199.7 2335.5C200.8 2345.8 204.3 2360.2 204.3 2369.7C204.3 2379.2 202.7 2389.1 199.7 2392.5C196.7 2395.9 189.8 2394 186 2390.2C182.2 2386.4 179.6 2377.7 176.9 2369.7C174.3 2361.7 172.4 2351.5 170.1 2342.4C167.8 2333.3 164.8 2324.5 163.3 2315C161.7 2305.5 159.8 2291.7 161 2285.4Z" fill="#DD8A8C"/>
<path d="M187.2 2276.3C187.6 2271.2 191.5 2270.8 194 2270.6C196.5 2270.4 199.5 2271.5 202 2275.2C204.5 2278.8 207.3 2286.4 208.8 2292.2C210.3 2298.1 210.5 2302.1 211.1 2310.5C211.7 2318.8 211.1 2331 212.2 2342.4C213.4 2353.8 216.2 2368.2 217.9 2378.8C219.6 2389.5 223.2 2400.1 222.5 2406.2C221.7 2412.2 216.4 2417.6 213.4 2415.3C210.3 2413 206.5 2401.6 204.3 2392.5C202 2383.4 201 2371.2 199.7 2360.6C198.4 2350 197.6 2338.6 196.3 2328.7C195 2318.8 193.2 2310.1 191.7 2301.4C190.2 2292.6 186.8 2281.4 187.2 2276.3Z" fill="#EC3030"/>
<path d="M213.4 2285.4C214.9 2278.9 217.2 2272.5 220.2 2269.5C223.2 2266.4 227.4 2266 231.6 2267.2C235.8 2268.3 242.2 2273.3 245.3 2276.3C248.3 2279.3 250.2 2281.2 249.8 2285.4C249.5 2289.6 244.9 2294.9 243 2301.4C241.1 2307.8 239.6 2315.8 238.4 2324.1C237.3 2332.5 236.2 2342 236.2 2351.5C236.2 2361 236.9 2372 238.4 2381.1C240 2390.2 246.4 2400.5 245.3 2406.2C244.1 2411.9 235.8 2416 231.6 2415.3C227.4 2414.5 223.1 2409.2 220.2 2401.6C217.4 2394 215.8 2380.7 214.5 2369.7C213.2 2358.7 212.8 2345.8 212.2 2335.5C211.7 2325.3 210.9 2316.5 211.1 2308.2C211.3 2299.8 211.9 2291.9 213.4 2285.4Z" fill="#8E2020"/>
<path d="M211.1 2308.2C215.3 2297.9 233.1 2301.7 238.4 2308.2C243.8 2314.6 241.9 2332.1 243 2346.9C244.1 2361.7 247.2 2385.7 245.3 2397C243.4 2408.4 235.8 2413.8 231.6 2415.3C227.4 2416.8 223.2 2413.8 220.2 2406.2C217.2 2398.6 214.9 2386 213.4 2369.7C211.9 2353.4 206.9 2318.4 211.1 2308.2Z" fill="#B85A5E" opacity="0.75"/>
<path d="M190.6 2360.6C195.1 2358.3 208.1 2362.1 213.4 2369.7C218.7 2377.3 222.9 2397.8 222.5 2406.2C222.1 2414.5 215.3 2420.6 211.1 2419.8C206.9 2419.1 201.6 2407.7 197.4 2401.6C193.2 2395.5 187.2 2390.2 186 2383.4C184.9 2376.5 186 2362.9 190.6 2360.6Z" fill="#D0646A" opacity="0.7"/>
<path d="M138.2 2346.9C138.9 2342 151.5 2340.5 158.7 2340.1C165.9 2339.7 176.9 2339.7 181.5 2344.6C186 2349.6 187.6 2362.1 186 2369.7C184.5 2377.3 178.4 2386.4 172.4 2390.2C166.3 2394 155.7 2392.9 149.6 2392.5C143.5 2392.1 135.2 2391.7 135.9 2387.9C136.7 2384.1 153.8 2376.5 154.1 2369.7C154.5 2362.9 137.4 2351.9 138.2 2346.9Z" fill="#CFA0C4" opacity="0.55"/>
<path d="M113.1 2451.7C114.1 2447.6 116.2 2442.2 120 2438.1C123.8 2433.9 129.5 2429.5 135.9 2426.7C142.4 2423.8 150.3 2422.5 158.7 2421C167 2419.5 178.4 2418.9 186 2417.6C193.6 2416.2 198.2 2413.4 204.3 2413C210.3 2412.6 215.7 2417.2 222.5 2415.3C229.3 2413.4 240 2406.2 245.3 2401.6C250.6 2397 250.6 2390.2 254.4 2387.9C258.2 2385.7 262 2388.3 268.1 2387.9C274.1 2387.6 284.8 2387.2 290.8 2385.7C296.9 2384.1 300 2381.5 304.5 2378.8C309.1 2376.2 312.9 2373.5 318.2 2369.7C323.5 2365.9 334.1 2355.3 336.4 2356C338.7 2356.8 333.8 2369.7 331.9 2374.3C330 2378.8 322.4 2382.2 325 2383.4C327.7 2384.5 341.3 2380 347.8 2381.1C354.3 2382.2 358.8 2386.8 363.8 2390.2C368.7 2393.6 372.9 2398.9 377.4 2401.6C382 2404.3 386.5 2403.5 391.1 2406.2C395.6 2408.8 401.3 2413.4 404.8 2417.6C408.2 2421.7 409.3 2426.3 411.6 2431.2C413.9 2436.2 416.9 2441.5 418.4 2447.2C420 2452.9 421.1 2459.7 420.7 2465.4C420.3 2471.1 419.6 2476.4 416.2 2481.3C412.7 2486.3 406.7 2491.8 400.2 2495C393.8 2498.2 385 2500 377.4 2500.7C369.8 2501.5 362.2 2501.3 354.6 2499.6C347 2497.9 337.9 2494.6 331.9 2490.5C325.8 2486.3 322 2480.2 318.2 2474.5C314.4 2468.8 312.5 2460.8 309.1 2456.3C305.7 2451.7 301.5 2449.5 297.7 2447.2C293.9 2444.9 291.2 2443 286.3 2442.6C281.3 2442.2 273.4 2443.8 268.1 2444.9C262.7 2446 258.9 2447.2 254.4 2449.5C249.8 2451.7 246 2455.5 240.7 2458.6C235.4 2461.6 228.6 2465 222.5 2467.7C216.4 2470.3 209.6 2472.2 204.3 2474.5C198.9 2476.8 195.9 2479.1 190.6 2481.3C185.3 2483.6 178.4 2486.9 172.4 2488.2C166.3 2489.5 160.2 2490.1 154.1 2489.3C148.1 2488.6 141.2 2486.1 135.9 2483.6C130.6 2481.2 125.8 2477.9 122.2 2474.5C118.6 2471.1 115.8 2466.9 114.3 2463.1C112.7 2459.3 112.2 2455.9 113.1 2451.7Z" fill="#F5B56C"/>
<path d="M339.8 2351.5C342.1 2346.9 345.3 2337.8 350.1 2333.3C354.8 2328.7 362.2 2325.8 368.3 2324.1C374.4 2322.4 381.2 2322.2 386.5 2323C391.9 2323.8 396.6 2325.5 400.2 2328.7C403.8 2331.9 407 2337.4 408.2 2342.4C409.3 2347.3 408.8 2353.4 407 2358.3C405.3 2363.2 402.1 2368.4 397.9 2372C393.8 2375.6 387.7 2378.2 382 2380C376.3 2381.7 369.4 2382 363.8 2382.2C358.1 2382.4 352.4 2382.4 347.8 2381.1C343.2 2379.8 338.3 2377.7 336.4 2374.3C334.5 2370.8 335.8 2364.4 336.4 2360.6C337 2356.8 337.6 2356 339.8 2351.5Z" fill="#2A85B0"/>
<path d="M256.7 2451.7C258.4 2448.5 263.9 2447.2 268.1 2446C272.2 2444.9 277.9 2443.9 281.7 2444.9C285.5 2445.8 288.9 2447.6 290.8 2451.7C292.7 2455.9 293.1 2464.3 293.1 2470C293.1 2475.7 292.4 2481.3 290.8 2485.9C289.3 2490.5 286.7 2494.8 284 2497.3C281.3 2499.8 277.9 2501.5 274.9 2500.7C271.9 2500 268.2 2496.3 265.8 2492.7C263.3 2489.1 261.4 2483.6 260.1 2479.1C258.8 2474.5 258.4 2470 257.8 2465.4C257.2 2460.8 255 2455 256.7 2451.7Z" fill="#2A85B0"/>
<path d="M290.8 2392.5C297.7 2383.4 306 2379.6 313.6 2374.3C321.2 2368.9 331.9 2359.8 336.4 2360.6C341 2361.4 344.8 2372.7 341 2378.8C337.2 2384.9 321.2 2390.2 313.6 2397C306 2403.9 300.7 2413 295.4 2419.8C290.1 2426.7 285.5 2436.5 281.7 2438.1C277.9 2439.6 271.1 2436.5 272.6 2428.9C274.1 2421.3 284 2401.6 290.8 2392.5Z" fill="#8FA9B5" opacity="0.55"/>
<path d="M240.7 2451.7C243 2446.8 255.5 2439.6 258.9 2444.9C262.4 2450.2 263.5 2478.7 261.2 2483.6C258.9 2488.6 248.7 2479.8 245.3 2474.5C241.9 2469.2 238.4 2456.7 240.7 2451.7Z" fill="#B9C4CC" opacity="0.6"/>
<path d="M293.1 2264.9C295.4 2259.2 300.7 2254.5 304.5 2251.2C308.3 2248 311.3 2245.5 315.9 2245.5C320.5 2245.5 326.2 2248 331.9 2251.2C337.6 2254.5 344.4 2260 350.1 2264.9C355.8 2269.8 362.9 2276.1 366 2280.8C369.1 2285.6 369.5 2288.4 368.8 2293.4C368 2298.3 365 2304.6 361.5 2310.5C358 2316.4 352 2321.9 347.8 2328.7C343.6 2335.5 340.2 2345 336.4 2351.5C332.6 2357.9 330.7 2362.9 325 2367.4C319.3 2372 309.4 2376 302.2 2378.8C295 2381.7 288.2 2383.4 281.7 2384.5C275.3 2385.7 268.1 2388.1 263.5 2385.7C258.9 2383.2 253.6 2376.2 254.4 2369.7C255.1 2363.2 263.5 2353.8 268.1 2346.9C272.6 2340.1 278.1 2335.1 281.7 2328.7C285.3 2322.2 288.2 2315.4 289.7 2308.2C291.2 2301 290.3 2292.6 290.8 2285.4C291.4 2278.2 290.8 2270.6 293.1 2264.9Z" fill="#D2646A"/>
<path d="M293.1 2264.9C295.4 2258.4 300.7 2254.5 304.5 2251.2C308.3 2248 312.5 2245.7 315.9 2245.5C319.3 2245.3 324.6 2245.3 325 2250.1C325.4 2254.8 321.6 2265.5 318.2 2274C314.8 2282.6 308.7 2293.8 304.5 2301.4C300.3 2308.9 295.4 2321.5 293.1 2319.6C290.8 2317.7 290.8 2299.1 290.8 2290C290.8 2280.8 290.8 2271.4 293.1 2264.9Z" fill="#E24545" opacity="0.7"/>
<path d="M258.9 2367.4C263.3 2364 272.6 2360.6 281.7 2356C290.8 2351.5 303.8 2345.4 313.6 2340.1C323.5 2334.8 337.2 2322.2 341 2324.1C344.8 2326 339.1 2344.3 336.4 2351.5C333.8 2358.7 330.7 2362.9 325 2367.4C319.3 2372 309.4 2376 302.2 2378.8C295 2381.7 288.2 2383.4 281.7 2384.5C275.3 2385.7 267.9 2387 263.5 2385.7C259.1 2384.3 256.3 2379.6 255.5 2376.5C254.8 2373.5 254.6 2370.8 258.9 2367.4Z" fill="#A9363C" opacity="0.7"/>
<path d="M318.2 2278.6C323.9 2274 340.6 2274.8 347.8 2278.6C355 2282.4 361.5 2293.8 361.5 2301.4C361.5 2308.9 353.9 2319.6 347.8 2324.1C341.7 2328.7 330.7 2331.7 325 2328.7C319.3 2325.7 314.8 2314.3 313.6 2305.9C312.5 2297.6 312.5 2283.1 318.2 2278.6Z" fill="#DB8088" opacity="0.6"/>
</g></g></g>
<circle cx="801.6" cy="2521.3" r="4.3" fill="#E1812C"/>
<text x="813.5" y="2527.6" font-size="19.2">Dorsal telencephalon</text>
<circle cx="801.6" cy="2540.8" r="4.3" fill="#2A85B0"/>
<text x="813.5" y="2547.1" font-size="19.2">Ventral telencephlon</text>
<circle cx="801.6" cy="2560.2" r="4.3" fill="#E8436A"/>
<text x="813.5" y="2566.5" font-size="19.2">Hypothalamus</text>
<circle cx="801.6" cy="2579.7" r="4.3" fill="#8E1B1B"/>
<text x="813.5" y="2586" font-size="19.2">Thalamus</text>
<circle cx="801.6" cy="2599.2" r="4.3" fill="#5DC3BD"/>
<text x="813.5" y="2605.5" font-size="19.2">Dorsal midbrain</text>
<circle cx="801.6" cy="2618.7" r="4.3" fill="#9A4F9C"/>
<text x="813.5" y="2625" font-size="19.2">Ventral midbrain</text>
<circle cx="801.6" cy="2638.1" r="4.3" fill="#E8272A"/>
<text x="813.5" y="2644.4" font-size="19.2">Cerebellum</text>
<circle cx="801.6" cy="2657.6" r="4.3" fill="#CE6DAE"/>
<text x="813.5" y="2663.9" font-size="19.2">Pons</text>
<circle cx="801.6" cy="2677.1" r="4.3" fill="#D9837C"/>
<text x="813.5" y="2683.4" font-size="19.2">Medulla</text>
<circle cx="801.6" cy="2696.5" r="4.3" fill="#D3D3D3"/>
<text x="813.5" y="2702.8" font-size="19.2">Unspecific</text>
<text x="1040" y="2220" font-size="26" font-weight="bold">f</text>
<text x="1251.5" y="2211.5" font-size="19.2" text-anchor="middle" font-weight="bold">Patterning reproducibility screen</text>
<text x="1253.5" y="2234.5" font-size="19.2" text-anchor="middle" font-weight="bold">Dual SMAD</text>
<text x="1565.5" y="2211.5" font-size="19.2" text-anchor="middle" font-weight="bold">Patterning reproducibility screen</text>
<text x="1567.5" y="2234.5" font-size="19.2" text-anchor="middle" font-weight="bold">Minimal NIM</text>
<text x="1805.5" y="2211.5" font-size="19.2" text-anchor="middle" font-weight="bold">Patterning</text>
<text x="1805.5" y="2234.5" font-size="19.2" text-anchor="middle" font-weight="bold">condition screen</text>
<text x="1094" y="2339.5" font-size="27" text-anchor="middle" font-weight="bold">Control</text>
<text x="1095.5" y="2616.5" font-size="27" text-anchor="middle" font-weight="bold">Treatment</text>
<text x="1082.5" y="2417" font-size="19.2" text-anchor="middle">Max</text>
<text x="1082.5" y="2436.4" font-size="19.2" text-anchor="middle">presence</text>
<text x="1082.5" y="2455.8" font-size="19.2" text-anchor="middle">score</text>
<defs><linearGradient id="mp"><stop offset="0" stop-color="#DADADA"/><stop offset="0.12" stop-color="#FBDDB3"/><stop offset="0.5" stop-color="#E8935F"/><stop offset="1" stop-color="#A43A24"/></linearGradient></defs>
<rect x="1039.8" y="2463.8" width="86.2" height="19.8" fill="url(#mp)"/>
<text x="1023" y="2480.5" font-size="19.2" text-anchor="middle">0</text>
<text x="1143" y="2480.5" font-size="19.2" text-anchor="middle">1</text>
<g transform="translate(1159.5 2246.5) scale(0.652 0.578) translate(-72 -2247)">
<use href="#sil" fill="#D7D7D7"/>
<g clip-path="url(#clipsil)">
<path d="M159 2349.3C161.9 2340.8 214.1 2340.8 228.6 2349.3C243.1 2357.8 248.9 2391.9 246 2400.4C243.1 2409 225.7 2409 211.2 2400.4C196.7 2391.9 156.1 2357.8 159 2349.3Z" fill="#F0B68A" stroke="#F0B68A" stroke-width="12.3" stroke-linecap="round" stroke-linejoin="round" opacity="0.5" filter="url(#b6)"/>
<path d="M214.7 2366.3C224.2 2365.5 254.7 2365.8 272.1 2361.2C289.5 2356.7 304 2351.3 319.1 2339.1C334.2 2326.9 355.3 2296.4 362.6 2287.9" fill="none" stroke="#F0B68A" stroke-width="12.7" stroke-linecap="round" stroke-linejoin="round" opacity="0.7" filter="url(#b6)"/>
<path d="M214.7 2366.3C224.2 2365.5 254.7 2365.8 272.1 2361.2C289.5 2356.7 304 2351.3 319.1 2339.1C334.2 2326.9 355.3 2296.4 362.6 2287.9" fill="none" stroke="#C9673F" stroke-width="5.1" stroke-linecap="round" stroke-linejoin="round" opacity="0.9" filter="url(#b3)"/>
<path d="M214.7 2366.3C224.2 2365.5 254.7 2365.8 272.1 2361.2C289.5 2356.7 304 2351.3 319.1 2339.1C334.2 2326.9 355.3 2296.4 362.6 2287.9" fill="none" stroke="#A33A22" stroke-width="2" stroke-linecap="round" stroke-linejoin="round" opacity="1" filter="url(#b2)"/>
<path d="M301.7 2349.3C302.8 2344.8 326 2330.5 329.5 2332.2C333 2334 327.2 2356.7 322.6 2359.5C317.9 2362.4 300.5 2353.8 301.7 2349.3Z" fill="#F0B68A" stroke="#F0B68A" stroke-width="19.3" stroke-linecap="round" stroke-linejoin="round" opacity="0.7" filter="url(#b6)"/>
<path d="M301.7 2349.3C302.8 2344.8 326 2330.5 329.5 2332.2C333 2334 327.2 2356.7 322.6 2359.5C317.9 2362.4 300.5 2353.8 301.7 2349.3Z" fill="#C9673F" stroke="#C9673F" stroke-width="11.5" stroke-linecap="round" stroke-linejoin="round" opacity="0.9" filter="url(#b3)"/>
<path d="M350.4 2298.2C352.4 2295.9 360.6 2286.8 362.6 2284.5" fill="none" stroke="#F0B68A" stroke-width="19.3" stroke-linecap="round" stroke-linejoin="round" opacity="0.7" filter="url(#b6)"/>
<path d="M350.4 2298.2C352.4 2295.9 360.6 2286.8 362.6 2284.5" fill="none" stroke="#C9673F" stroke-width="9.2" stroke-linecap="round" stroke-linejoin="round" opacity="0.9" filter="url(#b3)"/>
<path d="M350.4 2298.2C352.4 2295.9 360.6 2286.8 362.6 2284.5" fill="none" stroke="#A33A22" stroke-width="4.9" stroke-linecap="round" stroke-linejoin="round" opacity="1" filter="url(#b2)"/>
<path d="M110.3 2378.3C118.4 2377.7 141.6 2376.3 159 2374.9C176.4 2373.5 205.4 2370.6 214.7 2369.8" fill="none" stroke="#F0B68A" stroke-width="45.1" stroke-linecap="round" stroke-linejoin="round" opacity="0.7" filter="url(#b6)"/>
<path d="M110.3 2378.3C118.4 2377.7 141.6 2376.3 159 2374.9C176.4 2373.5 205.4 2370.6 214.7 2369.8" fill="none" stroke="#C9673F" stroke-width="25.3" stroke-linecap="round" stroke-linejoin="round" opacity="0.9" filter="url(#b3)"/>
<path d="M110.3 2378.3C118.4 2377.7 141.6 2376.3 159 2374.9C176.4 2373.5 205.4 2370.6 214.7 2369.8" fill="none" stroke="#A33A22" stroke-width="16.9" stroke-linecap="round" stroke-linejoin="round" opacity="1" filter="url(#b2)"/>
<path d="M138.1 2337.4C144.5 2339.9 163.6 2347.9 176.4 2352.7C189.2 2357.5 208.3 2364.1 214.7 2366.3" fill="none" stroke="#F0B68A" stroke-width="19.3" stroke-linecap="round" stroke-linejoin="round" opacity="0.7" filter="url(#b6)"/>
<path d="M138.1 2337.4C144.5 2339.9 163.6 2347.9 176.4 2352.7C189.2 2357.5 208.3 2364.1 214.7 2366.3" fill="none" stroke="#C9673F" stroke-width="9.2" stroke-linecap="round" stroke-linejoin="round" opacity="0.9" filter="url(#b3)"/>
<path d="M138.1 2337.4C144.5 2339.9 163.6 2347.9 176.4 2352.7C189.2 2357.5 208.3 2364.1 214.7 2366.3" fill="none" stroke="#A33A22" stroke-width="6.1" stroke-linecap="round" stroke-linejoin="round" opacity="1" filter="url(#b2)"/>
<path d="M214.7 2362.9C218.7 2370.3 229.5 2390.8 239 2407.3C248.6 2423.8 266.6 2452.7 272.1 2461.8" fill="none" stroke="#F0B68A" stroke-width="24.8" stroke-linecap="round" stroke-linejoin="round" opacity="0.7" filter="url(#b6)"/>
<path d="M214.7 2362.9C218.7 2370.3 229.5 2390.8 239 2407.3C248.6 2423.8 266.6 2452.7 272.1 2461.8" fill="none" stroke="#C9673F" stroke-width="12.7" stroke-linecap="round" stroke-linejoin="round" opacity="0.9" filter="url(#b3)"/>
<path d="M214.7 2362.9C218.7 2370.3 229.5 2390.8 239 2407.3C248.6 2423.8 266.6 2452.7 272.1 2461.8" fill="none" stroke="#A33A22" stroke-width="8.4" stroke-linecap="round" stroke-linejoin="round" opacity="1" filter="url(#b2)"/>
<path d="M197.3 2359.5C201.9 2362.4 220.5 2373.7 225.1 2376.6" fill="none" stroke="#F0B68A" stroke-width="34" stroke-linecap="round" stroke-linejoin="round" opacity="0.7" filter="url(#b6)"/>
<path d="M197.3 2359.5C201.9 2362.4 220.5 2373.7 225.1 2376.6" fill="none" stroke="#C9673F" stroke-width="18.4" stroke-linecap="round" stroke-linejoin="round" opacity="0.9" filter="url(#b3)"/>
<path d="M197.3 2359.5C201.9 2362.4 220.5 2373.7 225.1 2376.6" fill="none" stroke="#A33A22" stroke-width="9.8" stroke-linecap="round" stroke-linejoin="round" opacity="1" filter="url(#b2)"/>
</g></g>
<g transform="translate(1424.5 2246.5) scale(0.652 0.578) translate(-72 -2247)">
<use href="#sil" fill="#D7D7D7"/>
<g clip-path="url(#clipsil)">
<path d="M106.8 2349.3C117.2 2343.6 159 2343.6 176.4 2349.3C193.8 2355 214.1 2375.4 211.2 2383.4C208.3 2391.4 175.2 2397 159 2397C142.8 2397 122.5 2391.4 113.8 2383.4C105.1 2375.4 96.4 2355 106.8 2349.3Z" fill="#F0B68A" stroke="#F0B68A" stroke-width="12.3" stroke-linecap="round" stroke-linejoin="round" opacity="0.5" filter="url(#b6)"/>
<path d="M214.7 2366.3C224.2 2365.5 254.7 2365.8 272.1 2361.2C289.5 2356.7 304 2351.3 319.1 2339.1C334.2 2326.9 355.3 2296.4 362.6 2287.9" fill="none" stroke="#F0B68A" stroke-width="9.9" stroke-linecap="round" stroke-linejoin="round" opacity="0.7" filter="url(#b6)"/>
<path d="M214.7 2366.3C224.2 2365.5 254.7 2365.8 272.1 2361.2C289.5 2356.7 304 2351.3 319.1 2339.1C334.2 2326.9 355.3 2296.4 362.6 2287.9" fill="none" stroke="#C9673F" stroke-width="3.7" stroke-linecap="round" stroke-linejoin="round" opacity="0.9" filter="url(#b3)"/>
<path d="M214.7 2366.3C224.2 2365.5 254.7 2365.8 272.1 2361.2C289.5 2356.7 304 2351.3 319.1 2339.1C334.2 2326.9 355.3 2296.4 362.6 2287.9" fill="none" stroke="#A33A22" stroke-width="1" stroke-linecap="round" stroke-linejoin="round" opacity="1" filter="url(#b2)"/>
<path d="M96.4 2315.2C98.7 2311.2 117.2 2303.3 127.7 2303.3C138.1 2303.3 149.1 2309.2 159 2315.2C168.9 2321.2 178.1 2331.7 186.8 2339.1C195.5 2346.5 212.9 2357.3 211.2 2359.5C209.5 2361.8 188 2356.1 176.4 2352.7C164.8 2349.3 152 2343.3 141.6 2339.1C131.2 2334.8 121.3 2331.1 113.8 2327.1C106.2 2323.2 94 2319.2 96.4 2315.2Z" fill="#F0B68A" stroke="#F0B68A" stroke-width="7.7" stroke-linecap="round" stroke-linejoin="round" opacity="0.9" filter="url(#b6)"/>
<path d="M96.4 2315.2C98.7 2311.2 117.2 2303.3 127.7 2303.3C138.1 2303.3 149.1 2309.2 159 2315.2C168.9 2321.2 178.1 2331.7 186.8 2339.1C195.5 2346.5 212.9 2357.3 211.2 2359.5C209.5 2361.8 188 2356.1 176.4 2352.7C164.8 2349.3 152 2343.3 141.6 2339.1C131.2 2334.8 121.3 2331.1 113.8 2327.1C106.2 2323.2 94 2319.2 96.4 2315.2Z" fill="#C9673F" stroke="#C9673F" stroke-width="3.1" stroke-linecap="round" stroke-linejoin="round" opacity="0.6" filter="url(#b3)"/>
<path d="M113.8 2315.2C115.5 2312.4 127.1 2308.7 134.6 2310.1C142.2 2311.5 152 2318.9 159 2323.7C166 2328.6 178.1 2337 176.4 2339.1C174.7 2341.2 157.3 2338.3 148.6 2336.3C139.9 2334.4 130 2330.7 124.2 2327.1C118.4 2323.6 112 2318 113.8 2315.2Z" fill="#A33A22" stroke="#A33A22" stroke-width="4.6" stroke-linecap="round" stroke-linejoin="round" opacity="1" filter="url(#b2)"/>
<path d="M159 2359.5C168.3 2361.8 205.4 2370.9 214.7 2373.2" fill="none" stroke="#F0B68A" stroke-width="15.6" stroke-linecap="round" stroke-linejoin="round" opacity="0.7" filter="url(#b6)"/>
<path d="M159 2359.5C168.3 2361.8 205.4 2370.9 214.7 2373.2" fill="none" stroke="#C9673F" stroke-width="6.9" stroke-linecap="round" stroke-linejoin="round" opacity="0.9" filter="url(#b3)"/>
<path d="M159 2359.5C168.3 2361.8 205.4 2370.9 214.7 2373.2" fill="none" stroke="#A33A22" stroke-width="2.8" stroke-linecap="round" stroke-linejoin="round" opacity="1" filter="url(#b2)"/>
<path d="M214.7 2362.9C218.7 2370.3 229.5 2390.8 239 2407.3C248.6 2423.8 266.6 2452.7 272.1 2461.8" fill="none" stroke="#F0B68A" stroke-width="23" stroke-linecap="round" stroke-linejoin="round" opacity="0.7" filter="url(#b6)"/>
<path d="M214.7 2362.9C218.7 2370.3 229.5 2390.8 239 2407.3C248.6 2423.8 266.6 2452.7 272.1 2461.8" fill="none" stroke="#C9673F" stroke-width="11.5" stroke-linecap="round" stroke-linejoin="round" opacity="0.9" filter="url(#b3)"/>
<path d="M214.7 2362.9C218.7 2370.3 229.5 2390.8 239 2407.3C248.6 2423.8 266.6 2452.7 272.1 2461.8" fill="none" stroke="#A33A22" stroke-width="7.7" stroke-linecap="round" stroke-linejoin="round" opacity="1" filter="url(#b2)"/>
<path d="M200.8 2345.9C204.8 2351.6 221.1 2374.3 225.1 2380" fill="none" stroke="#F0B68A" stroke-width="34" stroke-linecap="round" stroke-linejoin="round" opacity="0.7" filter="url(#b6)"/>
<path d="M200.8 2345.9C204.8 2351.6 221.1 2374.3 225.1 2380" fill="none" stroke="#C9673F" stroke-width="18.4" stroke-linecap="round" stroke-linejoin="round" opacity="0.9" filter="url(#b3)"/>
<path d="M200.8 2345.9C204.8 2351.6 221.1 2374.3 225.1 2380" fill="none" stroke="#A33A22" stroke-width="9.8" stroke-linecap="round" stroke-linejoin="round" opacity="1" filter="url(#b2)"/>
<path d="M125.9 2386.8C128 2387.7 136.1 2391.1 138.1 2391.9" fill="none" stroke="#F0B68A" stroke-width="13.8" stroke-linecap="round" stroke-linejoin="round" opacity="0.7" filter="url(#b6)"/>
<path d="M125.9 2386.8C128 2387.7 136.1 2391.1 138.1 2391.9" fill="none" stroke="#C9673F" stroke-width="5.8" stroke-linecap="round" stroke-linejoin="round" opacity="0.9" filter="url(#b3)"/>
<path d="M125.9 2386.8C128 2387.7 136.1 2391.1 138.1 2391.9" fill="none" stroke="#A33A22" stroke-width="3.8" stroke-linecap="round" stroke-linejoin="round" opacity="1" filter="url(#b2)"/>
</g></g>
<g transform="translate(1689.5 2246.5) scale(0.652 0.578) translate(-72 -2247)">
<use href="#sil" fill="#D7D7D7"/>
<g clip-path="url(#clipsil)">
<path d="M124.2 2349.3C138.1 2335.7 200.8 2324.3 218.2 2335.7C235.6 2347 234.4 2398.2 228.6 2417.5C222.8 2436.8 199 2451.6 183.4 2451.6C167.7 2451.6 144.5 2434.6 134.6 2417.5C124.8 2400.4 110.3 2362.9 124.2 2349.3Z" fill="#F0B68A" stroke="#F0B68A" stroke-width="15.3" stroke-linecap="round" stroke-linejoin="round" opacity="0.6" filter="url(#b6)"/>
<path d="M92.9 2311.8C94.6 2303.3 118.4 2297.6 131.2 2298.2C143.9 2298.7 161.9 2306.7 169.4 2315.2C177 2323.7 179.9 2339.1 176.4 2349.3C172.9 2359.5 157.8 2376.6 148.6 2376.6C139.3 2376.6 130 2360.1 120.7 2349.3C111.4 2338.5 91.1 2320.3 92.9 2311.8Z" fill="#F0B68A" stroke="#F0B68A" stroke-width="30.4" stroke-linecap="round" stroke-linejoin="round" opacity="0.7" filter="url(#b6)"/>
<path d="M92.9 2311.8C94.6 2303.3 118.4 2297.6 131.2 2298.2C143.9 2298.7 161.9 2306.7 169.4 2315.2C177 2323.7 179.9 2339.1 176.4 2349.3C172.9 2359.5 157.8 2376.6 148.6 2376.6C139.3 2376.6 130 2360.1 120.7 2349.3C111.4 2338.5 91.1 2320.3 92.9 2311.8Z" fill="#C9673F" stroke="#C9673F" stroke-width="16.1" stroke-linecap="round" stroke-linejoin="round" opacity="0.9" filter="url(#b3)"/>
<path d="M92.9 2311.8C94.6 2303.3 118.4 2297.6 131.2 2298.2C143.9 2298.7 161.9 2306.7 169.4 2315.2C177 2323.7 179.9 2339.1 176.4 2349.3C172.9 2359.5 157.8 2376.6 148.6 2376.6C139.3 2376.6 130 2360.1 120.7 2349.3C111.4 2338.5 91.1 2320.3 92.9 2311.8Z" fill="#A33A22" stroke="#A33A22" stroke-width="12.9" stroke-linecap="round" stroke-linejoin="round" opacity="1" filter="url(#b2)"/>
<path d="M141.6 2383.4C145.7 2387.9 163.1 2402.2 166 2410.7C168.9 2419.2 160.2 2430.6 159 2434.6" fill="none" stroke="#F0B68A" stroke-width="28.2" stroke-linecap="round" stroke-linejoin="round" opacity="0.7" filter="url(#b6)"/>
<path d="M141.6 2383.4C145.7 2387.9 163.1 2402.2 166 2410.7C168.9 2419.2 160.2 2430.6 159 2434.6" fill="none" stroke="#C9673F" stroke-width="18.4" stroke-linecap="round" stroke-linejoin="round" opacity="0.9" filter="url(#b3)"/>
<path d="M77.2 2322C78.1 2330 77.5 2357.3 82.4 2369.8C87.4 2382.3 96.9 2393.1 106.8 2397C116.7 2401 135.8 2394.2 141.6 2393.6" fill="none" stroke="#F0B68A" stroke-width="9.4" stroke-linecap="round" stroke-linejoin="round" opacity="0.7" filter="url(#b6)"/>
<path d="M77.2 2322C78.1 2330 77.5 2357.3 82.4 2369.8C87.4 2382.3 96.9 2393.1 106.8 2397C116.7 2401 135.8 2394.2 141.6 2393.6" fill="none" stroke="#C9673F" stroke-width="6" stroke-linecap="round" stroke-linejoin="round" opacity="0.9" filter="url(#b3)"/>
<path d="M77.2 2322C78.1 2330 77.5 2357.3 82.4 2369.8C87.4 2382.3 96.9 2393.1 106.8 2397C116.7 2401 135.8 2394.2 141.6 2393.6" fill="none" stroke="#A33A22" stroke-width="3.2" stroke-linecap="round" stroke-linejoin="round" opacity="1" filter="url(#b2)"/>
<path d="M226.9 2274.3C225.7 2283.9 220.8 2312.4 219.9 2332.2C219 2352.1 221.3 2383.4 221.6 2393.6" fill="none" stroke="#F0B68A" stroke-width="26.7" stroke-linecap="round" stroke-linejoin="round" opacity="0.7" filter="url(#b6)"/>
<path d="M226.9 2274.3C225.7 2283.9 220.8 2312.4 219.9 2332.2C219 2352.1 221.3 2383.4 221.6 2393.6" fill="none" stroke="#C9673F" stroke-width="13.8" stroke-linecap="round" stroke-linejoin="round" opacity="0.9" filter="url(#b3)"/>
<path d="M226.9 2274.3C225.7 2283.9 220.8 2312.4 219.9 2332.2C219 2352.1 221.3 2383.4 221.6 2393.6" fill="none" stroke="#A33A22" stroke-width="5.5" stroke-linecap="round" stroke-linejoin="round" opacity="1" filter="url(#b2)"/>
<path d="M214.7 2362.9C218.7 2370.3 229.5 2390.8 239 2407.3C248.6 2423.8 266.6 2452.7 272.1 2461.8" fill="none" stroke="#F0B68A" stroke-width="24.8" stroke-linecap="round" stroke-linejoin="round" opacity="0.7" filter="url(#b6)"/>
<path d="M214.7 2362.9C218.7 2370.3 229.5 2390.8 239 2407.3C248.6 2423.8 266.6 2452.7 272.1 2461.8" fill="none" stroke="#C9673F" stroke-width="12.7" stroke-linecap="round" stroke-linejoin="round" opacity="0.9" filter="url(#b3)"/>
<path d="M214.7 2362.9C218.7 2370.3 229.5 2390.8 239 2407.3C248.6 2423.8 266.6 2452.7 272.1 2461.8" fill="none" stroke="#A33A22" stroke-width="8.4" stroke-linecap="round" stroke-linejoin="round" opacity="1" filter="url(#b2)"/>
<path d="M353.9 2281.1C348.7 2286.2 333.3 2301 322.6 2311.8C311.8 2322.6 295 2340.2 289.5 2345.9" fill="none" stroke="#F0B68A" stroke-width="30.4" stroke-linecap="round" stroke-linejoin="round" opacity="0.7" filter="url(#b6)"/>
<path d="M353.9 2281.1C348.7 2286.2 333.3 2301 322.6 2311.8C311.8 2322.6 295 2340.2 289.5 2345.9" fill="none" stroke="#C9673F" stroke-width="16.1" stroke-linecap="round" stroke-linejoin="round" opacity="0.9" filter="url(#b3)"/>
<path d="M353.9 2281.1C348.7 2286.2 333.3 2301 322.6 2311.8C311.8 2322.6 295 2340.2 289.5 2345.9" fill="none" stroke="#A33A22" stroke-width="6.4" stroke-linecap="round" stroke-linejoin="round" opacity="1" filter="url(#b2)"/>
<path d="M280.8 2369.8C286.6 2368.1 309.8 2361.2 315.6 2359.5" fill="none" stroke="#F0B68A" stroke-width="13.4" stroke-linecap="round" stroke-linejoin="round" opacity="0.7" filter="url(#b6)"/>
<path d="M280.8 2369.8C286.6 2368.1 309.8 2361.2 315.6 2359.5" fill="none" stroke="#C9673F" stroke-width="6.9" stroke-linecap="round" stroke-linejoin="round" opacity="0.9" filter="url(#b3)"/>
<path d="M221.6 2393.6C228.6 2391.9 252.4 2387.4 263.4 2383.4C274.4 2379.4 283.7 2372 287.8 2369.8" fill="none" stroke="#F0B68A" stroke-width="7.9" stroke-linecap="round" stroke-linejoin="round" opacity="0.7" filter="url(#b6)"/>
<path d="M221.6 2393.6C228.6 2391.9 252.4 2387.4 263.4 2383.4C274.4 2379.4 283.7 2372 287.8 2369.8" fill="none" stroke="#C9673F" stroke-width="3.5" stroke-linecap="round" stroke-linejoin="round" opacity="0.9" filter="url(#b3)"/>
<path d="M221.6 2393.6C228.6 2391.9 252.4 2387.4 263.4 2383.4C274.4 2379.4 283.7 2372 287.8 2369.8" fill="none" stroke="#A33A22" stroke-width="1.6" stroke-linecap="round" stroke-linejoin="round" opacity="1" filter="url(#b2)"/>
</g></g>
<g transform="translate(1159.5 2508) scale(0.652 0.578) translate(-72 -2247)">
<use href="#sil" fill="#D7D7D7"/>
<g clip-path="url(#clipsil)">
<path d="M141.6 2332.2C159 2320.9 208.3 2320.9 228.6 2332.2C248.9 2343.6 266.3 2386.2 263.4 2400.4C260.5 2414.7 234.4 2417.5 211.2 2417.5C188 2417.5 135.8 2414.7 124.2 2400.4C112.6 2386.2 124.2 2343.6 141.6 2332.2Z" fill="#F0B68A" stroke="#F0B68A" stroke-width="12.3" stroke-linecap="round" stroke-linejoin="round" opacity="0.6" filter="url(#b6)"/>
<path d="M214.7 2366.3C224.2 2365.5 254.7 2365.8 272.1 2361.2C289.5 2356.7 304 2351.3 319.1 2339.1C334.2 2326.9 355.3 2296.4 362.6 2287.9" fill="none" stroke="#F0B68A" stroke-width="23" stroke-linecap="round" stroke-linejoin="round" opacity="0.7" filter="url(#b6)"/>
<path d="M214.7 2366.3C224.2 2365.5 254.7 2365.8 272.1 2361.2C289.5 2356.7 304 2351.3 319.1 2339.1C334.2 2326.9 355.3 2296.4 362.6 2287.9" fill="none" stroke="#C9673F" stroke-width="11.5" stroke-linecap="round" stroke-linejoin="round" opacity="0.9" filter="url(#b3)"/>
<path d="M214.7 2366.3C224.2 2365.5 254.7 2365.8 272.1 2361.2C289.5 2356.7 304 2351.3 319.1 2339.1C334.2 2326.9 355.3 2296.4 362.6 2287.9" fill="none" stroke="#A33A22" stroke-width="3.8" stroke-linecap="round" stroke-linejoin="round" opacity="1" filter="url(#b2)"/>
<path d="M280.8 2359.5C287.8 2353.8 309.8 2336.8 322.6 2325.4C335.3 2314.1 351.6 2297 357.4 2291.3" fill="none" stroke="#F0B68A" stroke-width="34" stroke-linecap="round" stroke-linejoin="round" opacity="0.7" filter="url(#b6)"/>
<path d="M280.8 2359.5C287.8 2353.8 309.8 2336.8 322.6 2325.4C335.3 2314.1 351.6 2297 357.4 2291.3" fill="none" stroke="#C9673F" stroke-width="18.4" stroke-linecap="round" stroke-linejoin="round" opacity="0.9" filter="url(#b3)"/>
<path d="M280.8 2359.5C287.8 2353.8 309.8 2336.8 322.6 2325.4C335.3 2314.1 351.6 2297 357.4 2291.3" fill="none" stroke="#A33A22" stroke-width="5.5" stroke-linecap="round" stroke-linejoin="round" opacity="1" filter="url(#b2)"/>
<path d="M77.2 2322C78.1 2330 77.5 2357.3 82.4 2369.8C87.4 2382.3 96.9 2393.1 106.8 2397C116.7 2401 135.8 2394.2 141.6 2393.6" fill="none" stroke="#F0B68A" stroke-width="8.7" stroke-linecap="round" stroke-linejoin="round" opacity="0.7" filter="url(#b6)"/>
<path d="M77.2 2322C78.1 2330 77.5 2357.3 82.4 2369.8C87.4 2382.3 96.9 2393.1 106.8 2397C116.7 2401 135.8 2394.2 141.6 2393.6" fill="none" stroke="#C9673F" stroke-width="5.1" stroke-linecap="round" stroke-linejoin="round" opacity="0.9" filter="url(#b3)"/>
<path d="M77.2 2322C78.1 2330 77.5 2357.3 82.4 2369.8C87.4 2382.3 96.9 2393.1 106.8 2397C116.7 2401 135.8 2394.2 141.6 2393.6" fill="none" stroke="#A33A22" stroke-width="2" stroke-linecap="round" stroke-linejoin="round" opacity="1" filter="url(#b2)"/>
<path d="M110.3 2380C118.4 2379.7 140.4 2379.4 159 2378.3C177.6 2377.1 211.2 2374 221.6 2373.2" fill="none" stroke="#F0B68A" stroke-width="59.8" stroke-linecap="round" stroke-linejoin="round" opacity="0.7" filter="url(#b6)"/>
<path d="M110.3 2380C118.4 2379.7 140.4 2379.4 159 2378.3C177.6 2377.1 211.2 2374 221.6 2373.2" fill="none" stroke="#C9673F" stroke-width="34.5" stroke-linecap="round" stroke-linejoin="round" opacity="0.9" filter="url(#b3)"/>
<path d="M110.3 2380C118.4 2379.7 140.4 2379.4 159 2378.3C177.6 2377.1 211.2 2374 221.6 2373.2" fill="none" stroke="#A33A22" stroke-width="23" stroke-linecap="round" stroke-linejoin="round" opacity="1" filter="url(#b2)"/>
<path d="M131.2 2337.4C137.5 2339.9 156.1 2347.9 169.4 2352.7C182.8 2357.5 204.2 2364.1 211.2 2366.3" fill="none" stroke="#F0B68A" stroke-width="26.7" stroke-linecap="round" stroke-linejoin="round" opacity="0.7" filter="url(#b6)"/>
<path d="M131.2 2337.4C137.5 2339.9 156.1 2347.9 169.4 2352.7C182.8 2357.5 204.2 2364.1 211.2 2366.3" fill="none" stroke="#C9673F" stroke-width="13.8" stroke-linecap="round" stroke-linejoin="round" opacity="0.9" filter="url(#b3)"/>
<path d="M131.2 2337.4C137.5 2339.9 156.1 2347.9 169.4 2352.7C182.8 2357.5 204.2 2364.1 211.2 2366.3" fill="none" stroke="#A33A22" stroke-width="9.2" stroke-linecap="round" stroke-linejoin="round" opacity="1" filter="url(#b2)"/>
<path d="M214.7 2362.9C218.7 2370.3 229.5 2390.8 239 2407.3C248.6 2423.8 266.6 2452.7 272.1 2461.8" fill="none" stroke="#F0B68A" stroke-width="26.7" stroke-linecap="round" stroke-linejoin="round" opacity="0.7" filter="url(#b6)"/>
<path d="M214.7 2362.9C218.7 2370.3 229.5 2390.8 239 2407.3C248.6 2423.8 266.6 2452.7 272.1 2461.8" fill="none" stroke="#C9673F" stroke-width="13.8" stroke-linecap="round" stroke-linejoin="round" opacity="0.9" filter="url(#b3)"/>
<path d="M214.7 2362.9C218.7 2370.3 229.5 2390.8 239 2407.3C248.6 2423.8 266.6 2452.7 272.1 2461.8" fill="none" stroke="#A33A22" stroke-width="9.2" stroke-linecap="round" stroke-linejoin="round" opacity="1" filter="url(#b2)"/>
</g></g>
<g transform="translate(1424.5 2508) scale(0.652 0.578) translate(-72 -2247)">
<use href="#sil" fill="#D7D7D7"/>
<g clip-path="url(#clipsil)">
<path d="M106.8 2332.2C124.2 2320.9 202.5 2320.9 228.6 2332.2C254.7 2343.6 266.3 2386.2 263.4 2400.4C260.5 2414.7 234.4 2417.5 211.2 2417.5C188 2417.5 141.6 2414.7 124.2 2400.4C106.8 2386.2 89.4 2343.6 106.8 2332.2Z" fill="#F0B68A" stroke="#F0B68A" stroke-width="12.3" stroke-linecap="round" stroke-linejoin="round" opacity="0.6" filter="url(#b6)"/>
<path d="M214.7 2366.3C224.2 2365.5 254.7 2365.8 272.1 2361.2C289.5 2356.7 304 2351.3 319.1 2339.1C334.2 2326.9 355.3 2296.4 362.6 2287.9" fill="none" stroke="#F0B68A" stroke-width="21.2" stroke-linecap="round" stroke-linejoin="round" opacity="0.7" filter="url(#b6)"/>
<path d="M214.7 2366.3C224.2 2365.5 254.7 2365.8 272.1 2361.2C289.5 2356.7 304 2351.3 319.1 2339.1C334.2 2326.9 355.3 2296.4 362.6 2287.9" fill="none" stroke="#C9673F" stroke-width="10.4" stroke-linecap="round" stroke-linejoin="round" opacity="0.9" filter="url(#b3)"/>
<path d="M214.7 2366.3C224.2 2365.5 254.7 2365.8 272.1 2361.2C289.5 2356.7 304 2351.3 319.1 2339.1C334.2 2326.9 355.3 2296.4 362.6 2287.9" fill="none" stroke="#A33A22" stroke-width="3.5" stroke-linecap="round" stroke-linejoin="round" opacity="1" filter="url(#b2)"/>
<path d="M280.8 2359.5C287.8 2353.8 309.8 2336.8 322.6 2325.4C335.3 2314.1 351.6 2297 357.4 2291.3" fill="none" stroke="#F0B68A" stroke-width="26.7" stroke-linecap="round" stroke-linejoin="round" opacity="0.7" filter="url(#b6)"/>
<path d="M280.8 2359.5C287.8 2353.8 309.8 2336.8 322.6 2325.4C335.3 2314.1 351.6 2297 357.4 2291.3" fill="none" stroke="#C9673F" stroke-width="13.8" stroke-linecap="round" stroke-linejoin="round" opacity="0.9" filter="url(#b3)"/>
<path d="M280.8 2359.5C287.8 2353.8 309.8 2336.8 322.6 2325.4C335.3 2314.1 351.6 2297 357.4 2291.3" fill="none" stroke="#A33A22" stroke-width="4.1" stroke-linecap="round" stroke-linejoin="round" opacity="1" filter="url(#b2)"/>
<path d="M96.4 2315.2C98.7 2311.2 117.2 2303.3 127.7 2303.3C138.1 2303.3 149.1 2309.2 159 2315.2C168.9 2321.2 178.1 2331.7 186.8 2339.1C195.5 2346.5 212.9 2357.3 211.2 2359.5C209.5 2361.8 188 2356.1 176.4 2352.7C164.8 2349.3 152 2343.3 141.6 2339.1C131.2 2334.8 121.3 2331.1 113.8 2327.1C106.2 2323.2 94 2319.2 96.4 2315.2Z" fill="#F0B68A" stroke="#F0B68A" stroke-width="26.7" stroke-linecap="round" stroke-linejoin="round" opacity="0.7" filter="url(#b6)"/>
<path d="M96.4 2315.2C98.7 2311.2 117.2 2303.3 127.7 2303.3C138.1 2303.3 149.1 2309.2 159 2315.2C168.9 2321.2 178.1 2331.7 186.8 2339.1C195.5 2346.5 212.9 2357.3 211.2 2359.5C209.5 2361.8 188 2356.1 176.4 2352.7C164.8 2349.3 152 2343.3 141.6 2339.1C131.2 2334.8 121.3 2331.1 113.8 2327.1C106.2 2323.2 94 2319.2 96.4 2315.2Z" fill="#C9673F" stroke="#C9673F" stroke-width="13.8" stroke-linecap="round" stroke-linejoin="round" opacity="0.9" filter="url(#b3)"/>
<path d="M96.4 2315.2C98.7 2311.2 117.2 2303.3 127.7 2303.3C138.1 2303.3 149.1 2309.2 159 2315.2C168.9 2321.2 178.1 2331.7 186.8 2339.1C195.5 2346.5 212.9 2357.3 211.2 2359.5C209.5 2361.8 188 2356.1 176.4 2352.7C164.8 2349.3 152 2343.3 141.6 2339.1C131.2 2334.8 121.3 2331.1 113.8 2327.1C106.2 2323.2 94 2319.2 96.4 2315.2Z" fill="#A33A22" stroke="#A33A22" stroke-width="9.2" stroke-linecap="round" stroke-linejoin="round" opacity="1" filter="url(#b2)"/>
<path d="M120.7 2378.3C128.8 2378 152.6 2377.4 169.4 2376.6C186.3 2375.7 212.9 2373.7 221.6 2373.2" fill="none" stroke="#F0B68A" stroke-width="48.8" stroke-linecap="round" stroke-linejoin="round" opacity="0.7" filter="url(#b6)"/>
<path d="M120.7 2378.3C128.8 2378 152.6 2377.4 169.4 2376.6C186.3 2375.7 212.9 2373.7 221.6 2373.2" fill="none" stroke="#C9673F" stroke-width="27.6" stroke-linecap="round" stroke-linejoin="round" opacity="0.9" filter="url(#b3)"/>
<path d="M120.7 2378.3C128.8 2378 152.6 2377.4 169.4 2376.6C186.3 2375.7 212.9 2373.7 221.6 2373.2" fill="none" stroke="#A33A22" stroke-width="18.4" stroke-linecap="round" stroke-linejoin="round" opacity="1" filter="url(#b2)"/>
<path d="M77.2 2322C78.1 2330 77.5 2357.3 82.4 2369.8C87.4 2382.3 96.9 2393.1 106.8 2397C116.7 2401 130 2394.8 141.6 2393.6C153.2 2392.5 170.6 2390.8 176.4 2390.2" fill="none" stroke="#F0B68A" stroke-width="11.2" stroke-linecap="round" stroke-linejoin="round" opacity="0.7" filter="url(#b6)"/>
<path d="M77.2 2322C78.1 2330 77.5 2357.3 82.4 2369.8C87.4 2382.3 96.9 2393.1 106.8 2397C116.7 2401 130 2394.8 141.6 2393.6C153.2 2392.5 170.6 2390.8 176.4 2390.2" fill="none" stroke="#C9673F" stroke-width="8.3" stroke-linecap="round" stroke-linejoin="round" opacity="0.9" filter="url(#b3)"/>
<path d="M77.2 2322C78.1 2330 77.5 2357.3 82.4 2369.8C87.4 2382.3 96.9 2393.1 106.8 2397C116.7 2401 130 2394.8 141.6 2393.6C153.2 2392.5 170.6 2390.8 176.4 2390.2" fill="none" stroke="#A33A22" stroke-width="5.5" stroke-linecap="round" stroke-linejoin="round" opacity="1" filter="url(#b2)"/>
<path d="M214.7 2362.9C218.7 2370.3 229.5 2390.8 239 2407.3C248.6 2423.8 266.6 2452.7 272.1 2461.8" fill="none" stroke="#F0B68A" stroke-width="24.8" stroke-linecap="round" stroke-linejoin="round" opacity="0.7" filter="url(#b6)"/>
<path d="M214.7 2362.9C218.7 2370.3 229.5 2390.8 239 2407.3C248.6 2423.8 266.6 2452.7 272.1 2461.8" fill="none" stroke="#C9673F" stroke-width="12.7" stroke-linecap="round" stroke-linejoin="round" opacity="0.9" filter="url(#b3)"/>
<path d="M214.7 2362.9C218.7 2370.3 229.5 2390.8 239 2407.3C248.6 2423.8 266.6 2452.7 272.1 2461.8" fill="none" stroke="#A33A22" stroke-width="8.4" stroke-linecap="round" stroke-linejoin="round" opacity="1" filter="url(#b2)"/>
</g></g>
<g transform="translate(1689.5 2508) scale(0.652 0.578) translate(-72 -2247)">
<use href="#sil" fill="#D7D7D7"/>
<g clip-path="url(#clipsil)">
<path d="M106.8 2298.2C128.8 2281.1 219.9 2261.2 246 2281.1C272.1 2301 266.3 2380.6 263.4 2417.5C260.5 2454.4 248.9 2491.4 228.6 2502.8C208.3 2514.1 160.7 2505.6 141.6 2485.7C122.5 2465.8 119.6 2414.7 113.8 2383.4C108 2352.1 84.8 2315.2 106.8 2298.2Z" fill="#F0B68A" stroke="#F0B68A" stroke-width="15.3" stroke-linecap="round" stroke-linejoin="round" opacity="0.4" filter="url(#b6)"/>
<path d="M96.4 2315.2C101 2305.5 124.8 2293.6 141.6 2291.3C158.4 2289.1 182.8 2291.9 197.3 2301.6C211.8 2311.2 224.5 2333.4 228.6 2349.3C232.7 2365.2 230.3 2385.7 221.6 2397C212.9 2408.4 189.7 2418.6 176.4 2417.5C163.1 2416.4 152 2401.6 141.6 2390.2C131.2 2378.9 121.3 2361.8 113.8 2349.3C106.2 2336.8 91.7 2324.9 96.4 2315.2Z" fill="#F0B68A" stroke="#F0B68A" stroke-width="37.7" stroke-linecap="round" stroke-linejoin="round" opacity="0.7" filter="url(#b6)"/>
<path d="M96.4 2315.2C101 2305.5 124.8 2293.6 141.6 2291.3C158.4 2289.1 182.8 2291.9 197.3 2301.6C211.8 2311.2 224.5 2333.4 228.6 2349.3C232.7 2365.2 230.3 2385.7 221.6 2397C212.9 2408.4 189.7 2418.6 176.4 2417.5C163.1 2416.4 152 2401.6 141.6 2390.2C131.2 2378.9 121.3 2361.8 113.8 2349.3C106.2 2336.8 91.7 2324.9 96.4 2315.2Z" fill="#C9673F" stroke="#C9673F" stroke-width="20.7" stroke-linecap="round" stroke-linejoin="round" opacity="0.9" filter="url(#b3)"/>
<path d="M96.4 2315.2C101 2305.5 124.8 2293.6 141.6 2291.3C158.4 2289.1 182.8 2291.9 197.3 2301.6C211.8 2311.2 224.5 2333.4 228.6 2349.3C232.7 2365.2 230.3 2385.7 221.6 2397C212.9 2408.4 189.7 2418.6 176.4 2417.5C163.1 2416.4 152 2401.6 141.6 2390.2C131.2 2378.9 121.3 2361.8 113.8 2349.3C106.2 2336.8 91.7 2324.9 96.4 2315.2Z" fill="#A33A22" stroke="#A33A22" stroke-width="17.9" stroke-linecap="round" stroke-linejoin="round" opacity="1" filter="url(#b2)"/>
<path d="M77.2 2322C78.1 2330 77.5 2357.3 82.4 2369.8C87.4 2382.3 96.9 2393.1 106.8 2397C116.7 2401 131.2 2394.2 141.6 2393.6C152 2393.1 164.8 2393.6 169.4 2393.6" fill="none" stroke="#F0B68A" stroke-width="12" stroke-linecap="round" stroke-linejoin="round" opacity="0.7" filter="url(#b6)"/>
<path d="M77.2 2322C78.1 2330 77.5 2357.3 82.4 2369.8C87.4 2382.3 96.9 2393.1 106.8 2397C116.7 2401 131.2 2394.2 141.6 2393.6C152 2393.1 164.8 2393.6 169.4 2393.6" fill="none" stroke="#C9673F" stroke-width="9.2" stroke-linecap="round" stroke-linejoin="round" opacity="0.9" filter="url(#b3)"/>
<path d="M77.2 2322C78.1 2330 77.5 2357.3 82.4 2369.8C87.4 2382.3 96.9 2393.1 106.8 2397C116.7 2401 131.2 2394.2 141.6 2393.6C152 2393.1 164.8 2393.6 169.4 2393.6" fill="none" stroke="#A33A22" stroke-width="6.1" stroke-linecap="round" stroke-linejoin="round" opacity="1" filter="url(#b2)"/>
<path d="M226.9 2274.3C225.7 2283.9 220.8 2312.4 219.9 2332.2C219 2352.1 221.3 2383.4 221.6 2393.6" fill="none" stroke="#F0B68A" stroke-width="37.7" stroke-linecap="round" stroke-linejoin="round" opacity="0.7" filter="url(#b6)"/>
<path d="M226.9 2274.3C225.7 2283.9 220.8 2312.4 219.9 2332.2C219 2352.1 221.3 2383.4 221.6 2393.6" fill="none" stroke="#C9673F" stroke-width="20.7" stroke-linecap="round" stroke-linejoin="round" opacity="0.9" filter="url(#b3)"/>
<path d="M226.9 2274.3C225.7 2283.9 220.8 2312.4 219.9 2332.2C219 2352.1 221.3 2383.4 221.6 2393.6" fill="none" stroke="#A33A22" stroke-width="11" stroke-linecap="round" stroke-linejoin="round" opacity="1" filter="url(#b2)"/>
<path d="M176.4 2287.9C179.3 2295.3 188 2318.6 193.8 2332.2C199.6 2345.9 208.3 2363.5 211.2 2369.8" fill="none" stroke="#F0B68A" stroke-width="34" stroke-linecap="round" stroke-linejoin="round" opacity="0.7" filter="url(#b6)"/>
<path d="M176.4 2287.9C179.3 2295.3 188 2318.6 193.8 2332.2C199.6 2345.9 208.3 2363.5 211.2 2369.8" fill="none" stroke="#C9673F" stroke-width="18.4" stroke-linecap="round" stroke-linejoin="round" opacity="0.9" filter="url(#b3)"/>
<path d="M176.4 2287.9C179.3 2295.3 188 2318.6 193.8 2332.2C199.6 2345.9 208.3 2363.5 211.2 2369.8" fill="none" stroke="#A33A22" stroke-width="9.8" stroke-linecap="round" stroke-linejoin="round" opacity="1" filter="url(#b2)"/>
<path d="M214.7 2362.9C218.7 2370.3 229.5 2390.8 239 2407.3C248.6 2423.8 266.6 2452.7 272.1 2461.8" fill="none" stroke="#F0B68A" stroke-width="28.5" stroke-linecap="round" stroke-linejoin="round" opacity="0.7" filter="url(#b6)"/>
<path d="M214.7 2362.9C218.7 2370.3 229.5 2390.8 239 2407.3C248.6 2423.8 266.6 2452.7 272.1 2461.8" fill="none" stroke="#C9673F" stroke-width="15" stroke-linecap="round" stroke-linejoin="round" opacity="0.9" filter="url(#b3)"/>
<path d="M214.7 2362.9C218.7 2370.3 229.5 2390.8 239 2407.3C248.6 2423.8 266.6 2452.7 272.1 2461.8" fill="none" stroke="#A33A22" stroke-width="10" stroke-linecap="round" stroke-linejoin="round" opacity="1" filter="url(#b2)"/>
<path d="M353.9 2281.1C348.7 2286.2 333.3 2301 322.6 2311.8C311.8 2322.6 295 2340.2 289.5 2345.9" fill="none" stroke="#F0B68A" stroke-width="52.5" stroke-linecap="round" stroke-linejoin="round" opacity="0.7" filter="url(#b6)"/>
<path d="M353.9 2281.1C348.7 2286.2 333.3 2301 322.6 2311.8C311.8 2322.6 295 2340.2 289.5 2345.9" fill="none" stroke="#C9673F" stroke-width="29.9" stroke-linecap="round" stroke-linejoin="round" opacity="0.9" filter="url(#b3)"/>
<path d="M353.9 2281.1C348.7 2286.2 333.3 2301 322.6 2311.8C311.8 2322.6 295 2340.2 289.5 2345.9" fill="none" stroke="#A33A22" stroke-width="10" stroke-linecap="round" stroke-linejoin="round" opacity="1" filter="url(#b2)"/>
<path d="M366.1 2274.3C363.4 2281.1 358.8 2302.7 350.4 2315.2C342 2327.7 321.4 2343.6 315.6 2349.3" fill="none" stroke="#C9673F" stroke-width="9.2" stroke-linecap="round" stroke-linejoin="round" opacity="0.9" filter="url(#b3)"/>
<path d="M366.1 2274.3C363.4 2281.1 358.8 2302.7 350.4 2315.2C342 2327.7 321.4 2343.6 315.6 2349.3" fill="none" stroke="#A33A22" stroke-width="4.9" stroke-linecap="round" stroke-linejoin="round" opacity="1" filter="url(#b2)"/>
<path d="M280.8 2366.3C289.5 2365.2 319.7 2358.4 333 2359.5C346.3 2360.7 356.2 2370.9 360.8 2373.2" fill="none" stroke="#F0B68A" stroke-width="26.7" stroke-linecap="round" stroke-linejoin="round" opacity="0.7" filter="url(#b6)"/>
<path d="M280.8 2366.3C289.5 2365.2 319.7 2358.4 333 2359.5C346.3 2360.7 356.2 2370.9 360.8 2373.2" fill="none" stroke="#C9673F" stroke-width="11.5" stroke-linecap="round" stroke-linejoin="round" opacity="0.9" filter="url(#b3)"/>
<path d="M221.6 2383.4C228.6 2381.7 251.8 2377.7 263.4 2373.2C275 2368.6 286.6 2359 291.2 2356.1" fill="none" stroke="#F0B68A" stroke-width="19.3" stroke-linecap="round" stroke-linejoin="round" opacity="0.7" filter="url(#b6)"/>
<path d="M221.6 2383.4C228.6 2381.7 251.8 2377.7 263.4 2373.2C275 2368.6 286.6 2359 291.2 2356.1" fill="none" stroke="#C9673F" stroke-width="9.2" stroke-linecap="round" stroke-linejoin="round" opacity="0.9" filter="url(#b3)"/>
<path d="M221.6 2383.4C228.6 2381.7 251.8 2377.7 263.4 2373.2C275 2368.6 286.6 2359 291.2 2356.1" fill="none" stroke="#A33A22" stroke-width="3.7" stroke-linecap="round" stroke-linejoin="round" opacity="1" filter="url(#b2)"/>
</g></g></svg></body></html>
